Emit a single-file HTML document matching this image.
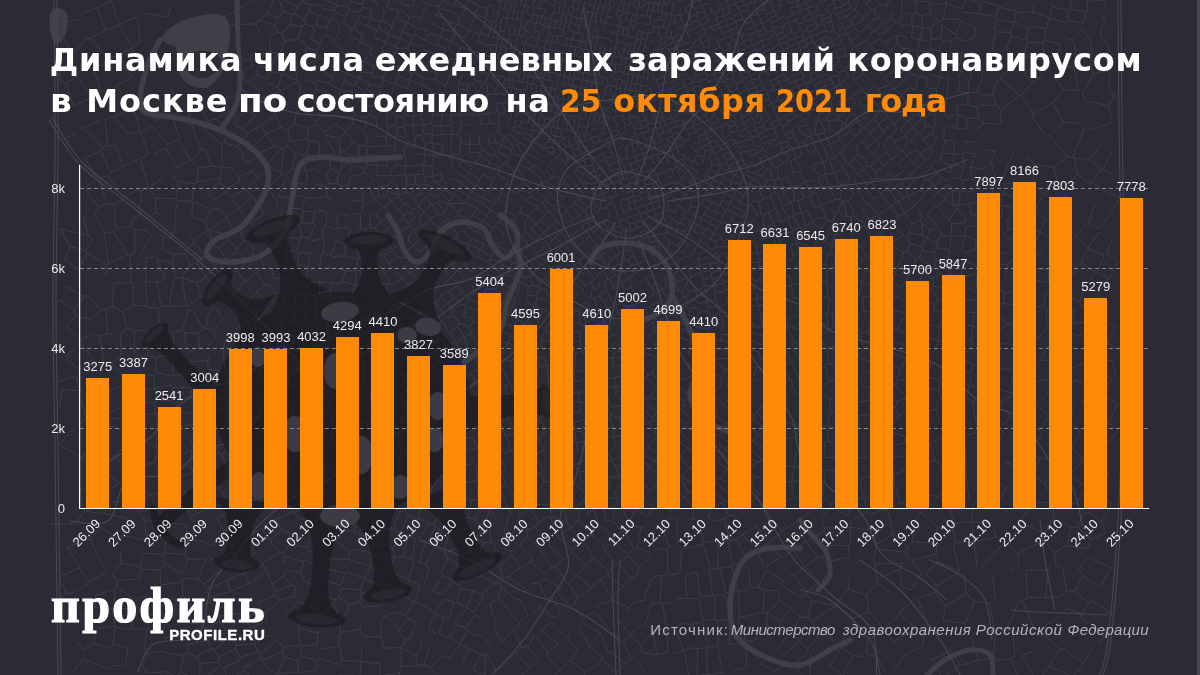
<!DOCTYPE html>
<html lang="ru"><head><meta charset="utf-8"><title>Динамика числа ежедневных заражений коронавирусом в Москве</title>
<style>
html,body{margin:0;padding:0;}
body{width:1200px;height:675px;overflow:hidden;background:#2a2b35;position:relative;font-family:"Liberation Sans",sans-serif;}
#bg,#chart{position:absolute;left:0;top:0;width:1200px;height:675px;}
.lb{font-family:"Liberation Sans",sans-serif;font-size:13px;fill:#ebebeb;}
h1{position:absolute;left:0;top:40px;width:1200px;height:82px;margin:0;font-family:"DejaVu Sans","Liberation Sans",sans-serif;font-weight:bold;font-size:32px;line-height:41px;color:#fff;white-space:nowrap;}
h1 span,.src span{position:absolute;display:block;transform-origin:0 0;}
h1 .o{color:#ff8a05;}
.logo{position:absolute;left:51.10px;top:580px;font-family:"Liberation Serif",serif;font-weight:bold;font-size:50px;line-height:50px;color:#fff;letter-spacing:2.30px;-webkit-text-stroke:1.2px #fff;white-space:nowrap;}
.site{position:absolute;left:169.2px;top:626px;font-family:"Liberation Sans",sans-serif;font-weight:bold;font-size:15px;line-height:18px;color:#fff;letter-spacing:0.53px;white-space:nowrap;-webkit-text-stroke:0.35px #fff;}
.src{position:absolute;left:0;top:621px;width:1200px;height:18px;font-family:"Liberation Sans",sans-serif;font-size:15px;line-height:18px;color:#b4b4b8;white-space:nowrap;}
.src .i{font-style:italic;}
</style></head>
<body>
<svg id="bg" viewBox="0 0 1200 675">
<g fill="#3f4047">
<path d="M180.0,22.0 C185.0,19.7 192.2,17.3 198.0,16.0 C203.8,14.7 210.5,13.8 215.0,14.0 C219.5,14.2 222.7,15.2 225.0,17.0 C227.3,18.8 228.2,21.5 229.0,25.0 C229.8,28.5 230.2,33.8 230.0,38.0 C229.8,42.2 228.8,46.3 228.0,50.0 C227.2,53.7 226.0,56.3 225.0,60.0 C224.0,63.7 224.2,67.8 222.0,72.0 C219.8,76.2 215.7,82.3 212.0,85.0 C208.3,87.7 204.0,88.2 200.0,88.0 C196.0,87.8 191.3,86.3 188.0,84.0 C184.7,81.7 181.7,78.0 180.0,74.0 C178.3,70.0 178.7,64.3 178.0,60.0 C177.3,55.7 177.7,50.7 176.0,48.0 C174.3,45.3 170.3,45.7 168.0,44.0 C165.7,42.3 162.0,40.3 162.0,38.0 C162.0,35.7 165.0,32.7 168.0,30.0 C171.0,27.3 175.0,24.3 180.0,22.0Z"/>
<path d="M50.0,14.0 C51.2,9.3 55.2,8.0 58.0,8.0 C60.8,8.0 65.7,10.0 67.0,14.0 C68.3,18.0 67.5,27.0 66.0,32.0 C64.5,37.0 60.5,43.3 58.0,44.0 C55.5,44.7 52.3,41.0 51.0,36.0 C49.7,31.0 48.8,18.7 50.0,14.0Z"/>
</g>
<path d="M186.0,56.0 C188.3,53.3 195.3,51.5 200.0,51.0 C204.7,50.5 210.5,51.3 214.0,53.0 C217.5,54.7 220.5,58.0 221.0,61.0 C221.5,64.0 219.7,68.2 217.0,71.0 C214.3,73.8 209.0,77.2 205.0,78.0 C201.0,78.8 196.2,77.8 193.0,76.0 C189.8,74.2 187.2,70.3 186.0,67.0 C184.8,63.7 183.7,58.7 186.0,56.0Z" fill="#2a2b35"/>
<g fill="none" stroke="#3f4047" stroke-linecap="round" stroke-linejoin="round">
<path d="M237.0,0.0 C237.2,6.7 237.5,26.7 238.0,40.0 C238.5,53.3 240.3,69.2 240.0,80.0 C239.7,90.8 239.0,97.0 236.0,105.0 C233.0,113.0 224.3,124.2 222.0,128.0" stroke-width="5"/>
<path d="M160.0,40.0 C157.8,44.5 150.3,57.0 147.0,67.0 C143.7,77.0 140.0,92.3 140.0,100.0 C140.0,107.7 141.5,110.2 147.0,113.0 C152.5,115.8 164.2,115.3 173.0,117.0 C181.8,118.7 191.0,120.3 200.0,123.0 C209.0,125.7 218.7,129.0 227.0,133.0 C235.3,137.0 243.3,141.3 250.0,147.0 C256.7,152.7 264.2,160.3 267.0,167.0 C269.8,173.7 268.7,180.3 267.0,187.0 C265.3,193.7 261.5,200.2 257.0,207.0 C252.5,213.8 247.0,222.5 240.0,228.0 C233.0,233.5 220.5,235.5 215.0,240.0 C209.5,244.5 205.3,251.3 207.0,255.0 C208.7,258.7 217.0,261.5 225.0,262.0 C233.0,262.5 246.7,260.8 255.0,258.0 C263.3,255.2 269.7,250.3 275.0,245.0 C280.3,239.7 284.2,233.5 287.0,226.0 C289.8,218.5 289.8,210.2 292.0,200.0 C294.2,189.8 295.0,172.2 300.0,165.0 C305.0,157.8 313.7,157.8 322.0,157.0 C330.3,156.2 337.0,160.0 350.0,160.0 C363.0,160.0 391.7,157.5 400.0,157.0" stroke-width="5.5"/>
<path d="M388.0,215.0 C389.7,217.8 395.2,225.8 398.0,232.0 C400.8,238.2 401.7,247.0 405.0,252.0 C408.3,257.0 413.5,262.3 418.0,262.0 C422.5,261.7 428.3,255.0 432.0,250.0 C435.7,245.0 435.3,236.7 440.0,232.0 C444.7,227.3 452.8,222.7 460.0,222.0 C467.2,221.3 477.7,224.2 483.0,228.0 C488.3,231.8 488.3,240.0 492.0,245.0 C495.7,250.0 500.8,258.0 505.0,258.0 C509.2,258.0 515.3,250.0 517.0,245.0 C518.7,240.0 517.8,233.0 515.0,228.0 C512.2,223.0 502.5,217.2 500.0,215.0" stroke-width="5.5"/>
<path d="M517.0,245.0 C517.5,249.2 521.5,260.8 520.0,270.0 C518.5,279.2 511.7,289.2 508.0,300.0 C504.3,310.8 504.3,325.3 498.0,335.0 C491.7,344.7 477.7,351.8 470.0,358.0 C462.3,364.2 455.0,369.7 452.0,372.0" stroke-width="5.5"/>
<path d="M590.0,262.0 C591.7,259.7 594.2,251.2 600.0,248.0 C605.8,244.8 616.3,242.7 625.0,243.0 C633.7,243.3 644.8,245.8 652.0,250.0 C659.2,254.2 664.7,260.5 668.0,268.0 C671.3,275.5 673.3,287.7 672.0,295.0 C670.7,302.3 665.3,307.5 660.0,312.0 C654.7,316.5 643.3,320.3 640.0,322.0" stroke-width="5.5"/>
<path d="M672.0,295.0 C675.0,300.8 685.3,318.3 690.0,330.0 C694.7,341.7 700.0,354.2 700.0,365.0 C700.0,375.8 689.2,385.8 690.0,395.0 C690.8,404.2 698.3,413.8 705.0,420.0 C711.7,426.2 725.8,430.0 730.0,432.0" stroke-width="5.5"/>
<path d="M800.0,548.0 C795.0,548.0 778.7,546.7 770.0,548.0 C761.3,549.3 753.8,551.2 748.0,556.0 C742.2,560.8 738.0,568.0 735.0,577.0 C732.0,586.0 729.7,600.0 730.0,610.0 C730.3,620.0 731.2,629.2 737.0,637.0 C742.8,644.8 754.5,652.3 765.0,657.0 C775.5,661.7 789.2,666.2 800.0,665.0 C810.8,663.8 821.7,654.2 830.0,650.0 C838.3,645.8 846.7,641.7 850.0,640.0" stroke-width="5.5"/>
<path d="M800.0,520.0 C802.0,522.5 807.7,529.7 812.0,535.0 C816.3,540.3 823.0,545.3 826.0,552.0 C829.0,558.7 831.3,568.7 830.0,575.0 C828.7,581.3 820.0,587.5 818.0,590.0" stroke-width="5"/>
<path d="M927.0,675.0 C930.0,672.5 937.8,664.2 945.0,660.0 C952.2,655.8 962.5,650.8 970.0,650.0 C977.5,649.2 986.2,650.8 990.0,655.0 C993.8,659.2 992.5,671.7 993.0,675.0" stroke-width="5"/>
</g>
<path d="M73.3,19.9L77.7,20.4M77.7,20.4L83.8,12.3M83.8,12.3L97.1,7.5M1102.8,637.5L1099.0,644.3M1083.2,663.6L1093.1,647.1M1064.2,648.5L1083.2,663.6M73.3,19.9L57.4,26.5M1040.3,678.6L1048.7,666.2M1048.7,666.2L1073.1,676.5M1064.2,648.5L1060.0,649.7M1083.2,664.3L1073.1,676.5M1060.0,649.7L1048.7,666.0M841.1,675.1L842.7,675.5M1111.9,503.1L1101.7,521.2M1101.7,521.2L1104.8,533.2M1117.8,430.6L1108.7,422.4M1108.7,422.4L1117.6,403.7M960.3,665.0L950.1,650.2M960.3,665.0L942.2,678.9M942.2,678.9L932.9,659.7M950.1,650.2L932.9,659.7M943.1,620.7L945.4,606.3M928.4,627.0L917.7,598.3M945.4,606.3L935.2,592.8M935.2,592.8L917.7,598.3M965.4,623.5L943.1,620.7M973.8,632.9L971.9,638.5M965.4,623.5L974.4,601.2M945.4,606.3L966.2,593.5M966.2,593.5L974.4,601.2M994.0,627.6L989.7,603.7M974.4,601.2L989.7,603.7M97.1,7.5L105.6,29.9M86.4,38.2L91.1,38.3M105.6,29.9L91.1,38.3M1033.8,650.9L1022.2,655.4M1040.3,678.6L1033.6,675.8M1022.2,655.4L1033.6,675.8M1102.8,637.5L1102.1,631.5M1081.9,618.5L1102.1,631.5M1111.2,567.7L1099.7,587.4M1093.0,600.7L1113.4,615.4M885.8,673.5L877.2,656.3M877.2,656.3L866.2,653.5M842.7,675.5L853.0,655.6M853.0,655.6L862.2,656.3M1103.5,168.9L1112.4,150.1M1103.5,168.9L1112.6,174.4M1103.5,168.9L1101.1,169.2M1106.3,191.7L1091.5,182.1M1101.1,169.2L1091.5,182.1M1106.8,342.4L1121.3,352.3M1103.1,343.1L1094.7,359.2M1094.7,359.2L1112.6,361.0M961.4,665.2L978.1,660.2M971.9,638.5L978.1,660.2M950.5,647.2L950.1,650.2M995.2,628.3L993.7,657.5M995.2,628.3L1006.8,629.0M1012.7,632.6L1006.8,629.0M1012.7,632.6L1014.8,655.3M1014.8,655.3L1011.2,658.7M1011.2,658.7L999.1,660.1M999.1,660.1L993.7,657.5M994.0,627.6L995.2,628.3M978.6,660.5L993.7,657.5M995.5,598.4L989.7,603.7M1019.0,601.1L1006.8,629.0M1033.6,675.8L1017.0,675.1M1017.0,675.1L1011.2,658.7M901.8,656.6L902.1,660.2M901.8,656.6L922.8,645.6M889.5,674.3L902.1,660.2M924.4,629.5L922.8,645.6M924.4,629.5L915.7,628.3M915.7,628.3L893.9,641.7M915.8,671.5L915.7,670.1M932.9,659.7L929.5,658.5M84.2,188.2L98.4,207.3M84.2,188.2L98.1,178.8M99.0,178.9L107.0,203.8M98.4,207.3L107.0,203.8M378.7,374.6L388.7,374.1M378.7,374.6L375.4,377.3M389.5,375.2L388.7,374.1M392.2,385.5L391.0,388.0M391.0,388.0L377.0,390.8M375.4,377.3L377.0,390.8M391.0,388.0L392.9,394.0M392.9,394.0L391.9,404.2M379.5,403.7L381.3,404.8M377.0,390.8L376.1,392.1M1108.7,422.4L1104.3,422.7M1106.5,397.8L1117.6,403.7M1106.5,397.8L1091.9,410.0M1104.3,422.7L1093.7,417.4M1091.9,410.0L1093.7,417.4M97.1,7.4L111.2,0.8M1081.9,618.5L1081.7,613.7M1093.0,600.7L1088.7,602.9M1088.7,602.9L1081.7,613.7M1099.3,587.6L1082.9,575.9M1082.9,575.9L1074.9,591.6M1088.7,602.9L1074.9,591.6M1078.9,568.3L1088.1,557.5M1066.5,545.8L1054.4,552.5M1066.5,545.8L1087.3,548.9M1063.1,568.9L1055.5,565.0M1055.5,565.0L1054.4,552.5M1111.2,567.7L1088.1,557.5M1082.9,575.9L1078.9,568.3M1074.9,591.6L1066.5,590.7M1066.5,590.7L1063.1,568.9M1091.5,539.4L1104.8,533.2M1091.5,539.4L1087.3,548.9M1119.6,197.4L1106.5,192.2M1056.3,347.1L1070.6,344.3M1056.3,347.1L1058.6,333.7M1070.6,344.3L1071.8,334.2M1071.8,334.2L1058.6,333.7M1072.6,347.4L1070.6,344.3M1084.9,348.2L1086.2,336.8M1086.2,336.8L1072.2,333.8M1072.6,347.4L1067.6,366.7M1067.6,366.7L1071.2,368.6M1084.9,348.2L1091.6,360.1M1071.2,368.6L1091.6,360.1M1105.1,394.7L1111.5,378.6M1105.1,394.7L1090.2,386.6M1111.5,378.6L1096.9,373.8M1090.2,386.6L1096.9,373.8M1106.5,397.8L1105.1,394.7M1116.1,376.4L1112.6,361.0M1092.6,360.3L1096.9,373.8M1081.7,613.7L1067.3,608.6M1051.9,622.4L1067.3,608.6M1066.5,590.7L1060.2,596.9M1027.4,597.4L1045.3,597.4M1027.4,597.4L1022.7,600.7M1022.7,600.7L1033.9,629.2M1048.9,622.4L1040.1,630.6M1033.9,629.2L1038.4,631.0M1040.1,630.6L1038.4,631.0M1026.0,570.2L1027.4,597.4M1026.0,570.2L1048.3,570.3M1048.3,570.3L1045.3,597.4M1019.0,601.1L1022.7,600.7M1012.7,632.6L1033.9,629.2M1060.2,596.9L1045.4,597.4M1051.9,622.4L1048.9,622.4M1060.0,649.7L1040.1,630.6M917.7,598.3L916.0,597.6M916.0,597.6L899.8,612.2M915.7,628.3L900.0,613.5M899.8,612.2L900.0,613.5M1007.4,264.7L1005.2,277.9M1007.4,264.7L992.3,264.7M992.3,275.6L992.3,264.7M58.8,444.7L75.4,426.9M90.2,539.9L82.7,539.0M90.2,539.9L96.9,553.7M82.7,539.0L67.8,548.3M79.2,565.7L67.8,548.3M66.9,358.9L66.8,355.0M66.8,355.0L50.6,340.2M57.4,26.5L70.9,51.5M56.1,55.5L70.9,51.5M86.4,38.2L74.5,51.8M70.9,51.5L74.5,51.8M108.0,59.8L91.1,38.3M108.0,59.8L106.6,62.4M81.9,67.7L93.9,68.9M106.6,62.4L93.9,68.9M113.7,456.6L101.6,468.8M101.6,468.8L99.8,469.3M99.8,469.3L83.1,460.7M91.7,444.2L82.2,457.6M82.2,457.6L83.1,460.7M95.4,486.1L104.8,495.6M95.4,486.1L99.8,469.3M118.2,482.6L104.8,495.6M118.2,482.6L101.6,468.8M95.4,486.1L80.2,488.7M58.8,444.7L82.2,457.6M73.0,672.8L83.2,659.3M75.5,641.5L84.2,649.4M83.2,659.3L107.2,668.9M65.9,547.9L67.8,548.3M79.2,565.7L78.8,567.8M78.8,567.8L59.1,577.1M84.2,649.4L93.3,643.7M93.3,643.7L97.4,628.2M82.7,614.3L88.3,613.9M379.5,403.7L368.4,408.1M365.2,392.6L376.1,392.1M365.2,392.6L365.0,406.7M368.4,408.1L365.0,406.7M365.2,392.6L362.7,391.1M362.7,391.1L363.4,375.8M156.7,473.3L163.7,485.6M157.3,466.0L174.6,467.1M176.2,478.9L174.6,467.1M210.8,507.4L205.4,495.3M210.8,507.4L190.5,516.6M188.8,503.9L188.0,511.8M190.5,516.6L188.0,511.8M196.9,483.3L204.7,495.0M185.7,489.6L183.7,495.1M183.7,495.1L188.8,503.9M361.3,677.8L380.0,677.1M400.8,678.6L399.4,673.1M399.4,673.1L380.5,675.8M380.5,675.8L380.0,677.1M499.5,669.3L495.7,670.1M487.2,677.4L495.7,670.1M817.6,557.2L823.1,557.6M817.6,557.2L806.2,541.8M823.1,557.6L830.2,545.0M806.2,541.8L823.9,530.8M830.2,545.0L823.9,530.8M1091.5,539.4L1077.6,527.1M1066.5,545.8L1071.3,527.6M1077.6,527.1L1071.3,527.6M108.0,59.8L118.5,54.7M105.6,29.9L107.7,30.1M1103.1,343.1L1092.7,332.4M1086.2,336.8L1092.0,332.3M1073.1,323.2L1085.9,322.0M1092.0,332.3L1085.9,322.0M1087.8,387.3L1074.5,379.6M1087.8,387.3L1082.2,403.3M1074.5,379.6L1063.8,395.9M1063.8,395.9L1075.3,404.7M1091.9,410.0L1082.2,403.3M1079.8,430.5L1068.8,422.2M1068.8,422.2L1075.3,404.7M925.4,297.9L929.2,289.3M925.4,297.9L925.8,301.0M938.2,300.1L933.7,303.1M938.2,300.1L930.6,288.8M929.2,289.3L930.6,288.8M925.8,301.0L933.7,303.1M1002.2,317.5L1006.3,323.9M1002.2,317.5L987.0,314.6M1006.3,323.9L996.4,334.2M990.9,334.2L996.4,334.2M1058.6,333.7L1051.7,325.8M1073.0,323.3L1058.8,320.2M1051.7,325.8L1058.8,320.2M1043.5,305.9L1031.1,307.6M1043.5,305.9L1046.0,308.4M1031.1,307.6L1030.1,317.4M1046.8,323.1L1046.0,308.4M1106.8,342.4L1116.3,326.6M1092.7,332.4L1105.9,321.0M1116.3,326.6L1105.9,321.0M1105.9,321.0L1103.4,313.9M1004.1,293.1L1001.3,290.0M1004.1,293.1L1017.4,289.7M1018.1,282.0L1017.4,289.7M1012.3,260.0L1013.8,260.1M1013.8,260.1L1020.4,254.1M1020.4,254.1L1022.2,241.5M1007.6,239.6L1022.2,241.5M992.0,252.0L986.9,258.4M992.0,252.0L1007.3,253.3M1007.4,264.7L1012.3,260.0M50.3,524.4L74.9,523.8M74.9,523.8L85.3,510.7M80.2,488.7L82.1,506.9M90.2,539.9L100.5,526.7M99.8,513.7L85.3,510.7M100.5,513.1L105.2,501.9M104.8,495.6L105.2,501.9M100.5,526.7L118.9,538.6M117.5,545.9L118.9,538.6M118.2,482.6L125.7,481.7M105.2,501.9L128.6,501.0M128.6,501.0L125.7,481.7M115.4,455.9L113.7,456.6M115.4,455.9L129.8,477.7M167.4,508.7L188.0,511.8M167.1,508.2L166.2,496.5M163.7,485.6L162.6,491.8M139.3,480.9L148.2,495.3M162.6,491.8L148.2,495.3M120.4,563.2L140.3,566.5M120.4,563.2L120.9,551.7M142.7,553.5L140.3,566.5M66.8,355.0L80.7,343.4M66.1,326.1L81.2,340.7M98.4,207.3L93.9,214.0M98.1,178.8L84.9,158.5M130.5,477.5L136.6,467.0M136.6,467.0L155.7,462.2M97.4,628.2L114.6,626.4M88.3,613.9L94.9,607.3M94.9,607.3L114.0,609.2M114.6,626.4L114.8,609.8M132.2,629.0L146.7,629.2M132.2,629.0L132.1,607.8M149.4,616.5L135.0,605.4M149.4,616.5L147.4,628.8M132.1,607.8L135.0,605.4M159.0,611.2L159.4,597.9M159.0,611.2L168.9,618.4M172.9,617.9L177.1,600.2M177.1,600.2L159.4,597.9M149.4,616.5L159.0,611.2M147.4,628.8L160.8,633.1M160.8,633.1L168.9,618.4M176.0,676.1L163.4,670.9M160.1,672.9L163.4,670.9M145.6,671.9L160.1,672.9M176.0,676.1L180.9,672.7M180.9,672.7L194.7,677.9M144.7,649.8L146.7,629.2M144.7,649.8L147.8,653.2M147.8,653.2L162.6,651.4M180.9,672.7L183.2,655.2M183.2,655.2L163.7,652.5M147.8,653.2L142.6,665.4M142.6,665.4L145.6,671.9M162.6,651.4L163.7,652.5M299.9,672.7L316.0,670.2M276.5,674.9L277.6,674.1M299.9,672.7L298.7,671.6M277.6,674.1L298.7,671.6M93.3,643.7L109.5,647.4M107.2,668.9L111.6,665.5M111.6,665.5L124.1,666.0M125.8,664.8L124.1,666.0M96.9,553.8L107.4,572.6M120.4,563.2L112.4,574.0M78.8,567.8L88.8,582.2M107.4,572.6L88.8,582.2M94.9,607.3L95.0,595.8M114.0,609.2L114.9,588.9M95.0,595.8L114.9,588.9M51.8,606.9L66.5,592.3M66.5,592.3L71.4,593.6M59.1,577.1L66.5,592.3M82.7,614.3L80.1,611.3M88.4,583.9L71.4,593.6M389.5,375.2L405.1,375.1M391.4,366.1L402.1,362.8M178.6,462.5L177.7,455.8M178.6,462.5L190.0,466.8M177.7,455.8L191.8,450.5M190.0,466.8L191.8,450.5M352.5,395.5L342.5,396.3M342.5,396.3L341.5,410.8M355.3,409.5L343.4,412.1M365.0,406.7L355.8,408.9M354.7,392.9L352.5,395.5M359.4,423.8L355.3,409.5M359.4,423.8L344.4,425.8M344.4,425.8L343.4,412.1M331.5,411.1L341.5,410.8M331.5,411.1L327.6,399.3M342.5,396.3L340.7,394.9M205.4,495.3L218.5,486.9M226.1,498.0L218.5,486.9M248.0,502.4L242.5,490.3M247.9,502.6L234.3,509.3M234.3,509.3L227.6,498.4M227.6,498.4L238.9,489.1M242.5,490.3L238.9,489.1M227.6,498.4L226.1,498.0M218.5,486.9L219.0,484.8M508.2,485.9L514.7,498.0M506.3,485.7L499.7,488.7M508.1,507.9L499.7,488.7M361.3,677.8L359.9,675.3M359.9,675.3L339.0,674.9M495.7,670.1L486.0,653.8M485.2,654.0L484.8,675.8M487.1,677.4L484.8,675.8M480.5,654.8L473.2,669.8M480.5,654.8L485.2,654.0M484.8,675.8L473.2,669.8M461.8,663.4L468.8,649.1M449.4,658.8L459.6,644.4M468.8,649.1L459.9,644.4M470.9,648.7L468.8,649.1M476.1,635.8L467.3,630.2M467.3,630.2L459.9,644.4M423.8,664.9L429.0,647.8M423.8,664.9L431.0,667.4M431.0,667.4L442.7,655.4M684.2,650.8L689.1,676.0M684.2,650.8L692.9,647.6M697.2,675.3L697.6,648.6M697.2,675.3L689.1,676.0M697.6,648.6L692.9,647.6M841.1,675.1L830.0,665.4M830.0,665.4L826.4,665.7M853.0,655.6L841.4,647.5M830.0,665.4L841.4,647.5M499.5,669.3L507.5,660.8M519.9,677.9L520.2,676.6M520.2,676.6L529.9,667.7M537.8,660.8L531.0,667.5M938.2,300.1L944.9,300.2M945.9,287.9L933.3,286.1M933.3,286.1L930.6,288.8M946.3,288.6L944.9,300.2M934.1,311.5L933.7,303.1M934.1,311.5L943.9,312.4M945.6,311.1L943.9,312.4M945.6,311.1L945.7,301.1M945.7,301.1L944.9,300.2M826.4,561.8L849.4,557.4M830.2,545.0L848.2,545.8M849.4,557.4L848.2,545.8M850.3,527.4L850.6,542.0M850.3,527.4L824.6,528.1M824.6,528.1L823.9,530.8M848.2,545.8L850.6,542.0M901.8,586.7L900.3,568.7M900.3,568.7L877.3,579.9M889.3,592.7L877.9,582.7M877.9,582.7L877.3,579.9M911.3,589.9L901.8,586.7M850.6,527.1L874.0,531.0M875.4,544.8L874.0,531.0M935.2,592.8L936.5,585.8M966.2,593.5L964.2,573.6M936.5,585.8L959.9,572.0M911.3,589.9L921.8,572.5M900.3,568.7L902.5,563.5M907.2,557.9L911.4,560.7M911.4,560.7L921.8,572.5M936.5,585.8L925.5,573.2M1054.4,552.5L1044.2,540.5M1071.3,527.6L1053.7,518.3M1053.7,518.3L1044.2,532.8M1044.2,540.5L1044.2,532.8M944.6,399.8L956.0,411.3M944.6,399.8L954.0,393.2M954.0,393.2L965.4,398.4M956.0,411.3L965.4,398.4M388.8,362.2L389.6,352.3M389.6,352.3L381.5,351.7M381.5,351.7L377.1,360.3M378.7,374.6L375.3,361.2M391.4,366.1L388.8,362.2M306.0,471.3L307.2,458.4M319.3,477.0L315.7,478.6M319.3,477.0L324.2,464.4M323.6,462.9L307.2,458.4M870.8,514.1L867.1,512.5M850.6,527.1L851.5,520.3M874.0,531.0L874.8,529.5M867.1,512.5L851.5,520.3M870.8,514.1L885.6,508.9M885.6,508.9L879.2,494.3M867.1,512.5L864.8,498.5M879.2,494.3L864.8,498.5M949.6,274.7L961.1,276.4M949.4,274.6L949.6,261.2M961.1,276.4L963.0,260.5M949.6,261.2L962.7,260.0M976.7,265.9L963.0,260.5M975.6,273.7L962.2,277.3M983.5,258.6L975.4,249.7M975.4,249.7L964.4,252.8M945.9,287.9L949.6,274.7M933.3,286.1L933.0,279.2M940.5,273.5L933.0,279.2M117.4,84.8L131.6,78.2M118.8,54.6L131.6,78.2M142.5,98.9L156.5,94.1M588.3,127.2L588.4,119.9M595.1,114.0L591.8,113.6M595.1,114.0L594.0,121.5M588.5,119.9L591.8,113.6M588.3,127.2L586.8,127.7M586.8,127.7L582.6,126.5M585.1,119.5L580.0,118.2M580.0,118.2L577.7,125.0M582.4,126.5L579.0,126.1M579.0,126.1L577.7,125.0M1101.1,169.2L1089.7,159.1M1101.2,144.7L1089.7,159.1M1112.6,121.4L1093.4,129.9M1088.9,183.0L1091.5,182.1M1088.9,183.0L1077.5,174.4M1089.7,159.1L1074.2,158.2M1077.5,174.4L1074.2,158.2M1068.2,192.4L1066.2,185.6M1077.5,174.4L1066.2,185.6M1093.4,129.9L1084.5,127.4M1084.5,127.4L1072.8,157.0M1074.2,158.2L1072.8,157.0M1043.7,193.5L1056.9,180.8M1043.7,193.5L1058.6,203.2M1068.2,192.4L1058.6,203.2M1066.2,185.6L1056.9,180.8M1072.8,157.0L1067.4,156.9M1056.9,180.8L1053.6,167.1M1053.6,167.1L1067.4,156.9M1072.1,-3.5L1069.6,8.9M1051.6,3.3L1052.8,7.0M1069.6,8.9L1068.3,10.3M1068.3,10.3L1052.8,7.0M1069.6,8.9L1086.2,12.0M1068.3,10.3L1068.3,20.7M1086.2,12.0L1083.0,23.7M1083.0,23.7L1068.3,20.7M1101.3,27.8L1105.5,22.4M1101.3,27.8L1100.4,37.3M1100.4,37.3L1107.0,42.9M1108.4,66.7L1105.6,55.3M1108.9,50.4L1105.6,55.3M1110.4,75.2L1106.9,70.8M1106.9,70.8L1108.4,66.7M1107.0,42.9L1108.9,50.4M945.6,311.1L957.2,316.0M943.9,312.4L940.6,326.0M940.6,326.0L947.1,326.9M971.6,339.6L959.0,338.2M971.6,339.6L972.7,326.5M959.0,338.2L958.5,324.5M958.5,324.5L972.1,325.8M947.1,326.9L951.2,341.7M956.3,340.7L951.2,341.7M956.3,340.7L959.0,338.2M974.8,312.8L972.1,325.8M974.8,312.8L961.0,311.7M961.0,311.7L957.2,316.0M1010.0,324.1L1016.3,332.0M1010.0,324.1L1015.6,319.2M1015.6,319.2L1028.7,318.8M1028.7,318.8L1028.8,328.9M1016.3,332.0L1028.8,328.9M1010.0,324.1L1006.3,323.9M1002.2,343.0L1017.7,345.1M1016.3,332.0L1017.7,345.1M1118.0,261.5L1109.6,278.6M1088.9,311.5L1085.2,306.5M1085.2,306.5L1099.5,295.9M1103.4,313.9L1108.5,303.0M1099.5,295.9L1108.5,303.0M1018.1,282.0L1020.2,280.1M1013.8,260.1L1020.8,267.8M1045.2,295.1L1053.4,287.6M1048.5,282.3L1034.7,280.1M1033.0,292.6L1033.0,281.4M1034.7,280.1L1033.0,281.4M1030.8,307.3L1016.5,305.0M1030.8,307.3L1030.4,294.9M1030.4,294.9L1019.1,292.5M1015.6,319.2L1016.5,305.0M1043.5,305.9L1045.2,295.1M1017.4,289.7L1019.1,292.5M1020.2,280.1L1033.0,281.4M1004.3,303.6L1004.1,293.1M1004.3,303.6L1016.3,304.8M1118.0,261.5L1106.7,254.1M1106.7,254.1L1112.1,239.5M115.4,455.9L118.6,451.3M104.7,431.8L92.0,442.7M104.7,431.8L105.5,428.9M77.8,426.4L85.7,418.1M105.5,428.9L85.7,418.1M81.5,401.4L86.1,415.6M86.1,415.6L85.7,418.1M59.7,407.5L62.3,389.4M141.8,539.4L123.0,535.6M145.8,534.5L145.2,521.0M123.0,535.6L127.1,518.2M145.2,521.0L138.6,511.3M118.9,538.6L123.0,535.6M165.3,521.0L145.2,521.0M165.3,521.0L166.1,522.5M164.4,537.9L145.8,534.5M100.5,513.1L127.1,518.2M167.4,508.7L165.3,521.0M167.1,508.2L138.6,511.3M128.6,501.0L137.1,510.5M148.2,495.3L137.7,510.6M234.3,509.3L233.9,510.6M233.9,510.6L217.3,517.5M164.5,564.4L163.5,554.2M164.5,564.4L182.7,573.2M182.7,573.2L187.8,559.4M164.4,553.0L185.0,554.2M187.8,559.4L185.0,554.2M143.0,553.2L163.5,554.2M165.7,539.7L164.4,537.9M165.7,539.7L164.4,553.0M140.3,566.5L141.1,569.1M164.5,564.4L160.1,570.0M160.1,570.0L141.1,569.1M239.8,523.8L223.8,531.3M217.3,517.5L217.0,519.7M217.0,519.7L223.8,531.3M66.1,326.1L75.3,316.4M81.2,340.7L93.1,333.4M91.5,319.5L75.3,316.4M103.1,147.7L101.0,150.9M103.1,147.7L83.6,128.1M101.0,150.9L85.0,158.3M83.6,128.1L79.6,128.2M75.9,133.7L65.1,138.2M100.5,90.5L110.4,90.1M100.5,90.5L92.6,96.2M92.6,96.2L92.0,97.4M105.1,119.3L114.2,116.8M93.9,68.9L100.5,90.5M117.4,84.8L116.6,86.2M116.6,86.2L110.4,90.1M81.9,67.7L77.0,76.5M77.0,76.5L92.6,96.2M116.6,86.2L132.5,106.4M132.5,106.4L114.5,116.4M103.1,147.7L107.8,145.3M83.6,128.1L103.0,119.0M107.8,145.3L105.1,119.3M142.5,98.9L139.1,103.5M133.5,106.4L139.1,103.5M228.6,635.6L214.7,650.2M233.4,639.2L235.7,645.3M235.7,645.3L235.4,649.1M235.4,649.1L218.9,657.1M214.7,650.2L218.9,657.1M219.4,616.1L239.7,613.1M219.4,616.1L219.4,621.7M240.9,616.4L239.7,613.1M240.9,616.4L227.1,631.8M227.1,631.8L219.4,621.7M250.9,627.6L246.1,620.3M250.9,627.6L250.7,629.4M228.6,635.6L227.2,632.8M235.7,645.3L254.8,643.8M255.5,639.3L254.8,643.8M276.5,674.9L265.2,665.8M177.0,619.9L178.7,622.1M198.7,621.1L194.5,609.6M198.7,621.1L198.5,623.7M191.6,607.7L194.5,609.6M178.7,622.1L198.5,623.7M163.9,638.6L179.9,634.5M229.4,678.5L226.5,676.1M250.8,677.1L244.4,670.6M229.4,678.5L244.4,670.6M329.5,544.4L311.8,536.3M326.6,553.9L307.4,550.8M311.8,536.3L306.7,548.1M317.5,523.7L311.8,536.3M317.5,523.7L336.5,529.4M335.1,540.3L329.5,544.4M335.1,540.3L336.8,530.2M291.9,621.0L304.6,603.7M304.6,603.7L298.7,602.4M291.2,620.6L287.5,614.1M298.7,602.4L287.5,614.1M113.0,644.9L127.7,647.3M113.0,644.9L115.2,627.2M131.1,629.8L115.2,627.2M129.9,645.6L127.7,647.3M125.8,664.8L127.7,647.3M109.5,647.4L113.0,644.9M114.8,609.8L132.1,607.8M116.6,580.5L116.2,586.6M116.6,580.5L138.8,578.8M116.2,586.6L136.3,600.9M140.0,580.9L138.8,578.8M140.2,596.6L136.3,600.9M112.4,574.0L116.6,580.5M141.1,569.1L138.8,578.8M160.6,583.4L160.1,570.0M161.6,584.8L159.4,597.9M161.6,584.8L160.6,583.4M159.4,597.9L140.2,596.6M418.1,383.7L415.0,374.2M418.1,383.7L417.0,385.8M417.0,385.8L406.8,387.8M415.0,374.2L405.3,375.2M405.3,375.2L403.7,384.7M426.8,371.1L418.1,368.9M428.9,381.9L418.1,383.7M418.1,368.9L415.0,374.2M392.2,385.5L403.7,384.7M392.9,394.0L405.8,394.0M405.8,394.0L406.8,387.8M256.1,272.6L246.5,281.1M256.7,272.6L265.3,284.9M257.2,291.6L265.3,284.9M262.0,259.9L263.4,266.8M276.3,265.5L272.0,269.5M256.7,272.6L263.4,266.8M273.3,277.9L272.0,269.5M268.7,284.6L265.3,284.9M246.0,261.9L237.3,271.2M246.5,281.1L244.7,281.1M237.3,271.2L244.7,281.1M330.3,412.4L332.0,427.5M330.3,412.4L331.5,411.1M339.8,470.7L339.4,458.3M339.8,470.7L350.7,471.3M339.4,458.3L349.8,457.5M337.7,472.2L339.8,470.7M337.7,472.2L324.2,464.4M336.2,456.6L339.4,458.3M293.9,475.2L288.0,466.8M293.4,479.1L277.7,485.9M277.2,485.6L274.2,473.7M274.2,473.7L288.0,466.8M327.6,399.3L324.6,397.2M338.1,382.4L326.7,384.0M324.6,397.2L326.7,384.0M271.9,354.2L276.2,356.0M276.2,356.0L279.5,367.7M261.2,367.4L278.6,368.6M279.5,367.7L278.6,368.6M204.8,462.2L213.3,471.6M204.8,462.2L192.6,469.5M197.1,481.9L192.5,472.4M197.1,481.9L212.9,475.2M212.9,475.2L213.3,471.6M192.6,469.5L192.5,472.4M196.9,483.3L197.1,481.9M176.8,479.0L192.5,472.4M225.7,464.1L233.8,475.1M233.8,475.1L232.7,479.1M174.6,467.1L178.6,462.5M190.0,466.8L192.6,469.5M277.2,485.6L264.2,492.1M264.2,492.1L256.6,481.1M268.8,470.8L256.6,481.1M248.0,502.4L263.6,495.5M264.2,492.1L263.6,495.5M256.6,481.1L254.6,480.5M204.9,461.9L218.6,452.9M204.9,461.9L200.1,451.3M200.1,451.3L212.5,441.5M218.6,452.9L213.7,442.0M213.7,442.0L212.5,441.5M221.6,454.6L225.7,463.6M221.6,454.6L218.6,452.9M191.8,450.5L193.2,448.9M193.2,448.9L200.1,451.3M193.2,448.9L190.6,441.0M190.6,441.0L193.1,437.2M210.8,438.8L212.5,441.5M235.7,444.1L221.6,454.6M235.7,444.1L229.8,435.0M226.6,408.9L227.3,399.7M226.6,408.9L210.9,411.2M210.9,411.2L208.1,400.8M209.2,399.1L208.1,400.8M209.2,399.1L226.0,398.0M226.0,398.0L227.3,399.7M209.6,413.4L209.7,424.1M209.1,424.9L194.3,425.6M191.7,413.4L193.6,411.0M194.9,401.4L193.6,411.0M194.9,401.4L208.1,400.8M193.1,437.2L194.3,425.6M210.8,438.8L209.1,424.9M470.9,648.7L480.5,654.8M490.4,649.4L491.0,646.5M479.6,635.0L476.1,635.8M479.6,635.0L483.7,636.5M483.7,636.5L491.0,646.5M445.7,675.4L454.5,678.8M461.8,663.4L462.9,665.0M441.0,677.4L433.9,673.3M445.7,675.4L441.0,677.4M431.0,667.4L433.9,673.3M442.7,655.4L449.1,658.8M668.0,652.0L657.0,654.5M656.0,657.1L656.2,655.2M683.8,650.7L672.6,653.5M683.8,650.7L674.7,627.7M674.7,627.7L666.9,628.1M666.5,628.4L668.0,652.0M653.0,630.6L666.5,628.4M653.0,630.6L652.5,633.0M652.5,633.0L657.0,654.5M652.5,633.0L640.6,645.1M642.1,652.3L640.6,645.1M642.1,652.3L656.2,655.2M810.1,677.2L810.9,653.5M804.1,676.8L793.4,665.2M804.1,676.8L810.1,677.2M793.4,665.2L808.3,651.8M841.4,647.5L839.8,643.4M744.6,642.4L747.2,667.0M744.6,642.4L729.8,644.8M747.2,667.0L737.0,669.5M734.0,671.8L737.0,669.5M717.4,646.5L722.5,672.0M717.4,646.5L708.5,646.8M707.0,647.6L708.5,646.8M707.0,647.6L707.3,674.0M722.5,672.0L710.6,674.9M707.3,674.0L710.6,674.9M698.0,675.5L707.3,674.0M697.6,648.6L707.0,647.6M724.3,672.6L722.5,672.0M708.5,646.8L702.3,622.0M689.9,624.7L702.3,622.0M781.7,531.1L796.2,521.8M781.7,531.1L781.2,532.5M796.2,521.8L805.7,541.7M805.7,541.7L794.8,548.6M794.1,575.7L804.4,567.1M794.1,575.7L806.7,591.8M806.7,591.8L819.6,582.3M819.6,582.3L804.9,567.1M817.6,557.2L804.9,567.1M794.1,550.2L804.4,567.1M794.1,550.2L794.8,548.6M769.2,542.5L780.4,557.4M769.2,542.5L781.2,532.5M794.1,550.2L781.5,557.8M794.1,575.7L788.5,575.9M618.0,619.7L630.3,634.1M630.3,634.1L641.2,624.8M653.0,630.6L645.1,624.4M630.3,634.1L629.9,635.3M629.9,635.3L640.6,645.1M634.3,658.1L644.8,671.0M1003.7,304.2L989.1,302.9M1001.3,290.0L990.4,290.1M989.1,302.9L990.4,290.1M987.0,314.6L982.9,308.7M986.3,327.8L972.7,326.5M974.8,312.8L980.7,308.5M982.9,308.7L980.7,308.5M963.2,286.4L974.7,291.0M963.2,286.4L959.5,290.7M959.5,290.7L959.9,300.7M974.2,299.1L960.3,301.2M962.2,277.3L963.2,286.4M961.0,311.7L960.3,301.2M980.7,308.5L974.2,299.1M1068.8,422.2L1062.9,422.8M1062.9,422.8L1053.2,415.8M1063.8,395.9L1061.6,396.0M1061.6,396.0L1053.2,415.8M826.4,561.8L828.5,571.5M828.5,571.5L821.7,582.1M870.9,612.6L883.8,629.2M869.0,612.1L853.1,618.5M868.0,640.2L883.8,630.8M868.0,640.2L853.0,626.3M853.0,626.3L853.1,618.5M866.4,595.2L869.0,612.1M866.4,595.2L877.9,582.7M900.0,613.5L883.8,629.2M866.2,653.5L868.0,640.2M893.9,641.7L883.8,630.8M839.8,643.4L853.0,626.3M877.1,579.7L875.2,563.8M875.2,563.8L873.2,560.0M902.5,563.5L875.2,563.8M866.4,595.2L848.0,589.2M848.0,589.2L849.9,577.4M875.2,545.7L876.4,548.7M876.4,548.7L873.2,560.0M906.3,552.4L907.2,557.9M906.3,552.4L876.4,548.7M838.1,601.2L848.0,589.2M807.7,514.3L799.8,498.5M808.9,514.3L815.1,497.5M799.8,498.5L808.1,490.9M796.4,521.4L807.7,514.3M824.6,528.1L821.2,518.6M995.5,598.4L992.2,574.8M1044.2,540.5L1017.7,553.5M1017.7,553.5L1018.8,564.7M1010.2,571.0L1018.8,564.7M937.0,546.5L936.1,554.3M936.1,554.3L938.7,562.1M953.4,545.3L959.5,571.5M959.5,571.5L938.7,562.1M911.4,560.7L936.1,554.3M925.5,573.2L938.7,562.1M1027.7,449.4L1017.7,440.1M1028.4,452.2L1017.0,466.6M1017.0,466.6L1005.0,461.8M1017.7,440.1L1014.0,440.6M955.6,542.3L952.4,525.1M955.6,542.3L953.4,545.3M952.4,525.1L937.7,527.2M937.0,546.5L934.1,543.0M934.1,543.0L937.7,527.2M1079.8,430.5L1080.3,432.8M1080.3,432.8L1071.6,447.6M1062.9,422.8L1053.7,440.4M1071.6,447.6L1066.0,448.4M1005.4,488.4L1007.3,488.1M1005.4,488.4L992.2,476.2M1017.0,466.6L1018.7,470.5M335.1,482.3L348.0,486.0M335.1,482.3L332.2,483.7M332.2,483.7L329.6,497.4M348.1,486.3L343.0,500.9M343.0,500.9L333.8,504.8M329.6,497.4L331.7,504.0M354.1,476.0L353.5,474.1M353.5,474.1L350.7,471.3M319.3,477.0L332.2,483.7M315.7,478.6L311.3,488.8M311.3,488.8L329.6,497.4M363.0,495.8L359.1,506.0M363.0,495.8L348.1,486.3M359.1,506.0L343.0,500.9M368.0,519.3L360.2,509.9M368.0,519.3L357.7,534.0M357.7,534.0L355.2,531.9M355.2,531.9L353.7,516.5M353.7,516.5L360.2,509.9M339.7,517.9L353.7,516.5M336.8,530.2L355.2,531.9M339.7,517.9L333.8,504.8M359.1,506.0L360.2,509.8M277.7,485.9L285.1,497.4M285.1,497.4L298.9,490.1M298.9,490.1L305.7,493.2M815.1,497.5L822.6,496.2M808.6,483.9L823.5,484.8M822.6,496.2L823.5,484.8M925.7,272.8L933.0,279.2M925.7,272.8L923.2,273.5M923.2,273.5L918.1,284.0M925.4,297.9L913.4,294.2M918.4,284.7L913.3,293.7M769.3,515.7L781.7,531.1M643.2,355.5L641.7,356.7M643.2,355.5L646.1,347.1M646.1,347.1L641.4,339.6M636.2,343.5L641.2,356.9M636.2,343.5L641.4,339.6M629.9,366.5L629.9,368.6M638.3,358.9L647.9,375.1M647.9,375.1L645.9,377.6M629.9,368.6L645.6,377.7M651.4,393.5L656.8,389.1M645.9,377.6L657.1,388.3M645.6,377.7L641.3,384.3M629.9,368.6L627.5,374.6M637.6,386.1L641.3,384.3M402.1,362.8L403.0,361.7M418.1,368.9L416.9,364.4M416.9,364.4L403.0,361.7M170.8,5.4L168.2,17.4M146.5,13.2L168.2,17.4M607.8,185.1L613.0,182.9M607.8,185.1L608.7,190.6M613.1,183.0L615.6,189.0M620.1,181.1L622.0,187.1M620.1,181.1L613.1,183.0M622.0,187.1L615.6,189.0M623.7,192.1L622.4,187.4M617.7,195.7L616.5,195.2M616.5,195.2L615.4,189.5M553.0,153.5L543.5,149.8M553.0,153.5L553.9,150.1M553.9,150.1L553.0,147.1M553.0,147.1L543.6,148.4M543.6,148.4L543.5,149.8M262.0,259.9L252.6,255.3M246.3,259.4L252.6,255.3M647.4,-5.0L644.9,0.7M644.9,0.7L640.9,-0.8M270.1,108.9L275.6,113.5M269.7,107.4L280.4,92.3M280.4,92.3L284.3,97.4M284.3,97.4L284.8,108.2M275.6,116.6L275.6,113.5M275.6,116.6L260.8,124.6M275.6,116.6L280.8,127.2M280.8,127.2L266.3,133.6M266.3,133.6L260.9,125.6M269.7,107.4L262.2,100.2M280.1,91.1L262.1,98.0M280.1,91.1L280.4,92.3M262.1,98.0L262.2,100.2M660.6,-3.5L656.4,-4.3M647.4,-5.0L650.9,-4.8M547.8,141.9L551.3,134.8M547.8,141.9L545.6,142.5M606.8,138.6L613.2,137.1M611.3,131.1L613.2,137.1M610.8,109.6L615.8,110.2M615.8,110.2L615.8,116.5M615.8,116.5L614.4,118.1M609.7,116.6L614.4,118.1M623.8,119.0L622.4,115.7M622.4,115.7L615.8,116.5M614.4,118.1L615.8,122.9M615.4,141.9L609.6,144.9M606.6,139.1L609.6,144.9M558.6,144.1L554.8,142.9M558.6,144.1L562.7,138.0M554.8,142.9L555.4,136.2M562.7,138.0L561.0,136.6M561.0,136.6L555.4,136.2M554.3,143.1L547.8,141.9M551.3,134.8L555.2,136.0M579.0,126.1L577.1,132.5M577.1,132.5L580.4,134.6M591.9,128.1L593.0,129.2M586.8,127.7L586.1,133.8M590.3,134.7L586.1,133.8M582.2,134.2L584.1,134.7M586.1,133.8L584.1,134.7M1049.3,135.3L1067.4,156.9M1049.3,135.3L1064.0,122.6M1064.0,122.6L1080.9,123.0M1052.6,102.8L1064.0,122.6M1032.8,118.2L1045.8,135.4M1032.8,118.2L1033.7,113.8M1033.7,113.8L1051.7,102.9M1044.4,40.6L1042.7,42.5M1044.4,40.6L1059.8,44.2M1042.7,42.5L1045.0,56.6M1045.0,56.6L1057.7,56.2M1059.8,44.2L1057.7,56.2M1061.0,66.9L1057.9,56.5M1041.9,59.8L1045.0,56.6M1041.9,59.8L1023.2,56.1M1042.7,42.5L1027.7,42.5M1023.2,56.1L1027.7,42.5M1049.4,18.2L1066.3,22.7M1049.4,18.2L1046.0,28.6M1052.8,7.0L1049.2,17.4M1068.3,20.7L1066.3,22.7M1044.4,40.6L1046.0,28.6M1104.1,-0.0L1087.6,1.6M1104.1,-0.0L1105.7,7.7M1087.6,1.6L1087.6,10.6M1086.2,12.0L1087.6,10.6M1105.5,22.4L1102.7,14.8M1086.8,0.1L1087.6,1.6M1065.8,38.2L1071.0,39.9M1082.7,28.4L1071.0,39.9M1049.2,17.4L1032.1,12.0M1031.6,26.6L1046.0,28.6M934.1,311.5L931.1,313.7M925.8,301.0L921.6,307.3M921.6,307.3L922.2,309.7M913.4,294.2L910.3,302.9M921.6,307.3L910.3,302.9M1012.1,369.5L993.5,368.6M997.2,357.2L991.1,362.5M1002.2,343.0L997.2,357.2M1017.7,345.1L1021.9,349.7M1021.9,349.7L1014.8,356.0M1028.8,328.9L1036.8,337.7M1021.9,349.7L1023.8,350.0M1023.8,350.0L1036.8,337.7M1051.7,325.8L1048.4,325.5M1048.4,325.5L1038.8,337.4M1056.2,347.3L1047.2,346.4M1048.4,325.5L1046.8,323.1M1038.8,337.4L1036.8,337.7M1108.0,278.5L1098.5,292.9M1108.0,278.5L1097.4,272.2M1095.2,272.4L1085.8,286.1M1098.5,292.9L1085.8,286.1M1099.5,295.9L1098.5,292.9M1104.1,255.0L1097.4,272.2M1081.9,263.0L1095.2,272.4M1081.9,263.0L1069.6,278.4M1085.8,286.1L1083.6,286.8M992.0,252.0L992.2,241.8M1007.6,239.6L1003.7,234.7M992.2,241.8L999.2,234.3M1001.5,205.4L1013.5,207.2M1001.5,205.4L1002.6,216.0M1007.8,217.9L1017.4,212.1M1017.4,212.1L1013.5,207.2M1033.1,184.7L1031.1,185.6M1033.1,184.7L1034.8,164.8M1031.1,185.6L1015.6,182.7M1034.8,164.8L1027.1,155.8M1043.5,193.5L1033.1,184.7M1053.6,167.1L1034.8,164.8M1023.5,195.4L1031.1,185.6M1023.5,195.4L1014.4,195.4M1014.9,183.3L1014.4,195.4M1008.0,229.8L1007.8,217.9M1008.0,229.8L1023.3,226.1M1017.4,212.1L1024.1,213.9M1023.3,226.1L1024.1,213.9M1043.5,193.5L1035.0,210.6M1023.5,195.4L1027.7,211.5M1035.0,210.6L1027.7,211.5M1027.7,211.5L1024.1,213.9M1053.4,287.6L1058.6,288.1M1048.5,282.3L1048.0,269.4M1059.2,263.9L1051.9,264.1M1059.2,263.9L1068.3,278.5M1068.3,278.5L1058.6,288.1M1048.0,269.4L1051.9,264.1M1034.7,280.1L1034.9,268.8M1048.0,269.4L1034.9,268.8M1020.8,267.8L1033.4,266.6M1034.9,268.8L1033.4,266.6M1020.4,254.1L1036.0,255.6M1033.4,266.6L1036.0,255.6M1098.8,228.8L1110.1,215.4M1098.8,228.8L1088.7,223.1M1088.7,223.1L1094.7,205.1M1109.7,213.9L1110.1,215.4M1119.6,197.4L1109.7,213.9M83.0,398.0L81.5,401.4M86.1,415.6L106.6,407.5M106.1,404.6L106.6,407.5M83.2,393.4L80.6,390.7M80.6,390.7L75.9,375.8M78.3,369.1L96.9,364.6M96.9,364.6L101.5,365.7M62.3,389.4L80.6,390.7M58.1,381.7L75.9,375.8M66.9,358.9L78.3,369.1M80.7,343.4L96.9,364.6M104.0,364.3L99.8,336.3M93.1,333.4L99.8,336.3M285.1,497.4L284.5,500.2M284.5,500.2L270.5,506.3M247.9,502.6L254.3,515.2M270.5,506.3L254.3,515.2M240.4,524.1L254.1,517.0M254.3,515.2L254.1,517.0M232.5,544.8L244.6,533.2M232.5,544.8L234.1,547.6M250.4,536.2L244.6,533.2M250.4,536.2L252.7,545.2M252.7,545.2L252.3,547.5M240.4,524.1L244.6,533.2M222.7,539.1L223.8,531.3M222.7,539.1L232.5,544.8M214.8,561.6L219.9,569.1M214.8,561.6L234.1,551.5M234.1,551.5L237.6,561.4M209.6,557.1L214.8,561.6M210.6,546.2L222.7,539.1M234.1,547.6L234.1,551.5M240.9,563.4L237.6,561.4M240.9,563.4L254.5,553.1M254.5,553.1L252.3,547.5M206.0,558.9L198.1,579.3M206.0,558.9L187.8,559.4M198.1,579.3L184.1,578.3M161.6,584.8L182.1,581.9M184.1,578.3L182.1,581.9M177.1,600.2L183.1,596.8M182.1,581.9L183.1,596.8M191.6,607.7L187.0,599.4M187.0,599.4L183.1,596.8M220.0,570.1L204.4,584.0M227.1,580.4L206.4,589.7M204.4,584.0L206.4,589.7M198.1,579.3L204.4,584.0M240.9,563.4L244.4,572.8M244.4,572.8L227.1,580.3M204.8,525.8L190.5,518.9M205.6,542.0L187.8,539.3M186.7,525.1L186.0,536.7M210.6,546.2L205.6,542.0M190.5,516.6L190.5,518.9M185.0,554.2L187.8,539.3M166.1,522.5L186.7,525.1M165.7,539.7L186.0,536.7M74.8,311.0L83.6,296.0M74.8,311.0L59.8,299.5M83.6,296.0L66.4,286.3M63.8,286.8L66.4,286.3M49.7,308.3L59.8,299.5M75.3,316.4L74.8,311.0M109.3,363.7L111.6,363.8M111.6,363.8L120.7,355.3M120.7,355.3L120.8,333.2M104.0,364.3L109.3,363.7M99.8,336.3L107.6,333.9M107.6,333.9L112.8,334.4M64.9,260.2L78.3,269.2M78.8,271.5L78.3,269.2M122.3,167.7L110.4,172.6M107.9,175.6L123.3,198.1M123.3,198.1L137.0,190.1M101.0,150.9L110.4,172.6M115.9,145.9L107.8,145.3M115.9,145.9L123.0,166.5M123.0,166.5L122.3,167.7M99.0,178.9L107.9,175.6M107.0,203.8L114.1,204.3M114.1,204.3L122.1,200.0M73.6,105.7L66.0,83.3M71.3,110.4L67.5,110.5M61.2,82.4L66.0,83.3M77.0,76.5L66.0,83.3M92.0,97.4L73.6,105.7M56.1,55.5L61.2,82.4M140.0,131.6L127.4,134.2M140.8,131.9L147.9,153.8M147.9,153.8L140.7,159.0M139.4,159.0L140.7,159.0M114.2,116.8L127.4,134.2M133.5,106.4L140.0,131.6M123.0,166.5L139.4,159.0M137.0,190.1L141.6,190.0M141.6,190.0L148.4,188.6M148.4,188.6L140.7,159.0M118.6,451.3L126.3,447.7M136.6,467.0L134.3,453.7M126.3,447.7L134.3,453.7M155.7,462.2L156.1,451.3M171.8,376.1L156.1,372.7M171.2,385.0L154.7,388.1M154.7,388.1L153.4,375.8M147.5,333.1L160.1,333.3M147.5,333.1L147.2,355.5M160.1,333.3L160.1,356.2M160.1,356.2L156.4,358.0M156.4,358.0L147.2,355.5M220.3,665.5L218.9,662.2M220.3,665.5L205.0,677.7M218.9,662.2L200.0,663.6M200.0,663.6L199.7,675.6M205.0,677.7L199.7,675.6M223.3,667.9L226.5,676.1M214.7,650.2L211.2,648.5M211.2,648.5L196.2,657.0M218.9,657.1L218.9,662.2M196.2,657.0L200.0,663.6M194.7,677.9L199.7,675.6M183.2,655.2L186.9,652.7M186.9,652.7L196.2,657.0M188.2,643.8L207.8,640.5M207.8,640.5L208.4,636.5M208.4,636.5L204.9,628.3M204.9,628.3L198.8,624.6M186.9,652.7L188.2,643.8M179.9,634.5L187.4,640.6M211.2,648.5L207.8,640.5M227.2,632.8L208.4,636.5M219.4,621.7L204.9,628.3M244.0,667.7L261.7,657.9M257.5,651.8L260.3,654.2M257.5,651.8L240.1,657.4M240.1,657.4L239.8,660.4M260.3,654.2L261.7,657.9M223.3,667.9L239.8,660.4M244.4,670.6L244.0,667.7M265.2,665.8L263.4,660.0M263.4,660.0L261.7,657.9M274.0,634.4L255.5,639.3M277.3,640.2L260.3,654.2M254.8,643.8L257.5,651.8M235.4,649.1L240.1,657.4M373.6,521.6L383.7,528.0M373.6,521.6L367.0,536.4M383.7,528.0L372.4,540.2M372.4,540.2L367.0,536.4M367.0,536.4L357.8,534.2M335.1,540.3L350.2,551.0M327.9,558.5L326.6,553.9M327.9,558.5L348.0,559.5M350.2,551.0L348.0,559.4M346.7,614.9L349.2,604.2M349.2,604.2L359.6,602.4M362.7,607.0L359.6,602.4M360.4,589.9L341.8,588.2M360.4,589.9L361.6,593.2M361.6,593.2L359.6,602.4M341.8,588.2L338.9,597.3M338.9,597.3L349.2,604.2M361.6,593.2L382.0,595.4M381.7,605.8L362.7,607.0M381.7,605.8L382.7,597.5M382.0,595.4L382.7,597.5M320.8,618.6L338.4,620.3M338.4,620.3L340.6,632.6M339.6,634.3L340.6,632.6M362.0,622.6L359.6,629.2M339.3,618.4L338.4,620.3M339.3,618.4L346.7,614.9M340.6,632.6L359.6,629.2M360.4,589.9L363.8,578.7M382.0,595.4L383.8,586.7M383.8,586.7L363.8,578.7M380.5,621.2L385.7,615.0M359.6,629.2L362.7,636.6M381.9,635.8L380.5,621.2M381.5,636.9L362.7,636.6M295.7,586.1L293.7,596.1M295.7,586.1L291.8,585.2M293.7,596.1L279.4,600.4M291.8,585.2L275.3,591.7M275.5,594.7L279.4,600.4M246.1,620.3L261.1,609.4M257.0,601.4L258.1,602.1M258.1,602.1L261.1,609.4M320.8,649.3L339.6,645.8M319.5,658.1L339.5,664.7M339.9,646.2L342.1,660.6M342.1,660.6L339.5,664.7M319.7,631.4L318.2,633.0M318.2,633.0L317.1,644.3M339.6,634.3L339.6,645.8M316.0,670.2L317.7,660.4M317.7,660.4L319.5,658.1M277.6,674.1L284.4,657.0M298.7,671.6L297.6,661.0M297.6,661.0L284.4,657.0M317.7,660.4L301.0,656.0M297.6,661.0L301.0,656.0M317.1,644.3L301.0,646.2M301.0,656.0L301.0,646.2M263.4,660.0L282.5,652.0M282.5,652.0L284.4,657.0M427.8,543.2L435.0,526.6M434.0,546.1L442.3,531.3M435.0,526.6L442.3,531.3M381.3,404.8L380.5,419.6M368.4,408.1L370.9,421.7M380.5,419.6L370.9,421.7M359.5,423.9L370.2,422.5M347.0,439.9L345.7,441.2M347.0,439.9L358.9,439.7M359.5,423.9L359.1,439.6M374.3,436.7L370.2,422.5M374.3,436.7L370.5,440.5M370.5,440.5L359.1,439.6M343.9,426.4L347.0,439.9M354.1,476.0L367.2,480.4M511.3,450.5L521.7,445.3M510.8,450.4L506.2,435.6M521.7,445.3L513.2,433.0M513.2,433.0L506.2,435.6M490.3,407.2L484.4,410.2M490.3,407.2L486.8,394.7M486.8,394.7L482.8,394.6M486.4,379.5L494.4,390.1M486.4,379.5L478.1,383.7M508.2,485.9L516.9,479.7M506.3,485.7L501.9,473.0M520.9,470.3L521.4,471.4M501.9,473.0L505.6,467.7M521.4,471.4L516.9,479.7M417.0,385.8L420.5,396.0M407.4,399.0L419.8,396.8M256.5,312.9L265.9,306.6M256.5,312.9L248.2,301.0M248.2,301.0L257.0,292.9M257.0,292.9L267.0,303.3M267.0,303.3L265.9,306.6M255.9,316.2L266.3,325.0M255.9,316.2L256.5,312.9M266.3,325.0L276.0,318.3M276.0,318.3L265.9,306.6M257.2,291.6L257.0,292.9M246.4,301.0L236.2,291.6M244.7,281.1L236.2,291.6M275.7,292.7L271.5,301.0M275.7,292.7L268.7,284.6M271.5,301.0L267.0,303.3M273.8,337.6L266.1,326.4M273.8,337.6L265.1,347.1M265.1,347.1L254.8,336.4M254.8,336.4L266.1,326.4M256.4,354.4L265.1,347.1M271.9,354.2L265.1,347.1M255.9,316.2L247.1,321.7M266.3,325.0L266.1,326.4M247.1,321.7L253.9,336.3M205.8,277.3L197.0,282.5M205.8,277.3L216.3,286.9M197.0,282.5L200.4,296.1M216.3,287.0L205.5,297.1M205.5,297.1L200.4,296.1M182.0,277.9L197.0,282.5M182.0,277.9L189.8,264.8M196.8,263.2L189.8,264.8M196.8,263.2L205.9,276.8M181.5,278.1L186.5,305.6M187.7,306.2L200.4,296.1M225.1,281.0L236.0,291.6M225.1,281.0L216.3,286.9M236.0,291.6L227.1,300.0M223.8,300.1L227.1,300.0M223.8,300.1L216.3,287.0M213.6,307.4L215.1,307.5M213.6,307.4L205.5,297.1M160.1,356.2L169.5,356.8M172.6,375.2L172.6,360.4M156.1,372.7L156.4,358.0M169.5,356.8L172.6,360.4M172.6,375.2L187.6,374.7M187.6,374.7L189.9,371.1M189.9,371.1L189.0,361.7M225.1,281.0L225.9,277.1M237.3,271.2L233.4,270.9M205.9,276.8L214.1,267.7M225.9,277.1L214.1,267.7M204.6,255.4L196.8,263.2M204.6,255.4L214.2,266.1M331.2,428.2L334.6,444.4M331.2,428.2L320.0,429.5M319.2,430.4L320.5,444.6M320.5,444.6L321.6,445.2M310.9,447.3L304.2,453.6M310.9,447.3L320.5,444.6M304.2,453.6L307.2,458.4M330.3,412.4L318.3,415.1M320.0,429.5L317.4,416.1M324.6,397.2L315.8,399.1M318.3,415.1L315.8,399.1M303.0,453.3L288.0,466.7M268.8,470.8L267.0,464.4M267.0,464.4L278.8,452.8M288.0,466.7L278.8,452.8M260.0,382.5L260.9,380.7M260.9,380.7L259.2,370.3M259.2,370.3L243.6,368.0M243.6,368.0L243.4,384.5M261.2,367.4L259.2,370.3M275.9,379.1L278.6,368.6M275.9,379.1L260.9,380.7M206.8,384.3L208.1,385.3M206.8,384.3L205.4,373.6M208.1,385.3L223.5,384.4M208.3,369.1L225.5,372.3M226.0,398.0L223.5,384.4M189.9,371.1L205.4,373.6M189.0,361.7L207.6,360.5M207.6,360.5L208.3,369.1M243.1,396.0L243.5,384.6M243.4,384.5L225.5,381.7M230.0,433.8L225.6,424.2M227.4,410.3L227.5,419.3M227.4,410.3L226.6,408.9M227.4,410.3L240.3,411.2M240.3,411.2L243.1,420.7M243.1,396.0L248.7,402.0M240.3,411.2L248.7,402.0M230.0,433.8L244.4,426.2M244.4,426.2L244.6,422.3M244.6,422.3L243.1,420.7M507.6,660.1L513.9,653.4M529.9,667.7L515.5,653.1M515.5,653.1L513.9,653.4M467.3,630.2L465.5,627.3M465.5,627.3L475.3,615.2M475.3,615.2L482.2,617.9M459.6,644.4L449.9,637.2M449.9,637.2L446.6,638.1M465.5,627.3L456.6,625.0M449.9,637.2L456.6,625.0M773.9,671.0L788.7,663.7M790.9,665.1L788.7,663.7M793.4,665.2L790.9,665.1M762.3,664.0L773.9,671.0M762.3,664.0L759.0,666.3M769.5,515.0L757.3,498.4M757.3,498.4L746.3,505.3M746.3,505.3L745.3,508.6M769.2,542.5L756.3,526.1M756.9,524.0L756.3,526.1M780.4,557.4L765.2,567.1M766.2,570.4L783.3,580.6M780.7,600.9L791.3,608.2M780.7,600.9L777.8,590.6M781.3,585.7L800.7,596.9M783.3,580.6L781.3,585.7M800.7,596.9L806.3,593.5M777.8,590.6L763.9,590.4M766.2,570.4L758.6,587.6M758.6,587.6L763.9,590.4M748.8,570.0L750.2,587.9M758.6,587.6L750.2,587.9M748.8,570.0L742.2,563.5M742.2,563.5L733.2,565.0M738.6,590.9L747.6,589.7M738.2,590.8L731.6,566.4M611.1,652.1L625.5,664.0M623.1,641.3L631.4,658.5M631.4,658.5L625.5,664.0M629.9,635.3L623.1,641.3M634.3,658.1L631.4,658.5M594.1,667.6L602.2,659.6M602.2,659.6L616.2,672.8M615.8,674.3L616.2,672.8M591.0,668.2L594.1,667.6M591.0,668.2L585.5,671.9M585.5,671.9L584.1,676.5M608.1,652.6L611.1,652.1M602.8,657.0L602.2,659.6M625.3,664.8L616.2,672.8M651.3,603.8L645.1,624.4M629.3,608.0L628.5,611.9M629.3,608.0L633.7,602.6M633.7,602.6L645.7,600.0M976.8,275.2L976.2,289.7M976.8,275.2L989.3,278.5M976.2,289.7L989.4,289.1M989.3,278.5L989.4,289.1M975.6,273.7L976.8,275.2M986.9,258.4L983.5,258.6M990.4,290.1L989.4,289.1M1042.2,435.8L1039.4,430.0M1053.2,415.8L1049.4,415.7M1039.4,430.0L1049.4,415.7M1061.6,396.0L1050.4,390.0M1050.4,390.0L1036.9,405.1M1049.4,415.7L1036.9,405.1M1013.6,371.1L1011.9,382.8M1013.6,371.1L1012.1,369.5M1013.2,384.8L1014.1,393.5M1014.1,393.5L996.6,388.7M998.2,380.2L996.6,388.7M890.4,523.4L893.3,534.0M893.3,534.0L907.9,547.0M914.8,521.0L912.3,542.0M907.9,547.0L912.3,542.0M875.4,544.8L893.3,534.0M874.8,529.5L890.4,523.4M885.6,508.9L887.5,509.8M887.5,509.8L891.0,522.2M887.5,509.8L900.0,502.6M900.0,502.6L921.1,509.0M920.9,512.2L914.8,521.0M906.3,552.4L907.9,547.0M934.1,543.0L912.3,542.0M937.7,527.2L920.9,512.2M955.6,542.3L974.0,541.8M974.0,541.8L971.7,522.1M971.1,521.4L953.7,523.6M974.1,541.9L977.2,567.0M1005.4,488.4L997.0,503.8M997.0,503.8L993.0,504.4M993.0,504.4L984.7,501.1M986.6,476.3L984.7,501.1M971.7,522.1L987.9,522.9M971.1,521.4L973.0,503.2M905.9,345.7L894.5,341.1M905.4,357.7L892.4,352.8M940.6,326.0L939.0,326.9M949.8,342.5L951.2,341.7M949.8,342.5L939.0,340.7M939.0,326.9L939.0,340.7M939.0,326.9L931.1,324.5M1066.0,448.4L1058.4,465.5M1058.4,465.5L1056.1,465.8M1056.1,465.8L1044.5,457.6M1042.2,435.8L1027.7,449.4M1028.4,452.2L1039.4,458.5M1039.4,458.5L1044.5,457.6M1097.8,464.7L1093.8,464.8M1097.8,464.7L1104.0,447.5M1093.8,464.8L1082.6,460.6M1082.1,458.9L1094.6,441.4M1103.8,446.9L1096.3,441.5M1096.3,441.5L1094.6,441.4M1109.0,474.1L1097.8,464.7M1071.3,473.9L1082.6,460.6M1071.3,473.9L1071.8,477.0M1071.8,477.0L1084.9,486.1M1071.6,447.6L1082.1,458.9M1058.4,465.5L1071.3,473.9M1117.8,430.6L1103.8,446.9M1104.3,422.7L1096.3,441.5M381.5,351.7L374.9,342.3M375.3,361.2L373.3,360.6M373.3,360.6L369.4,345.3M374.9,342.3L372.7,342.3M369.4,345.3L372.7,342.3M373.3,360.6L363.7,363.6M369.4,345.3L360.4,347.6M360.4,347.6L363.0,363.0M363.7,363.6L363.2,375.6M532.4,190.1L523.3,181.3M532.4,190.1L530.2,192.8M530.2,192.8L518.9,190.1M523.3,181.3L519.2,187.2M519.2,187.2L518.9,190.1M539.1,184.8L536.7,188.3M536.7,188.3L532.4,190.1M529.8,196.0L530.2,192.8M529.8,196.0L538.2,201.0M536.7,188.3L537.5,190.0M529.8,196.0L526.2,201.2M517.2,192.4L518.9,190.1M517.2,192.4L525.4,201.6M522.0,205.7L519.7,212.0M522.0,205.7L523.5,204.7M532.4,212.0L529.2,216.1M528.4,216.3L519.7,212.7M306.5,500.9L295.2,512.7M306.5,500.9L319.6,510.4M316.8,521.4L297.2,517.6M316.8,521.4L319.6,510.4M297.2,517.6L295.2,512.7M292.8,511.8L295.2,512.7M292.8,511.8L284.5,500.2M305.7,493.2L306.5,500.9M821.2,518.6L831.2,507.2M848.6,515.4L831.2,507.2M822.6,496.2L831.3,504.5M831.2,507.2L831.3,504.5M879.8,349.1L876.0,352.1M879.8,349.1L889.7,354.7M888.8,357.5L889.7,354.7M888.8,357.5L875.1,361.0M867.2,456.8L856.6,458.5M856.6,458.5L854.4,473.2M874.2,464.5L872.9,475.1M872.7,475.4L859.3,479.1M879.2,494.3L880.2,491.8M864.8,498.5L863.7,497.8M863.7,497.8L859.3,479.1M852.5,445.0L854.1,456.3M854.1,456.3L840.1,458.7M840.1,443.0L838.5,457.1M838.5,457.1L840.1,458.7M841.1,470.6L840.1,458.7M856.6,458.5L854.1,456.3M855.9,441.9L856.3,430.7M856.3,430.7L860.0,427.7M860.0,427.7L871.1,430.2M871.1,430.2L871.2,444.4M852.5,445.0L855.9,441.9M842.8,428.6L840.3,442.9M858.5,415.5L860.0,427.7M858.5,415.5L844.3,416.5M844.3,416.5L843.1,428.3M817.0,392.2L814.2,410.4M817.0,392.2L818.9,391.8M818.9,391.8L829.3,399.0M829.4,413.6L830.6,412.3M814.2,410.4L816.1,412.3M829.3,399.0L830.6,412.3M872.8,414.4L858.6,415.4M872.8,414.4L874.4,406.7M858.3,402.3L869.0,400.2M874.4,406.7L869.0,400.2M880.4,343.3L879.8,349.1M880.4,343.3L882.4,338.9M894.3,340.8L882.4,338.9M925.7,272.8L930.0,264.8M940.5,273.5L933.8,263.2M930.0,264.8L933.8,263.2M975.4,249.7L976.2,240.6M964.4,252.8L961.5,249.1M961.5,249.1L964.9,235.8M976.2,240.6L964.9,235.8M976.2,240.6L979.0,238.7M352.8,312.6L359.1,312.1M352.8,312.6L352.0,297.9M359.1,312.1L363.1,309.4M358.3,298.8L352.0,297.9M340.7,312.6L343.2,296.9M340.7,312.6L350.5,314.4M290.4,225.4L286.4,236.3M290.4,225.4L278.7,222.1M274.6,224.5L278.7,222.1M274.6,224.5L277.3,235.5M286.4,236.3L277.3,235.5M260.2,232.4L267.3,243.2M260.2,232.4L269.9,223.1M267.3,243.2L270.0,244.3M269.9,223.1L274.6,224.5M277.3,235.5L270.0,244.3M254.0,248.5L252.6,255.3M270.0,244.3L272.3,249.5M315.0,212.2L303.4,211.1M315.0,212.2L313.1,223.2M313.1,223.2L301.1,223.1M301.1,223.1L303.4,211.1M276.3,265.5L285.2,265.3M287.2,251.3L272.3,249.5M287.2,251.3L286.2,264.8M273.3,277.9L284.2,279.1M285.2,265.3L284.2,279.1M275.7,292.7L282.8,292.6M282.8,292.6L285.0,279.9M342.9,296.7L330.2,298.3M329.3,297.6L331.7,282.7M340.2,284.0L331.7,282.7M770.9,272.7L761.3,273.5M771.1,272.4L770.2,266.8M759.4,266.8L770.2,266.8M770.3,266.4L779.3,261.7M779.3,261.7L780.2,271.3M579.5,117.5L575.3,115.9M574.6,124.6L574.4,116.3M610.6,130.6L609.4,125.9M616.1,123.1L618.7,127.5M611.3,131.1L617.8,130.1M613.9,137.5L619.2,133.7M617.8,130.1L619.2,133.7M621.1,134.7L626.7,131.7M626.7,131.7L624.6,126.9M623.6,119.5L625.1,125.9M623.8,119.0L629.5,118.5M625.1,125.9L631.1,124.1M631.1,124.1L629.5,118.5M598.6,122.0L599.3,115.0M596.2,113.7L598.1,114.0M598.3,122.2L594.0,121.5M598.1,114.0L599.3,115.0M613.3,94.7L612.4,101.8M613.3,94.7L610.2,93.7M608.6,94.0L610.2,93.7M607.9,100.5L612.4,101.8M613.9,94.5L619.0,96.8M617.0,102.9L619.0,96.8M617.0,102.9L612.5,102.0M694.4,177.1L691.4,182.2M691.4,182.2L683.5,177.8M686.2,172.9L683.5,177.8M799.8,498.5L793.9,496.9M793.9,496.9L782.5,504.1M782.5,504.1L771.7,487.9M771.4,487.8L758.9,494.6M739.1,483.0L750.9,485.7M739.1,483.0L736.2,486.6M746.3,505.3L733.9,492.9M733.9,492.9L736.2,486.6M750.9,485.7L758.9,494.6M782.0,276.6L790.0,276.0M782.0,276.6L781.3,278.3M790.0,276.0L792.0,284.5M781.3,278.3L785.1,286.4M785.1,286.4L790.9,285.5M792.0,284.5L790.9,285.5M816.2,392.0L807.1,373.7M818.9,391.8L822.4,386.9M807.1,373.7L811.9,369.1M822.4,386.9L817.4,369.3M811.9,369.1L817.4,369.3M822.4,386.9L829.2,381.6M817.4,369.3L825.2,365.9M825.2,365.9L829.2,381.6M880.4,343.3L869.8,343.4M882.4,338.9L880.5,335.4M869.9,332.8L869.8,343.4M876.0,352.1L866.5,348.3M869.8,343.4L866.5,348.3M873.3,363.1L868.5,373.0M873.3,363.1L857.4,356.4M864.9,373.9L868.5,373.0M857.4,356.4L855.8,357.7M860.8,380.1L849.6,377.6M849.6,377.6L849.1,376.4M856.3,364.3L849.1,376.4M692.0,395.0L693.7,393.4M692.0,395.0L688.9,396.2M688.9,396.2L679.1,386.8M689.6,377.2L686.3,378.4M689.6,377.2L694.4,371.6M694.4,371.6L694.9,369.1M694.9,369.1L683.3,361.5M795.4,394.7L791.2,379.8M782.6,384.6L789.7,379.6M789.7,379.6L791.2,379.8M804.6,393.9L797.6,377.7M804.6,393.9L801.3,395.8M801.3,395.8L795.4,394.7M778.9,402.2L781.7,404.2M778.9,402.2L776.5,398.1M781.7,404.2L789.5,396.1M779.4,384.7L782.6,384.6M779.2,384.3L776.8,366.1M776.8,366.1L783.1,366.9M783.1,366.9L789.7,379.6M751.3,276.9L750.1,271.4M740.4,272.0L748.8,270.4M740.4,272.0L740.8,279.1M748.8,270.4L750.1,271.4M735.4,248.7L734.2,252.9M735.4,248.7L745.4,251.4M746.2,254.4L745.4,251.4M746.2,254.4L737.4,258.4M674.3,351.3L676.2,346.7M689.4,349.1L688.7,355.1M689.4,349.1L688.9,347.9M688.9,396.2L684.4,400.9M677.0,387.8L679.1,386.8M677.0,387.8L673.3,394.5M684.4,400.9L673.3,394.5M684.8,380.0L672.0,373.8M672.0,373.8L672.7,370.5M684.8,380.0L686.3,378.4M680.7,364.5L676.8,365.9M676.8,365.9L672.7,370.5M651.8,372.9L655.0,367.9M651.8,372.9L662.3,383.0M655.0,367.9L657.4,366.8M657.4,366.8L667.5,378.0M638.3,358.9L641.2,356.9M647.9,375.1L651.8,372.9M662.2,383.4L657.1,388.3M662.2,383.4L672.3,395.0M677.0,387.8L667.3,378.8M651.8,354.3L661.1,362.0M651.8,354.3L643.2,355.5M661.1,362.0L657.4,366.8M672.0,373.8L667.5,378.0M661.1,362.0L672.7,370.5M651.4,393.5L650.3,396.4M637.6,386.1L634.4,392.4M650.3,396.4L647.0,399.7M634.4,392.4L647.0,399.7M627.8,375.9L623.8,386.4M634.4,392.4L630.4,394.8M623.8,386.4L630.4,394.8M431.8,383.4L437.4,380.7M431.8,383.4L428.9,381.9M426.8,371.1L432.2,367.7M432.2,367.7L439.2,375.2M476.9,383.5L468.6,389.2M476.9,383.5L471.2,373.5M468.6,389.2L462.4,379.1M462.4,379.1L463.1,377.7M463.1,377.7L471.2,373.5M477.5,399.0L474.0,399.1M474.0,399.1L468.5,389.8M455.0,382.7L462.4,379.1M455.0,382.7L459.3,393.8M486.4,379.5L486.7,378.3M471.5,372.7L478.9,368.6M478.9,368.6L486.7,378.3M483.4,353.1L488.3,362.9M483.4,353.1L474.3,356.6M474.1,357.0L479.3,367.6M479.3,367.6L488.3,362.9M465.4,363.1L466.4,360.6M466.4,360.6L474.1,357.0M489.0,363.1L493.0,373.0M486.7,378.3L493.0,373.0M465.4,363.1L457.2,366.3M457.2,366.3L456.5,368.0M451.9,382.0L449.2,372.5M456.5,368.0L449.2,372.5M437.4,380.7L446.1,386.2M446.1,386.2L451.9,382.0M446.1,371.4L449.2,372.5M389.6,352.3L391.3,350.7M374.9,342.3L383.9,337.6M391.3,350.7L383.9,337.6M412.1,349.8L402.9,354.7M412.1,349.8L408.6,338.2M402.9,354.7L397.3,349.5M403.0,361.7L402.9,354.7M391.3,350.7L397.3,349.5M398.9,343.5L391.2,333.7M387.2,333.0L391.2,333.7M511.3,450.5L521.5,467.7M521.5,467.7L530.4,454.4M521.7,445.3L525.3,445.7M521.5,467.7L520.9,470.3M543.0,469.5L541.0,473.7M543.0,469.5L534.2,454.7M541.0,473.7L521.5,471.5M530.4,454.4L534.2,454.7M556.1,333.0L558.6,326.5M556.1,333.0L552.9,334.8M549.5,322.3L558.6,326.5M549.5,322.3L545.3,331.2M552.9,334.8L545.3,331.2M637.6,359.1L627.8,349.1M629.9,366.5L628.1,365.5M628.1,365.5L623.4,358.4M623.4,358.4L622.7,352.1M561.3,316.2L562.3,318.5M561.3,316.2L553.6,313.2M553.6,313.2L551.9,314.2M551.9,314.2L549.3,321.8M562.3,318.5L559.1,326.2M553.8,345.7L551.7,341.7M553.8,345.7L562.7,343.9M556.1,333.0L565.0,340.8M552.9,334.8L551.7,341.7M562.7,343.9L565.0,340.8M555.5,355.5L564.1,354.8M562.7,343.9L565.2,353.1M564.1,354.8L565.2,353.1M768.7,257.5L767.4,259.5M768.7,257.5L777.6,258.4M767.4,259.5L770.3,266.4M777.6,258.4L779.4,261.7M118.8,54.6L131.1,48.3M143.3,71.1L145.0,68.6M131.1,48.3L145.0,68.6M627.0,307.1L621.7,303.2M627.0,307.1L632.2,305.4M621.7,303.2L628.8,297.1M542.7,309.4L551.9,314.2M553.6,313.2L555.2,306.1M526.2,201.2L536.7,206.3M539.5,202.9L536.7,206.3M533.3,211.7L536.5,207.4M540.7,219.3L545.3,214.8M536.5,207.4L545.3,214.8M567.7,193.5L572.3,189.0M560.7,186.3L564.1,182.3M564.1,182.3L572.3,189.0M618.1,149.0L623.6,145.6M621.1,134.7L622.4,140.3M620.5,180.3L618.4,175.0M611.9,176.6L618.4,175.0M609.3,145.9L611.2,150.4M620.0,153.8L619.1,155.5M611.5,150.6L613.1,156.4M583.6,194.7L579.3,198.8M583.6,194.7L592.2,201.5M587.1,207.2L579.1,199.2M587.1,207.2L592.1,202.1M607.6,219.5L609.6,216.9M607.3,220.2L613.2,224.1M619.0,219.8L617.0,215.6M609.2,210.6L609.6,216.9M615.6,208.4L617.4,214.9M629.3,184.7L622.4,187.4M629.3,184.7L631.7,190.7M631.7,190.7L625.7,193.4M647.9,192.0L648.8,196.1M647.9,192.0L640.6,192.2M640.6,192.2L639.7,195.2M639.7,195.2L642.0,199.4M648.8,196.1L642.0,199.4M523.5,180.2L511.6,176.1M525.4,177.7L517.2,168.3M513.8,170.8L511.6,175.1M540.6,178.1L530.6,170.9M542.8,171.4L534.0,165.1M530.6,170.9L530.7,169.0M530.7,169.0L532.8,165.9M539.1,184.8L541.8,183.0M541.8,183.0L540.6,178.1M517.2,168.3L518.6,165.1M518.6,165.1L530.7,169.0M522.8,156.8L532.8,165.9M522.8,156.8L518.5,163.8M518.5,163.8L518.6,165.1M554.9,157.6L553.1,160.6M554.9,157.6L553.0,153.5M551.3,161.4L553.1,160.6M545.6,142.5L543.5,147.5M513.8,170.8L505.3,163.4M508.8,158.7L505.3,163.4M526.4,153.4L529.1,148.2M523.6,155.1L516.6,145.3M529.1,148.2L518.8,142.0M518.8,142.0L516.6,145.3M537.3,159.4L526.4,153.4M522.8,156.6L523.6,155.1M530.1,147.5L540.6,154.4M530.1,147.5L529.1,148.2M169.3,446.6L157.3,448.8M175.4,438.8L174.5,426.8M155.8,427.6L157.3,425.9M155.8,427.6L156.6,447.6M157.3,425.9L174.0,426.1M157.3,448.8L156.6,447.6M177.7,455.8L169.3,446.6M156.1,451.3L157.3,448.8M193.5,424.8L174.5,426.8M248.3,241.1L244.5,240.7M248.3,241.1L256.7,231.6M244.5,240.7L240.0,231.8M256.7,231.6L251.0,223.9M260.2,232.4L256.7,231.6M254.0,248.5L248.3,241.1M266.3,133.9L255.7,143.8M246.9,133.6L260.9,125.6M246.9,133.6L247.3,135.2M293.2,195.2L303.0,196.0M291.4,182.4L303.8,183.6M545.9,133.7L542.3,133.1M542.3,133.1L540.3,137.6M244.5,81.4L242.2,71.1M235.6,63.1L242.2,71.1M650.9,-4.8L650.6,2.4M645.4,1.5L649.4,2.7M650.6,2.4L649.4,2.7M645.4,1.5L642.2,7.9M649.4,2.7L648.0,9.3M635.8,22.7L638.7,23.9M635.8,22.7L632.2,29.0M632.2,29.0L633.1,30.0M609.0,116.9L606.9,124.5M609.0,116.9L604.2,115.5M603.6,115.7L603.0,122.7M603.0,122.7L605.5,124.6M605.5,124.6L606.9,124.5M609.4,125.9L606.9,124.5M598.6,122.0L603.0,122.7M599.3,115.0L603.6,115.7M590.3,134.7L591.3,136.9M591.3,136.9L591.0,138.2M584.1,134.7L585.3,141.0M591.0,138.2L585.3,141.0M580.4,134.6L578.1,141.0M578.1,141.0L585.2,141.2M598.6,134.7L604.2,133.2M603.2,127.9L604.2,133.2M593.0,129.2L596.5,129.7M605.5,124.6L603.2,127.9M598.1,136.2L591.3,136.9M561.0,136.6L562.0,129.2M555.2,136.0L557.7,128.6M557.8,128.6L561.7,129.0M562.7,138.0L564.0,138.2M562.0,129.2L566.0,129.8M564.0,138.2L566.5,137.4M564.1,122.1L568.3,123.1M564.1,122.1L565.2,115.1M570.2,116.1L565.7,114.9M570.2,116.1L569.1,122.8M563.0,122.5L564.1,122.1M566.0,129.8L568.3,123.1M570.5,116.0L574.4,116.3M566.3,130.1L571.6,130.4M571.6,130.4L573.6,124.9M574.4,139.4L575.5,132.9M572.5,131.8L575.5,132.9M577.1,132.5L575.5,132.9M577.2,141.6L574.4,139.4M566.5,137.4L569.3,138.2M571.6,130.4L572.5,131.8M554.9,157.6L556.9,157.2M556.9,157.2L561.3,153.1M561.3,153.1L558.7,148.7M558.7,148.7L559.3,145.0M564.0,138.2L565.1,146.1M1063.6,90.0L1078.5,90.3M1063.6,90.0L1055.3,78.3M1061.0,66.9L1073.8,66.8M1078.5,90.3L1073.8,66.8M1075.9,54.3L1075.7,64.3M1075.7,64.3L1073.8,66.8M1106.9,70.8L1093.8,73.5M1092.2,55.5L1090.7,67.0M1090.7,67.0L1093.8,73.5M1084.9,101.0L1081.9,91.7M1084.9,101.0L1108.2,105.4M1108.2,105.4L1114.9,95.8M1086.6,87.7L1081.9,91.7M1114.9,95.8L1108.2,88.7M1052.6,102.8L1063.6,90.0M1112.6,121.4L1108.2,105.4M1075.7,64.3L1090.7,67.0M1093.8,73.5L1086.6,87.7M1110.4,75.2L1108.2,88.7M1033.7,113.8L1021.1,95.3M1021.1,95.3L1031.2,83.9M1043.2,75.7L1031.5,82.7M1019.5,58.8L1023.2,56.1M1019.5,58.8L1018.2,64.8M1018.2,64.8L1031.5,82.7M1031.5,82.7L1031.2,83.9M1019.5,58.8L1006.1,49.0M1006.1,49.0L1011.5,36.0M1011.5,36.0L1026.7,40.2M1031.6,26.6L1028.6,28.9M1031.8,12.2L1016.3,12.3M1016.3,12.3L1014.1,22.2M1014.1,22.2L1028.6,28.9M1028.6,28.9L1026.7,40.2M1091.5,42.1L1091.2,54.3M1091.2,54.3L1075.9,54.2M1075.9,54.2L1074.4,43.8M1092.2,55.5L1091.2,54.3M1082.7,28.4L1090.3,41.6M1071.0,39.9L1074.4,43.8M1011.5,36.0L1010.1,32.4M1010.1,32.4L1013.7,22.5M1032.1,12.0L1034.5,2.8M995.6,16.3L996.8,19.4M995.6,16.3L999.4,7.2M1016.3,12.3L1015.5,10.8M996.8,19.4L1013.7,22.5M1015.5,10.8L999.4,7.2M1019.2,95.5L1001.3,78.7M1019.2,95.5L1021.1,95.3M1018.2,64.8L1002.7,74.2M1002.7,74.2L1001.3,78.7M999.1,6.2L982.7,1.2M906.2,316.1L905.0,312.8M906.2,316.1L899.9,323.4M892.0,309.8L905.0,312.8M892.0,309.8L888.6,315.2M880.5,335.4L885.0,324.9M885.0,324.9L898.1,330.2M928.1,376.6L939.7,380.2M928.1,376.6L927.0,373.4M939.7,380.2L942.7,369.5M927.0,373.4L931.1,365.7M986.6,359.9L983.7,359.8M986.6,359.9L986.6,339.1M983.7,359.8L971.7,349.0M972.0,340.1L971.7,349.0M991.1,362.5L986.6,359.9M956.3,340.7L962.5,353.7M962.5,353.7L971.7,349.0M1013.6,371.1L1023.7,371.5M1013.2,384.8L1025.9,379.1M1023.7,371.5L1025.9,379.1M1023.8,350.0L1031.8,361.0M1023.7,371.5L1031.8,361.0M1060.3,291.9L1080.0,301.9M1060.3,291.9L1059.8,306.3M1059.8,306.3L1061.6,308.7M1061.6,308.7L1073.5,309.8M1080.6,304.1L1080.0,301.9M1068.3,278.5L1069.6,278.4M1058.6,288.1L1060.3,291.9M1083.6,286.8L1080.0,301.9M1046.0,308.4L1059.8,306.3M1058.8,320.2L1061.6,308.7M1073.1,323.2L1073.5,309.8M1085.2,306.5L1080.6,304.1M1001.8,195.3L992.7,191.7M1001.8,195.3L1003.5,194.1M1003.5,194.1L1005.4,183.6M992.7,191.7L993.2,181.7M993.2,181.7L995.7,180.1M995.7,180.1L1002.2,179.6M1000.3,204.2L1001.8,195.3M1000.3,204.2L1001.5,205.4M1013.4,196.1L1003.5,194.1M1014.9,183.3L1005.4,183.6M1012.9,153.1L1002.2,179.6M1008.0,229.8L1003.7,234.7M1023.3,226.1L1024.4,227.9M1022.3,241.4L1024.4,227.9M1075.9,236.6L1065.0,251.1M1075.9,236.6L1088.4,247.5M1081.5,259.9L1088.6,248.8M1065.7,253.6L1065.0,251.1M1088.4,247.5L1088.6,248.8M1104.1,255.0L1088.6,248.8M1081.9,263.0L1081.5,259.9M1099.8,231.8L1088.4,247.5M1075.7,235.7L1064.2,228.2M1075.7,235.7L1086.7,223.3M1064.2,228.2L1073.2,213.1M1088.7,223.1L1086.7,223.3M1059.0,205.6L1051.2,218.4M1064.2,228.2L1062.6,228.2M1062.6,228.2L1051.2,218.4M1035.0,210.6L1045.5,219.2M106.1,404.6L107.4,399.2M105.5,428.9L109.1,425.5M126.3,447.7L132.0,434.3M109.1,425.5L132.0,434.3M156.6,447.6L132.7,433.8M136.5,425.6L132.7,433.8M254.1,517.0L261.5,526.0M250.4,536.2L261.3,528.1M252.7,545.2L269.1,538.3M261.3,528.1L269.1,538.3M261.5,526.0L275.0,518.6M292.8,511.8L275.9,519.1M304.9,560.6L304.0,561.4M304.0,561.4L284.6,556.6M306.7,548.1L290.3,543.7M284.6,556.6L283.1,553.1M283.1,553.1L290.3,543.7M269.1,538.3L270.3,539.0M275.9,519.1L281.5,530.4M270.3,539.0L281.5,530.4M290.3,543.7L289.2,533.0M289.2,533.0L281.5,530.4M272.0,583.5L283.4,576.8M272.0,583.5L266.6,570.9M283.4,576.8L285.7,570.2M291.8,585.2L283.4,576.8M275.3,591.7L271.9,584.2M303.6,581.1L301.0,573.1M301.0,573.1L285.7,570.2M301.0,573.1L304.0,561.4M284.6,556.6L283.1,565.1M275.5,594.7L258.1,602.1M266.6,570.9L250.3,584.3M263.1,565.7L266.6,570.6M263.1,565.7L244.8,573.1M244.8,573.1L249.1,583.4M250.3,584.3L249.1,583.4M227.1,580.4L229.7,591.4M249.1,583.4L229.7,591.4M134.2,352.6L134.4,331.0M120.8,333.2L127.2,328.2M127.2,328.2L134.4,331.0M147.5,333.1L142.2,330.3M134.2,352.6L141.5,357.0M147.2,355.5L141.5,357.0M142.2,330.3L134.4,331.0M83.6,215.9L88.6,235.9M88.6,235.9L60.0,228.5M64.9,260.2L70.0,246.4M60.0,228.5L70.0,246.4M114.1,204.3L115.7,229.2M93.9,214.0L105.5,233.3M105.5,233.3L113.1,231.7M115.7,229.2L113.1,231.7M138.7,215.5L133.3,218.1M133.3,218.1L131.0,225.9M146.1,230.6L134.8,229.7M134.8,229.7L131.0,225.9M141.6,190.0L138.7,215.5M115.7,229.2L131.0,225.9M140.7,254.3L151.5,235.4M134.7,253.3L134.8,229.7M151.5,235.4L146.1,230.6M113.1,231.7L128.2,254.5M134.7,253.3L130.2,254.7M130.2,254.7L128.2,254.5M148.8,188.7L163.6,176.7M171.2,385.0L173.0,387.8M173.0,387.8L190.2,387.5M194.9,401.4L191.1,395.9M206.8,384.3L191.5,388.9M191.1,395.9L191.5,388.9M191.5,388.9L190.2,387.5M191.7,413.4L175.0,410.8M191.1,395.9L174.2,403.6M174.0,426.1L174.8,411.2M157.3,425.9L156.6,414.4M174.8,411.2L156.6,414.4M173.0,387.8L172.0,400.9M154.5,388.3L157.2,399.4M172.0,400.9L157.2,399.4M345.0,573.3L340.7,585.2M345.0,573.3L324.5,567.8M340.7,585.2L321.3,579.6M321.3,579.6L324.3,568.0M346.9,571.5L363.7,578.5M327.9,558.5L324.5,567.8M303.6,581.1L314.6,585.8M304.9,560.6L324.3,568.0M314.6,585.8L321.3,579.6M333.8,604.5L318.8,615.0M333.8,604.5L335.0,599.8M335.0,599.8L315.9,592.7M315.9,592.7L311.0,604.2M311.0,604.2L313.2,611.2M318.8,615.0L313.2,611.2M320.8,618.6L318.8,615.0M339.3,618.4L333.8,604.5M338.9,597.3L335.0,599.8M314.6,585.8L315.9,592.7M304.6,603.7L311.0,604.2M298.7,602.4L293.7,596.1M297.6,625.3L291.9,621.0M297.6,625.3L313.2,611.2M318.2,633.0L298.5,628.3M298.5,628.3L297.6,625.3M383.8,586.7L385.6,584.6M363.7,578.5L370.2,566.5M388.8,573.7L370.2,566.5M348.0,559.4L370.1,566.2M416.2,622.0L409.9,639.1M399.1,630.6L386.1,615.1M399.1,630.6L407.4,618.5M407.4,618.5L405.4,615.4M405.4,615.4L396.8,612.2M396.8,612.2L386.1,615.1M399.3,632.4L399.1,630.6M416.2,622.0L407.4,618.5M399.3,632.4L405.3,640.3M405.3,640.3L409.9,639.1M382.7,597.5L401.8,598.1M379.3,663.5L361.4,661.8M379.3,663.5L381.3,660.9M362.0,647.6L360.8,661.1M381.5,636.9L383.6,648.1M361.2,646.1L362.0,647.6M380.5,675.8L379.3,663.5M359.9,675.3L361.4,661.8M342.1,660.6L360.8,661.1M279.5,602.4L264.6,612.5M264.6,612.5L267.3,621.3M287.5,614.1L284.2,611.9M261.1,609.4L264.6,612.5M250.9,627.6L267.3,621.3M298.3,628.8L299.8,645.0M299.8,645.0L282.9,647.3M278.7,641.2L282.9,647.3M282.5,652.0L282.9,647.3M425.4,542.9L419.2,539.0M419.2,539.0L428.7,524.2M435.0,526.6L433.5,524.9M433.5,524.9L428.7,524.2M415.9,519.0L418.0,518.5M415.9,519.0L408.3,515.6M418.0,518.5L423.0,502.0M408.3,515.6L404.3,511.6M404.3,511.6L413.3,498.5M423.0,502.0L413.3,498.5M400.5,532.9L393.5,528.8M400.5,532.9L408.3,515.6M393.5,528.8L399.7,511.1M399.7,511.1L404.3,511.6M415.8,538.9L411.6,559.8M415.8,538.9L411.4,536.4M408.3,536.5L402.5,556.9M408.3,536.5L411.4,536.4M402.5,556.9L411.6,559.8M428.7,524.2L424.4,520.8M424.4,520.8L418.0,518.5M415.9,519.0L411.4,536.4M401.9,534.7L400.5,532.9M401.9,534.7L408.3,536.5M399.2,491.2L412.6,496.8M399.2,491.2L397.0,492.4M399.7,511.1L393.3,507.2M397.0,492.4L393.3,507.2M373.2,521.1L382.4,506.0M384.4,527.9L388.4,507.9M382.4,506.0L388.4,507.9M384.4,527.9L386.6,529.0M386.6,529.0L393.5,528.8M358.6,455.4L360.0,456.2M370.5,440.5L373.7,452.7M353.5,474.1L362.7,464.4M362.7,464.4L360.0,456.2M390.3,471.9L375.9,467.3M390.3,471.9L384.3,486.6M382.6,487.3L369.4,479.4M369.4,479.4L373.6,469.0M373.6,469.0L375.9,467.3M378.4,496.9L382.6,487.3M397.0,492.4L384.3,486.6M362.7,464.4L373.6,469.0M376.6,454.9L375.9,467.3M412.6,496.8L417.4,482.2M462.4,535.8L460.9,535.9M460.9,535.9L449.8,531.9M463.7,517.9L458.2,515.0M435.0,547.6L444.3,551.5M444.3,551.5L449.3,531.9M507.5,417.7L500.5,422.6M507.5,417.7L499.9,405.2M494.9,407.4L499.9,405.2M495.6,422.2L500.5,422.6M514.4,431.1L507.8,417.8M505.2,435.5L500.5,422.6M515.1,414.4L511.6,401.3M515.1,414.4L507.8,417.8M511.6,401.3L508.9,400.8M490.3,407.2L494.9,407.4M500.2,404.6L494.8,390.1M510.8,450.4L505.0,453.1M505.2,435.5L494.4,440.1M494.4,440.1L505.0,453.1M505.6,467.7L500.7,459.8M543.9,450.2L534.2,454.7M553.8,457.2L550.4,450.8M516.9,479.7L523.2,494.6M521.5,471.5L531.6,489.4M338.0,324.8L327.8,325.8M338.0,324.8L340.6,312.6M340.6,312.6L329.8,310.5M326.2,324.4L327.8,325.8M326.2,324.4L329.4,310.8M316.0,337.6L328.3,341.6M316.0,337.6L318.0,323.9M328.3,341.6L327.8,325.8M285.5,348.7L289.1,348.8M285.5,348.7L276.9,337.5M289.7,348.5L294.1,337.5M281.1,333.5L276.9,337.5M281.1,333.5L290.1,333.8M290.1,333.8L294.1,337.5M276.2,356.0L285.5,348.7M282.8,367.8L279.5,367.7M290.2,358.4L289.1,348.8M303.3,335.3L294.1,337.5M302.7,352.6L303.5,335.5M302.7,352.6L289.7,348.5M219.2,248.1L227.5,240.3M219.2,248.1L225.1,258.2M227.5,240.3L237.0,247.4M227.1,258.6L225.1,258.2M227.1,258.6L237.0,251.9M237.0,251.9L237.0,247.4M244.5,240.7L237.0,247.4M227.4,235.3L232.3,228.9M227.4,235.3L227.5,240.3M214.2,266.1L225.1,258.2M246.3,259.4L237.0,251.9M193.5,239.9L208.3,230.3M193.5,239.9L193.7,242.7M193.7,242.7L204.6,254.6M208.6,230.4L214.9,247.3M184.7,253.8L189.8,264.8M184.7,253.8L193.7,242.7M210.0,230.2L227.4,235.3M219.2,248.1L214.9,247.3M244.7,321.6L234.7,331.6M244.7,321.6L237.0,312.1M237.0,312.1L235.0,311.9M227.1,300.0L235.0,311.9M223.2,319.3L215.1,307.5M192.7,311.4L203.2,328.4M209.8,310.6L205.1,328.1M203.2,328.4L205.1,328.1M189.1,309.0L192.7,311.4M213.6,307.4L209.8,310.6M223.2,319.3L212.7,330.3M212.7,330.3L205.1,328.1M199.6,346.8L205.1,349.8M199.6,346.8L190.0,352.0M207.6,360.5L209.2,357.1M199.6,346.8L197.5,333.1M212.7,330.3L216.5,336.6M197.5,333.1L203.2,328.4M205.1,349.8L216.5,336.6M173.8,349.8L186.7,349.0M173.8,349.8L173.3,332.1M186.7,349.0L184.1,332.7M173.7,331.8L181.1,331.1M190.0,352.0L186.7,349.0M197.5,333.1L184.1,332.7M186.5,305.6L169.7,306.3M189.1,309.0L181.1,331.1M303.0,453.3L293.2,444.2M278.8,451.9L293.2,444.2M329.3,342.8L338.8,336.3M329.8,346.0L334.7,349.6M334.7,349.6L349.5,349.3M338.8,336.3L344.8,338.0M344.8,338.0L350.1,348.7M328.3,341.6L329.3,342.8M338.0,324.8L340.0,326.9M340.0,326.9L338.8,336.3M322.3,353.2L329.8,346.0M322.3,353.2L311.7,351.9M316.0,337.6L312.8,338.6M311.7,351.9L312.8,338.6M360.4,347.6L356.6,346.4M356.6,346.4L350.1,348.7M349.2,361.9L349.5,349.3M275.9,379.1L281.9,388.8M282.8,367.8L289.0,370.6M283.6,389.4L281.9,388.8M283.6,389.4L289.6,386.0M289.0,370.6L289.6,386.0M244.4,426.2L252.6,435.2M252.6,435.2L252.1,436.3M264.5,427.9L278.6,421.5M264.5,427.9L263.7,430.2M278.6,421.5L285.2,430.9M278.8,451.9L271.9,444.5M271.9,444.5L271.7,442.3M259.3,460.3L247.3,468.4M259.3,460.3L257.9,451.2M257.9,451.2L256.0,449.9M256.0,449.9L241.0,453.3M247.3,468.4L240.6,456.0M240.6,456.0L241.0,453.3M267.0,464.4L259.3,460.3M252.6,435.2L263.7,430.2M252.1,436.3L256.0,449.9M236.5,444.6L241.0,453.3M225.7,463.6L240.6,456.0M234.7,331.9L245.6,341.7M234.7,331.9L224.1,341.2M224.1,341.2L224.5,342.8M245.6,341.7L243.9,349.1M222.7,354.6L224.5,342.8M244.7,353.6L243.9,349.1M226.2,371.2L222.9,354.8M226.2,371.2L242.5,366.7M242.5,366.7L242.6,357.0M225.5,372.3L226.2,371.2M243.6,368.0L242.5,366.7M244.7,353.6L242.6,357.0M489.9,509.4L497.5,506.7M508.1,507.9L497.5,506.7M489.9,509.6L496.7,520.5M508.1,507.9L511.0,513.7M511.0,513.7L508.2,517.4M586.4,564.7L576.5,574.7M586.4,564.7L572.0,552.4M563.9,558.9L572.0,552.4M500.2,640.3L494.0,627.6M500.2,640.3L504.2,640.1M504.2,640.1L511.8,629.9M495.6,620.9L494.0,627.6M521.5,647.9L514.1,629.2M521.5,647.9L515.5,653.1M514.1,629.2L511.8,629.9M494.3,617.4L495.6,620.9M514.1,629.2L518.6,625.2M518.6,625.2L519.2,622.6M507.5,609.5L519.2,622.6M473.5,591.1L466.7,607.4M474.2,590.9L481.6,594.9M473.6,612.0L482.7,598.0M473.6,612.0L467.0,607.9M481.6,594.9L482.7,598.0M492.4,616.4L490.1,603.4M456.6,625.0L455.0,622.2M455.0,622.2L467.0,607.9M585.5,671.9L570.7,661.2M570.7,661.2L578.2,650.4M602.8,657.0L588.6,645.5M521.5,647.9L527.4,646.2M533.8,636.4L527.4,646.2M537.8,660.8L538.8,658.5M527.4,646.2L538.8,658.5M616.4,619.7L618.0,619.7M620.5,641.7L606.0,629.6M607.1,626.7L606.0,629.6M608.1,652.6L600.8,633.6M589.0,644.3L588.6,645.5M589.0,644.3L600.7,633.6M436.0,613.9L443.9,617.8M436.0,613.9L428.2,628.0M443.9,617.8L439.2,633.5M428.2,628.0L435.9,633.6M446.6,638.1L439.2,633.5M449.2,617.7L443.9,617.8M422.3,645.1L419.2,641.8M827.2,634.7L821.1,633.5M821.1,633.5L813.7,625.4M836.0,606.1L837.4,605.9M836.0,606.1L812.5,620.6M812.5,620.6L813.7,625.4M808.3,651.8L807.5,649.0M834.1,641.4L827.2,634.7M807.5,649.0L821.1,633.5M853.1,618.5L837.6,606.2M838.1,601.2L837.4,605.9M806.3,593.5L811.7,600.6M811.7,600.6L836.0,606.1M811.7,600.6L807.7,617.5M807.7,617.5L812.5,620.6M807.5,649.0L799.9,641.8M783.4,654.8L799.9,641.8M813.7,625.4L799.0,639.5M799.0,639.5L799.9,641.8M762.3,664.0L763.4,661.4M744.6,642.4L746.1,641.3M746.1,641.3L753.1,640.2M682.2,548.7L691.0,547.6M682.2,548.7L679.8,572.9M697.3,572.1L685.3,574.8M738.2,590.8L725.9,593.2M731.6,566.4L719.5,568.5M725.9,593.2L719.5,568.5M697.3,572.1L700.0,597.1M700.0,597.1L712.6,595.3M712.6,595.3L709.2,570.6M763.5,566.1L757.8,550.7M742.2,563.5L745.8,557.0M745.8,557.0L757.8,550.7M769.2,542.5L758.0,550.4M745.8,557.0L735.7,539.2M758.0,550.4L742.7,534.7M735.7,539.2L742.7,534.7M756.3,526.1L743.0,534.2M599.0,525.7L596.7,527.0M599.0,525.7L594.3,510.4M585.2,514.0L593.8,510.1M677.4,519.6L677.0,546.8M799.8,617.1L791.5,608.8M799.8,617.1L792.1,633.2M791.5,608.8L779.7,621.6M792.1,633.2L789.1,633.2M779.7,621.6L780.7,627.8M807.7,617.5L799.8,617.1M799.0,639.5L792.1,633.2M777.0,650.6L789.1,633.2M554.2,675.7L559.2,670.4M559.2,670.4L561.0,669.8M568.3,661.7L561.0,669.8M568.3,661.7L570.7,661.2M546.0,654.8L559.2,670.4M1017.7,440.1L1025.6,424.3M1039.4,430.0L1025.7,424.3M1036.9,405.1L1034.0,405.3M1031.1,383.6L1025.9,379.1M1031.1,383.6L1025.1,398.6M1025.1,398.6L1020.3,398.4M1003.7,434.8L989.7,448.9M985.4,448.9L979.6,473.1M989.7,448.9L985.5,448.7M1014.3,394.0L1001.2,401.6M996.6,388.7L994.7,391.2M1001.2,401.6L994.7,391.2M982.2,388.7L985.5,393.8M985.5,393.8L994.7,391.2M938.3,496.6L965.9,478.7M949.2,504.2L969.8,500.7M965.9,478.7L969.8,500.7M953.7,523.6L949.2,504.2M931.5,495.3L938.3,496.6M967.1,474.9L965.9,478.7M1009.4,544.9L1003.3,543.7M1009.4,544.9L1020.6,522.5M1003.3,543.7L996.2,536.9M994.8,530.0L996.2,536.9M1020.6,522.5L1019.9,520.4M1017.7,553.5L1009.4,544.9M980.8,567.3L1003.3,543.7M1044.2,532.8L1020.6,522.5M974.1,541.9L996.2,536.9M987.9,522.9L994.8,530.0M997.0,503.8L1008.8,513.4M962.7,436.0L962.1,437.3M943.1,423.5L957.5,418.3M943.1,423.5L942.6,437.4M978.6,432.1L981.3,433.7M978.6,432.1L962.7,436.0M965.9,450.0L962.1,437.3M949.1,453.9L965.1,451.4M949.1,453.9L941.5,464.9M941.8,465.3L966.5,474.3M966.5,474.3L965.1,451.4M965.9,450.0L965.1,451.4M947.9,440.5L949.1,453.9M930.1,443.2L935.0,460.8M930.1,443.2L942.6,437.4M935.0,460.8L941.5,464.9M874.5,417.3L871.4,430.0M929.2,442.8L908.8,448.8M908.8,448.8L908.2,455.0M935.0,460.8L912.6,465.8M908.2,455.0L912.6,465.8M922.2,309.7L917.0,318.8M927.5,326.0L917.0,318.8M906.2,316.1L913.0,319.8M910.3,302.9L908.7,303.8M905.0,312.8L908.7,303.8M917.0,318.8L913.0,319.8M898.4,331.1L911.5,333.3M899.9,323.4L898.1,330.2M1030.0,477.3L1022.1,494.6M1030.0,477.3L1034.7,476.9M1034.7,476.9L1044.8,482.7M1044.8,482.7L1052.3,499.6M1022.1,494.6L1033.7,503.3M1033.7,503.3L1052.2,502.2M1018.7,470.5L1030.0,477.3M1020.2,494.6L1022.1,494.6M1039.4,458.5L1034.7,476.9M1056.1,465.8L1044.8,482.7M1019.9,520.4L1033.7,503.3M1053.7,518.3L1053.0,503.3M1086.6,488.6L1075.8,503.2M1086.6,488.6L1095.8,490.6M1075.8,503.2L1084.2,512.8M1089.5,512.6L1084.2,512.8M1053.0,503.3L1075.8,503.2M1084.9,486.1L1086.6,488.6M1109.0,474.1L1095.8,490.6M1111.9,503.1L1099.4,496.5M1101.7,521.2L1089.5,512.6M1077.6,527.1L1084.2,512.8M359.1,312.1L363.7,324.2M352.6,326.1L363.7,324.2M369.7,318.6L369.9,315.8M369.7,318.6L363.7,324.2M379.4,324.2L368.3,331.4M347.5,364.0L352.0,376.3M347.5,364.0L337.1,365.2M337.1,365.2L335.8,366.5M338.7,381.8L348.8,380.0M348.8,380.0L352.0,376.3M349.2,361.9L347.5,364.0M334.7,349.6L337.1,365.2M323.1,367.0L335.8,366.5M323.1,367.0L322.3,353.2M322.4,367.8L325.8,383.2M515.2,193.4L505.7,186.2M511.8,198.9L501.6,193.3M504.5,187.0L501.6,191.4M501.6,193.3L501.6,191.4M517.2,192.4L515.2,193.4M508.5,180.5L505.7,186.2M511.8,200.5L511.8,198.9M524.5,224.7L525.0,228.0M516.6,216.5L512.3,222.4M512.3,222.4L512.1,224.5M530.7,228.5L536.2,224.2M536.2,224.2L529.2,216.1M528.4,216.3L524.5,224.7M525.9,229.7L525.0,228.0M519.7,212.7L516.9,216.4M521.8,235.9L518.5,237.1M521.8,235.9L525.2,231.7M525.2,231.7L525.9,229.7M518.5,237.1L509.9,228.2M509.9,228.2L512.1,224.5M502.5,215.8L501.0,217.0M502.5,215.8L512.3,222.4M498.7,221.3L501.0,217.0M498.7,221.3L508.3,228.8M511.8,200.5L508.1,205.3M501.6,193.3L498.1,198.9M498.1,198.9L508.1,205.3M502.5,215.8L504.5,211.4M516.6,216.5L505.7,210.5M504.5,211.4L505.7,210.5M505.7,210.5L508.1,205.5M339.4,214.0L348.9,215.5M364.2,201.2L361.1,214.0M364.2,201.2L363.0,200.1M363.0,200.1L349.9,201.4M360.2,214.5L351.5,213.2M351.1,297.2L355.7,284.8M342.6,281.9L340.2,284.0M342.6,281.9L355.6,284.7M368.9,186.4L361.3,188.4M368.9,186.4L373.9,199.9M363.0,200.1L361.3,188.4M371.5,201.2L373.9,199.9M382.9,207.4L375.6,214.9M382.9,207.4L375.1,199.8M373.9,199.9L375.1,199.8M370.2,215.6L372.3,214.5M411.6,211.8L415.2,218.1M411.6,211.8L412.3,209.8M412.3,209.8L419.0,207.0M418.4,218.8L424.4,211.2M419.0,207.0L424.3,211.0M451.4,227.0L457.3,233.1M438.6,214.0L433.0,205.1M438.6,214.0L444.1,214.8M444.6,213.4L437.4,201.4M437.4,201.4L433.0,205.1M431.2,205.0L433.0,205.1M431.2,205.0L424.3,211.0M430.9,218.6L424.4,211.2M430.9,218.6L438.6,214.0M438.0,200.7L449.0,203.9M449.0,203.9L444.6,213.4M450.1,220.6L446.7,218.8M446.7,218.8L438.2,226.9M451.4,227.0L442.9,234.2M438.2,226.9L442.9,234.2M441.3,248.1L447.6,241.3M441.3,248.1L440.0,248.0M434.6,240.5L434.9,238.6M434.9,238.6L442.7,235.7M447.9,241.3L456.7,236.9M457.3,233.1L456.7,236.9M442.7,235.7L442.9,234.2M808.6,483.9L807.5,482.3M807.5,482.3L810.5,470.8M824.8,483.6L823.8,470.4M810.5,470.8L823.8,470.4M839.7,471.7L824.3,469.8M839.7,471.7L841.1,470.6M838.5,457.1L825.4,457.6M836.7,485.2L839.7,471.7M829.4,413.6L827.8,425.9M816.1,412.3L814.8,426.2M814.8,426.2L827.8,425.9M840.1,443.0L827.2,441.2M823.9,455.8L825.4,457.6M823.9,455.8L824.7,442.8M824.7,442.8L827.2,441.2M842.8,428.6L828.5,426.7M827.2,441.2L828.5,426.7M844.3,416.5L841.9,413.5M841.9,413.5L830.6,412.3M852.3,500.4L848.9,486.6M848.9,486.6L838.5,487.6M838.5,487.6L837.4,497.0M863.7,497.8L852.3,500.4M848.6,515.4L852.0,500.6M831.3,504.5L837.4,497.0M836.7,485.2L838.5,487.6M838.6,396.6L845.2,404.5M838.6,396.6L843.3,388.6M845.5,387.9L854.7,393.5M845.2,404.5L856.9,401.3M856.9,401.3L854.7,393.5M829.3,399.0L838.6,396.6M841.9,413.5L845.2,404.5M832.5,381.2L829.2,381.6M832.5,381.2L843.3,388.6M849.6,377.6L845.5,387.9M832.5,381.2L837.6,374.5M837.6,374.5L843.9,373.1M849.1,376.4L843.9,373.1M860.8,380.1L862.4,385.1M858.3,402.3L856.9,401.3M874.1,362.8L883.8,370.2M874.1,362.8L875.1,361.0M888.8,357.5L889.9,364.6M889.9,364.6L883.8,370.2M877.3,380.3L873.0,389.8M880.8,378.7L891.5,386.2M873.2,390.4L886.0,395.2M862.4,385.1L873.0,389.8M883.8,370.2L883.9,372.1M869.0,400.2L873.2,390.4M941.0,399.2L938.6,391.0M938.6,391.0L926.1,387.6M922.4,398.8L921.2,396.8M921.2,396.8L926.1,387.6M928.1,376.6L924.5,384.0M938.6,391.0L940.9,382.9M940.9,382.9L939.7,380.2M924.5,384.0L926.1,387.6M862.6,297.1L870.6,296.2M862.6,297.1L859.1,295.5M873.7,286.6L862.9,281.3M859.1,295.5L862.2,281.6M859.8,267.2L866.8,271.9M859.8,267.2L853.5,278.2M862.2,281.6L853.6,279.5M853.5,278.2L853.6,279.5M949.6,261.2L948.7,260.2M933.8,263.2L935.4,260.8M948.7,260.2L935.4,260.8M999.2,234.3L995.3,229.1M979.0,238.7L981.2,226.6M981.2,226.6L995.3,229.1M1002.6,216.0L995.9,219.1M995.3,229.1L995.9,219.1M1000.3,204.2L991.4,206.9M990.9,214.5L995.9,219.1M981.2,226.6L980.0,224.7M990.9,214.5L980.4,219.0M980.4,219.0L980.0,224.7M964.7,235.7L965.9,227.0M980.0,224.7L965.9,227.0M951.3,236.2L951.7,223.2M951.3,236.2L964.7,235.7M951.7,223.2L963.9,223.9M930.0,264.8L919.3,257.9M935.4,260.8L933.9,253.0M933.9,253.0L922.9,250.3M919.3,257.9L922.9,250.3M324.7,211.0L317.3,210.2M313.7,198.7L327.3,196.2M327.3,196.2L331.8,200.2M327.0,214.5L324.7,211.0M337.0,215.8L339.4,214.0M327.0,214.5L325.7,225.6M313.1,223.2L314.9,225.5M325.7,225.6L322.8,227.3M303.4,211.1L301.6,208.7M301.6,208.7L305.4,198.0M312.6,197.8L305.4,198.0M312.6,197.8L313.7,198.7M314.9,225.5L309.3,238.3M301.1,223.1L299.1,224.6M299.1,224.6L302.1,236.9M302.1,236.9L309.3,238.3M286.2,264.8L294.9,267.4M285.0,279.9L296.2,279.8M294.9,267.4L296.2,279.8M687.3,172.4L690.0,167.8M686.2,172.9L680.2,167.9M680.2,167.9L683.7,163.3M689.9,167.7L683.7,163.3M610.8,109.6L609.8,108.6M609.8,108.6L612.5,102.0M758.7,262.8L759.8,260.8M758.7,262.8L748.7,261.7M759.8,260.8L758.0,253.0M748.7,261.7L747.6,255.6M747.6,255.6L757.4,252.5M759.4,266.8L758.7,262.8M767.4,259.5L759.8,260.8M759.2,267.7L750.1,271.4M768.0,252.7L765.7,251.0M765.7,251.0L758.0,253.0M754.6,244.3L756.0,246.4M746.2,254.4L747.6,255.6M745.4,251.4L746.1,249.2M756.0,246.4L757.4,252.5M780.2,271.3L782.0,276.6M883.4,265.2L874.4,261.0M879.2,277.7L881.0,276.9M879.2,277.7L870.2,270.5M870.2,270.5L874.4,261.0M895.5,272.0L898.9,263.5M895.5,272.0L884.6,269.5M890.9,259.2L883.4,265.2M873.7,286.6L875.9,285.6M866.8,271.9L870.2,270.5M875.9,285.6L879.2,277.7M588.1,50.1L587.5,57.4M593.3,51.7L592.3,57.9M629.4,138.2L622.4,140.3M630.6,117.2L636.8,116.1M630.6,117.2L628.8,112.5M628.8,112.5L633.7,107.8M633.1,125.3L638.5,120.9M629.5,118.5L630.6,117.2M638.5,120.9L636.8,116.1M605.6,108.8L601.9,107.8M605.6,108.8L607.3,108.2M604.2,115.5L605.6,108.8M609.8,108.6L607.3,108.2M607.9,100.5L605.8,101.3M679.5,168.1L677.9,173.3M683.5,177.8L681.8,178.5M681.8,178.5L677.9,173.3M679.5,168.1L676.8,167.0M676.8,167.0L671.7,169.7M671.7,169.7L673.1,174.1M650.3,467.3L639.3,458.1M650.3,467.3L655.4,461.2M655.4,461.1L641.9,454.6M639.3,458.1L641.9,454.6M658.2,454.9L655.4,461.1M658.2,454.9L648.1,447.2M648.1,447.2L642.5,452.9M642.5,452.9L641.9,454.6M793.9,496.9L791.4,481.6M779.5,482.1L791.4,481.6M807.5,482.3L792.3,480.9M655.4,461.2L666.3,469.7M650.2,467.6L661.5,476.4M661.5,476.4L665.2,472.5M733.9,492.9L730.0,494.6M728.3,515.2L735.2,515.5M728.3,515.2L723.0,503.3M723.0,503.3L724.2,500.4M739.1,483.0L738.7,478.3M748.3,469.5L738.7,478.3M750.9,485.7L754.6,477.0M749.4,469.4L754.6,477.0M748.3,469.5L739.0,459.2M739.3,457.3L741.1,455.4M741.1,455.4L758.0,461.8M749.4,469.4L758.0,461.8M788.5,299.8L786.0,298.2M792.9,299.4L794.3,298.4M794.3,298.4L790.9,285.5M786.0,298.2L783.7,291.4M781.3,278.3L773.0,281.4M784.8,286.7L773.9,286.5M770.9,272.7L771.7,280.2M816.2,392.0L804.6,393.9M806.9,373.7L798.2,377.1M830.9,363.8L837.6,374.5M830.9,363.8L829.1,363.9M829.1,363.9L825.8,365.1M862.6,297.1L864.3,312.3M864.3,312.3L869.0,311.3M866.5,348.3L863.9,349.0M857.6,356.0L863.9,349.0M749.1,424.5L758.7,435.4M749.1,424.5L753.5,419.6M759.9,435.1L758.7,435.4M759.9,435.1L766.2,429.0M753.5,419.6L766.2,429.0M712.3,362.8L709.9,370.6M712.3,362.8L700.0,359.6M709.9,370.6L697.9,366.3M697.9,366.3L699.2,360.3M694.9,369.1L697.9,366.3M688.7,355.1L699.2,360.3M700.0,359.6L702.8,352.1M762.0,459.8L748.8,447.0M758.0,461.8L761.9,460.2M776.8,366.1L775.7,365.6M775.7,365.6L769.3,371.0M769.3,371.0L767.1,377.7M769.3,371.0L756.4,367.0M758.4,358.1L775.3,364.5M784.2,347.5L779.1,331.8M784.2,347.5L777.5,350.8M777.5,350.8L772.2,345.3M772.2,345.3L774.6,334.3M774.6,334.3L779.1,331.8M778.9,402.2L762.3,406.2M776.5,398.1L764.6,394.6M749.1,399.1L753.7,400.6M754.5,415.0L744.3,408.7M756.0,414.0L760.5,407.0M744.3,408.7L745.8,401.6M729.7,266.3L738.4,265.1M729.7,266.3L727.9,261.0M727.9,261.0L737.3,258.7M737.3,258.7L738.5,264.7M748.3,262.3L738.5,264.7M740.0,271.5L738.4,265.1M727.4,260.4L727.1,255.4M663.8,341.4L668.8,334.7M677.5,336.6L675.4,344.2M677.5,336.6L669.9,334.4M680.7,328.4L692.5,334.4M677.9,336.3L690.8,341.7M692.5,334.4L691.7,340.7M690.8,341.7L691.7,340.7M680.0,324.9L670.7,325.2M669.9,334.4L670.7,325.2M675.4,344.2L676.2,346.7M688.9,347.9L690.8,341.7M684.4,400.9L684.0,405.4M684.0,405.4L697.5,409.4M706.1,429.5L707.9,424.0M707.9,424.0L696.7,413.7M703.4,430.6L691.2,418.8M684.0,405.4L681.5,408.9M681.5,408.9L690.6,419.0M696.7,413.7L697.8,409.6M679.4,409.8L668.1,399.6M679.4,409.8L675.2,415.1M672.7,416.2L662.9,405.9M662.9,405.9L663.3,404.6M663.3,404.6L666.9,400.1M666.9,400.1L668.1,399.6M672.3,395.0L668.1,399.6M681.5,408.9L679.4,409.8M685.9,424.6L690.6,419.0M685.9,424.6L675.2,415.1M681.4,430.6L685.3,427.1M681.4,430.6L669.3,422.4M669.5,421.6L672.7,416.2M685.3,427.1L685.9,424.6M656.5,411.6L662.9,405.9M656.5,411.6L656.1,413.0M656.1,413.0L669.5,421.6M656.5,411.6L646.5,402.3M650.3,396.4L663.3,404.6M656.8,389.1L666.9,400.1M663.6,341.4L666.8,355.4M663.6,341.4L661.4,341.0M665.8,356.0L656.3,348.7M674.3,351.3L666.8,355.4M658.6,333.0L661.4,341.0M654.8,331.9L650.6,333.6M654.8,331.9L658.6,333.0M650.6,333.6L649.2,336.8M652.5,343.3L656.1,344.5M676.8,365.9L666.6,355.7M654.8,331.9L653.6,321.4M645.6,328.5L653.6,321.4M641.7,338.8L638.6,332.9M638.6,332.9L645.2,328.4M650.8,306.2L644.9,308.2M650.8,306.2L655.3,314.0M655.3,314.0L654.7,318.8M644.7,308.6L649.2,318.2M649.2,318.2L654.2,319.1M649.2,318.2L642.4,320.0M638.7,313.8L642.4,320.0M638.6,332.9L637.4,332.3M637.4,332.3L635.0,324.8M645.2,328.4L641.8,321.5M635.0,324.8L641.8,321.5M642.4,320.0L641.8,321.5M656.1,413.0L652.5,417.8M646.5,402.3L641.0,407.7M652.5,417.8L641.0,407.7M627.5,374.6L615.0,376.9M613.9,365.2L628.1,365.5M613.9,365.2L612.2,367.8M623.8,386.4L616.2,386.6M616.2,386.6L614.6,377.5M499.0,311.5L502.8,303.0M499.0,311.5L509.1,314.3M502.8,303.0L512.2,306.8M509.1,314.3L512.2,306.8M537.1,297.7L546.8,300.1M537.1,297.7L535.1,306.0M547.2,302.2L546.8,300.1M542.6,309.4L535.1,306.0M522.0,310.8L512.4,306.7M512.4,306.7L515.4,299.0M506.0,294.3L515.0,297.9M506.0,294.3L502.6,302.3M505.8,293.9L496.8,291.5M498.1,270.2L488.4,262.1M486.4,274.0L489.4,275.7M470.7,348.3L474.3,356.6M483.6,352.6L479.2,343.8M460.6,242.2L456.7,236.9M460.6,242.2L455.0,251.2M455.0,251.2L453.7,251.1M441.3,248.1L446.4,255.6M453.7,251.1L446.4,255.6M452.6,264.4L446.4,255.9M460.7,256.3L455.0,251.2M460.7,256.6L452.7,264.4M494.0,251.0L499.5,245.4M499.8,244.3L487.4,238.9M484.1,243.9L480.8,249.1M484.1,243.9L472.0,238.9M480.8,249.1L468.2,244.5M471.3,239.3L468.1,244.1M463.2,230.1L471.3,239.3M460.6,242.2L468.1,244.1M467.9,249.4L460.7,256.3M467.9,249.4L468.2,244.5M476.7,256.8L480.8,249.7M476.7,256.8L488.4,261.4M480.8,249.7L490.5,256.8M488.4,261.4L490.1,259.0M490.1,259.0L490.5,256.8M475.6,257.4L467.9,249.4M475.6,257.4L476.7,256.8M493.9,251.7L490.5,256.8M498.1,270.2L501.7,264.5M501.7,264.5L501.9,262.1M501.9,262.1L490.1,259.0M501.9,262.1L504.2,258.4M504.2,258.4L493.9,251.7M494.8,227.1L504.1,234.0M494.8,227.1L493.3,228.0M493.3,228.0L490.7,233.3M501.4,238.5L504.1,234.1M497.8,221.9L494.8,227.1M483.7,221.2L486.7,216.0M483.7,221.2L493.3,228.0M487.4,238.9L490.7,233.6M515.4,241.3L518.5,237.1M446.1,386.2L445.4,393.1M458.9,394.5L445.4,393.1M408.6,338.2L409.5,336.1M391.2,333.7L402.2,328.8M409.5,336.1L402.2,328.8M377.5,311.7L369.9,315.8M377.5,311.7L382.7,320.5M387.2,333.0L384.8,326.2M382.6,323.9L384.8,326.2M509.8,382.3L502.2,369.6M509.3,383.2L504.8,385.9M502.2,369.6L495.3,373.2M495.3,373.2L502.2,386.1M517.8,398.2L519.5,394.1M519.5,394.1L509.3,383.2M508.9,400.8L504.8,385.9M493.0,373.0L495.3,373.2M517.8,398.2L526.3,407.7M526.3,407.7L525.0,410.1M514.4,431.1L523.2,427.0M539.5,367.1L546.3,365.2M539.5,367.1L538.4,356.9M546.3,365.2L544.8,358.3M538.4,356.9L544.8,358.3M555.5,355.5L555.1,364.2M555.1,364.2L547.1,365.7M634.7,343.2L627.9,348.3M634.7,343.2L629.5,336.4M627.9,348.3L623.5,340.9M629.5,336.4L623.5,340.9M636.2,343.5L634.7,343.2M629.8,335.6L637.4,332.3M623.4,340.8L618.7,343.5M622.7,352.1L619.1,350.9M619.1,350.9L618.7,343.5M765.7,251.0L765.9,245.5M756.0,246.4L765.4,245.0M727.1,255.4L724.4,253.0M717.8,263.1L718.6,254.9M718.6,254.9L724.4,253.0M661.3,271.1L667.2,267.2M663.2,278.0L664.9,278.8M664.9,278.8L672.5,275.1M664.3,260.3L671.3,253.1M667.6,265.8L674.3,263.5M684.9,279.4L676.3,281.4M676.3,281.4L673.3,275.3M673.3,275.3L679.2,270.1M614.5,227.5L621.2,226.2M619.3,220.0L621.2,226.2M653.6,209.6L655.2,215.0M653.6,209.6L646.9,211.1M648.9,217.2L646.4,212.2M648.9,217.2L655.1,215.4M646.9,211.1L646.4,212.2M648.7,217.8L642.6,220.6M640.3,213.7L646.4,212.2M640.3,213.7L641.0,219.8M641.0,219.8L642.6,220.6M680.2,222.5L683.1,217.9M680.2,222.5L686.6,227.9M683.1,217.9L690.8,220.8M690.8,220.8L688.7,226.9M678.6,223.2L676.4,228.6M678.6,223.2L680.2,222.5M684.8,232.1L676.4,228.6M684.8,232.1L686.6,227.9M694.7,232.2L694.1,230.1M694.1,230.1L688.7,226.9M684.8,232.1L685.1,233.9M692.3,235.9L685.1,233.9M694.1,230.1L697.7,224.6M690.9,220.7L697.7,224.6M132.0,46.7L139.9,41.8M132.0,46.7L118.9,25.3M139.9,41.8L137.6,16.9M119.5,24.4L137.1,16.8M131.1,48.3L132.0,46.7M107.7,30.1L118.9,25.3M111.2,0.8L119.5,24.4M673.5,313.7L673.9,312.0M673.5,313.7L680.7,323.6M684.9,317.0L680.5,309.0M684.9,317.0L681.2,323.3M673.9,312.0L680.5,309.0M687.7,306.1L681.1,307.5M688.8,315.0L689.8,308.5M681.1,307.5L680.5,309.0M658.9,320.1L666.3,317.6M658.9,320.1L663.1,328.5M666.3,317.6L670.7,325.2M663.1,328.5L670.7,325.2M654.7,318.8L658.9,320.1M680.0,324.9L680.7,323.6M673.5,313.7L666.4,317.4M629.9,297.4L635.4,293.8M633.0,305.7L640.0,302.2M635.6,293.8L640.0,302.2M633.0,305.7L636.0,313.2M636.0,313.2L638.7,313.8M628.0,278.4L634.9,273.8M627.9,278.8L631.9,284.5M639.6,282.8L645.4,278.2M641.1,270.5L635.0,273.8M630.9,287.2L635.4,293.8M630.9,287.2L631.9,284.5M635.6,293.8L642.5,289.7M675.7,282.8L679.0,289.7M675.7,282.8L668.5,286.0M668.5,286.0L672.5,293.8M679.0,289.7L672.5,293.8M664.9,278.8L667.6,285.8M676.3,281.4L675.7,282.8M667.6,285.8L661.9,289.6M672.5,293.8L665.9,296.6M661.8,289.6L665.9,296.6M548.3,297.2L559.0,296.7M548.3,297.2L547.1,290.3M559.5,295.0L559.0,296.7M559.5,295.0L550.9,287.5M564.6,308.3L568.9,301.8M564.6,308.3L558.0,304.4M568.9,301.8L559.3,298.0M561.3,316.2L565.0,309.5M555.2,306.1L558.0,304.4M559.0,296.7L559.3,298.0M575.4,248.5L571.3,252.9M571.2,253.2L579.9,260.3M579.9,260.3L584.2,256.8M584.3,256.6L586.9,253.4M575.5,248.3L581.4,243.7M528.8,245.5L521.8,235.9M525.2,231.7L535.8,241.0M535.8,241.0L529.9,245.3M537.5,190.0L546.0,198.5M541.9,183.0L550.0,194.8M546.0,198.5L550.0,194.8M579.3,198.8L572.4,189.0M579.1,199.2L575.4,201.6M580.4,181.7L588.3,189.5M580.4,181.7L576.0,185.7M576.0,185.7L583.8,194.0M564.1,182.3L564.8,179.6M564.8,179.6L567.5,177.1M572.4,189.0L576.0,185.7M568.3,176.9L576.0,185.7M555.0,175.9L554.0,176.9M555.7,173.2L548.7,166.1M551.8,177.5L554.0,176.9M551.8,177.5L545.6,169.6M547.0,167.1L548.7,166.1M560.7,186.3L558.4,186.8M564.8,179.6L555.0,175.9M567.5,177.1L560.9,168.6M551.3,161.4L548.7,166.1M546.7,181.7L551.8,177.5M546.7,181.7L556.2,188.8M541.9,183.0L546.7,181.7M569.6,138.5L568.9,145.7M568.9,145.7L565.9,146.7M565.9,146.7L564.7,152.5M595.4,196.8L592.5,190.1M595.4,196.8L595.0,198.3M592.2,201.5L595.0,198.3M592.5,190.1L590.5,188.8M608.5,165.3L613.7,162.4M608.5,165.3L610.7,170.5M610.7,170.5L618.0,168.8M602.5,167.6L603.6,173.0M610.2,171.6L610.7,170.5M618.5,174.6L618.0,168.8M621.0,159.9L619.1,155.5M621.0,159.9L614.6,162.9M621.8,160.4L623.1,166.6M585.6,240.5L589.1,236.2M592.5,248.0L597.3,245.0M597.3,245.0L589.1,236.2M606.0,207.5L600.3,209.0M606.0,207.5L607.1,205.0M600.3,209.0L601.2,200.8M601.2,200.8L604.8,199.4M609.2,210.6L606.0,207.5M592.1,202.1L599.9,209.2M627.3,178.7L626.3,173.5M628.2,179.3L635.1,175.1M626.9,171.9L626.3,173.5M626.9,171.9L632.4,170.3M632.4,170.3L633.7,171.0M629.3,184.7L629.8,183.4M620.5,180.3L627.3,178.7M629.8,183.4L628.2,179.3M618.5,174.6L626.3,173.5M636.9,182.4L635.1,175.1M636.9,182.4L629.8,183.4M623.3,166.6L626.9,171.9M623.3,166.6L629.9,163.3M631.2,163.9L629.9,163.3M631.2,163.9L632.4,170.3M620.9,200.4L622.1,206.4M614.2,203.8L615.8,208.0M616.5,195.2L611.9,197.3M611.9,197.3L612.4,202.7M612.4,202.7L614.2,203.8M626.4,198.4L620.9,200.4M612.4,202.7L607.1,205.0M623.8,212.4L622.0,206.6M604.9,199.0L610.4,196.7M604.9,199.0L602.0,193.4M608.2,191.5L602.3,192.5M595.4,196.8L602.0,193.4M600.5,187.9L592.5,190.1M600.5,187.9L602.3,192.5M522.8,156.6L511.0,153.1M508.8,158.7L508.7,156.8M511.0,153.1L508.7,156.8M505.3,163.4L503.1,164.5M500.8,168.0L503.1,164.5M491.0,187.5L491.0,185.4M491.0,187.5L501.6,191.4M491.0,185.4L493.5,179.6M479.2,181.0L479.4,178.8M493.5,179.1L482.9,174.9M479.4,178.8L482.9,174.9M638.9,0.1L639.1,6.9M636.6,-0.5L632.3,4.8M637.8,7.3L634.6,6.9M634.6,6.9L632.3,4.8M642.2,7.9L639.1,6.9M630.4,4.4L632.3,4.8M630.4,4.4L629.5,-1.8M352.1,187.4L360.8,188.1M404.0,155.4L404.3,145.7M413.6,147.5L404.8,145.2M290.6,197.7L278.4,196.6M282.0,211.4L277.5,207.2M282.0,211.4L289.7,210.8M277.5,207.2L275.6,197.9M289.7,210.8L292.0,208.4M293.2,195.2L290.6,197.7M291.4,182.4L286.5,177.5M286.5,177.5L278.4,196.6M301.6,208.7L292.0,208.4M303.0,196.0L305.4,198.0M278.7,222.1L282.0,211.4M290.4,225.4L293.8,223.6M293.8,223.6L289.7,210.8M293.8,223.6L299.1,224.6M153.8,154.1L165.8,147.6M165.8,147.6L176.8,167.6M220.1,181.3L208.5,192.8M220.1,181.3L219.5,178.0M219.5,178.0L197.0,182.2M198.5,168.2L211.6,165.9M198.5,168.2L196.7,182.1M211.6,165.9L221.7,167.6M221.7,167.6L219.5,178.0M265.4,215.4L263.6,214.5M251.0,223.9L251.0,222.3M251.0,222.3L263.6,214.5M232.3,228.9L232.0,227.0M210.0,230.2L225.9,218.2M225.9,218.2L232.0,227.0M247.3,135.2L237.2,147.0M237.2,147.0L242.7,153.4M242.7,153.4L255.7,144.1M266.3,133.9L274.7,146.1M274.7,146.1L261.5,152.1M546.3,133.6L547.5,126.5M550.7,134.1L551.8,127.3M547.5,126.5L549.2,126.3M549.2,126.3L551.8,127.3M557.7,128.6L552.1,127.2M373.2,76.6L372.2,73.0M369.1,83.2L359.1,77.6M372.2,73.0L360.9,71.9M359.1,77.6L360.9,71.9M367.3,89.6L369.2,83.7M367.3,89.6L373.9,94.9M369.2,83.7L381.0,87.2M379.2,93.6L376.5,95.5M379.2,93.6L381.4,88.6M381.4,88.6L381.0,87.2M373.9,94.9L376.5,95.5M373.2,76.6L382.9,77.9M382.9,77.9L383.4,79.6M383.4,79.6L381.0,87.2M392.7,92.2L386.3,98.8M386.3,98.8L379.2,93.6M383.4,79.6L394.7,84.4M392.3,91.1L394.7,84.4M377.6,105.7L376.5,95.5M377.6,105.7L368.5,106.2M368.5,106.2L365.3,103.7M360.3,98.6L352.8,95.4M352.8,95.4L347.8,99.7M347.8,99.7L348.6,106.6M348.6,106.6L354.4,111.4M364.2,91.5L367.3,89.6M364.2,91.5L360.3,98.6M365.3,103.7L361.6,102.5M368.1,115.3L364.9,117.5M354.4,111.4L354.4,114.9M364.9,117.5L354.4,114.9M335.4,116.4L352.8,117.2M334.9,123.5L345.5,131.2M345.5,131.2L352.7,123.1M352.7,123.1L352.8,117.2M348.6,106.6L334.9,108.7M352.8,117.2L354.4,114.9M352.8,95.4L351.5,91.5M347.8,99.7L338.7,97.0M351.5,91.5L340.6,90.5M338.7,97.0L340.6,90.5M296.3,113.7L301.2,109.6M301.2,109.6L298.0,97.9M298.0,97.9L300.7,92.0M297.7,81.8L280.1,90.7M298.5,82.2L300.7,92.0M311.0,38.9L320.4,44.1M311.0,38.9L314.2,31.8M320.4,44.1L322.9,37.0M326.6,35.1L322.9,37.0M314.2,31.8L313.8,26.9M327.6,28.6L326.9,27.4M326.9,27.4L315.9,25.5M333.9,41.3L334.6,45.1M333.9,41.3L326.6,35.1M319.7,156.4L318.6,157.0M319.7,156.4L318.8,141.5M318.8,141.5L309.6,141.0M318.6,157.0L306.2,155.1M309.6,141.0L306.2,155.1M292.4,170.1L295.4,153.2M304.7,169.9L305.5,155.4M295.4,153.2L305.5,155.4M225.1,104.4L224.5,98.9M225.1,104.4L230.0,110.4M224.5,98.9L239.3,94.7M230.2,110.5L241.0,98.4M215.9,106.6L225.1,104.4M217.0,118.2L230.0,110.4M238.7,86.4L239.3,94.7M647.5,9.5L647.1,15.9M641.1,15.5L646.2,16.2M641.6,22.9L644.9,24.2M636.6,14.8L632.6,14.0M637.5,15.5L635.0,21.8M632.6,14.0L631.2,21.0M631.2,21.0L635.0,21.8M640.7,15.7L637.5,15.5M637.8,7.3L636.6,14.8M631.0,21.1L629.2,27.9M596.2,113.7L595.6,106.5M598.1,136.2L599.6,141.1M591.0,138.2L593.5,143.2M593.5,143.2L599.6,141.1M606.6,139.1L600.3,141.6M609.3,145.9L601.8,147.3M995.7,180.1L990.9,160.7M983.4,169.3L990.9,160.7M990.9,160.7L995.4,151.6M982.8,79.2L980.3,60.4M995.6,82.4L1001.3,78.7M1002.7,74.2L987.5,53.9M1019.9,-3.8L1017.3,-1.8M884.2,322.2L885.1,317.8M884.2,322.2L873.5,323.2M885.1,317.8L875.9,311.1M873.5,323.2L872.9,311.9M875.9,311.1L872.9,311.9M888.6,315.2L885.1,317.8M885.0,324.9L884.2,322.2M880.0,301.5L875.9,311.1M881.9,300.8L891.9,309.3M869.0,311.3L872.9,311.9M960.3,358.2L973.7,365.3M949.8,342.5L949.0,355.6M1040.5,360.5L1037.5,362.7M1040.5,360.5L1059.8,359.7M1047.2,380.4L1045.3,379.4M1047.2,346.4L1040.5,360.5M1056.2,347.3L1059.8,359.7M1031.1,383.6L1045.3,379.4M1050.4,390.0L1047.2,380.4M1034.0,405.3L1025.1,398.6M1019.2,95.5L1001.1,110.2M1001.1,110.2L1000.7,124.5M1040.0,232.1L1035.1,243.7M1040.4,231.9L1053.9,240.5M1039.1,252.8L1043.4,253.1M1022.3,241.4L1035.1,243.7M1024.4,227.9L1040.0,232.1M1045.5,219.2L1040.4,231.9M1062.6,228.2L1053.9,240.5M1036.0,255.6L1039.1,252.8M110.3,412.3L129.6,404.7M110.8,418.6L135.5,419.0M129.6,404.7L135.8,417.4M135.5,419.0L135.8,417.4M106.6,407.5L110.3,412.3M109.1,425.5L110.8,418.6M271.8,544.7L280.5,552.4M280.5,552.4L262.8,563.0M283.1,553.1L280.5,552.4M270.3,539.0L271.8,544.7M254.5,553.1L258.2,555.3M263.1,565.7L262.8,563.0M233.4,599.9L216.5,610.8M229.6,591.9L210.5,596.6M216.5,610.8L215.4,610.2M215.4,610.2L210.2,601.3M210.2,601.3L210.5,596.6M234.4,600.7L233.4,599.9M219.4,616.1L216.5,610.8M206.5,590.7L210.5,596.6M194.5,609.6L210.2,601.3M172.6,262.7L156.3,260.2M172.6,262.7L176.1,277.6M156.3,260.2L165.0,278.6M161.9,249.6L174.5,255.0M174.5,255.0L172.6,262.7M176.9,253.4L174.5,255.0M176.9,253.4L184.7,253.8M181.5,278.1L176.1,277.6M169.1,306.0L173.8,278.5M91.5,319.5L100.5,309.6M83.6,296.0L87.4,295.5M87.4,295.5L100.5,309.6M107.6,333.9L105.9,309.2M100.5,309.6L105.9,309.2M107.1,264.9L87.1,253.4M107.1,264.9L108.3,263.5M108.3,263.5L104.4,234.6M87.1,253.4L86.1,250.5M86.1,250.5L92.4,239.1M78.3,269.2L87.1,253.4M105.7,275.8L107.1,264.9M105.5,233.3L104.4,234.6M128.2,254.5L108.3,263.5M70.0,246.4L86.1,250.5M88.6,235.9L92.4,239.1M161.9,249.6L163.2,237.5M153.5,257.6L146.1,257.8M163.2,237.5L160.5,235.3M394.8,557.0L392.7,548.3M394.3,557.5L372.3,555.3M392.7,548.3L387.2,544.2M387.2,544.2L373.8,545.1M373.8,545.1L371.4,553.0M371.4,553.0L372.3,555.3M401.9,534.7L392.7,548.3M402.5,556.9L394.8,557.0M389.8,572.9L388.8,573.7M389.8,572.9L394.3,557.5M370.1,566.2L372.3,555.3M372.4,540.2L373.8,545.1M352.5,549.5L371.4,553.0M401.3,647.7L401.1,664.9M401.5,647.5L415.8,656.1M401.7,665.9L417.0,666.4M415.8,656.1L417.5,665.9M383.6,648.1L401.3,647.7M405.3,640.3L401.5,647.5M422.3,645.1L415.8,656.1M399.4,673.1L401.7,665.9M423.8,664.9L417.5,665.9M433.5,524.9L441.3,510.9M432.6,505.0L441.3,510.9M423.0,502.0L429.2,500.5M457.9,563.9L447.4,558.1M463.5,554.8L454.5,548.6M454.5,548.6L445.5,552.9M447.4,558.1L445.7,555.1M445.5,552.9L445.7,555.1M444.3,551.5L445.5,552.9M389.8,572.9L407.9,578.5M407.9,578.5L414.6,562.3M425.4,542.9L418.7,562.3M435.0,547.6L425.2,564.4M418.7,562.3L425.2,564.4M425.2,564.4L427.3,566.3M400.8,448.9L399.1,447.7M400.8,448.9L399.0,469.6M399.1,447.7L387.8,450.3M394.6,470.1L386.6,451.7M394.6,470.1L398.4,470.2M386.6,451.7L387.8,450.3M411.0,449.6L400.8,448.9M411.0,449.6L415.1,462.7M376.6,454.9L386.6,451.7M403.3,479.0L398.4,470.2M374.3,436.7L383.1,436.1M380.5,419.6L385.8,422.5M383.1,436.1L385.8,422.5M387.8,450.3L383.3,436.3M399.1,447.7L398.6,435.1M383.3,436.3L398.6,435.1M463.7,517.9L468.1,517.2M465.3,498.6L472.0,500.4M465.3,498.6L457.5,514.0M457.5,514.0L458.2,515.0M472.0,500.4L468.1,517.2M489.9,509.4L481.6,504.5M476.6,522.4L483.7,525.6M476.6,522.4L475.0,520.0M489.9,509.6L484.4,525.5M481.6,504.5L475.0,520.0M463.7,536.2L462.4,535.8M475.0,520.0L468.1,517.2M428.2,474.2L438.2,477.2M428.2,474.2L419.2,480.5M438.2,477.2L431.3,490.5M431.3,490.5L418.9,481.4M422.1,461.8L415.1,462.7M422.1,461.8L427.6,465.7M415.1,462.7L419.2,480.5M417.4,482.2L418.9,481.4M429.2,500.5L432.2,493.4M432.2,493.4L431.3,490.5M464.9,482.9L464.0,493.1M464.9,482.9L463.5,481.6M464.0,493.1L448.8,486.6M448.8,486.6L449.0,484.6M449.0,484.6L463.5,481.6M483.3,412.1L490.9,424.2M475.5,415.2L482.6,429.9M484.4,410.2L483.3,412.1M495.6,422.2L490.9,424.2M474.0,399.1L469.4,404.3M458.9,394.5L459.2,402.6M469.4,404.3L459.2,402.6M475.5,415.2L472.2,415.0M469.4,404.3L472.2,415.0M533.5,489.6L535.1,504.6M533.5,489.6L531.6,489.4M535.1,504.6L530.0,507.0M535.4,527.3L528.2,529.5M535.4,527.3L539.0,521.9M528.2,529.5L524.2,526.6M524.2,526.6L518.0,516.3M518.0,516.3L529.8,507.6M539.0,521.9L529.8,507.6M295.3,425.9L296.2,415.6M295.3,425.9L304.3,431.7M296.2,415.6L304.5,414.4M293.2,443.8L304.3,431.7M310.9,447.3L305.8,431.5M317.4,416.1L306.7,415.9M315.2,398.9L306.3,402.2M255.2,415.6L249.9,402.3M259.2,417.3L270.1,406.8M249.9,402.3L263.6,396.4M263.6,396.4L265.2,397.2M281.9,388.8L265.2,397.2M275.5,409.5L279.2,419.2M275.5,409.5L286.8,400.3M279.2,419.2L293.7,414.1M293.7,414.1L290.8,402.7M290.8,402.7L286.8,400.3M278.6,421.5L279.2,419.2M283.6,389.4L286.8,400.3M300.9,399.1L306.3,402.2M300.9,399.1L290.8,402.7M300.9,399.1L300.1,385.4M289.6,386.0L300.1,385.4M290.2,358.4L297.6,362.8M289.0,370.6L297.9,369.2M297.9,369.2L297.6,362.8M297.6,362.8L303.3,353.2M311.7,351.9L307.8,354.1M307.8,354.1L303.3,353.2M508.2,517.4L504.6,531.0M484.4,525.5L489.5,528.2M535.4,527.3L550.3,540.9M528.2,529.5L527.1,536.5M550.3,540.9L548.8,544.9M527.1,536.5L541.8,550.3M539.0,521.9L549.9,515.8M550.5,516.6L556.7,536.3M563.9,558.9L562.7,559.2M572.7,549.3L557.3,536.3M572.7,549.3L572.0,552.4M548.8,544.9L562.7,559.2M580.8,541.4L570.8,527.2M580.8,541.4L572.7,549.3M557.3,536.3L570.8,527.2M577.8,487.4L585.5,492.7M585.5,492.7L583.5,501.6M583.5,501.6L576.4,506.9M576.4,506.9L575.3,506.3M593.2,503.4L583.5,501.6M593.2,503.4L593.8,510.1M576.4,506.9L580.0,513.9M592.9,531.1L596.7,527.0M592.9,531.1L577.7,521.1M580.0,513.9L577.7,521.1M582.9,541.3L591.8,534.9M582.9,541.3L580.8,541.4M591.8,534.9L592.9,531.1M577.7,521.1L570.8,527.1M550.5,516.6L567.3,522.9M570.8,527.1L567.3,522.9M507.6,609.1L498.4,597.5M516.3,599.8L501.0,587.2M498.4,597.5L501.0,587.2M528.0,614.7L519.2,622.6M528.0,614.7L519.7,599.0M519.7,599.0L516.3,599.8M490.1,603.4L498.4,597.5M589.0,644.3L578.0,628.1M600.7,633.6L582.7,622.3M578.0,628.1L582.7,622.3M541.6,630.3L557.5,643.7M535.7,635.8L547.6,652.0M547.6,652.0L556.5,646.3M556.5,646.3L557.5,643.7M542.1,628.9L541.6,630.3M546.0,654.8L547.6,652.0M766.5,635.9L767.2,613.4M753.7,614.9L755.0,613.7M755.0,613.7L763.4,612.1M763.4,612.1L766.9,613.1M753.1,640.2L757.8,636.8M780.7,627.8L766.5,635.9M779.7,621.6L767.2,613.4M746.1,641.3L738.0,618.3M738.0,618.3L739.6,617.2M739.6,617.2L753.7,614.9M738.6,590.9L739.6,617.2M763.9,590.4L763.4,612.1M780.7,600.9L766.9,613.1M666.9,628.1L662.3,603.8M651.3,603.8L660.3,603.1M662.3,603.8L660.3,603.1M686.9,598.6L676.3,598.8M681.4,624.2L686.7,623.4M698.2,598.2L687.2,598.7M685.3,574.8L686.9,598.6M689.9,624.7L686.7,623.4M702.3,622.0L703.4,621.0M698.2,598.2L703.4,621.0M679.8,572.9L669.7,575.0M674.7,627.7L681.4,624.2M662.3,603.8L670.9,601.9M660.3,603.1L661.3,575.8M661.3,575.8L667.7,574.4M667.7,574.4L669.7,575.0M724.4,594.2L714.7,596.0M724.4,594.2L730.6,618.9M714.7,596.0L715.3,619.3M730.1,619.2L717.8,620.5M717.8,620.5L715.3,619.3M703.4,621.0L715.3,619.3M712.6,595.3L714.7,596.0M729.4,644.7L730.1,619.2M718.0,646.2L717.8,620.5M709.2,570.6L710.9,569.4M719.5,568.5L718.0,568.1M710.9,569.4L718.0,568.1M691.4,547.6L702.8,543.9M710.9,569.4L702.8,543.9M713.4,541.3L718.3,542.9M718.3,542.9L727.6,541.8M715.1,521.3L724.6,519.1M724.6,519.1L729.8,540.3M727.6,541.8L729.8,540.3M718.0,568.1L718.3,542.9M702.8,543.9L704.2,542.8M704.2,542.8L713.4,541.3M733.2,565.0L727.6,541.8M735.7,539.2L729.8,540.3M728.3,515.2L724.6,519.1M593.2,503.4L595.2,500.5M585.5,492.7L590.6,491.8M609.6,488.3L607.9,477.0M615.3,491.1L622.7,482.2M607.9,477.0L618.9,476.7M618.9,476.7L622.4,479.0M622.7,482.2L622.4,479.0M667.7,574.4L667.6,549.0M677.4,519.6L671.2,516.3M671.2,516.3L662.2,526.8M669.6,547.8L662.2,526.8M645.7,600.0L645.1,595.6M622.7,586.6L630.6,579.3M629.3,608.0L610.7,599.6M608.2,602.0L610.7,599.6M622.5,587.5L611.7,597.1M610.7,599.6L611.7,597.1M607.7,574.9L600.5,579.9M607.7,574.9L608.7,571.6M608.7,571.6L593.7,558.0M598.8,580.2L600.5,579.9M586.6,564.7L593.7,558.0M622.7,586.6L607.7,574.9M611.7,597.1L600.5,579.9M591.6,587.4L598.8,580.2M600.8,603.4L608.2,602.0M576.5,574.9L591.6,587.4M582.9,541.3L593.9,557.6M591.8,534.9L605.3,547.8M605.3,547.8L604.7,549.6M608.7,571.6L615.4,564.5M604.7,549.6L615.4,564.5M673.5,486.4L661.1,477.8M664.6,494.7L655.9,487.3M655.9,487.3L656.6,483.3M661.5,476.4L661.1,477.8M676.8,481.4L665.2,472.5M676.8,481.4L673.5,486.4M683.7,496.9L673.2,487.5M683.7,496.9L669.4,512.0M665.5,508.6L664.6,494.7M650.2,467.6L645.1,473.6M978.6,432.1L974.8,416.3M965.4,398.4L966.8,397.9M966.8,397.9L973.2,401.9M974.1,415.8L973.2,401.9M966.8,397.9L969.4,385.2M969.4,385.2L982.2,388.7M985.5,393.8L984.3,397.2M973.2,401.9L984.3,397.2M999.8,406.7L990.4,409.7M999.8,406.7L1010.3,414.9M988.7,413.1L990.4,409.7M1010.3,414.9L1010.6,416.4M1010.6,416.4L1000.6,427.4M1000.6,427.4L994.6,425.5M1001.2,401.6L999.8,406.7M1020.3,398.4L1010.3,414.9M974.8,416.3L988.7,413.1M981.3,433.7L994.6,425.5M1025.6,424.3L1010.6,416.4M1003.7,434.8L1000.6,427.4M886.3,457.9L888.2,459.0M886.3,457.9L884.8,447.5M908.8,448.8L905.3,442.8M888.2,459.0L908.2,455.0M905.3,442.8L884.8,447.5M871.2,444.4L883.8,446.3M884.8,447.5L883.8,446.3M923.1,426.4L922.2,412.9M922.2,412.9L935.6,409.3M939.8,421.7L935.6,409.3M929.2,442.8L922.9,426.7M938.3,401.5L935.6,409.3M922.4,398.8L919.4,410.2M919.4,410.2L922.2,412.9M941.0,399.2L944.6,399.8M893.7,474.9L894.6,487.0M893.9,474.6L912.2,467.3M896.0,488.1L894.6,487.0M880.2,491.8L894.6,487.0M872.9,475.1L893.7,474.9M888.2,459.0L893.9,474.6M912.6,465.8L912.2,467.3M900.0,502.6L896.0,488.1M929.2,496.1L917.6,484.1M927.5,326.0L922.9,335.0M922.9,335.0L911.6,333.4M905.9,345.7L909.5,343.2M909.5,343.2L911.6,333.4M356.4,342.1L360.3,334.7M356.4,342.1L350.7,331.8M360.3,334.7L352.2,326.7M350.7,331.8L351.4,327.4M356.6,346.4L356.4,342.1M368.3,332.0L360.3,334.7M344.8,338.0L350.7,331.8M340.0,326.9L351.4,327.4M496.6,199.7L494.2,203.5M496.6,199.7L488.4,191.2M494.2,203.5L483.0,197.6M483.0,197.6L485.4,192.6M498.1,198.9L496.6,199.7M491.0,187.5L488.4,191.2M477.1,185.3L479.2,181.0M477.1,185.3L485.4,192.6M355.7,284.8L359.8,285.4M359.8,285.4L364.5,295.5M364.2,309.4L371.3,303.3M368.0,295.9L364.5,295.5M360.4,271.4L366.9,282.0M360.4,271.4L368.9,269.0M368.9,269.0L372.9,276.0M337.0,215.8L337.5,228.5M337.5,228.5L347.7,227.0M325.7,225.6L336.8,229.0M360.2,214.5L360.6,228.1M360.6,228.1L357.0,229.9M350.4,229.3L347.7,227.0M358.7,242.4L355.4,244.8M355.4,244.8L346.4,244.6M350.4,229.3L346.4,244.6M403.5,215.8L403.3,218.1M403.5,215.8L411.6,211.8M415.2,218.1L409.3,223.6M409.3,223.6L403.3,218.1M413.1,196.9L419.0,206.4M413.1,196.9L421.0,193.6M419.0,206.4L424.9,196.8M421.0,193.6L424.9,196.8M431.2,205.0L425.9,197.0M412.3,209.8L407.0,203.4M403.5,215.8L399.2,210.0M399.2,210.0L403.9,203.6M407.0,203.4L403.9,203.6M384.5,207.6L389.5,215.2M384.5,207.6L390.7,201.1M390.7,201.1L398.2,209.9M382.9,207.4L384.5,207.6M381.2,221.4L375.6,214.9M381.2,221.4L389.5,215.7M406.6,192.7L411.0,195.3M406.6,192.7L398.3,195.1M403.9,203.6L398.0,196.1M412.0,196.8L411.0,195.3M398.0,196.1L390.8,200.9M375.1,199.8L378.7,196.0M378.7,196.0L386.0,195.4M390.8,200.9L386.0,195.4M404.0,155.4L396.6,156.7M395.3,146.2L394.9,155.2M396.6,156.7L394.9,155.2M438.2,226.9L436.2,226.8M430.7,219.3L436.2,226.8M434.9,238.6L429.9,233.2M395.7,270.5L388.8,264.8M382.5,269.6L388.4,278.8M801.3,395.8L800.0,410.3M814.2,410.4L802.0,412.4M814.8,426.2L813.4,427.3M824.7,442.8L814.1,439.5M813.4,427.3L814.1,439.5M802.0,412.4L801.7,424.4M889.9,364.6L900.5,368.3M883.9,372.1L898.0,377.5M898.0,377.5L900.5,368.3M905.7,358.2L902.3,367.0M902.3,367.0L900.5,368.3M905.6,396.7L895.2,385.0M895.2,385.0L898.2,379.1M898.2,379.1L912.5,381.9M921.2,396.8L910.5,393.6M924.5,384.0L912.9,382.7M891.5,386.2L895.2,385.0M914.1,373.8L912.5,381.9M927.0,373.4L917.3,371.4M772.1,179.0L766.9,180.8M772.1,179.0L774.5,179.6M774.5,179.6L774.8,193.7M766.9,180.8L764.7,184.9M764.7,184.9L772.1,194.8M886.2,293.7L897.5,297.1M885.7,291.5L892.0,281.9M901.4,286.9L892.4,281.8M881.9,300.8L886.2,293.7M875.9,285.6L885.7,291.5M881.0,276.9L892.0,281.9M908.7,303.8L897.6,297.0M913.3,293.7L901.5,287.5M908.0,278.7L901.4,286.9M895.5,272.0L892.4,281.8M950.5,236.9L942.1,235.2M950.5,236.9L950.4,247.3M942.1,235.2L935.9,242.3M948.7,249.3L937.6,247.7M937.6,247.7L935.9,242.3M948.7,260.2L948.7,249.3M933.9,253.0L937.6,247.7M926.7,238.4L935.9,242.3M926.7,238.4L921.8,246.7M922.9,250.3L921.8,246.7M991.4,206.9L984.2,201.3M992.7,191.7L985.2,195.5M985.2,195.5L984.2,201.3M951.7,223.2L949.1,220.3M965.2,216.9L963.9,223.9M965.2,216.9L956.6,208.1M956.6,208.1L949.1,220.3M930.6,230.7L926.6,238.0M930.6,230.7L922.1,223.1M922.1,223.1L922.6,235.3M926.6,238.0L922.6,235.3M937.2,226.9L942.1,235.2M937.2,226.9L930.6,230.7M909.4,232.4L922.6,235.3M909.4,232.4L907.4,235.0M921.8,246.7L910.2,243.5M910.2,243.5L907.4,235.0M900.1,263.0L904.0,252.4M904.0,252.4L906.8,251.0M906.8,251.0L916.6,259.2M916.6,259.2L912.7,267.1M912.7,267.1L911.6,267.6M907.9,278.3L911.6,267.6M898.9,263.5L900.1,263.0M890.9,259.2L889.4,253.8M893.3,246.8L904.0,252.4M919.3,257.9L916.6,259.2M910.2,243.5L906.8,251.0M923.2,273.5L912.7,267.1M287.3,237.4L287.3,251.2M287.3,237.4L300.3,238.4M300.3,238.4L296.9,250.9M287.3,251.2L296.9,250.9M286.4,236.3L287.3,237.4M302.1,236.9L300.3,238.4M322.8,227.3L322.7,238.9M309.3,238.3L311.7,240.7M311.7,240.7L322.7,238.9M322.7,238.9L324.8,240.6M309.1,266.5L297.9,265.5M309.1,266.5L309.4,253.4M297.9,265.5L298.6,252.3M309.4,253.4L298.6,252.3M294.9,267.4L297.9,265.5M311.7,251.7L309.4,253.4M319.4,268.9L321.6,254.1M324.8,240.6L323.1,253.4M321.6,254.1L323.1,253.4M357.6,259.1L345.0,256.1M357.6,259.1L356.3,270.5M356.0,270.7L345.0,271.1M345.0,271.1L343.9,269.9M355.6,284.7L356.0,270.7M366.8,282.2L359.8,285.4M360.4,271.4L356.3,270.5M342.6,281.9L345.0,271.1M332.4,268.0L343.9,269.9M689.9,167.7L693.2,161.3M683.6,159.1L683.7,163.3M683.6,159.1L684.2,157.7M693.2,161.3L684.2,157.7M690.0,167.8L697.7,170.9M695.2,176.7L697.8,171.0M616.5,109.8L622.1,111.4M617.8,103.7L621.8,104.0M621.8,104.0L622.1,111.4M622.4,115.7L622.9,112.1M621.8,104.0L623.0,103.5M903.0,235.3L896.3,239.2M903.0,235.3L892.7,223.8M896.3,239.2L886.6,227.7M893.3,246.8L892.7,243.7M892.7,243.7L896.3,239.2M887.2,241.8L892.7,243.7M887.2,241.8L881.1,231.6M884.5,228.1L881.1,231.6M859.8,267.2L858.0,264.5M858.0,264.5L862.1,259.5M862.1,259.5L867.2,257.3M867.2,257.3L873.6,258.5M860.2,245.5L855.5,251.3M855.5,251.3L862.1,259.5M867.2,257.3L860.6,245.4M599.7,67.6L601.1,61.2M600.5,68.3L604.5,68.6M605.5,61.8L602.7,61.0M605.5,61.8L606.7,63.2M601.1,61.2L602.7,61.0M593.3,51.7L594.8,51.0M592.3,57.9L593.6,59.3M599.6,52.9L597.4,59.5M597.4,59.5L596.1,59.8M596.1,59.8L593.6,59.3M599.7,67.6L595.7,67.1M596.1,59.8L595.7,67.1M595.7,74.9L594.8,67.6M595.7,74.9L598.1,75.4M598.8,75.2L600.5,68.3M633.1,125.3L633.6,128.3M639.7,121.5L638.5,120.9M639.7,121.5L641.9,126.9M641.9,126.9L640.9,129.0M633.6,128.3L640.9,129.0M629.7,137.1L636.7,135.7M633.3,129.0L636.7,135.7M642.9,113.0L645.0,115.4M639.7,121.5L646.4,119.4M646.4,119.4L645.0,115.4M648.6,123.6L646.8,119.6M648.6,123.6L647.5,126.0M647.5,126.0L641.9,126.9M670.0,168.9L664.2,173.1M663.2,172.5L661.7,167.0M675.0,161.5L673.5,155.7M673.5,155.7L667.3,158.4M667.3,158.4L668.8,163.5M683.6,159.1L675.0,161.5M676.8,167.0L674.7,161.9M671.7,169.7L670.0,168.9M660.2,160.5L662.6,165.2M665.7,157.2L667.3,158.4M656.1,437.2L648.1,446.3M648.1,446.3L637.7,436.9M637.7,436.9L640.8,432.4M615.0,464.9L618.9,476.7M615.0,464.9L628.0,466.6M640.4,477.6L643.9,474.0M628.7,467.2L635.7,463.1M643.9,474.0L645.1,473.6M639.3,458.1L637.8,458.8M716.6,461.2L728.1,469.8M716.6,461.2L722.8,453.5M723.2,453.2L731.5,466.9M728.1,469.8L730.6,469.2M739.0,459.2L731.5,466.9M739.3,457.3L725.6,450.3M725.6,450.3L723.2,453.2M738.7,478.3L730.6,469.2M736.2,486.6L718.7,478.0M718.7,478.0L728.1,469.8M711.2,505.1L706.2,499.7M711.2,505.1L707.8,517.4M699.5,502.2L693.8,509.3M693.8,509.3L692.9,518.1M697.6,520.0L692.9,518.1M723.0,503.3L711.2,505.1M724.2,500.4L712.1,489.5M706.4,497.1L706.2,499.7M715.1,521.3L707.8,517.4M704.2,542.8L697.6,520.0M686.3,520.1L692.9,518.1M684.6,496.7L693.8,509.3M765.3,477.3L754.8,477.0M765.1,464.3L763.9,463.0M771.4,487.8L765.3,477.3M778.2,466.8L765.1,464.3M761.9,460.2L763.9,463.0M740.8,279.1L733.4,281.4M741.4,279.5L744.1,285.9M733.4,281.4L733.8,288.4M733.8,288.4L735.5,289.8M735.5,289.8L743.9,286.4M771.7,280.2L762.3,282.1M773.7,287.0L764.3,289.3M751.3,276.9L754.9,280.6M744.1,285.9L752.9,284.4M752.9,284.4L754.9,280.6M761.3,273.5L759.0,279.7M754.9,280.6L759.0,279.7M759.0,279.7L762.3,282.1M792.0,284.5L801.1,283.3M794.9,267.5L797.1,267.9M797.1,267.9L798.3,268.7M801.1,283.3L798.3,268.7M785.7,347.7L791.1,362.6M791.5,345.5L799.5,358.2M791.1,362.6L792.5,362.7M786.6,326.2L794.4,342.7M794.4,342.7L791.5,345.5M780.5,329.1L779.1,331.8M783.1,366.9L791.1,362.6M775.3,364.5L775.4,355.1M775.4,355.1L777.5,350.8M801.2,341.5L794.4,342.7M806.5,355.5L799.5,358.2M798.2,377.1L792.5,362.7M808.6,356.1L806.5,355.5M829.1,363.9L827.5,347.6M825.8,365.1L816.5,352.3M827.5,347.6L825.2,347.4M825.2,347.4L816.5,352.3M808.6,356.1L816.3,352.3M744.0,430.6L739.7,432.8M739.7,432.8L735.6,437.9M751.7,441.4L749.1,444.8M749.1,444.8L735.5,439.3M746.6,425.5L744.0,430.6M735.3,416.9L730.2,421.3M730.2,421.3L739.7,432.8M749.1,424.5L746.6,425.5M758.7,435.4L753.0,440.9M753.0,440.9L751.7,441.4M730.2,421.3L726.3,423.1M726.3,423.1L725.4,428.7M725.4,428.7L735.6,437.9M766.9,451.6L753.0,440.9M766.9,451.6L762.0,459.8M748.8,447.0L749.1,444.8M734.1,441.3L735.5,439.3M689.6,377.2L700.2,385.8M694.4,371.6L705.2,379.3M777.0,388.0L764.5,388.2M749.1,399.1L749.7,390.5M760.5,407.0L762.3,406.2M760.6,392.7L763.4,392.2M709.7,329.5L707.8,337.0M722.3,334.5L720.4,340.7M720.3,340.8L707.8,337.0M695.5,331.3L707.0,337.8M695.5,331.3L692.5,334.4M691.7,340.7L704.6,343.1M707.0,337.8L704.6,343.1M714.7,359.2L729.0,358.2M714.7,359.2L714.2,356.4M714.2,356.4L717.0,349.5M729.0,358.2L729.6,354.2M717.0,349.5L718.9,348.1M718.9,348.1L729.3,353.2M714.2,360.8L725.7,369.6M714.2,360.8L714.7,359.2M726.6,368.8L725.7,369.6M714.2,360.8L712.3,362.8M702.8,352.1L714.2,356.4M704.8,343.9L717.0,349.5M743.8,354.6L744.5,357.0M743.8,354.6L729.6,354.2M729.5,359.7L742.5,364.1M742.5,364.1L744.5,357.0M733.9,343.7L729.3,353.2M720.4,340.7L733.9,343.7M743.8,354.6L744.6,349.9M744.6,349.9L733.9,343.7M710.2,321.8L709.3,328.3M709.3,328.3L696.4,327.6M695.7,324.9L696.4,327.6M721.3,331.4L723.6,324.8M723.6,324.8L710.7,321.3M681.2,323.3L695.7,324.9M688.8,315.0L697.1,318.1M697.1,318.1L697.5,319.4M762.1,343.9L763.8,336.2M774.6,334.3L765.1,334.6M745.9,348.8L749.3,340.1M745.9,348.8L759.7,352.1M749.3,340.1L761.3,344.7M758.4,358.1L759.7,352.1M744.6,349.9L745.9,348.8M740.0,271.5L730.6,273.5M733.4,281.4L731.6,280.2M731.6,280.2L730.6,273.5M722.3,334.5L735.2,334.3M733.9,343.7L736.0,337.1M736.0,337.1L749.3,339.9M763.8,336.2L751.0,332.4M749.3,339.9L751.0,332.4M737.1,302.6L739.1,309.4M728.9,305.1L730.1,310.8M739.1,309.4L738.0,311.5M730.1,310.8L738.0,311.5M702.9,233.4L694.7,232.2M699.9,224.1L697.7,224.6M699.9,224.1L705.0,229.8M705.0,229.8L703.0,233.3M732.6,238.1L723.8,240.6M732.6,238.1L735.1,244.9M734.7,246.1L724.7,246.8M723.8,240.6L724.3,246.3M743.2,241.6L746.1,249.2M735.4,248.7L734.7,246.1M716.0,241.4L721.4,238.0M716.0,241.4L716.2,247.0M721.4,238.0L723.8,240.6M716.2,247.0L724.3,246.3M716.0,253.0L713.9,249.4M716.0,253.0L718.6,254.9M716.2,247.0L713.9,249.4M711.5,317.5L710.7,321.3M711.5,317.5L707.1,310.9M697.1,318.1L699.7,312.2M707.1,310.9L699.7,312.2M689.8,308.5L697.0,307.5M699.7,312.2L697.0,307.5M687.7,306.1L688.2,302.7M688.2,302.7L695.4,299.7M695.4,299.7L697.9,303.6M696.0,290.1L692.2,281.7M696.0,290.1L703.9,287.4M704.5,286.2L703.3,280.1M696.6,295.1L705.7,296.6M696.6,295.1L695.9,290.4M705.7,296.6L706.8,294.3M706.8,294.3L703.9,287.4M690.4,277.1L701.3,272.5M690.4,277.1L689.6,279.8M689.6,279.8L692.2,281.7M701.3,272.5L703.2,280.1M713.8,285.8L715.2,292.3M713.8,285.8L704.5,286.2M701.4,272.2L709.8,270.9M711.6,277.5L703.3,280.1M711.6,277.5L711.4,273.0M569.9,301.4L575.4,311.7M575.4,311.7L574.0,312.6M562.3,318.5L571.3,319.7M574.0,312.6L571.3,319.7M568.6,330.2L571.9,321.1M568.6,330.2L559.1,326.2M571.3,319.7L571.9,321.1M629.9,317.3L623.5,320.5M630.7,317.4L634.1,324.3M623.5,320.5L626.7,328.2M626.7,328.2L634.1,324.3M625.8,310.7L619.8,313.3M625.8,310.7L629.9,317.3M619.8,313.3L622.1,320.2M622.1,320.2L623.5,320.5M625.8,310.7L627.0,307.1M636.0,313.2L630.7,317.4M629.8,335.6L626.2,329.5M649.7,422.1L651.9,419.7M649.7,422.1L657.6,436.4M651.9,419.7L665.7,426.4M657.8,436.5L665.6,426.8M656.1,437.2L657.6,436.4M647.4,422.7L649.7,422.1M641.6,428.2L640.8,432.4M652.5,417.8L651.9,419.7M636.8,412.8L640.0,408.1M636.8,412.8L623.3,403.0M640.0,408.1L629.3,396.8M629.3,396.8L623.8,401.0M623.3,403.0L623.8,401.0M647.4,422.7L636.8,412.8M630.4,394.8L629.3,396.8M615.8,395.3L623.8,401.0M615.8,395.3L616.2,386.7M539.9,281.8L543.6,278.4M539.9,281.8L531.8,274.0M531.8,274.0L536.1,270.5M524.4,266.7L531.8,274.0M524.6,266.0L528.8,261.5M528.8,261.5L530.1,261.1M536.1,270.5L530.1,261.1M490.0,305.8L485.4,315.8M490.1,305.7L498.5,311.8M477.0,311.2L479.6,304.2M479.6,304.2L490.0,305.8M493.4,299.2L492.1,299.8M492.1,299.8L490.1,305.7M479.3,332.0L487.2,336.9M479.3,332.0L481.8,324.7M482.5,324.4L491.5,328.4M471.1,334.1L472.6,334.7M471.1,334.1L470.2,326.8M470.2,326.8L473.0,321.3M473.0,321.3L481.8,324.7M473.0,321.3L472.4,318.8M492.8,327.9L495.5,318.9M492.8,327.9L491.5,328.4M534.5,306.2L529.6,314.2M534.5,306.2L525.4,301.7M522.3,311.5L529.6,314.2M527.5,371.1L531.5,366.3M527.5,371.1L528.3,377.1M538.6,376.5L536.7,368.5M536.7,368.5L531.5,366.3M528.7,378.8L528.3,377.1M526.6,383.3L514.7,378.5M526.6,383.3L528.7,378.8M514.7,378.5L516.0,373.6M516.0,373.6L528.3,377.1M551.7,341.7L541.6,340.2M540.2,346.9L541.6,340.2M536.5,326.4L532.1,333.6M544.8,331.4L541.1,338.8M532.1,333.6L533.2,336.3M533.2,336.3L541.1,338.8M541.6,340.2L541.1,338.8M451.5,277.8L457.1,269.6M452.6,264.4L444.9,269.4M457.1,269.6L452.7,264.4M444.9,269.4L451.3,277.8M440.0,248.0L432.7,253.0M446.4,255.9L440.1,260.5M440.1,260.5L432.7,253.0M528.8,245.5L525.6,249.6M525.6,249.6L522.3,251.2M514.2,244.9L522.3,251.2M537.1,297.7L536.4,296.1M525.4,301.7L527.9,295.0M527.9,295.0L536.4,296.1M547.1,290.3L539.8,288.3M536.4,296.1L539.8,288.3M505.8,293.9L507.9,287.1M496.0,289.6L496.8,291.5M496.0,289.6L498.3,283.1M498.3,283.1L501.7,281.5M507.9,287.1L501.7,281.5M515.3,273.4L513.1,276.4M508.3,268.0L510.6,266.9M508.3,268.0L507.1,275.1M513.1,276.4L507.1,275.1M501.7,264.5L508.3,268.0M498.1,270.6L503.1,276.3M507.1,275.1L503.1,276.3M490.4,279.2L489.4,275.7M490.4,279.2L498.3,283.1M477.0,311.2L466.2,306.5M472.4,318.8L463.5,316.1M463.5,316.1L466.2,306.5M470.2,326.8L458.5,323.3M458.5,323.3L457.9,319.1M483.6,352.6L489.8,349.3M479.2,343.8L487.2,338.1M489.8,349.3L487.2,338.1M492.8,327.9L499.8,332.1M499.8,332.1L497.7,340.0M497.7,340.0L487.3,337.7M476.3,342.8L472.6,334.7M481.9,295.4L484.2,294.1M481.9,295.4L474.7,292.6M474.4,291.0L474.7,292.6M474.4,291.0L482.8,285.7M484.2,294.1L486.0,288.1M482.8,285.7L485.9,287.7M492.1,299.8L484.2,294.1M479.6,304.2L479.2,303.0M471.8,285.4L474.4,291.0M496.0,289.6L486.0,288.1M486.4,274.0L478.4,278.3M490.4,279.2L485.9,287.7M477.1,185.3L475.1,186.2M472.2,189.8L471.8,191.5M471.8,191.5L482.8,197.8M454.6,193.6L456.7,190.5M454.6,193.6L463.9,203.7M465.8,202.5L468.7,196.5M465.8,202.5L464.0,203.8M468.7,195.8L458.4,189.8M456.7,190.5L458.4,189.8M453.5,194.2L449.7,201.7M449.7,201.7L449.4,203.4M449.4,203.4L463.9,203.7M471.8,191.5L468.7,195.8M482.8,197.8L480.3,202.2M480.3,202.2L468.7,196.5M472.2,189.8L462.1,184.1M462.1,184.1L458.4,189.8M480.2,202.4L490.3,209.4M486.7,215.1L476.7,209.4M486.7,215.1L490.2,210.1M476.7,208.0L476.7,209.4M465.8,202.5L476.7,208.0M494.0,204.6L490.3,209.4M501.0,217.0L490.2,210.1M449.1,203.8L458.9,212.6M463.5,206.8L458.9,212.6M453.6,219.0L458.6,214.3M458.6,214.3L458.9,212.6M486.5,239.7L477.2,231.8M490.7,233.3L480.1,227.0M480.1,227.0L477.2,231.8M476.1,232.2L466.4,225.8M458.2,282.6L451.5,277.8M458.2,282.6L463.6,278.8M457.1,269.6L459.8,269.9M459.8,269.9L463.6,278.8M458.1,285.6L458.2,282.6M458.1,285.6L462.6,291.8M463.6,278.8L465.7,278.9M471.1,334.1L464.6,336.6M470.7,348.3L467.7,347.5M464.6,336.6L467.7,347.5M458.5,323.3L457.5,326.7M457.5,326.7L464.2,336.6M466.4,360.6L460.1,351.4M467.7,347.5L460.1,351.4M442.9,321.6L433.2,314.0M442.9,321.6L433.6,325.5M433.6,325.5L430.6,318.7M431.7,314.5L433.2,314.0M446.6,317.2L441.1,310.2M441.1,310.2L438.8,309.6M422.9,344.4L431.0,341.0M422.9,344.4L416.2,334.7M416.9,364.4L418.1,361.9M412.1,349.8L414.6,350.7M418.1,361.9L414.6,350.7M409.5,336.1L413.9,334.6M422.9,344.4L421.9,347.1M416.2,334.7L413.9,334.6M414.6,350.7L421.9,347.1M432.2,367.7L433.0,365.1M418.1,361.9L427.0,357.7M433.0,365.1L427.0,357.7M427.0,357.7L427.9,354.9M532.6,423.0L530.9,422.9M532.6,423.0L536.5,437.5M530.9,422.9L523.8,427.0M523.8,427.0L528.7,440.2M528.7,440.2L536.5,437.5M525.0,410.1L530.9,422.9M525.3,445.7L528.7,440.2M537.9,437.7L543.9,450.2M603.6,368.1L601.6,359.5M603.6,368.1L594.9,370.8M601.6,359.5L594.4,360.8M604.5,368.6L604.5,378.8M614.6,377.5L605.4,379.4M594.9,370.8L595.5,378.8M604.5,378.8L595.5,378.8M537.9,437.7L544.3,433.6M544.3,433.6L546.3,434.6M628.8,297.1L623.6,292.0M630.9,287.2L624.5,289.9M627.9,278.8L621.3,282.5M624.5,289.9L621.3,282.5M586.1,270.2L582.6,274.2M586.1,270.2L579.1,262.3M579.1,262.3L575.0,265.1M575.0,265.1L580.5,274.9M580.5,274.9L582.6,274.2M603.3,346.0L600.8,349.7M600.8,349.7L602.6,358.1M602.6,358.1L612.2,358.0M613.4,353.4L612.5,357.5M619.1,350.9L613.4,353.4M615.4,342.8L610.1,348.4M613.9,365.2L612.2,358.0M601.6,359.5L602.6,358.1M623.4,358.4L612.5,357.5M583.1,351.5L586.8,360.9M583.1,351.5L590.2,348.9M590.2,348.9L592.9,350.7M592.9,350.7L592.4,359.7M592.4,359.7L586.8,360.9M581.7,351.0L580.2,341.4M590.3,341.2L590.2,348.9M603.2,345.4L592.3,338.6M592.3,338.6L590.3,341.2M600.8,349.7L592.9,350.7M594.4,360.8L592.4,359.7M580.6,331.3L579.9,341.1M580.6,331.3L569.5,331.9M579.9,341.1L571.8,342.2M567.5,339.7L571.8,342.2M568.6,330.2L569.5,331.9M583.6,326.6L580.4,324.1M583.8,328.3L580.6,331.3M580.4,324.1L571.9,321.1M573.8,352.4L575.6,353.6M573.8,352.4L571.8,342.2M581.7,351.0L575.6,353.6M573.8,352.4L565.2,353.1M736.3,191.5L733.2,196.9M736.8,191.3L744.1,195.8M744.1,195.8L740.0,201.3M733.4,197.7L740.0,201.3M733.2,196.9L725.6,193.4M721.8,198.9L725.6,193.4M722.1,200.6L730.0,203.2M733.4,197.7L730.0,203.2M771.3,196.0L763.0,199.3M771.3,196.0L772.1,194.8M763.0,199.3L758.7,188.8M783.6,248.3L784.5,247.2M784.5,247.2L787.4,245.6M793.3,256.0L790.4,261.1M793.3,256.0L790.9,245.5M789.2,260.7L790.4,261.1M778.3,250.4L783.6,248.3M778.3,250.4L777.6,258.4M779.4,261.7L789.2,260.7M776.4,236.6L784.5,247.2M776.4,236.6L778.5,234.7M778.5,234.7L784.4,232.9M796.0,243.1L800.2,252.9M796.0,243.1L790.9,245.5M800.2,252.9L793.3,256.0M784.5,232.8L791.8,231.9M791.8,231.9L796.6,242.3M776.4,236.6L774.3,237.3M778.5,234.7L774.0,223.3M773.8,223.2L767.2,227.4M736.5,233.6L733.0,236.4M736.5,233.6L742.1,234.4M733.0,236.4L732.6,238.1M743.6,240.8L742.1,234.4M762.7,228.0L761.5,230.1M772.2,236.4L763.8,238.8M763.8,238.8L761.6,237.7M767.2,227.4L764.3,227.1M761.6,237.7L761.5,230.1M754.6,244.3L754.4,240.9M743.6,240.8L753.6,240.1M774.1,238.3L776.6,249.6M776.6,249.6L774.8,249.6M765.9,245.5L769.4,244.7M778.3,250.4L776.6,249.6M768.0,252.7L774.8,249.6M670.6,241.6L666.8,248.2M670.6,241.6L664.1,237.6M664.8,248.1L666.8,248.2M664.1,237.6L663.2,238.8M659.7,249.3L658.8,248.0M658.8,248.0L657.5,241.5M678.6,223.2L672.7,219.5M672.7,219.5L667.6,225.9M676.3,228.7L667.7,226.2M633.9,244.4L633.2,236.6M633.9,244.4L636.9,244.7M636.9,244.7L641.5,240.1M641.9,238.4L639.2,234.2M633.2,236.6L639.2,234.2M644.1,225.3L637.3,228.0M644.1,225.3L645.2,226.2M645.3,230.6L645.2,226.2M645.3,230.6L639.4,233.3M641.9,238.4L647.8,237.3M645.3,230.6L646.8,231.8M647.8,237.3L646.8,231.8M659.7,249.3L659.2,250.5M664.3,260.3L662.4,259.6M671.4,252.7L666.8,248.2M646.0,249.4L652.7,254.5M646.0,249.4L643.0,250.7M644.1,259.9L641.9,253.0M643.0,250.7L641.9,253.0M658.8,248.0L648.5,245.5M647.7,246.2L646.0,249.4M659.2,250.5L652.7,254.5M647.7,246.2L641.5,240.1M662.4,259.6L656.6,262.3M656.6,262.3L652.4,255.8M639.0,263.6L644.1,259.9M633.7,255.5L638.0,263.3M664.1,237.6L663.9,233.8M666.2,232.2L663.9,233.8M666.2,232.2L674.2,235.8M676.3,228.7L674.5,235.6M666.2,232.2L667.7,226.2M641.2,174.6L635.3,174.7M643.2,179.6L637.2,182.6M638.8,188.3L640.6,192.2M647.9,191.8L645.4,185.8M645.4,185.8L638.9,188.2M638.8,188.3L631.7,190.7M638.9,188.2L637.2,182.6M641.0,219.8L635.4,222.0M642.6,220.6L644.1,225.3M637.3,228.0L635.0,222.7M630.1,231.1L629.9,223.8M629.8,231.7L623.5,230.8M629.9,223.8L627.7,222.8M623.5,230.8L622.6,227.1M637.2,228.2L630.1,231.1M635.0,222.7L629.9,223.8M619.3,220.0L626.2,218.8M621.2,226.2L622.6,227.1M626.2,218.8L627.7,222.8M614.5,227.5L613.4,231.1M613.4,231.1L621.6,233.3M621.6,233.3L623.5,230.8M626.9,198.8L633.7,195.8M626.9,198.8L629.0,203.0M629.0,203.0L634.4,202.4M633.9,196.0L634.6,202.1M631.7,190.7L633.7,195.8M628.0,205.0L629.0,203.0M639.7,195.2L633.9,196.0M641.9,199.7L634.6,202.1M646.9,211.1L645.4,205.4M643.6,204.6L637.9,208.2M639.6,213.1L637.9,208.2M639.6,213.1L633.2,215.9M634.4,202.4L636.6,207.6M636.6,207.6L637.9,208.2M672.7,219.5L672.1,217.4M683.1,217.9L682.7,215.7M671.9,176.9L666.1,177.2M685.5,194.8L681.7,200.9M685.5,194.8L692.4,199.8M689.8,205.3L692.4,199.8M691.4,182.4L688.5,187.9M681.8,178.5L678.5,183.3M688.5,187.9L678.5,183.3M675.6,182.0L678.2,183.4M695.2,176.7L702.6,181.2M705.9,175.4L702.7,181.2M691.4,182.4L700.0,186.8M702.6,181.2L700.0,186.8M696.6,192.4L700.0,186.9M696.6,192.4L688.8,189.9M688.5,187.9L688.8,189.9M643.0,289.9L646.6,296.6M623.4,271.0L628.0,278.4M634.9,273.8L630.4,267.5M639.0,263.6L641.1,270.5M638.0,263.3L631.0,265.9M630.4,267.5L631.0,265.9M649.9,266.5L655.8,264.3M649.9,266.5L649.4,267.7M649.4,267.7L652.4,274.5M655.8,264.3L660.8,271.0M646.4,260.7L649.9,266.5M641.6,270.7L649.4,267.7M667.2,267.2L667.6,265.8M652.0,275.9L646.7,278.4M646.7,278.4L650.1,286.7M656.6,282.5L651.1,286.8M645.4,278.2L646.7,278.4M652.4,274.5L652.0,275.9M661.9,289.6L656.6,282.5M685.3,287.4L690.6,291.5M685.3,287.4L681.8,290.7M681.8,290.7L683.9,296.7M690.6,291.5L687.1,295.7M687.1,295.7L684.2,296.7M695.9,290.4L690.6,291.5M688.3,280.3L685.3,287.4M688.3,280.3L689.6,279.8M684.9,279.4L688.3,280.3M679.0,289.7L681.8,290.7M676.1,300.7L678.1,301.0M676.1,300.7L672.5,293.8M678.1,301.0L683.9,296.7M696.6,295.1L695.4,297.8M688.2,302.7L684.2,296.7M695.4,297.8L695.4,299.7M676.1,300.7L670.0,305.0M666.4,317.4L663.4,308.1M669.7,305.7L663.4,308.1M655.3,314.0L662.9,308.0M548.0,275.1L557.3,282.0M548.0,275.1L545.7,277.7M545.7,277.7L551.2,286.8M548.6,273.3L548.0,275.1M543.6,278.4L545.7,277.7M541.3,266.3L536.9,270.2M539.9,281.8L538.6,286.1M538.6,286.1L539.8,288.3M559.5,295.0L563.2,291.4M563.2,291.4L557.2,282.4M594.6,278.8L587.2,269.9M594.6,278.8L590.5,282.1M578.5,276.6L577.9,277.8M578.5,276.6L580.5,274.9M589.3,282.2L584.7,286.2M577.9,277.8L584.7,286.2M607.3,220.2L604.2,222.6M613.4,231.1L611.6,232.7M610.1,233.1L611.6,232.7M610.1,233.1L604.1,222.8M610.1,233.1L607.1,235.8M607.1,235.8L598.7,227.0M604.1,222.8L598.7,227.0M607.0,235.9L601.8,239.9M594.1,232.4L601.8,239.9M594.1,232.4L598.7,227.0M550.1,212.2L548.4,212.6M550.1,212.2L554.2,208.2M548.4,212.6L542.6,202.3M554.6,207.1L545.4,199.9M542.6,202.3L545.4,199.9M551.7,225.1L556.6,221.0M546.1,214.5L548.4,212.6M556.9,220.0L550.1,212.2M562.2,215.5L554.2,208.2M539.5,202.9L542.6,202.3M557.7,204.1L554.6,207.1M557.7,204.1L566.8,209.9M562.2,215.5L566.3,212.2M566.3,212.2L566.8,209.9M546.0,198.5L545.4,199.9M555.7,190.5L563.2,197.8M550.7,194.8L558.0,202.6M558.0,202.6L563.2,197.9M567.6,194.0L563.2,197.8M556.2,188.8L555.7,190.5M557.7,204.1L558.0,202.6M570.1,206.8L566.8,209.9M574.8,203.0L575.4,201.6M574.8,203.0L572.1,206.2M594.1,232.4L592.8,232.7M589.1,236.2L589.8,234.5M574.8,203.0L584.2,210.7M572.1,206.2L578.9,215.2M578.9,215.2L584.2,210.7M581.6,228.3L586.0,222.3M581.6,228.3L589.8,234.5M592.8,232.7L587.9,221.9M566.1,162.8L565.1,165.0M575.8,170.2L574.1,172.4M575.8,170.2L576.4,168.0M576.4,168.0L575.7,165.8M572.3,173.1L574.1,172.4M556.9,157.2L566.1,162.8M566.3,153.8L564.7,152.5M566.3,153.8L567.9,159.5M567.9,159.5L567.0,162.1M580.5,181.1L582.9,173.5M580.5,181.1L574.1,172.4M582.9,173.5L575.8,170.2M585.4,166.6L576.4,168.0M585.4,166.6L586.3,172.1M586.3,172.1L582.9,173.5M659.5,160.3L657.5,154.4M659.5,160.3L653.5,162.9M657.5,154.4L651.4,155.9M653.5,162.9L651.0,157.3M651.0,157.3L651.4,155.9M606.9,184.8L600.7,187.3M581.1,181.2L591.5,184.3M588.4,177.8L590.0,179.1M586.3,172.1L587.9,173.2M587.9,173.2L588.4,177.8M594.6,171.0L597.0,175.5M594.6,171.0L587.9,173.2M597.0,175.5L590.0,179.1M629.4,138.2L631.4,143.2M631.4,143.2L625.9,147.0M632.2,143.5L633.4,151.6M632.2,143.5L637.7,142.9M633.4,151.6L639.1,147.6M637.7,142.9L639.1,147.6M586.9,253.4L589.7,252.3M592.5,248.0L591.7,250.1M585.0,240.7L581.6,243.3M441.1,154.7L443.1,144.8M441.1,154.7L433.7,155.6M433.6,155.6L433.0,143.9M442.7,144.4L433.0,143.9M462.1,184.1L462.3,182.9M449.6,181.6L451.6,177.8M451.6,177.8L462.3,182.9M475.1,186.2L465.5,177.9M154.6,402.8L155.7,413.2M154.6,402.8L147.6,402.9M155.7,413.2L138.9,415.8M157.2,399.4L154.6,402.8M156.6,414.4L155.7,413.2M629.5,-1.8L626.6,-2.4M626.6,-2.4L625.3,-3.9M625.3,-3.9L622.2,-4.8M622.2,-4.8L620.0,-3.6M605.6,23.1L603.4,30.5M605.5,22.9L601.0,22.2M631.7,13.3L626.8,12.5M628.8,5.4L626.8,12.5M626.6,-2.4L623.1,3.3M628.8,5.4L623.1,3.3M621.9,3.4L620.0,-3.6M580.5,2.6L582.0,-4.6M586.8,2.5L583.8,3.4M591.1,-4.1L592.2,-2.1M589.0,2.9L592.2,-2.1M592.9,36.9L597.5,37.0M592.9,36.9L590.8,42.0M597.6,37.1L597.1,44.3M590.8,42.0L591.8,43.4M597.1,44.3L595.6,45.0M598.3,30.1L597.5,37.0M603.0,37.8L597.6,37.1M585.6,49.4L588.1,50.1M585.6,49.4L585.7,42.6M587.8,41.7L590.8,42.0M587.8,41.7L585.7,42.6M594.8,51.0L595.6,45.0M588.5,26.8L589.5,34.0M589.5,34.0L591.0,34.4M591.0,34.4L595.3,28.8M587.8,41.7L586.4,34.7M592.9,36.9L591.0,34.4M598.3,30.1L595.3,28.8M349.1,184.9L340.6,186.5M327.3,196.2L325.5,186.7M325.5,186.7L329.1,183.6M329.1,183.6L337.4,183.8M340.6,186.5L337.4,183.8M331.0,168.9L338.4,171.1M331.0,168.9L326.8,172.6M326.8,172.6L329.1,183.6M337.4,183.8L338.4,171.1M367.9,165.1L365.9,156.4M367.9,165.1L377.2,164.6M377.2,164.6L377.5,155.6M377.2,155.2L366.6,155.9M349.1,184.9L350.6,176.4M340.4,170.3L338.4,171.1M350.6,176.4L361.3,174.5M386.3,125.4L387.6,110.3M376.5,125.8L376.1,117.4M376.1,117.4L383.1,109.7M387.6,110.3L386.0,109.7M394.9,125.8L396.5,116.4M394.9,125.8L388.1,126.9M388.1,126.9L386.3,125.4M389.3,110.3L396.5,116.4M389.3,110.3L387.6,110.3M368.1,115.3L376.1,117.4M377.6,105.7L383.1,109.7M397.4,96.4L393.6,106.7M389.3,110.3L393.6,106.7M395.3,146.2L386.7,145.5M387.5,135.7L386.3,136.7M395.1,137.1L395.8,145.7M386.3,136.7L386.7,145.5M386.9,155.6L394.9,155.2M406.6,136.7L405.7,137.6M406.6,136.7L403.6,127.0M405.7,137.6L396.9,135.8M396.9,135.8L397.7,127.9M403.6,127.0L397.7,127.9M395.1,137.1L396.9,135.8M394.9,125.8L397.7,127.9M387.5,135.7L388.1,126.9M405.7,124.7L402.9,116.5M405.7,124.7L403.6,127.0M396.5,116.4L402.9,116.5M405.7,124.7L412.8,125.0M404.3,115.0L413.8,116.2M412.8,125.0L413.8,116.2M414.4,135.2L413.4,125.6M413.6,147.5L415.0,145.7M424.9,153.9L415.0,155.0M424.9,153.9L424.7,145.5M415.0,145.7L415.2,135.8M263.6,214.5L260.3,206.4M274.7,197.5L267.4,188.7M253.7,197.9L257.7,204.9M285.4,174.8L282.3,173.6M267.4,188.7L282.3,173.6M283.4,148.1L288.1,145.6M283.4,148.1L281.5,172.6M292.4,170.1L285.4,174.8M288.1,145.6L295.4,153.2M281.5,172.6L282.3,173.6M221.8,143.7L219.9,143.3M221.8,143.7L222.4,167.1M211.6,165.9L204.9,149.7M214.2,200.1L208.6,193.6M197.0,202.7L210.8,210.5M214.8,208.3L210.8,210.5M220.1,181.3L225.9,188.7M226.4,191.5L214.2,200.1M196.7,182.1L194.0,183.7M192.9,202.7L197.0,202.7M191.8,201.5L194.0,183.7M191.7,216.7L205.1,221.1M191.7,216.7L192.9,202.7M205.1,221.1L210.8,210.5M245.1,215.4L239.3,208.7M239.3,208.7L225.8,216.8M208.3,230.3L205.1,221.1M214.8,208.3L220.0,210.1M220.0,210.1L225.8,216.8M250.8,196.6L239.2,207.9M250.8,196.6L246.2,189.2M246.2,189.2L231.4,197.0M239.2,207.9L231.5,198.3M253.7,197.9L250.8,196.6M225.9,188.7L239.6,181.4M226.4,191.5L231.4,197.0M242.7,153.4L243.0,159.4M261.5,152.1L261.4,154.1M261.4,154.1L248.6,162.3M243.0,159.4L248.6,162.3M223.7,142.4L221.8,143.7M223.7,142.4L237.2,147.0M222.4,167.1L230.9,167.7M239.6,181.4L239.0,177.2M230.9,167.7L239.0,177.2M547.5,126.5L543.4,125.3M543.4,125.3L541.9,132.4M540.3,137.6L535.8,138.9M541.9,132.4L536.4,130.9M393.6,106.7L405.5,106.8M404.3,115.0L405.5,106.9M397.4,96.4L403.1,96.3M405.5,106.8L403.1,96.3M333.9,41.3L339.3,31.5M364.2,91.5L355.3,84.7M358.8,77.8L355.3,84.7M355.3,84.7L353.1,86.0M316.7,50.8L320.6,44.7M316.7,50.8L306.7,47.5M304.9,42.4L306.7,47.5M309.2,63.5L318.5,58.3M309.2,63.5L305.0,61.3M305.0,61.3L303.8,57.1M316.7,50.8L318.5,58.3M306.7,47.5L303.8,57.1M322.5,103.8L334.8,108.4M327.1,93.1L337.3,98.1M338.7,97.0L337.3,98.1M319.1,104.7L320.1,116.6M319.1,104.7L314.4,102.9M304.0,109.6L315.8,122.1M315.8,122.1L320.1,116.6M334.9,115.4L320.1,116.6M301.2,109.6L304.0,109.6M313.0,95.4L314.4,102.9M334.9,123.5L325.2,132.4M315.8,123.5L325.2,132.4M315.8,123.5L315.8,122.1M281.7,73.7L278.0,87.5M297.7,81.8L296.8,80.2M280.1,90.7L278.0,87.5M296.8,80.2L282.2,73.4M235.6,63.1L250.4,58.8M242.2,71.1L253.3,65.7M253.3,65.7L250.4,58.8M252.5,53.7L250.4,58.8M268.8,83.0L258.6,91.1M267.5,79.0L257.3,75.2M258.5,91.0L249.5,81.8M249.5,81.8L257.3,75.2M281.7,73.7L270.8,71.6M278.0,87.5L268.8,83.0M270.8,71.6L267.5,79.0M262.1,98.0L258.6,91.1M262.2,100.2L250.4,109.1M250.4,109.1L244.3,100.4M244.5,81.4L249.5,81.8M244.3,100.4L241.0,98.4M257.7,67.7L257.3,75.2M350.5,-1.2L338.3,-4.7M332.3,18.7L329.6,20.2M332.3,18.7L334.9,11.6M329.6,20.2L320.8,14.9M334.6,10.6L323.4,9.3M326.9,27.4L329.6,20.2M340.1,24.6L338.8,30.2M340.1,24.6L332.3,18.7M318.8,15.9L315.9,25.5M318.8,15.9L320.8,14.9M358.8,77.8L346.5,73.8M353.1,86.0L344.0,81.0M346.5,73.8L344.0,81.0M340.3,89.3L343.7,81.2M318.5,58.3L324.0,59.9M324.0,59.9L328.5,55.9M259.7,18.5L267.5,13.7M267.5,13.7L274.1,0.7M274.1,0.7L262.5,-3.4M262.5,-3.4L255.3,-1.9M254.8,-0.6L255.3,-1.9M275.0,25.4L259.2,19.7M275.0,25.4L278.7,18.0M278.7,18.0L267.5,13.7M221.9,25.3L255.3,23.9M223.8,17.3L254.8,-0.6M255.3,23.9L259.2,19.7M465.3,8.7L468.3,0.4M479.1,6.8L478.7,5.6M479.1,6.8L475.6,13.8M468.3,0.4L478.7,5.6M465.4,9.0L475.6,13.8M449.4,77.8L451.3,71.0M440.2,66.1L442.4,64.9M451.3,71.0L442.4,64.9M442.2,-0.4L452.7,5.6M456.5,-1.7L454.4,4.3M454.4,4.3L452.7,5.6M468.0,-0.9L469.4,-4.7M468.0,-0.9L456.5,-1.7M465.3,8.7L454.4,4.3M468.0,-0.9L468.3,0.4M426.8,3.3L417.7,-2.4M441.7,-0.2L439.1,6.6M441.7,-0.2L431.7,-4.2M426.9,4.1L439.1,6.6M436.5,15.1L439.4,8.4M436.5,15.1L445.9,19.4M439.4,8.4L450.7,11.7M425.2,9.8L426.9,4.1M434.2,16.3L436.5,15.1M439.1,6.6L439.4,8.4M308.0,128.1L307.9,139.5M308.0,128.1L294.7,124.0M307.9,139.5L289.6,141.0M294.7,124.0L288.2,130.6M288.2,130.6L289.6,141.0M296.3,113.7L294.7,124.0M315.8,123.5L308.0,128.1M309.6,141.0L307.9,139.5M280.8,127.2L288.2,130.6M281.6,148.2L274.7,146.1M281.6,148.2L283.4,148.1M236.0,117.7L250.4,109.6M236.0,117.7L236.1,126.5M241.9,128.6L255.0,116.4M241.9,128.6L236.1,126.5M255.0,116.4L250.4,109.6M230.2,110.5L236.0,117.7M228.2,131.8L216.5,119.0M246.9,133.6L241.9,128.6M256.6,117.3L255.0,116.4M223.7,142.4L228.2,131.8M196.8,102.3L207.8,120.9M196.8,102.3L186.9,108.8M186.9,108.8L194.5,132.9M207.8,120.9L203.8,129.3M200.3,94.5L196.8,102.3M216.5,119.0L207.8,120.9M168.8,85.9L181.8,109.7M219.9,143.3L203.8,129.3M140.8,131.9L152.7,126.5M165.8,147.6L167.9,144.3M167.9,144.3L152.7,126.5M139.1,103.5L155.5,121.1M157.4,94.2L165.6,114.8M155.5,121.1L165.6,114.8M181.8,109.7L172.2,116.0M650.6,2.4L654.0,3.2M648.0,9.3L652.8,10.3M652.8,10.3L654.0,3.2M660.6,-3.5L658.7,4.3M656.4,-4.3L654.3,3.1M658.5,4.3L654.3,3.1M591.8,113.6L589.8,111.7M595.6,106.5L592.2,105.8M592.2,105.8L589.8,111.7M585.4,119.3L585.5,111.3M589.8,111.7L585.5,111.3M579.5,117.5L583.0,111.0M583.0,111.0L585.1,111.0M576.9,109.7L581.3,110.0M616.5,64.0L620.8,65.2M622.0,57.8L621.0,65.2M619.8,57.0L621.2,57.2M605.6,23.1L609.8,24.5M612.0,16.7L607.1,16.6M607.1,16.6L605.5,22.9M609.8,24.5L611.1,24.1M619.5,26.3L615.4,25.1M620.1,26.8L617.1,34.2M617.1,34.2L613.3,32.6M570.8,146.4L573.6,150.9M570.8,146.4L577.1,142.0M573.6,150.9L579.1,148.2M577.1,142.0L579.2,147.8M568.9,145.7L570.8,146.4M586.3,146.1L579.2,147.8M581.8,154.2L579.1,148.2M581.8,154.2L587.5,150.9M586.3,146.1L587.5,150.9M583.8,159.7L581.5,155.2M583.8,159.7L576.9,162.9M581.5,155.2L575.2,156.2M585.6,166.2L583.9,159.7M573.4,151.6L575.2,156.2M567.9,159.5L574.9,156.9M601.5,148.2L595.3,149.9M592.9,144.4L594.9,149.7M594.9,149.7L589.4,152.1M583.9,159.7L590.4,157.7M589.4,152.1L590.4,157.7M585.6,166.2L592.1,165.0M592.1,165.0L594.6,170.8M996.8,19.4L994.2,29.5M1010.1,32.4L995.5,31.8M995.5,31.8L994.2,29.5M995.5,31.8L992.6,49.5M995.6,16.3L980.4,14.4M992.6,49.5L987.9,52.8M982.8,79.2L980.5,80.7M980.3,60.4L978.0,60.8M971.6,79.0L968.6,67.8M978.0,60.8L968.6,67.8M980.6,3.2L980.0,13.6M971.1,376.9L969.0,384.3M970.3,373.0L957.0,370.2M969.0,384.3L955.9,382.8M955.9,382.8L955.1,381.8M955.1,381.8L955.1,371.8M955.1,371.8L957.0,370.2M973.7,365.3L970.3,373.0M959.8,358.5L957.0,370.2M940.9,382.9L955.1,381.8M942.7,369.5L944.6,368.3M944.6,368.3L955.1,371.8M944.6,368.3L945.7,357.6M949.0,355.6L945.7,357.6M995.4,151.6L984.1,149.8M975.1,130.6L984.3,123.1M984.3,123.1L1000.7,124.5M978.9,94.2L993.1,95.2M978.1,105.3L996.7,105.3M993.1,95.2L996.7,105.3M995.6,82.4L993.1,95.2M977.0,92.2L980.5,80.7M977.0,92.2L978.9,94.2M1001.1,110.2L996.7,105.3M978.9,118.1L976.5,106.7M978.9,118.1L967.0,118.4M970.3,106.0L976.5,106.7M984.3,123.1L978.9,118.1M978.1,105.3L976.5,106.7M118.6,369.8L124.6,381.8M124.6,381.8L138.1,379.2M138.1,379.2L141.4,374.4M138.5,366.9L141.4,374.4M111.6,363.8L118.6,369.8M106.7,391.7L123.9,385.9M153.4,375.8L141.4,374.4M128.3,397.5L128.3,395.8M128.3,397.5L129.9,402.4M128.3,395.8L141.8,388.4M129.9,402.4L142.8,399.8M142.8,399.8L144.5,389.7M144.5,389.7L141.8,388.4M129.6,404.7L129.9,402.4M138.1,379.2L141.8,388.4M147.6,402.9L142.8,399.8M154.5,388.3L144.5,389.7M175.0,237.1L173.4,236.3M173.4,236.3L175.9,217.8M163.2,237.5L173.4,236.3M193.5,239.9L189.2,236.7M155.1,198.0L176.2,198.7M155.1,198.0L155.9,212.3M155.9,212.3L161.5,216.7M174.7,216.7L177.6,200.4M148.8,188.7L155.1,198.0M172.9,175.6L178.5,181.7M178.5,181.7L176.2,198.7M151.6,214.9L155.9,212.3M191.8,201.5L177.6,200.4M194.0,183.7L178.5,181.7M436.0,613.9L435.1,612.4M435.1,612.4L425.1,606.8M456.5,602.1L454.2,603.0M456.5,602.1L460.7,588.5M454.2,603.0L444.7,599.0M452.6,582.1L442.4,594.6M452.6,582.1L458.4,585.1M460.7,588.5L458.4,585.1M449.2,617.7L454.2,603.0M466.7,607.4L456.5,602.1M473.5,591.1L460.7,588.5M435.1,612.4L444.7,599.0M458.4,565.1L450.7,578.9M458.4,565.1L469.6,570.2M469.6,570.2L470.3,572.4M470.3,572.4L458.4,585.1M450.7,578.9L452.6,582.1M432.8,591.3L442.4,594.6M477.3,577.6L470.3,572.4M408.6,580.5L420.1,584.8M408.6,580.5L403.6,590.8M420.1,584.8L415.2,601.6M404.1,596.4L414.0,601.6M414.0,601.6L415.2,601.6M385.6,584.6L403.6,590.8M407.9,578.5L408.6,580.5M401.8,598.1L404.1,596.4M405.4,615.4L414.0,601.6M424.9,606.5L415.2,601.6M429.2,569.6L424.4,584.0M440.8,573.3L442.8,575.6M442.8,575.6L432.6,590.7M427.3,566.3L429.2,569.6M447.4,558.1L440.8,573.3M458.4,565.1L457.9,563.9M450.7,578.9L442.8,575.6M398.6,435.1L399.4,434.0M392.0,421.1L399.4,434.0M479.1,500.9L477.2,500.0M477.2,500.0L478.1,480.8M478.1,480.8L489.5,481.0M489.5,481.0L494.2,488.7M494.2,488.7L493.4,490.1M472.0,500.4L477.2,500.0M481.6,504.5L479.1,500.9M497.5,506.7L493.4,490.1M478.0,480.7L464.9,482.9M465.0,498.3L464.0,493.1M499.7,488.7L494.2,488.7M501.9,473.0L491.7,476.5M491.7,476.5L489.5,481.0M446.0,492.9L444.0,510.6M446.4,492.7L455.3,498.6M455.3,498.6L447.8,510.9M447.8,510.9L445.8,511.1M445.8,511.1L444.0,510.6M441.3,510.9L444.0,510.6M465.0,498.3L455.3,498.6M448.8,486.6L446.4,492.7M457.5,514.0L447.8,510.9M478.0,480.7L475.4,467.0M463.5,481.6L461.0,471.6M470.8,464.4L464.9,464.7M464.9,464.7L461.0,471.6M489.0,444.4L495.5,459.6M489.0,444.4L480.7,448.3M480.7,448.3L486.6,463.3M495.5,459.6L487.9,463.6M487.9,463.6L486.6,463.3M492.2,440.0L489.0,444.4M500.7,459.8L495.5,459.6M491.7,476.5L487.9,463.6M475.4,467.0L486.6,463.3M422.1,461.8L427.7,452.9M427.7,452.9L417.6,442.3M480.7,448.3L477.3,447.9M472.5,437.4L477.3,447.9M477.3,447.9L475.8,449.3M475.2,432.6L470.2,426.3M470.2,426.3L471.9,415.2M554.3,461.9L555.6,462.9M555.6,462.9L572.9,463.2M568.2,451.5L553.8,457.2M568.2,451.5L572.3,455.2M559.8,474.6L555.6,462.9M559.8,474.6L569.6,473.0M572.9,463.2L574.7,465.3M559.8,474.6L558.5,478.4M558.5,478.4L563.1,484.3M563.1,484.3L572.5,482.2M569.6,473.0L572.5,482.2M318.0,323.9L315.8,322.3M315.8,322.3L317.2,309.3M300.8,371.2L311.8,368.5M300.8,371.2L300.4,385.2M300.4,385.2L310.5,385.8M313.0,369.1L312.6,383.8M313.0,369.1L311.8,368.5M297.9,369.2L300.8,371.2M307.8,354.1L311.8,368.5M322.4,367.8L313.0,369.1M325.8,383.2L312.6,383.8M576.5,574.9L567.6,583.1M562.7,559.2L556.3,566.9M556.3,566.9L567.0,583.1M539.1,582.6L545.9,598.4M539.1,582.6L530.6,584.2M524.7,593.4L525.6,588.9M532.1,614.6L540.3,606.9M540.3,606.9L540.8,603.8M541.0,473.7L544.0,481.3M558.5,478.4L548.6,482.0M544.0,481.3L548.6,482.0M544.0,481.3L540.3,487.5M535.1,504.6L548.4,504.1M573.0,506.4L564.5,508.9M573.0,506.4L562.3,492.9M557.7,495.2L551.3,505.7M557.7,495.2L561.9,492.8M551.8,507.0L551.3,505.7M567.3,522.9L564.5,508.9M549.9,515.8L551.8,507.0M548.4,504.1L551.3,505.7M563.1,484.3L561.9,492.8M577.8,487.4L577.5,484.8M572.5,482.2L577.5,484.8M572.0,630.5L566.4,636.6M565.4,636.8L551.7,622.3M560.7,613.0L553.3,617.9M578.2,650.4L566.4,636.6M542.1,628.9L551.7,622.3M540.3,606.9L553.3,617.9M571.6,606.9L557.5,592.9M560.7,613.0L552.2,597.8M545.9,598.4L552.2,597.8M543.3,578.3L560.0,587.1M560.0,587.1L557.5,592.9M572.8,606.7L583.2,618.6M572.8,606.7L577.8,596.9M583.2,618.6L595.2,611.4M571.6,606.9L572.8,606.7M567.6,583.1L577.8,596.9M591.4,588.3L578.2,596.9M600.8,603.4L596.4,608.3M607.1,626.7L595.2,611.4M604.3,510.0L605.5,508.5M595.2,500.5L600.9,499.3M605.5,508.5L600.9,499.3M602.0,489.5L601.2,498.9M602.0,489.5L609.6,488.3M615.3,491.1L616.5,497.5M616.5,497.5L601.2,498.9M602.0,489.5L599.0,487.5M599.0,487.5L592.3,489.6M590.6,491.8L592.3,489.6M621.5,506.0L625.9,516.9M614.3,517.3L614.1,506.4M614.1,506.4L617.4,503.1M629.7,520.2L625.9,516.9M629.7,520.2L635.8,509.3M635.8,509.3L636.3,504.1M636.3,504.1L621.5,506.0M605.5,508.5L614.1,506.4M616.5,497.5L617.2,498.9M617.2,498.9L617.4,503.1M634.4,493.9L632.8,488.0M640.1,479.2L649.4,490.3M640.1,479.2L632.8,488.0M649.4,490.3L643.2,498.8M643.2,498.8L639.6,499.0M636.3,504.1L639.6,499.0M617.2,498.9L634.4,493.9M622.7,482.2L632.8,488.0M640.4,477.6L640.1,479.2M655.9,487.3L649.4,490.3M665.5,508.6L653.8,508.3M653.8,508.3L643.2,498.8M653.8,508.3L646.9,517.0M646.9,517.0L635.8,509.3M604.3,510.0L605.5,521.1M614.3,517.3L612.1,520.1M612.1,520.1L605.5,521.1M650.4,552.6L636.7,548.1M636.7,548.1L641.1,527.9M641.1,527.9L643.9,527.3M667.6,549.0L654.4,549.5M631.0,524.8L629.7,520.2M631.0,524.8L641.1,527.9M661.3,575.8L659.0,575.3M650.4,552.6L650.1,556.9M645.1,595.6L651.3,578.2M659.0,575.3L651.3,578.2M619.9,563.8L627.7,554.8M619.9,563.8L630.8,578.7M627.7,554.8L638.7,567.5M638.7,567.5L637.8,574.3M630.8,578.7L637.8,574.3M615.4,564.5L619.9,563.8M650.1,556.9L638.7,567.5M905.2,397.8L897.8,401.3M905.2,397.8L905.6,396.7M897.8,401.3L886.3,396.2M883.1,405.1L886.3,396.2M922.9,426.7L908.4,428.7M905.3,442.8L904.5,436.0M883.8,446.3L887.1,430.9M904.5,436.0L887.1,430.9M871.4,430.0L887.0,430.7M938.7,340.9L923.4,336.0M938.7,340.9L933.1,352.8M923.4,336.0L922.1,350.0M928.1,355.1L923.7,353.9M923.7,353.9L922.1,350.0M909.5,343.2L922.1,350.0M931.1,365.7L928.1,355.1M917.5,358.1L923.7,353.9M575.5,248.3L569.0,240.4M569.0,240.4L573.3,236.2M540.7,219.3L540.4,220.6M536.2,224.2L540.4,220.6M540.4,220.6L549.2,227.2M551.5,225.4L549.2,227.2M543.1,232.9L549.0,227.8M543.1,232.9L536.2,224.2M363.1,257.0L365.2,255.7M363.1,257.0L369.2,268.3M369.2,268.3L375.9,263.5M375.9,263.5L375.7,257.8M358.7,242.4L368.3,243.2M355.4,244.8L359.6,257.5M368.3,243.2L365.2,255.7M359.6,257.5L363.1,257.0M359.6,257.5L357.6,259.1M382.6,268.9L375.9,263.5M372.9,276.0L375.7,276.4M375.7,276.4L382.5,269.6M379.3,253.9L375.7,257.8M379.3,253.9L383.5,255.0M383.5,255.0L388.9,264.4M336.0,240.6L345.9,244.9M336.0,240.6L331.1,255.4M345.9,244.9L344.7,255.6M344.7,255.6L332.6,256.9M331.1,255.4L332.6,256.9M323.1,253.4L331.1,255.4M319.4,268.9L331.9,267.5M370.2,215.6L370.1,227.8M381.1,222.4L375.1,228.0M375.1,228.0L370.1,227.8M360.6,228.1L367.3,229.5M368.3,243.2L369.4,242.6M386.0,195.4L387.5,190.8M398.3,195.1L387.5,190.8M405.5,156.4L406.2,165.3M396.6,156.7L396.0,165.1M406.2,165.3L405.0,166.2M396.0,165.1L405.0,166.2M425.0,154.0L423.8,165.5M423.8,165.5L415.7,164.0M406.2,165.3L413.7,166.0M415.7,164.0L413.7,166.0M443.4,164.3L441.5,166.4M433.7,155.6L432.6,164.9M427.4,232.8L421.8,239.0M421.1,239.0L413.3,231.4M413.4,230.0L413.3,231.4M413.4,230.0L422.1,225.4M422.1,225.4L423.2,225.7M430.7,219.3L423.2,225.7M429.9,233.2L427.4,232.8M426.9,246.4L421.8,239.0M413.4,245.0L421.1,239.0M413.4,245.0L408.2,240.3M408.2,240.3L408.6,237.0M408.6,237.0L413.3,231.4M418.4,218.8L422.1,225.4M409.6,226.0L413.4,230.0M426.9,246.4L418.9,252.7M413.4,245.5L418.9,252.7M395.8,270.5L402.2,278.4M402.8,264.3L409.3,272.5M409.3,272.5L402.3,278.4M388.4,278.8L388.3,283.6M388.3,283.6L394.3,284.0M394.3,284.0L402.2,278.4M392.5,249.9L399.5,243.2M392.4,250.8L396.7,256.9M400.3,243.4L405.3,253.0M396.7,256.9L403.5,258.5M405.3,253.0L404.6,257.8M403.5,258.5L404.6,257.8M383.5,255.0L392.4,250.8M388.9,264.4L396.7,256.9M413.4,245.5L405.3,253.0M387.1,284.6L379.9,282.5M387.1,284.6L386.3,290.1M379.9,282.5L372.1,288.7M381.0,294.5L372.2,291.0M372.1,288.7L372.2,291.0M375.7,276.4L379.9,282.5M388.3,283.6L387.1,284.6M366.8,282.2L372.1,288.7M368.0,295.9L372.2,291.0M386.6,305.3L380.7,299.3M386.6,305.3L377.6,311.0M380.7,299.3L372.2,303.6M377.6,311.0L372.2,303.6M386.3,290.1L393.2,297.7M810.5,470.8L808.4,467.5M808.4,467.5L794.1,466.8M792.3,480.9L793.9,467.0M778.2,466.8L781.4,464.2M793.9,467.0L781.4,464.2M759.9,435.1L768.4,446.1M766.9,451.6L768.0,450.7M768.4,446.1L768.0,450.7M781.4,464.2L781.5,452.2M768.0,450.7L781.5,452.2M795.8,453.8L794.1,466.8M781.5,452.2L783.3,450.7M811.5,441.2L800.3,441.6M811.5,441.2L811.6,456.3M800.3,441.6L798.2,452.2M798.2,452.2L810.2,457.3M811.6,456.3L810.2,457.3M801.7,424.4L799.0,426.5M799.0,426.5L796.9,437.4M796.9,437.4L800.3,441.6M814.1,439.5L811.5,441.2M823.9,455.8L811.6,456.3M796.9,437.4L784.5,439.0M795.8,453.8L798.2,452.2M784.5,439.0L783.3,450.7M808.4,467.5L810.2,457.3M786.8,176.5L781.0,179.4M786.8,176.5L792.9,187.6M781.0,179.4L783.3,190.7M783.3,190.7L792.9,187.6M778.1,178.8L781.0,179.4M778.1,178.8L777.4,166.8M777.4,166.8L781.2,164.5M778.1,178.8L774.5,179.6M774.8,193.7L777.9,193.7M813.2,222.0L807.8,210.6M813.1,222.4L805.5,225.4M805.5,225.4L801.6,213.3M807.8,210.6L801.6,213.3M836.2,281.4L837.1,268.6M837.1,268.6L844.2,267.0M894.1,123.7L902.4,116.9M894.1,123.7L897.0,129.0M900.2,129.8L906.9,121.3M906.9,121.3L902.4,116.9M941.1,158.9L941.1,153.7M941.1,158.9L931.0,165.1M933.5,151.4L927.0,160.4M890.6,137.0L897.0,129.0M890.6,137.0L895.1,142.0M895.1,142.0L904.9,136.1M900.2,129.8L904.7,134.1M904.7,134.1L904.9,136.1M913.4,127.2L921.4,118.7M913.4,127.2L908.5,121.7M908.5,121.7L914.9,113.7M921.4,118.7L918.5,114.9M918.5,114.9L914.9,113.7M923.2,119.3L926.6,125.4M926.6,125.4L920.2,133.2M920.2,133.2L918.6,132.8M913.4,127.4L918.6,132.8M906.9,121.3L908.5,121.7M913.4,127.4L904.7,134.1M902.4,116.9L902.3,115.3M902.3,115.3L910.6,108.3M918.6,132.8L910.4,141.0M904.9,136.1L908.7,140.8M980.6,203.4L970.8,202.0M980.6,203.4L978.1,215.7M978.1,215.7L970.7,214.1M970.7,214.1L969.5,203.4M969.5,203.4L970.8,202.0M980.4,219.0L978.1,215.7M984.2,201.3L980.6,203.4M941.1,158.9L943.0,162.8M931.0,165.1L931.3,167.3M937.8,172.4L931.3,167.3M969.5,203.4L958.0,205.6M958.0,205.6L956.6,207.0M904.0,213.6L912.9,224.0M904.0,213.6L898.2,216.6M896.6,219.3L898.2,216.6M910.1,229.0L912.9,224.0M909.4,232.4L910.1,229.0M893.8,221.3L896.6,219.3M893.8,221.3L892.7,223.8M920.1,219.6L912.9,224.0M920.1,219.6L922.1,223.1M282.8,292.6L285.5,294.5M285.5,294.5L294.1,294.2M294.1,294.2L296.5,280.0M309.2,266.6L304.6,280.3M736.3,191.5L730.3,186.5M725.5,192.5L727.2,188.2M730.3,186.5L727.2,188.2M727.5,170.8L720.3,168.3M724.0,177.5L717.1,173.4M720.3,168.3L717.1,173.4M717.0,188.8L720.6,183.3M717.0,188.8L710.6,184.9M720.6,183.3L713.4,178.9M710.6,184.6L713.3,179.0M725.5,192.5L717.0,188.9M721.0,183.2L727.2,188.2M716.5,173.6L713.4,178.9M721.0,183.2L724.2,178.1M702.7,181.2L710.6,184.6M700.0,186.9L706.9,190.6M706.9,190.6L710.6,184.9M705.9,175.4L713.3,179.0M772.1,179.0L770.3,169.6M766.9,180.8L762.8,176.0M762.8,176.0L766.4,169.3M766.4,169.3L770.3,169.6M777.4,166.8L773.1,167.0M699.7,165.5L694.0,161.0M743.6,42.2L737.7,45.7M743.6,42.2L746.1,47.8M746.0,48.4L739.4,51.1M737.7,45.7L738.9,50.8M735.2,101.4L732.6,97.3M735.2,101.4L727.6,105.2M732.6,97.3L725.6,100.0M725.6,100.0L727.3,105.0M657.6,154.2L664.8,152.9M656.9,149.0L662.1,146.5M662.1,146.5L664.8,152.9M665.7,157.2L664.9,153.0M661.2,127.8L659.8,122.0M661.2,127.8L656.5,128.2M656.0,127.9L655.0,123.3M659.8,122.0L655.4,122.7M648.6,123.6L655.0,123.3M647.5,126.0L649.7,131.1M649.7,131.1L656.0,127.9M627.4,105.4L626.8,104.4M627.4,105.4L633.4,107.5M626.8,104.4L629.8,97.8M633.4,107.5L633.0,98.3M633.0,98.3L629.8,97.8M624.6,111.4L627.4,105.4M623.0,97.3L625.3,96.4M625.3,96.4L629.4,97.4M625.0,89.0L627.6,82.0M620.4,88.3L622.4,80.4M622.4,80.4L627.6,82.0M620.1,96.5L620.8,88.6M625.3,96.4L624.5,89.2M617.3,88.0L620.4,88.3M617.3,88.0L613.9,94.5M631.2,82.6L632.4,83.6M625.0,89.0L629.7,89.9M632.4,83.6L629.7,89.9M629.4,97.4L630.0,90.3M889.4,253.8L877.5,252.3M887.2,241.8L879.2,246.6M877.5,252.3L879.2,246.6M877.5,252.3L876.3,253.2M881.1,231.6L879.8,231.9M879.8,231.9L873.8,236.6M879.2,246.6L873.8,236.6M604.8,93.0L607.0,85.5M604.8,93.0L608.6,94.0M610.2,93.7L611.0,85.4M611.0,85.4L608.3,85.0M617.3,88.0L616.0,86.8M616.0,86.8L611.1,85.4M615.0,464.9L610.8,461.0M624.0,455.7L610.8,460.9M599.0,487.5L598.8,480.2M607.9,477.0L603.9,473.8M685.3,427.1L698.7,434.7M703.4,430.6L699.1,434.5M658.2,454.9L661.0,453.6M657.8,436.5L666.2,444.6M664.9,449.3L666.2,444.6M729.5,443.9L725.7,449.5M729.5,443.9L720.2,434.1M725.7,449.5L714.7,439.9M720.2,434.1L714.8,436.2M714.8,436.2L714.7,439.9M734.1,441.3L729.5,443.9M725.4,428.7L720.2,434.1M709.4,448.1L722.8,453.5M709.4,448.1L707.9,449.0M699.1,434.5L707.9,449.0M699.5,502.2L690.7,492.2M695.8,487.6L690.7,492.2M684.6,496.7L688.6,492.9M688.6,492.9L690.7,492.2M676.8,481.4L680.6,478.9M688.6,492.9L680.6,478.9M775.0,293.8L777.9,299.5M774.5,293.4L767.2,296.7M777.9,299.5L776.8,301.9M776.8,301.9L768.2,302.4M767.2,296.7L768.2,302.4M783.7,291.4L775.0,293.8M773.7,287.0L774.5,293.4M764.3,289.3L766.4,296.2M762.7,319.7L771.6,320.4M762.7,319.7L762.2,327.0M762.2,327.0L763.5,328.2M780.5,329.1L772.7,323.1M765.1,334.6L763.5,328.2M788.8,318.7L787.2,325.5M788.8,318.7L782.6,311.9M771.6,320.4L771.8,318.9M771.8,318.9L782.6,311.9M776.8,301.9L778.6,308.9M794.5,315.4L788.8,318.7M735.5,289.8L736.8,296.1M743.9,286.4L745.6,293.2M736.8,296.1L745.6,293.2M739.1,309.4L746.8,306.6M746.8,306.6L746.8,301.5M803.4,284.7L808.0,284.0M803.4,284.7L800.3,298.0M802.3,299.3L809.0,300.0M802.3,299.3L800.3,298.0M809.0,300.0L812.2,298.6M801.1,283.3L803.4,284.7M809.6,270.5L808.8,283.6M809.6,270.5L807.4,269.2M794.3,298.4L800.3,298.0M794.5,315.4L801.1,314.9M801.1,314.9L802.3,299.3M827.6,297.2L819.1,297.6M827.6,297.2L827.3,281.0M821.3,280.9L826.5,280.5M808.8,283.6L817.3,283.7M817.6,298.6L812.2,298.6M815.3,270.0L821.3,280.9M827.5,347.6L833.5,345.8M827.5,331.7L819.6,334.7M825.2,347.4L819.6,334.7M833.5,345.8L835.0,343.5M830.9,363.8L839.7,359.1M833.5,345.8L839.7,359.1M843.9,373.1L842.5,359.6M848.8,357.3L842.5,359.6M839.7,359.1L842.5,359.6M873.5,323.2L869.2,326.6M869.9,332.8L868.5,331.7M863.9,349.0L859.5,335.3M860.7,333.9L868.5,331.7M868.5,331.7L869.2,326.6M838.3,327.6L842.2,340.4M838.3,327.6L846.7,321.0M835.0,343.5L842.2,340.4M848.8,357.3L842.6,340.4M859.5,335.3L850.6,338.0M835.7,281.6L836.5,297.3M827.6,297.2L829.3,298.1M846.0,296.6L837.7,297.8M836.5,297.3L837.7,297.8M848.2,318.3L845.5,315.6M845.5,315.6L847.2,297.0M852.5,317.7L856.6,315.2M847.2,297.0L851.8,296.5M860.7,333.9L852.5,317.7M846.7,321.0L848.2,318.3M846.0,296.6L847.2,297.0M838.6,312.6L837.7,297.8M838.6,312.6L845.5,315.6M861.1,314.7L856.6,315.2M859.1,295.5L853.2,296.9M851.8,280.5L843.7,280.8M851.8,280.5L851.8,296.5M851.8,280.5L853.6,279.5M787.2,325.5L799.2,329.5M801.7,340.9L799.2,329.5M816.3,352.3L811.4,337.6M801.7,340.9L811.4,337.6M707.9,424.0L714.4,417.2M697.8,409.6L702.4,407.4M702.4,407.4L714.4,417.2M726.3,423.1L716.2,416.5M716.2,416.5L714.4,417.2M745.8,401.6L734.2,394.6M734.2,394.6L731.5,397.5M731.5,397.5L738.6,411.3M735.3,416.9L735.6,415.1M754.5,415.0L753.5,419.6M735.6,415.1L738.6,411.3M722.1,382.8L721.7,377.0M722.1,382.8L716.8,390.3M715.9,390.7L706.3,378.9M721.7,377.0L710.7,373.8M710.7,373.8L706.3,378.9M734.4,393.6L726.2,384.8M731.5,397.5L729.9,398.0M725.7,369.6L723.9,374.7M709.9,370.6L710.7,373.8M705.2,379.3L706.3,378.9M721.7,274.7L730.3,273.2M721.7,274.7L720.0,270.4M720.3,268.8L720.0,270.4M720.3,268.8L729.4,267.0M729.4,267.0L730.3,273.2M710.7,263.4L717.8,263.1M710.7,263.4L709.8,270.9M718.0,263.3L720.3,268.8M711.4,273.0L720.0,270.4M705.7,296.6L706.5,301.5M715.4,292.5L715.8,299.8M715.8,299.8L706.5,301.5M707.1,310.9L708.2,307.9M697.9,303.6L706.4,301.6M708.2,307.9L706.4,301.6M727.1,303.1L718.7,307.1M727.1,303.1L727.0,298.2M716.4,300.5L717.9,306.3M719.6,311.6L718.7,307.1M719.6,311.6L728.5,312.5M728.5,312.5L730.1,310.8M736.6,296.6L737.9,299.9M736.6,296.6L727.0,298.2M733.8,288.4L725.1,290.7M724.6,291.7L715.4,292.5M708.2,307.9L717.9,306.3M718.5,313.7L711.5,317.5M718.5,313.7L719.6,311.6M735.2,334.3L736.1,330.9M739.0,314.3L733.2,320.4M718.5,313.7L724.6,322.8M724.6,322.8L724.0,324.4M762.7,319.7L761.2,317.6M762.2,327.0L753.0,326.8M751.8,322.1L753.0,326.8M739.0,314.3L744.5,318.8M747.4,307.1L750.2,314.4M750.2,314.4L748.5,318.4M744.5,318.8L748.5,318.4M709.8,239.9L703.0,233.3M709.8,239.9L711.1,239.3M711.1,239.3L713.5,233.4M705.0,229.8L706.9,229.2M713.5,233.4L706.9,229.2M710.2,222.9L710.3,224.1M710.2,222.9L701.7,218.8M699.9,224.1L701.7,218.8M710.3,224.1L706.9,229.2M733.0,236.4L726.6,231.5M726.6,231.5L728.6,227.2M735.4,228.7L728.6,227.2M690.4,277.1L689.5,268.7M701.4,272.2L699.0,266.0M699.0,266.0L689.5,268.7M671.4,252.7L679.2,250.9M671.4,241.2L678.2,246.0M679.2,250.9L678.2,246.0M674.5,235.6L681.8,238.4M678.2,246.0L681.8,238.4M716.0,241.4L711.1,239.3M713.9,249.4L708.9,248.6M708.9,248.6L707.5,244.2M702.9,233.4L699.6,241.7M707.5,244.2L699.6,241.7M723.7,282.3L721.2,277.1M723.4,283.1L713.8,285.7M721.2,277.1L713.0,278.8M713.0,278.8L713.8,285.7M731.6,280.2L723.7,282.3M721.7,274.7L721.2,277.1M725.1,290.7L723.4,283.1M711.6,277.5L713.0,278.8M541.4,266.0L533.9,258.2M541.4,266.0L546.2,261.2M546.5,260.3L537.0,254.5M537.0,254.5L534.2,257.4M530.1,261.1L533.9,258.2M548.6,273.3L553.2,270.1M537.3,253.6L529.9,245.3M528.8,261.5L521.9,253.3M522.3,251.2L521.9,253.3M527.3,322.7L529.7,314.5M527.3,322.7L536.5,326.2M536.5,326.2L539.4,319.1M542.6,309.4L539.3,319.0M509.4,315.0L504.5,322.8M499.8,332.1L501.5,331.5M501.5,331.5L504.8,323.5M537.7,348.3L535.3,355.4M529.3,343.0L533.2,336.3M540.2,346.9L537.7,348.3M520.6,339.8L517.2,347.2M517.3,347.6L525.3,350.4M530.5,363.4L522.5,360.0M530.5,363.4L535.0,355.6M522.5,360.0L525.6,351.0M538.4,356.9L535.3,355.4M539.5,367.1L536.7,368.5M530.5,363.4L531.5,366.3M458.1,285.6L448.9,290.8M451.3,277.8L444.6,283.0M441.1,310.2L447.5,303.1M438.8,309.6L435.5,302.9M447.5,303.1L440.3,297.7M435.5,302.9L440.3,297.7M440.1,260.5L439.7,261.9M444.6,283.0L443.3,282.7M507.4,254.3L509.0,253.4M507.4,254.3L505.6,257.6M509.0,253.4L517.9,257.8M505.6,257.6L512.5,263.6M513.9,263.4L512.5,263.6M513.9,263.4L517.9,257.9M499.5,245.4L507.4,254.3M514.1,244.9L509.0,253.4M504.2,258.4L505.6,257.6M521.9,253.3L517.9,257.8M510.6,266.9L512.5,263.6M520.3,269.2L519.6,270.7M520.3,269.2L513.9,263.4M519.6,270.7L515.3,273.4M520.3,269.2L524.4,266.7M524.6,266.0L517.9,257.9M531.9,285.4L529.1,286.7M531.9,285.4L530.2,276.0M529.1,286.7L522.6,281.7M530.2,276.0L524.3,278.4M527.9,295.0L526.7,292.8M538.6,286.1L531.9,285.4M526.7,292.8L529.1,286.7M531.8,274.0L530.2,276.0M519.6,270.7L524.3,278.4M509.9,286.4L514.4,280.1M509.9,286.4L518.5,291.4M514.4,280.1L520.3,282.6M520.3,282.6L519.0,291.1M507.9,287.1L509.9,286.4M513.1,276.4L514.4,280.1M515.0,297.9L518.5,291.4M522.6,281.7L520.3,282.6M479.2,303.0L468.8,299.2M466.2,306.5L465.6,305.2M465.6,305.2L468.8,299.2M474.7,292.6L468.7,298.2M468.7,298.2L462.6,291.8M497.9,340.3L495.3,349.8M497.9,340.3L508.1,343.0M508.1,343.0L504.7,351.3M504.7,351.3L499.1,353.9M495.3,349.8L499.1,353.9M489.8,349.3L495.3,349.8M501.5,331.5L510.2,335.0M510.3,336.0L508.1,343.0M510.3,336.0L520.6,339.8M517.2,347.2L508.1,343.0M482.9,221.7L472.5,215.2M482.9,221.7L480.2,226.3M480.2,226.3L468.7,220.9M472.1,215.4L468.7,219.9M476.7,209.4L472.5,215.2M466.4,225.8L468.7,220.9M458.6,214.3L468.7,219.9M465.5,262.0L465.3,266.2M465.3,266.2L472.3,271.8M476.9,266.9L472.6,271.8M460.7,256.6L465.5,262.0M484.9,267.9L476.9,266.9M432.8,327.4L428.1,330.6M432.8,327.4L433.6,325.5M430.6,318.7L422.3,320.1M423.8,329.8L421.9,324.1M422.3,320.1L421.9,324.1M413.9,334.6L413.3,323.9M421.9,324.1L413.3,323.9M395.9,319.8L390.5,310.9M398.3,320.1L403.3,313.3M403.3,313.3L398.1,306.6M398.1,306.6L392.6,305.4M390.5,310.9L391.2,306.2M391.2,306.2L392.6,305.4M382.7,320.5L390.5,310.9M384.8,326.2L395.9,319.8M402.3,327.2L398.3,320.1M386.6,305.3L391.2,306.2M457.2,366.3L451.4,357.2M446.1,371.4L443.1,362.7M433.0,365.1L439.9,361.5M443.1,362.7L439.9,361.5M616.2,386.7L606.3,387.6M595.5,378.8L594.6,379.8M594.6,379.8L596.9,389.3M605.7,387.1L596.9,389.3M548.5,386.1L548.2,376.3M558.4,384.3L555.6,375.8M555.6,375.8L548.3,376.2M538.7,386.2L548.0,386.8M547.1,365.7L548.3,376.2M532.6,423.0L537.2,421.3M543.8,425.3L544.3,433.6M543.8,425.3L539.3,421.1M537.2,421.3L539.3,421.1M553.5,423.6L553.8,415.4M543.3,414.1L539.3,421.1M543.3,414.1L552.6,414.2M553.8,415.4L552.6,414.2M609.3,279.2L615.5,274.9M609.3,279.2L614.2,285.9M620.6,282.3L614.2,285.9M620.6,282.3L616.9,275.2M623.4,271.0L616.9,275.2M623.6,270.0L620.4,264.5M620.4,264.5L618.9,264.0M618.9,264.0L612.1,267.8M612.1,267.8L615.5,274.9M595.6,278.6L598.0,273.9M587.2,269.9L591.3,266.1M579.9,260.3L579.1,262.3M722.1,200.6L719.8,205.0M719.8,205.0L725.7,210.3M725.7,210.3L726.9,209.7M726.9,209.7L730.0,203.4M721.1,221.7L722.8,215.6M721.1,221.7L712.5,218.4M722.8,215.6L715.5,211.8M718.7,205.5L715.5,211.8M725.7,210.3L724.1,214.8M724.1,214.8L722.8,215.6M712.3,218.5L704.3,214.1M708.1,208.5L704.3,214.1M708.1,208.5L715.0,212.0M743.8,222.0L750.5,223.0M743.8,222.0L742.8,233.8M750.5,223.0L751.4,232.3M742.8,233.8L751.4,232.5M752.3,221.9L750.5,223.0M761.5,230.1L751.4,232.3M753.7,192.3L747.6,189.4M744.9,195.6L747.0,189.8M750.3,183.6L758.3,188.9M749.9,183.8L747.6,189.4M736.8,191.3L740.2,186.6M740.2,186.6L747.0,189.8M655.1,235.7L656.3,240.3M654.7,235.3L647.9,237.3M656.3,240.3L649.4,242.9M649.4,242.9L647.9,237.3M657.5,241.5L656.3,240.3M662.7,233.5L655.1,235.7M645.7,184.8L643.7,179.8M647.9,191.8L653.7,188.2M653.7,188.2L652.6,183.7M645.7,184.8L652.6,183.7M648.0,171.0L654.2,169.2M647.7,171.5L649.5,177.2M654.2,169.2L656.4,174.1M656.4,174.1L650.2,177.5M641.2,174.6L642.3,172.6M642.3,172.6L647.7,171.5M643.7,179.8L649.5,177.2M663.2,172.5L656.9,174.4M658.5,180.8L656.9,174.4M658.5,180.8L652.8,183.1M630.2,249.4L624.7,250.9M630.2,249.4L633.7,255.5M633.7,255.5L628.5,260.1M622.4,253.3L624.7,250.9M622.4,253.3L626.0,259.6M626.0,259.6L628.5,260.1M631.8,245.8L630.2,249.4M631.0,265.9L628.5,260.1M620.4,264.5L626.0,259.6M626.0,238.6L629.0,243.9M629.0,243.9L621.4,243.9M621.6,233.3L621.7,238.0M631.0,235.2L626.0,238.6M631.8,245.8L629.0,243.9M611.6,232.7L618.7,241.5M615.1,244.4L620.5,253.5M613.7,244.8L615.1,244.4M632.7,215.6L626.5,218.0M624.6,212.9L630.2,209.9M636.6,207.6L631.0,210.3M628.0,205.0L630.2,209.9M655.1,215.4L657.7,221.3M655.2,215.0L662.0,212.7M664.0,218.1L657.7,221.3M664.1,217.8L662.0,212.7M672.1,217.4L669.5,216.5M664.0,218.1L667.1,225.6M684.5,212.7L682.7,215.7M684.5,212.7L680.4,205.3M680.4,205.3L676.8,207.0M675.4,212.5L676.8,207.0M645.4,205.4L650.9,203.0M648.9,196.2L650.9,203.0M653.6,209.6L651.1,203.0M653.6,209.6L659.7,206.7M651.1,203.0L658.4,200.9M658.4,200.9L659.7,206.7M670.0,190.9L677.4,186.6M677.4,186.6L679.1,191.1M685.5,194.6L679.1,191.1M685.5,194.6L688.8,189.9M681.7,200.9L674.5,197.3M665.6,198.2L671.3,195.1M665.6,198.2L665.0,199.8M672.1,201.8L674.2,197.4M665.0,199.8L667.6,203.2M665.6,198.2L662.9,192.1M718.7,205.5L711.3,202.0M708.1,208.4L711.3,202.0M684.5,212.7L688.4,210.9M688.4,210.9L690.0,206.0M648.8,297.4L655.0,293.9M651.4,305.1L658.9,302.6M658.9,302.6L659.3,300.7M651.1,286.8L655.0,293.9M662.9,308.0L658.9,302.6M661.8,289.6L655.3,294.0M618.9,294.2L620.4,302.9M619.8,313.3L617.9,312.3M617.9,312.3L616.0,306.0M616.0,306.0L620.4,302.9M608.1,279.1L603.7,270.4M608.1,279.1L604.0,282.4M598.0,273.9L603.7,270.4M583.5,312.9L588.6,311.1M583.5,312.9L578.6,311.8M578.8,307.5L583.7,302.4M578.8,307.5L577.7,311.2M589.4,308.1L587.4,302.4M589.4,308.1L588.6,311.1M587.4,302.4L583.7,302.4M585.7,322.9L583.5,312.9M585.7,322.9L592.6,318.6M593.3,316.1L592.6,318.6M593.3,316.1L588.6,311.1M583.6,326.6L585.7,322.9M580.4,324.1L578.6,311.8M575.4,311.7L577.7,311.2M600.0,313.4L593.3,316.1M597.7,307.4L600.0,313.3M596.6,306.8L594.2,298.4M603.7,301.8L599.5,296.5M594.2,298.4L599.5,296.5M606.3,290.7L600.6,293.7M606.3,290.7L604.0,282.4M600.2,282.1L597.5,289.4M590.5,282.1L594.0,288.7M594.0,288.7L597.5,289.4M577.5,295.4L573.5,298.3M569.9,301.4L572.2,298.6M572.2,298.6L564.9,291.0M572.2,298.6L573.5,298.3M594.0,288.7L591.2,291.5M594.2,298.4L591.8,298.2M599.5,296.5L600.6,293.7M591.2,291.5L591.8,298.2M585.4,210.2L589.4,220.7M592.1,220.1L589.4,220.7M587.1,207.2L586.5,209.2M584.2,210.7L585.4,210.2M599.7,209.8L595.7,214.3M578.8,215.5L586.0,222.3M587.9,221.9L589.4,220.7M598.7,227.0L592.1,220.1M636.6,161.8L639.3,167.0M637.0,161.0L644.2,159.4M640.1,167.3L645.5,164.6M645.5,164.6L644.2,159.4M631.2,163.9L636.6,161.8M633.7,171.0L639.3,167.0M642.3,172.6L640.1,167.3M651.0,157.3L644.2,159.4M605.8,178.2L605.1,180.5M605.1,180.5L598.3,181.9M603.0,174.4L597.8,176.0M597.8,176.0L598.3,181.8M611.6,177.2L605.8,178.2M603.6,173.0L603.0,174.4M606.9,184.8L605.1,180.5M600.7,187.3L598.3,181.9M602.5,167.6L600.8,167.0M594.6,170.8L600.8,167.0M591.6,184.0L598.3,181.8M626.3,152.6L627.2,158.1M626.3,152.6L627.0,151.4M627.2,158.1L628.5,159.0M628.5,159.0L635.2,155.7M621.8,160.4L627.2,158.1M625.9,147.0L627.0,151.4M635.2,155.7L637.0,161.0M638.7,141.4L636.8,135.8M636.8,135.8L641.7,132.3M649.5,131.7L642.3,132.7M642.3,132.7L645.3,140.1M645.3,140.1L651.3,137.0M640.3,148.4L646.9,145.9M642.7,153.8L649.0,150.8M649.0,150.6L647.3,146.3M639.1,147.6L640.3,148.4M635.2,155.7L642.0,153.5M644.2,159.4L642.7,153.8M656.9,149.0L655.5,148.3M655.5,148.3L649.0,150.6M655.5,148.3L654.0,143.0M654.0,143.0L647.3,146.3M652.1,137.3L654.1,142.7M611.4,258.5L616.0,257.2M611.4,258.5L605.3,253.1M616.5,256.2L610.1,248.1M618.9,264.0L616.0,257.2M612.1,267.8L607.6,266.2M607.6,266.2L611.4,258.5M603.2,253.8L597.6,245.0M601.6,240.9L609.4,248.3M620.5,253.5L616.5,256.2M613.7,244.8L610.1,248.1M486.9,166.9L489.7,161.8M489.7,161.8L500.3,168.2M500.3,168.2L497.3,174.4M493.5,179.1L496.6,174.8M508.5,180.5L497.3,174.4M618.7,4.6L621.9,3.4M618.7,4.6L617.6,9.9M611.9,9.7L610.5,8.6M615.6,2.7L610.5,8.6M631.0,21.1L626.1,19.5M626.6,12.6L626.1,19.5M629.2,27.9L627.8,28.2M624.1,27.3L627.8,28.2M619.5,26.3L620.9,19.4M620.1,26.8L624.1,27.3M592.2,-2.1L596.4,-1.6M600.3,21.7L601.8,14.3M316.0,168.9L306.4,171.1M316.0,168.9L320.0,172.5M306.4,171.1L307.0,181.4M304.7,169.9L306.4,171.1M319.7,156.4L328.7,157.5M328.7,157.5L331.0,168.9M325.5,186.7L316.2,184.8M303.8,183.6L307.0,181.4M349.0,173.6L352.3,166.7M361.3,174.5L364.2,171.9M364.2,171.9L364.1,170.5M364.1,170.5L357.8,165.5M340.4,170.3L341.8,165.9M341.8,165.9L349.7,162.9M352.3,166.7L349.7,162.9M386.6,155.3L377.5,155.6M386.3,145.9L376.8,146.6M366.6,155.9L367.9,146.6M376.7,146.7L367.9,146.6M432.1,134.8L423.6,133.6M432.4,135.3L431.7,142.9M423.6,133.6L421.1,135.6M421.1,135.6L425.2,144.7M431.7,142.9L425.2,144.7M432.9,125.3L432.1,134.8M432.9,125.3L431.1,123.5M431.1,123.5L424.1,124.7M424.1,124.7L423.6,133.6M433.0,143.9L431.7,142.9M441.9,134.8L432.4,135.3M413.4,125.6L423.2,124.1M415.2,135.8L421.1,135.6M425.0,154.0L433.6,155.6M257.7,177.9L252.6,171.3M258.7,178.1L271.4,168.7M252.4,169.3L252.6,171.3M271.4,168.7L268.2,162.8M268.2,162.8L266.3,161.4M246.2,189.2L257.7,177.9M239.0,177.2L252.6,171.3M281.5,172.6L271.4,168.7M261.4,154.1L266.3,161.4M281.6,148.2L268.2,162.8M194.1,133.4L201.0,149.6M178.0,139.3L190.8,160.1M201.0,149.6L191.4,160.2M204.9,149.7L201.0,149.6M172.2,116.0L179.1,137.8M167.9,144.3L178.0,139.3M176.8,167.6L190.8,160.1M198.5,168.2L191.4,160.2M516.4,-3.4L520.3,-3.1M577.4,18.3L581.4,18.5M577.4,18.3L575.7,16.9M581.4,18.4L582.0,11.7M582.0,11.7L578.1,10.0M585.4,19.4L581.4,18.4M585.4,19.4L585.4,26.4M585.2,26.5L580.1,25.1M580.1,25.1L581.4,18.5M584.3,10.9L582.0,11.7M584.3,10.9L583.8,3.4M578.1,10.0L577.2,9.0M577.2,9.0L579.8,2.9M579.8,2.9L576.1,0.6M585.7,42.6L581.7,41.2M581.6,41.1L583.3,34.2M585.4,26.4L588.5,26.8M547.1,111.0L550.0,111.7M549.8,118.9L545.4,118.9M543.7,117.0L545.4,118.9M549.2,126.3L549.8,118.9M543.4,125.3L545.4,118.9M540.8,116.4L543.7,117.0M539.8,116.8L538.6,124.2M543.4,125.3L538.6,124.2M565.2,115.1L560.2,114.7M560.2,114.7L559.0,120.6M557.8,128.6L557.7,121.2M557.7,121.2L559.0,120.6M552.1,127.2L554.7,120.9M557.7,121.2L554.7,120.9M549.8,118.9L552.8,119.2M554.7,120.9L552.8,119.2M503.1,164.5L495.3,154.7M495.3,154.7L493.2,156.3M529.0,123.2L527.8,122.0M527.8,122.0L524.3,121.6M538.4,124.3L534.5,123.1M533.3,123.6L532.6,130.4M536.4,130.8L532.7,130.5M534.1,115.7L534.5,123.1M534.1,115.7L530.9,115.0M530.9,115.0L527.8,122.0M527.8,129.7L532.6,130.4M524.5,132.1L531.7,136.9M524.5,132.1L522.8,134.0M522.1,138.0L532.8,141.8M531.7,136.9L533.4,140.8M532.7,130.5L531.7,136.9M509.7,133.6L518.8,141.7M511.4,129.4L522.8,134.0M530.1,147.5L532.8,141.8M535.8,138.9L533.4,140.8M543.5,147.5L533.1,141.6M509.7,133.6L504.6,137.2M504.5,137.5L514.0,146.6M511.0,153.1L511.4,149.7M514.0,146.6L511.4,149.7M508.7,156.8L498.0,151.7M511.4,149.7L501.1,145.4M498.0,151.7L501.1,145.4M495.3,154.7L496.3,152.8M482.1,146.9L481.7,149.3M493.2,156.3L481.7,149.3M496.3,152.8L487.5,144.6M504.5,137.5L501.0,144.8M348.4,35.3L352.6,28.9M352.6,28.9L343.2,22.5M334.9,11.6L345.7,16.8M343.2,22.5L345.7,16.8M348.4,35.3L359.9,41.0M356.7,48.1L360.1,42.4M359.9,41.0L360.1,42.4M334.6,45.1L340.9,47.3M368.0,54.0L364.4,61.9M364.1,62.0L355.1,58.1M354.0,54.9L355.1,58.1M372.2,73.0L374.1,66.4M374.1,66.4L364.4,61.9M360.8,70.8L364.1,62.0M343.1,53.1L340.9,47.3M343.1,53.1L354.0,54.9M440.2,66.1L430.9,60.6M442.4,64.9L444.8,60.2M444.8,60.2L443.2,56.1M433.3,52.7L443.2,56.1M430.9,60.6L432.9,53.0M423.6,10.7L420.7,18.5M410.2,15.7L420.7,18.5M445.3,86.0L449.5,78.1M445.3,86.0L436.0,81.2M437.6,73.1L435.5,79.8M431.8,93.3L430.9,90.0M430.9,90.0L421.9,84.4M420.8,85.0L421.9,84.4M435.5,79.8L423.8,78.2M421.9,84.4L423.8,78.2M426.6,70.0L437.6,73.1M370.7,45.5L360.1,42.4M370.7,45.5L371.5,48.0M371.5,48.0L369.2,53.2M406.9,88.6L409.5,80.0M406.9,88.6L395.7,83.6M395.7,83.6L397.9,76.5M397.9,76.5L409.4,79.8M416.5,92.8L412.1,93.8M420.8,85.0L409.5,80.0M394.7,84.4L395.7,83.6M403.1,96.3L408.1,92.5M423.5,77.3L413.5,72.8M413.5,72.8L412.3,73.6M412.3,73.6L409.4,79.8M382.9,77.9L386.2,71.5M374.1,66.4L376.4,65.3M386.2,71.5L376.4,65.3M369.2,53.2L378.5,59.7M376.4,65.3L378.5,59.7M304.9,42.4L299.6,40.1M298.6,64.5L283.9,55.2M298.6,64.5L295.7,69.8M295.7,69.8L284.2,66.6M284.2,66.6L281.6,55.3M305.0,61.3L298.6,64.5M296.8,80.2L295.7,69.8M270.8,71.6L270.0,69.0M280.2,54.4L281.6,55.3M280.2,54.4L277.3,54.3M277.3,54.3L270.0,69.0M257.7,67.7L260.3,66.1M270.0,69.0L260.3,66.1M346.4,73.6L336.9,68.7M346.4,73.6L350.4,66.2M350.2,64.8L340.7,59.8M339.8,60.4L336.8,68.3M360.8,70.8L350.4,66.2M355.1,58.1L350.2,64.8M328.5,55.9L339.8,60.4M325.4,63.9L336.8,68.3M325.4,63.9L324.0,59.9M325.4,63.9L323.1,71.9M336.9,68.7L332.1,76.8M323.1,71.9L332.1,76.8M309.5,64.8L319.4,74.2M332.4,78.0L332.1,76.8M336.4,4.7L324.7,-0.2M336.4,4.7L338.3,-4.7M324.7,-0.2L324.4,-1.5M336.6,5.3L334.6,10.6M323.4,9.3L322.2,5.8M324.4,-1.5L314.8,-4.8M318.8,15.9L309.7,10.9M313.8,26.9L305.0,23.9M309.7,10.9L304.0,19.6M304.0,19.6L305.0,23.9M322.2,5.8L309.2,4.2M309.7,10.9L308.8,4.4M448.0,48.6L450.8,41.6M450.8,41.6L440.4,37.1M446.2,49.3L437.3,44.6M440.4,37.1L437.3,44.6M446.2,49.3L443.2,56.1M437.3,44.6L435.7,45.6M448.0,48.6L456.9,55.3M444.8,60.2L455.6,58.9M456.9,55.3L455.6,58.9M402.2,31.1L399.7,37.5M388.2,35.3L399.7,37.5M388.2,35.3L388.0,33.4M392.1,26.6L388.0,33.4M401.6,3.5L404.4,-4.1M401.8,4.6L412.8,6.2M415.0,-1.0L412.8,6.2M391.1,-2.0L401.6,3.5M399.6,9.6L409.4,16.3M417.7,-2.4L415.0,-1.0M423.6,10.7L425.2,9.8M637.7,30.1L639.1,31.4M639.1,31.4L641.8,31.8M646.7,39.5L647.8,33.4M647.8,33.4L641.9,31.9M645.8,39.8L641.9,38.9M641.9,38.9L641.9,31.9M639.1,31.4L635.7,37.7M641.2,39.2L636.6,38.5M597.1,105.7L598.4,99.7M602.1,99.7L598.4,99.7M602.1,99.7L604.7,93.0M591.1,104.3L594.3,97.9M598.4,99.7L597.0,98.7M576.5,109.3L571.3,108.2M591.1,104.3L587.6,103.7M585.1,111.0L586.6,103.9M589.3,96.5L593.9,97.5M587.6,103.7L589.1,96.6M609.7,32.0L612.9,32.7M616.0,40.8L617.1,34.3M612.0,41.1L611.0,40.2M603.0,37.9L607.0,38.7M611.0,40.2L607.1,38.9M612.8,156.9L605.5,158.1M603.6,154.1L605.5,158.1M607.2,164.9L605.2,159.4M591.1,158.1L596.8,156.3M591.1,158.1L592.6,163.8M597.0,156.4L599.0,161.7M592.1,165.0L592.6,163.8M603.6,154.1L597.0,156.4M605.2,159.4L599.0,161.7M932.8,133.7L924.2,138.1M932.8,133.7L937.3,138.4M937.3,138.4L930.6,147.7M924.2,141.0L924.2,138.1M924.2,141.0L929.7,147.3M933.5,127.4L932.8,133.7M933.5,127.4L926.6,125.4M920.2,133.2L924.2,138.1M935.5,126.0L933.5,127.4M944.5,126.4L943.6,138.9M945.2,140.6L943.6,138.9M945.2,140.6L942.2,152.9M942.2,152.9L941.1,153.7M933.5,151.4L930.6,147.7M916.1,145.7L910.4,141.0M919.9,153.4L929.7,147.3M919.9,153.4L916.0,149.9M977.0,27.8L975.8,28.8M973.9,38.1L975.8,28.8M923.2,119.3L930.0,114.6M935.5,126.0L934.4,114.6M930.0,114.6L934.4,114.6M918.5,114.9L924.3,105.4M930.0,114.6L924.3,105.4M944.4,114.6L946.6,117.2M949.5,66.1L941.4,66.7M941.4,66.7L939.3,76.8M950.0,77.5L948.3,78.6M948.3,78.6L939.4,77.0M947.6,89.9L948.3,78.6M939.4,77.0L936.8,88.6M949.5,66.1L951.3,64.3M962.2,68.1L958.4,78.4M951.3,64.3L959.4,65.3M971.6,79.0L968.3,81.2M977.0,92.2L968.9,92.7M968.3,81.2L968.9,92.7M959.6,80.0L958.2,91.2M937.1,101.4L936.5,88.8M947.9,90.2L945.4,102.2M944.4,114.6L946.3,103.1M937.1,101.4L935.4,102.4M935.4,102.4L934.9,114.1M946.3,103.1L945.4,102.2M980.6,3.2L966.5,-1.3M976.8,142.4L964.0,141.7M967.0,118.4L966.2,129.1M958.7,115.4L965.7,116.9M958.7,115.4L955.9,128.2M966.2,129.1L955.9,128.2M945.9,125.4L955.5,128.4M945.2,140.6L954.0,140.1M957.4,114.1L958.7,115.4M957.4,114.1L946.6,117.2M983.4,169.3L970.2,167.2M976.1,153.7L970.1,167.0M953.7,153.9L954.6,140.6M953.9,154.0L963.2,153.7M963.2,153.7L964.4,152.6M942.2,152.9L953.7,153.9M976.1,153.7L964.4,152.6M964.3,166.6L963.2,153.7M130.8,282.4L133.1,283.4M130.8,282.4L113.7,283.5M133.1,283.4L133.2,305.0M113.7,283.5L112.6,306.9M133.2,305.0L122.4,311.9M122.4,311.9L112.6,306.9M130.2,254.7L130.8,282.4M105.9,309.2L112.6,306.9M127.2,328.2L122.4,311.9M145.7,281.5L156.8,282.6M145.3,281.7L147.3,306.4M156.8,282.6L161.0,305.9M157.9,307.5L149.9,308.0M149.9,308.0L147.3,306.4M146.1,257.8L145.7,281.5M165.0,278.6L156.8,282.6M133.2,305.0L147.3,306.4M169.1,306.0L161.0,305.9M161.0,332.8L157.9,307.5M405.6,418.1L392.1,420.9M405.6,418.1L406.5,408.7M404.5,405.9L393.2,405.2M393.2,405.2L392.1,420.9M408.6,422.3L405.6,418.1M408.6,422.3L408.5,430.8M408.5,430.8L399.4,434.0M407.4,399.0L404.5,405.9M419.8,396.8L419.6,409.8M449.0,484.6L445.0,476.5M461.0,471.6L448.3,473.4M448.3,473.4L445.0,476.5M438.2,477.2L441.2,475.9M441.2,475.9L436.7,463.5M441.2,475.9L445.0,476.5M408.5,430.8L416.7,435.9M416.7,435.9L418.1,440.0M445.4,393.1L444.5,394.4M459.2,402.6L458.2,403.7M446.2,403.6L444.5,394.4M420.5,396.0L430.9,395.9M419.7,409.9L432.6,404.9M432.6,404.9L430.9,395.9M432.2,394.3L430.9,395.9M472.5,437.4L462.1,438.4M470.2,426.3L459.7,427.4M462.1,438.4L461.2,437.2M459.7,427.4L461.2,437.2M471.9,415.2L459.4,416.9M459.4,416.9L459.7,427.4M459.4,416.9L457.7,415.5M447.6,436.6L461.2,437.2M447.6,436.6L447.2,428.3M578.3,451.0L572.3,455.2M574.7,465.3L586.5,459.7M586.5,459.7L586.4,452.3M605.3,449.6L605.2,437.2M594.4,440.2L596.2,448.9M594.8,439.6L603.8,436.2M580.1,482.0L580.0,471.4M580.1,482.0L588.2,480.5M580.0,471.4L589.8,471.4M589.8,471.4L590.0,478.5M588.2,480.5L590.0,478.5M574.7,465.3L580.0,471.4M592.3,489.6L588.2,480.5M598.8,480.2L590.0,478.5M276.0,318.3L278.7,318.1M271.5,301.0L282.5,308.7M282.5,308.7L278.7,318.1M285.5,294.5L283.6,307.9M282.5,308.7L283.6,307.9M281.1,333.5L280.6,319.9M280.6,319.9L278.7,318.1M280.6,319.9L291.5,322.0M524.2,526.6L508.7,534.5M504.6,531.0L505.6,533.1M505.6,533.1L507.6,534.1M527.1,536.5L519.6,545.7M508.7,534.5L517.8,546.1M507.6,534.1L505.4,549.3M517.8,546.1L511.7,551.9M511.7,551.9L505.4,549.3M544.0,574.4L551.8,567.7M544.0,574.4L531.4,561.3M551.8,567.7L541.5,550.8M532.4,557.9L531.4,561.3M556.3,566.9L551.8,567.7M523.6,566.8L531.4,561.3M519.6,545.7L532.4,557.9M613.1,542.1L627.9,553.9M613.1,542.1L614.2,538.2M614.2,538.2L622.1,531.4M634.3,548.8L627.9,553.9M634.3,548.8L623.3,531.1M623.3,531.1L622.1,531.4M605.3,547.8L613.1,542.1M601.2,525.4L614.2,538.2M612.1,520.1L622.1,531.4M636.7,548.1L634.3,548.8M919.4,410.2L914.1,410.2M908.4,428.7L906.7,424.6M906.7,424.6L914.1,410.2M905.2,397.8L908.7,406.5M914.1,410.2L908.7,406.5M895.4,407.2L886.4,408.9M895.4,407.2L899.4,416.1M899.4,416.1L899.2,417.5M899.2,417.5L888.4,420.7M886.4,408.9L886.4,418.5M897.8,401.3L895.4,407.2M908.7,406.5L899.4,416.1M874.5,417.3L886.4,418.5M562.0,216.0L567.8,224.3M556.6,221.0L564.2,228.2M551.5,225.4L561.0,232.6M561.0,232.6L564.2,228.4M573.3,236.2L573.6,234.9M560.9,232.8L567.3,240.7M571.3,252.9L564.0,244.5M564.0,244.5L567.3,240.7M378.3,248.6L369.8,242.6M409.6,226.0L400.0,230.5M403.3,218.1L396.6,223.5M400.0,230.5L396.6,223.5M399.5,243.2L395.5,236.6M389.5,215.7L394.8,223.0M394.8,223.0L396.6,223.5M381.1,222.4L387.6,228.8M394.8,223.0L387.6,228.8M434.4,181.8L443.1,180.4M434.4,182.2L443.4,187.7M443.4,187.7L446.1,183.1M443.1,180.4L446.1,183.1M453.5,194.2L443.2,189.6M443.2,189.6L443.4,187.7M440.3,174.0L441.7,172.5M440.3,174.0L443.1,180.4M378.7,196.0L378.3,186.3M387.5,190.8L387.6,185.7M387.6,185.7L378.3,186.3M364.2,171.9L373.6,178.6M373.5,182.5L373.6,178.6M406.3,175.6L406.2,184.0M406.3,175.6L404.7,174.2M404.7,174.2L391.8,176.2M396.7,184.9L392.2,181.2M405.0,166.2L404.7,174.2M414.5,174.2L406.3,175.6M406.6,192.7L406.2,184.1M411.0,195.3L413.9,184.5M413.9,184.5L406.2,184.0M398.3,195.1L396.7,184.9M387.6,185.7L392.2,181.2M415.2,174.9L415.3,184.0M421.0,193.6L420.9,188.2M415.3,184.0L420.5,186.3M424.2,165.9L422.7,174.2M424.2,165.9L431.5,166.0M431.5,166.0L433.2,175.8M425.9,177.2L422.7,174.2M425.9,177.2L432.8,176.5M415.2,174.9L422.7,174.2M432.6,164.9L431.5,166.0M440.3,174.0L433.2,175.8M420.5,186.3L423.4,183.8M423.4,183.8L425.9,177.2M434.4,181.8L432.8,176.5M432.2,186.5L423.4,183.8M436.6,274.8L438.0,275.0M436.6,274.8L431.5,267.5M432.7,253.0L426.0,260.6M431.5,266.6L426.0,260.6M426.0,260.6L418.5,259.8M410.9,272.5L417.3,264.6M410.9,272.5L409.3,272.5M404.6,257.8L418.1,260.2M417.3,264.6L418.1,260.2M774.0,437.9L783.6,438.0M774.0,437.9L767.6,428.6M783.6,438.0L782.4,421.3M767.6,428.6L772.8,421.7M772.8,421.7L776.6,419.2M776.6,419.2L780.0,418.4M780.0,418.4L782.4,421.3M768.4,446.1L774.0,437.9M784.5,439.0L783.6,438.0M766.2,429.0L767.6,428.6M799.0,426.5L782.4,421.3M756.0,414.0L772.8,421.7M762.3,406.2L776.6,419.2M783.2,410.6L780.0,418.4M800.7,171.4L804.8,181.9M800.7,171.4L792.5,173.3M804.8,181.9L799.7,184.9M792.9,187.6L799.2,185.5M818.0,179.2L823.6,190.2M808.6,180.7L813.7,181.2M808.6,180.7L805.0,181.9M805.0,181.9L811.3,194.4M811.3,194.4L815.2,193.1M813.9,207.3L809.8,195.8M809.8,195.8L803.8,197.1M802.1,199.0L803.8,197.1M799.2,185.5L803.8,197.1M802.3,227.4L800.6,238.6M804.3,226.8L810.1,236.3M809.8,236.8L800.6,238.6M802.3,227.4L799.5,227.1M792.7,230.7L799.5,227.1M813.3,248.8L810.9,257.5M812.9,248.3L807.9,245.8M810.4,257.7L804.1,256.4M802.7,254.0L804.1,256.4M816.5,259.8L821.9,251.7M816.5,259.8L810.9,257.5M820.8,249.7L821.9,251.7M820.8,249.7L813.3,248.8M797.0,242.2L807.6,245.8M800.2,252.9L802.7,254.0M816.5,259.8L819.8,264.8M807.4,269.2L810.4,257.7M815.3,270.0L819.8,264.8M797.1,267.9L804.1,256.4M810.1,236.3L812.5,236.2M812.9,248.3L817.5,238.4M812.5,236.2L817.5,238.4M813.1,222.4L816.5,226.5M804.3,226.8L805.5,225.4M824.1,241.6L818.1,238.4M832.7,266.7L836.3,256.7M828.0,267.2L825.1,264.8M825.1,264.8L827.7,254.8M836.3,256.7L829.1,254.2M829.1,254.2L827.7,254.8M837.1,268.6L832.7,266.7M826.5,280.5L828.0,267.2M819.8,264.8L825.1,264.8M821.9,251.7L827.7,254.8M832.3,245.2L829.1,254.2M832.2,245.1L824.4,241.5M832.3,245.2L838.7,246.8M837.0,256.5L838.7,246.8M847.8,264.4L850.2,263.3M850.2,263.3L853.3,252.4M853.3,252.4L846.9,249.2M853.5,278.2L847.8,264.4M844.2,267.0L847.3,264.4M858.0,264.5L850.2,263.3M855.5,251.3L853.3,252.4M839.7,246.4L845.8,249.4M873.8,236.6L871.0,237.0M860.6,245.4L864.8,241.6M816.5,226.5L821.9,228.4M818.1,238.4L821.9,228.4M832.2,245.1L835.9,235.0M824.4,241.5L828.5,233.6M835.9,235.0L828.5,233.6M828.5,233.6L827.8,232.0M860.2,245.5L850.9,240.4M839.7,246.4L842.6,238.6M850.1,240.7L842.6,238.6M836.9,234.6L841.3,236.3M842.6,238.6L841.3,236.3M919.9,153.4L920.1,155.0M920.1,155.0L926.0,160.4M916.0,149.9L906.6,154.8M911.7,162.4L913.0,162.7M911.7,162.4L906.7,155.4M920.1,155.0L913.0,162.7M908.7,140.8L902.4,150.7M906.6,154.8L902.4,150.7M895.6,145.5L901.7,150.6M895.6,145.5L895.1,142.0M943.0,162.8L952.5,165.5M940.9,169.2L950.4,172.3M950.4,172.3L952.5,165.5M953.9,154.0L953.7,164.7M963.3,167.1L953.7,164.7M920.1,219.6L921.9,216.4M937.3,226.3L933.0,219.3M926.6,216.2L933.0,219.3M948.9,220.3L941.0,211.8M875.8,178.0L873.2,179.8M875.8,178.0L882.2,179.1M871.5,182.7L873.2,179.8M871.5,182.7L881.2,193.8M885.9,188.4L886.0,190.2M886.0,190.2L881.2,193.8M898.6,201.1L896.9,201.3M898.6,201.1L903.8,197.7M903.8,197.7L895.3,188.4M895.3,188.4L890.0,191.1M890.0,191.1L896.9,201.3M904.3,213.0L898.6,201.1M898.2,216.6L891.2,205.8M891.2,205.8L896.9,201.3M907.5,196.4L906.3,188.8M907.5,196.4L903.8,197.7M895.3,188.4L899.3,183.3M906.3,188.8L900.5,183.5M907.5,196.4L908.9,197.0M920.0,189.4L908.9,197.0M906.3,188.8L913.3,182.2M898.6,164.7L897.0,164.4M904.2,170.1L894.8,177.6M889.3,173.1L894.6,177.5M906.7,155.4L898.6,164.7M893.0,158.7L901.7,150.6M900.5,183.5L908.6,175.7M882.2,179.1L889.3,173.1M885.9,188.4L894.6,177.5M886.0,190.2L890.0,191.1M306.5,294.2L307.8,282.8M306.5,294.2L317.6,297.3M319.4,295.9L319.9,282.0M307.8,282.8L319.8,281.9M305.7,294.7L294.8,294.8M329.3,297.6L319.4,295.9M317.2,309.3L316.0,308.0M316.0,308.0L317.6,297.3M331.4,282.6L319.9,282.0M691.4,22.5L689.5,17.0M691.4,22.5L698.8,20.4M689.5,17.0L696.1,14.6M696.1,14.6L698.9,20.0M684.7,25.2L690.8,24.3M684.7,25.2L682.4,20.2M690.8,24.3L691.4,22.5M693.4,28.6L690.8,24.3M694.3,29.0L700.3,24.3M700.3,24.3L698.8,20.4M735.3,101.4L737.4,107.0M727.6,105.2L729.4,108.7M729.7,108.9L737.4,107.0M728.9,166.5L725.9,162.2M728.9,166.5L735.1,161.5M725.9,162.2L726.1,160.4M726.1,160.4L732.7,158.3M719.8,165.5L720.3,168.3M719.8,165.5L725.9,162.2M728.1,170.5L729.0,168.2M729.0,168.2L728.9,166.5M736.3,162.2L735.1,161.5M736.3,162.2L738.0,167.7M729.0,168.2L738.0,167.7M731.7,181.7L740.0,184.2M731.6,181.2L734.7,175.3M740.0,184.2L742.6,180.5M735.2,175.1L742.6,180.1M724.2,178.1L731.6,181.2M730.3,186.5L731.7,181.7M740.2,186.6L740.0,184.2M728.1,170.5L734.7,175.3M749.9,183.8L742.6,180.5M750.3,183.6L753.2,178.7M742.6,180.1L745.7,174.2M745.7,174.2L753.2,178.7M761.4,186.1L754.6,178.0M754.6,178.0L753.2,178.7M762.8,176.0L757.0,174.5M757.0,171.9L756.8,173.8M757.0,171.9L763.9,167.0M735.2,175.1L738.7,170.4M738.4,168.2L738.7,170.4M736.3,162.2L742.6,159.3M742.6,159.3L744.9,164.7M738.4,168.2L744.9,164.7M756.8,173.8L747.6,170.7M747.6,170.7L745.6,173.6M763.9,167.0L763.1,164.2M773.1,167.0L769.7,160.8M703.1,109.9L696.2,112.7M705.6,114.9L705.7,113.1M705.6,114.9L698.2,117.8M695.8,113.8L696.2,112.7M695.8,113.8L697.3,117.4M689.5,120.8L692.4,122.4M697.3,117.4L692.4,122.4M708.2,120.2L705.6,114.9M708.2,120.2L701.3,122.9M692.4,122.4L693.3,124.8M693.3,124.8L701.0,123.6M732.7,158.3L730.5,152.2M739.5,153.3L737.6,150.3M730.5,152.2L731.1,150.8M705.7,174.2L709.1,168.6M716.5,173.6L709.9,168.3M674.2,42.1L681.3,38.9M674.2,42.1L675.9,46.9M676.5,47.2L683.4,44.2M681.3,38.9L683.4,44.2M715.5,37.8L708.3,38.5M708.3,38.5L706.2,34.6M676.5,47.2L678.2,51.8M678.2,51.8L686.1,49.7M688.0,54.2L681.3,57.8M688.0,54.2L686.5,50.0M681.3,57.8L678.2,51.8M722.8,70.9L719.8,65.7M722.8,70.9L728.6,68.7M751.2,57.9L758.3,55.7M758.3,55.7L760.4,59.5M755.4,68.1L753.9,64.7M755.4,68.1L756.6,69.1M756.6,69.1L763.2,65.8M757.5,92.6L764.5,89.2M757.5,92.6L755.9,87.3M755.9,87.3L762.0,83.7M762.5,84.0L764.5,89.2M737.9,69.5L731.8,72.3M737.9,69.5L736.1,64.9M728.7,68.7L734.3,63.7M736.1,64.9L734.3,63.7M738.7,70.0L745.7,65.8M734.3,63.7L733.2,60.9M748.1,52.0L749.8,52.9M748.1,52.0L741.8,57.0M749.8,52.9L750.9,57.7M750.9,57.7L743.5,59.8M741.8,57.0L743.5,59.8M756.7,50.1L758.4,55.1M755.4,49.2L749.8,52.9M743.4,61.3L743.5,59.8M733.5,59.2L733.2,60.9M756.6,69.1L757.1,70.8M763.2,65.8L765.6,71.0M765.6,71.0L759.1,73.5M738.7,70.0L740.4,74.0M745.7,65.9L747.4,71.4M740.4,74.0L747.4,71.4M731.8,72.3L733.8,78.0M740.4,74.0L740.2,75.2M755.4,68.1L748.4,72.2M748.4,72.2L747.4,71.4M752.4,99.8L749.0,93.7M757.4,92.6L758.5,96.6M757.4,92.6L749.1,93.4M755.5,87.1L747.8,90.3M749.1,93.4L747.8,90.3M732.8,95.8L731.2,91.8M732.8,95.8L740.0,94.0M731.2,91.8L737.3,88.2M740.1,93.3L737.5,88.3M735.3,101.4L741.5,98.1M732.6,97.3L732.8,95.8M741.5,98.1L740.0,94.0M727.5,87.4L729.8,91.1M727.5,87.4L734.3,82.6M729.8,91.1L731.2,91.8M735.7,83.6L737.3,88.2M747.4,89.9L740.1,93.3M741.5,98.1L743.3,99.0M713.3,68.5L719.8,65.7M713.3,68.5L714.4,73.7M722.5,71.8L714.4,73.7M729.8,91.1L723.5,96.8M721.1,89.1L721.7,95.7M721.7,95.7L723.5,96.8M694.3,107.0L696.2,112.7M694.3,107.0L701.1,104.8M703.1,109.1L701.1,104.8M699.0,98.4L692.2,103.3M694.3,107.0L692.6,105.9M692.2,103.3L692.6,105.9M701.1,104.8L701.3,103.6M705.7,113.1L712.2,110.4M710.0,104.6L703.1,109.1M712.2,110.4L711.2,105.7M727.3,105.0L720.0,108.4M725.1,99.7L718.3,104.1M718.3,104.1L720.0,108.4M707.6,97.6L708.5,101.6M707.6,97.6L712.7,93.6M712.7,93.6L716.3,97.4M709.2,102.3L716.0,98.4M705.2,96.4L699.0,98.2M705.2,96.4L707.6,97.6M701.3,103.6L708.5,101.6M721.7,95.7L716.3,97.4M710.0,104.6L709.2,102.3M711.2,105.7L717.5,103.5M717.5,103.5L716.0,98.4M684.2,157.7L684.1,156.2M694.0,161.0L696.4,155.6M684.1,156.2L685.9,153.5M662.3,128.0L665.9,124.8M663.4,120.2L659.8,122.0M664.3,120.9L665.9,124.8M687.5,113.4L689.0,114.6M687.5,113.4L686.5,111.6M692.6,105.9L686.6,109.9M686.5,111.6L686.6,109.9M676.0,126.5L674.6,122.2M676.0,126.5L683.4,124.5M674.6,122.2L681.1,119.4M683.4,124.5L683.8,123.0M683.8,123.0L681.8,119.9M669.9,129.0L676.0,126.6M673.2,121.0L667.6,125.6M689.5,120.8L683.8,123.0M685.2,128.8L683.4,124.5M634.3,108.0L636.6,107.1M633.1,98.3L638.2,99.5M638.2,99.5L636.6,107.1M642.9,113.0L643.6,110.2M636.6,107.1L641.6,107.1M643.6,110.2L641.6,107.1M663.4,120.2L662.6,117.0M655.4,122.7L654.7,117.7M662.6,117.0L654.7,117.7M654.7,117.7L653.4,115.7M668.7,50.1L675.9,46.9M668.7,50.1L671.6,55.9M678.2,51.8L671.7,56.0M681.3,57.8L680.8,59.1M671.7,56.0L674.4,59.7M680.8,59.1L674.4,59.7M673.4,41.5L666.2,45.9M668.7,50.1L666.2,46.9M663.7,57.4L663.4,54.6M663.7,57.4L656.8,56.3M663.4,54.6L659.1,50.5M656.8,56.3L659.0,50.5M666.2,46.9L659.1,50.5M641.2,39.2L639.8,45.7M636.6,38.5L635.9,44.8M645.8,39.8L644.1,47.2M648.6,48.1L644.2,47.4M606.8,77.6L603.4,76.7M605.4,69.8L609.7,70.7M598.8,75.2L603.3,76.8M611.5,63.7L610.1,70.5M611.5,63.7L606.7,63.2M613.4,78.9L617.8,79.7M613.4,78.9L612.5,77.6M612.5,77.6L615.2,72.0M619.4,79.1L617.8,79.7M617.2,72.2L615.6,71.9M616.0,86.8L617.8,79.7M608.3,85.0L606.8,77.6M608.7,76.8L612.5,77.6M610.1,70.5L615.2,72.0M621.7,79.5L619.4,79.1M615.1,64.4L615.6,71.9M615.1,64.4L616.5,64.0M619.5,71.3L617.2,72.2M611.9,63.6L615.1,64.4M583.7,49.9L585.6,49.4M583.7,49.9L582.4,56.6M586.9,57.8L582.9,57.1M589.0,73.3L585.0,72.3M589.0,73.3L591.4,67.4M585.0,72.3L586.0,64.9M591.4,67.4L589.6,65.2M589.6,65.2L587.0,64.5M595.7,74.9L594.2,75.3M594.2,75.3L589.1,73.4M586.9,57.8L587.0,64.5M581.2,64.3L586.0,64.9M589.1,73.4L587.3,80.9M583.4,72.8L585.0,72.3M583.4,72.8L582.7,80.2M587.3,80.9L582.8,80.2M576.5,54.7L574.8,54.2M576.5,54.7L581.5,49.1M574.8,54.2L575.8,47.2M575.8,47.2L580.0,47.6M581.5,49.1L580.0,47.6M583.7,49.9L581.5,49.1M582.4,56.6L578.4,56.3M578.4,56.3L576.5,54.7M581.7,41.2L580.0,47.6M620.2,424.9L620.1,416.3M622.4,413.7L620.1,416.3M629.0,424.8L632.2,421.6M621.9,405.3L622.4,413.7M621.9,405.3L623.3,403.0M636.8,412.8L632.1,417.5M641.6,428.2L632.2,421.6M637.8,458.8L631.1,454.0M624.0,455.7L624.7,454.6M642.5,452.9L633.6,444.9M674.6,438.8L687.7,447.2M680.9,432.4L690.3,442.5M665.6,426.8L674.8,438.4M671.1,442.7L666.2,444.6M671.1,442.7L674.6,438.8M681.4,430.6L680.9,432.4M694.5,440.1L698.7,434.7M694.5,440.1L703.3,452.4M707.9,449.0L706.3,451.3M706.3,451.3L703.3,452.4M706.3,451.3L714.7,461.7M718.7,478.0L717.5,478.4M710.1,472.2L717.5,478.4M730.0,494.6L716.6,482.9M717.5,478.4L716.6,482.9M716.6,482.9L712.3,488.4M687.7,447.4L681.6,453.4M687.7,447.4L698.5,456.6M756.3,291.9L757.2,298.1M757.2,298.1L756.4,299.4M756.4,299.4L748.4,299.3M746.8,294.0L748.4,299.3M752.9,284.4L754.1,290.0M766.4,296.2L757.2,298.1M745.6,293.2L746.8,294.0M746.8,301.5L748.4,299.3M761.4,313.5L758.6,310.8M761.4,313.5L769.0,311.5M767.7,303.4L758.1,305.2M758.6,310.8L758.1,305.3M769.0,311.5L769.7,310.4M761.2,317.6L761.4,313.5M771.8,318.9L769.0,311.5M778.6,308.9L769.7,310.4M756.4,299.4L758.1,305.2M747.4,307.1L758.1,305.3M815.0,317.4L810.3,317.3M806.1,325.3L811.7,337.2M806.1,325.3L808.6,317.8M808.6,317.8L810.3,317.3M818.6,334.5L811.7,337.2M817.6,298.6L819.3,314.0M809.0,300.0L810.3,317.3M819.3,314.0L815.2,317.3M832.0,313.7L833.7,327.2M833.7,327.2L829.0,329.1M828.1,312.6L826.9,313.1M826.9,313.1L827.9,327.4M829.0,329.1L827.9,327.4M838.6,312.6L832.0,313.7M829.3,298.1L828.1,312.6M838.3,327.6L833.7,327.2M827.5,331.7L829.0,329.1M819.3,314.0L826.9,313.1M815.2,317.3L827.9,327.4M716.2,416.5L717.7,412.0M735.6,415.1L723.8,405.7M729.9,398.0L723.9,405.3M737.5,327.3L736.9,329.9M737.5,327.3L741.7,323.1M736.9,329.9L750.5,331.5M736.1,330.9L736.9,329.9M733.2,320.4L737.5,327.3M744.5,318.8L741.7,323.1M713.6,233.4L717.6,226.9M713.6,233.4L721.2,236.5M723.2,232.6L721.2,236.5M710.3,224.1L717.6,226.9M721.4,238.0L721.2,236.5M726.6,231.5L723.2,232.6M721.3,222.3L727.8,224.3M721.3,222.3L719.0,226.5M727.8,224.3L728.6,227.2M712.3,218.5L710.2,222.9M735.4,228.7L737.8,223.8M743.7,222.0L737.8,223.8M727.8,224.3L731.8,219.9M737.8,223.8L731.8,219.9M731.6,218.1L731.8,219.9M699.2,265.7L710.3,263.1M716.0,253.0L709.2,259.5M689.5,268.7L687.1,266.6M687.1,266.6L679.3,269.7M679.3,269.7L674.9,263.6M679.2,250.9L683.1,252.9M682.0,238.3L688.3,243.8M688.3,243.8L683.1,252.9M674.9,263.6L684.8,255.6M611.5,317.0L607.4,309.3M600.0,313.4L603.9,320.3M607.4,309.3L600.0,313.3M603.9,320.3L611.4,317.4M603.9,320.3L603.6,321.4M603.6,321.4L598.9,324.7M596.9,324.4L598.9,324.7M583.8,328.3L589.0,331.1M596.9,324.4L589.0,331.1M592.3,338.6L592.5,335.7M592.5,335.7L589.0,331.1M603.2,345.4L605.7,339.2M605.7,339.2L611.4,336.3M592.5,335.7L600.3,332.9M605.7,339.2L600.3,332.9M598.9,324.7L600.9,331.6M600.3,332.9L600.9,331.6M517.3,319.4L525.0,324.1M516.7,319.6L513.1,327.0M525.0,324.1L523.9,331.0M513.7,329.6L513.1,327.0M513.7,329.6L522.8,331.7M522.3,311.5L517.3,319.4M527.3,322.7L525.0,324.1M509.4,315.0L516.7,319.6M504.8,323.5L513.1,327.0M532.1,333.6L523.9,331.0M499.1,353.9L498.9,356.7M497.9,358.7L498.9,356.7M497.9,358.7L502.6,368.7M522.3,360.0L513.9,357.1M522.3,360.0L517.9,370.6M513.9,357.1L510.8,361.9M510.8,361.9L510.3,365.9M510.3,365.9L516.4,371.5M516.4,371.5L517.9,370.6M527.5,371.1L517.9,370.6M498.9,356.7L510.8,361.9M516.0,373.6L516.4,371.5M448.6,290.7L440.3,296.1M435.2,290.2L435.5,288.2M436.6,274.8L429.7,281.1M435.5,288.2L429.7,281.1M448.5,303.1L453.4,297.8M448.5,303.1L453.5,310.7M453.5,310.7L460.2,304.3M460.2,304.3L455.6,297.9M453.4,297.8L455.6,297.9M448.9,290.8L453.4,297.8M446.6,317.2L453.1,315.8M453.1,315.8L453.5,310.7M453.1,315.8L457.9,319.1M465.6,305.2L460.2,304.3M462.6,291.8L455.6,297.9M405.5,313.6L410.9,320.0M405.5,313.6L412.8,306.7M410.9,320.0L418.9,314.9M403.3,313.3L405.5,313.6M422.3,320.1L418.9,314.9M426.0,309.2L419.0,313.8M426.0,309.2L431.7,314.5M464.2,336.6L456.1,341.6M460.1,351.4L458.6,350.9M458.6,350.9L456.1,341.6M451.4,357.2L451.7,355.5M458.6,350.9L451.7,355.5M575.6,353.6L575.4,361.2M586.8,360.9L585.2,363.0M585.2,363.0L585.6,369.1M583.6,379.2L586.7,380.8M586.7,380.8L594.6,379.8M555.1,364.2L556.8,365.3M555.6,375.8L558.1,373.4M556.8,365.3L558.1,373.4M583.6,379.2L578.7,381.5M586.7,380.8L587.1,391.5M587.1,391.5L578.8,392.1M602.1,420.6L609.3,418.0M602.1,420.6L602.8,428.9M603.0,429.1L613.3,426.8M613.3,426.8L609.3,418.0M610.5,415.9L609.3,418.0M610.5,415.9L620.1,416.3M602.8,428.9L593.0,429.1M600.0,419.2L602.1,420.6M600.0,419.2L590.7,420.2M593.0,429.1L590.7,420.2M578.3,451.0L576.2,442.5M585.9,451.8L584.6,441.1M584.6,441.1L576.2,442.5M594.4,440.2L585.4,440.0M586.4,452.3L596.2,448.9M592.4,430.1L583.6,432.7M585.4,440.0L583.6,432.7M606.2,266.5L604.6,267.9M606.2,266.5L601.5,255.8M604.6,267.9L594.1,263.4M601.5,255.8L596.0,259.4M608.1,279.1L609.3,279.2M607.6,266.2L606.2,266.5M603.7,270.4L604.6,267.9M603.2,253.8L601.5,255.8M591.9,264.7L594.1,263.4M591.7,250.1L601.5,255.8M589.7,252.3L596.0,259.4M771.3,196.0L775.3,208.8M775.3,208.8L769.1,211.7M773.8,223.2L768.0,213.0M764.3,227.1L762.8,214.7M762.8,214.7L768.0,213.0M752.9,201.2L759.1,201.3M752.9,201.2L751.1,204.2M751.1,204.2L756.9,215.0M759.1,201.3L760.9,214.2M756.9,215.0L760.9,214.2M763.0,199.3L759.1,201.3M740.0,201.3L740.3,202.5M740.3,202.5L748.4,205.8M748.4,205.8L751.1,204.2M755.3,216.3L756.9,215.0M748.4,205.8L745.7,211.3M769.1,211.7L768.0,213.0M752.3,221.9L755.3,216.3M657.7,221.6L659.0,225.3M657.7,221.6L650.9,223.2M658.3,227.3L653.6,230.1M650.2,224.8L653.3,230.0M667.1,225.6L659.0,225.3M654.7,235.3L653.6,230.1M645.2,226.2L650.2,224.8M646.8,231.8L653.3,230.0M667.4,203.9L669.0,208.2M667.6,210.6L662.5,211.2M667.6,210.6L668.8,209.3M662.5,211.2L661.0,207.7M659.7,206.7L661.0,207.7M675.4,212.5L668.8,209.3M667.5,184.8L661.7,186.4M659.7,181.3L661.7,186.4M675.6,182.0L667.6,184.4M658.5,180.8L659.7,181.3M661.2,187.4L654.4,188.6M654.4,188.6L656.8,195.5M658.5,200.8L657.3,195.8M648.9,196.2L656.8,195.5M697.6,208.1L690.0,206.0M697.6,208.1L700.6,203.7M694.3,199.2L696.8,193.2M707.4,192.5L704.0,197.1M707.4,192.5L714.5,194.9M711.3,201.9L704.2,198.4M706.9,190.6L707.4,192.5M708.1,208.4L700.7,203.7M700.7,203.7L704.2,198.4M697.7,208.7L693.7,215.2M701.6,218.1L693.8,215.7M701.6,218.1L703.8,214.3M688.4,210.9L693.7,215.2M618.2,294.0L610.8,298.2M618.2,294.0L613.6,288.1M610.8,298.2L606.5,290.8M614.2,285.9L613.6,288.1M610.7,298.4L614.9,305.8M610.7,298.4L603.9,301.9M603.9,301.9L607.6,308.7M614.9,305.8L607.6,308.7M617.9,312.3L611.5,317.0M577.9,294.4L569.9,286.5M582.1,289.9L573.8,282.6M573.8,282.6L569.9,286.5M568.6,286.9L564.9,291.0M568.6,286.9L569.9,286.5M590.2,298.9L581.7,290.9M583.9,288.2L582.1,289.9M574.2,281.0L577.9,277.8M574.2,281.0L573.8,282.6M562.5,278.2L565.7,274.7M560.3,278.9L553.4,270.0M565.9,274.1L559.7,266.0M553.4,270.0L557.2,266.5M557.2,266.5L559.7,266.0M568.6,286.9L562.5,278.2M574.2,281.0L565.7,274.7M550.4,256.7L546.5,260.3M574.4,265.2L571.0,268.6M574.4,265.2L566.7,257.3M563.1,260.8L562.5,262.3M570.2,270.7L571.0,268.6M571.2,253.2L566.7,257.3M442.0,134.7L441.6,126.3M432.9,125.3L441.1,125.7M451.7,125.2L450.6,116.0M451.7,125.2L441.6,126.3M441.1,125.7L442.3,115.2M442.3,115.2L450.6,116.0M460.1,115.0L451.9,114.9M460.1,115.0L461.4,124.5M451.9,114.9L450.6,116.0M479.4,178.8L469.3,173.1M469.3,173.1L472.5,166.7M486.6,167.0L475.7,162.2M473.4,166.1L475.7,162.2M465.5,177.7L454.1,171.2M465.5,177.7L469.2,173.1M588.7,26.7L591.3,21.1M594.9,28.2L595.8,21.8M595.8,21.8L591.3,21.1M624.4,11.7L617.6,9.9M625.0,12.2L618.4,17.5M617.6,9.9L616.9,17.1M622.1,3.5L624.4,11.7M626.6,12.6L625.0,12.2M620.9,19.4L618.4,17.5M597.0,-1.8L600.5,-1.3M367.0,137.6L362.6,133.2M362.8,130.7L366.7,126.7M367.9,146.6L366.4,145.1M366.4,145.1L367.0,137.6M352.7,123.1L362.8,130.7M353.0,140.2L345.6,132.5M364.9,117.5L366.7,126.7M386.3,136.7L377.4,136.1M431.1,123.5L432.8,114.4M423.2,124.1L421.3,115.2M358.8,146.4L359.1,155.7M358.8,146.4L353.0,141.4M353.0,141.4L344.4,151.6M358.2,156.3L349.8,155.8M349.8,155.8L344.4,151.6M365.9,156.4L359.1,155.7M366.4,145.1L358.8,146.4M367.9,165.1L364.1,170.5M357.8,165.5L358.2,156.3M349.7,162.9L349.8,155.8M339.1,138.2L340.1,152.0M339.1,138.2L325.3,135.3M324.7,136.8L325.3,135.3M324.7,136.8L335.0,152.7M345.6,132.5L339.1,138.2M344.4,151.6L340.1,152.0M328.7,157.5L335.0,152.7M341.8,165.9L339.7,152.2M479.1,6.8L486.4,8.1M486.4,8.1L489.5,5.4M489.0,0.4L481.9,-2.9M515.9,-3.8L513.5,-4.4M516.4,-3.4L514.9,3.0M511.1,3.5L514.9,3.0M511.1,3.5L508.9,1.7M513.5,-4.4L508.9,1.7M521.3,-2.3L526.0,-2.3M566.2,-0.9L570.6,-0.6M576.1,0.6L574.9,0.8M574.9,0.8L570.7,-0.5M581.6,41.1L576.9,40.5M559.8,75.3L563.9,76.2M559.8,75.3L561.6,67.9M563.9,76.2L566.0,68.5M512.6,80.2L515.4,73.7M512.6,80.2L513.7,81.0M515.4,73.7L518.2,74.4M513.7,81.0L519.0,82.0M519.2,81.9L518.2,74.4M509.0,110.4L505.5,111.3M509.0,110.4L510.6,110.6M511.1,111.1L511.1,117.9M508.4,119.8L511.1,117.9M508.4,119.8L504.3,112.5M504.3,112.5L505.5,111.3M498.6,114.0L499.1,123.3M498.6,114.0L504.3,112.5M506.7,123.5L508.4,119.8M497.0,103.2L502.6,103.2M497.0,103.2L496.6,112.4M502.6,103.2L505.5,111.3M502.6,103.2L503.7,102.5M509.0,110.4L507.6,102.4M503.7,102.5L507.6,102.4M513.0,103.3L513.7,104.5M508.9,101.9L507.6,102.4M504.6,137.2L498.0,132.7M506.7,123.5L511.4,128.9M498.0,132.7L498.5,123.9M467.5,90.7L468.0,85.3M467.5,90.7L467.8,94.6M467.8,94.6L477.5,94.1M477.5,92.8L477.5,94.1M477.5,92.8L472.0,83.0M472.0,83.0L468.0,85.3M471.3,104.5L467.8,94.6M471.3,104.5L478.1,104.0M477.7,94.4L478.1,104.0M473.9,79.7L483.8,83.1M483.8,83.1L477.5,92.8M459.3,81.3L459.9,82.7M459.3,81.3L463.3,72.6M459.9,82.7L468.0,85.3M496.6,112.4L488.8,113.6M489.9,123.2L498.5,123.9M489.9,123.2L488.7,113.7M488.8,113.6L486.7,104.3M487.8,94.2L486.3,104.1M495.6,94.7L488.0,94.0M540.8,116.4L540.9,109.3M547.1,111.0L545.9,109.8M545.9,109.8L542.2,109.1M517.3,105.8L516.6,112.1M514.9,118.3L517.3,112.8M519.5,126.0L521.7,121.1M519.5,126.0L512.6,128.0M512.6,128.0L516.3,120.0M524.2,130.9L519.5,126.0M523.6,121.3L521.7,121.1M520.9,113.2L517.3,112.8M488.4,143.3L495.6,142.4M488.4,143.3L489.0,134.5M495.6,142.4L494.4,134.2M501.0,144.8L495.6,142.4M487.5,144.6L488.4,143.3M470.3,59.2L466.0,66.7M466.0,66.7L477.2,70.2M487.8,13.4L486.4,8.1M489.5,5.4L493.2,6.5M494.0,7.4L493.4,13.6M499.3,8.3L498.3,14.6M493.4,13.6L498.3,14.6M474.8,43.0L478.4,41.2M465.4,39.0L465.0,37.1M465.0,37.1L468.7,30.2M468.7,30.2L479.2,34.0M478.4,41.2L479.2,34.0M472.1,51.1L483.2,54.2M478.4,41.2L485.7,46.1M483.5,55.3L491.1,57.1M494.8,53.8L491.1,57.1M494.8,53.8L487.0,45.6M487.0,45.6L485.7,46.1M376.7,1.9L364.4,-2.5M364.1,-3.7L364.4,-2.5M426.2,68.6L428.8,61.8M419.5,57.7L415.0,64.4M415.0,64.4L415.4,65.7M426.6,70.0L426.2,68.6M430.9,60.6L428.8,61.8M432.9,53.0L422.0,49.3M418.9,54.5L419.5,57.7M418.9,54.5L408.9,52.3M405.2,60.4L415.0,64.4M394.1,55.5L382.9,52.0M394.4,55.4L396.4,48.2M396.4,48.2L395.9,46.8M395.9,46.8L385.9,41.5M382.1,49.9L382.9,52.0M382.1,49.9L385.7,41.6M380.1,58.5L389.7,63.2M380.1,58.5L382.9,52.0M389.7,63.2L394.1,55.5M408.9,52.3L407.7,48.1M407.7,48.1L396.4,48.2M405.2,60.4L403.8,61.0M409.6,43.7L407.7,48.1M409.6,43.7L399.8,37.8M399.8,37.8L395.9,46.8M388.2,35.3L385.9,41.5M378.5,59.7L380.1,58.5M284.8,40.8L299.0,39.3M284.8,40.8L281.5,32.9M287.3,28.7L281.5,32.9M298.8,37.4L299.0,39.3M280.2,54.4L284.8,40.8M302.2,26.5L305.0,23.9M302.2,26.5L298.8,37.4M271.2,51.4L263.5,53.2M271.2,51.4L268.9,37.1M277.3,54.3L271.2,51.4M260.3,66.1L263.5,53.2M276.8,31.8L268.9,37.1M276.8,31.8L281.5,32.9M252.5,53.7L256.8,51.0M255.3,23.9L260.2,33.0M275.0,25.4L276.8,31.8M314.9,82.3L317.4,80.1M314.9,82.3L316.4,89.7M317.4,80.1L329.9,83.7M316.4,89.7L326.7,92.0M304.8,79.9L314.9,82.3M313.0,95.4L316.4,89.7M332.4,78.0L329.9,83.7M340.3,89.3L330.0,84.8M297.0,6.9L280.4,-1.6M297.0,6.9L302.5,2.2M301.0,-1.6L302.5,2.2M304.0,19.6L294.9,13.6M294.9,13.6L297.0,6.9M308.8,4.4L302.5,2.2M279.2,-0.2L280.4,-1.6M292.1,14.8L282.8,11.2M292.1,14.8L289.7,24.3M288.5,25.3L289.7,24.3M278.8,17.9L282.8,11.2M279.2,-0.2L282.8,11.2M294.9,13.6L292.1,14.8M302.2,26.5L289.7,24.3M287.3,28.7L288.5,25.3M468.6,29.8L472.6,21.0M468.6,29.8L458.1,23.8M458.1,23.8L460.0,17.6M455.0,34.2L465.0,37.1M455.0,34.2L453.9,31.1M456.8,24.7L453.9,31.1M456.8,24.7L458.1,23.8M451.1,11.4L460.0,17.6M446.0,19.8L456.8,24.7M465.4,9.0L460.6,17.2M475.9,14.9L473.2,20.6M475.9,14.9L485.2,17.8M485.2,17.8L486.1,19.9M486.1,19.9L483.4,27.0M483.4,27.0L482.3,27.6M487.8,13.4L485.2,17.8M479.9,33.5L482.3,27.6M492.2,21.1L486.1,19.9M490.0,28.9L483.4,27.0M490.0,28.9L492.5,21.3M457.2,55.1L469.8,57.4M457.2,55.1L461.0,47.1M461.5,46.8L471.5,51.5M451.6,41.2L461.0,47.1M455.0,34.2L451.6,41.2M483.5,55.3L481.1,61.4M479.6,62.4L481.1,61.4M452.4,70.4L455.7,59.1M455.7,59.1L465.0,67.3M451.3,71.0L452.4,70.4M473.8,79.3L477.5,71.0M406.5,23.1L396.4,18.0M399.6,9.6L398.3,10.3M407.4,22.7L409.4,16.3M396.4,18.0L398.3,10.3M391.1,-2.0L386.2,7.1M398.3,10.3L386.2,7.1M377.7,5.4L376.7,1.9M596.6,89.8L597.6,83.5M597.6,83.5L601.5,83.3M602.7,84.5L601.5,83.3M607.0,85.5L602.7,84.5M597.0,83.0L598.1,75.4M603.3,76.8L601.5,83.3M565.7,114.9L566.3,107.7M571.3,108.2L566.3,107.7M563.9,107.1L558.9,113.4M563.9,107.1L565.9,107.4M558.9,113.4L560.2,114.7M619.8,57.0L618.3,49.9M621.2,57.2L624.4,50.3M620.3,49.0L624.1,49.9M605.3,46.2L603.7,53.1M605.3,46.2L601.4,44.7M600.4,45.0L599.8,52.9M599.8,52.9L603.6,53.1M602.7,61.0L603.6,53.1M608.6,55.2L612.4,56.4M607.8,54.4L610.8,47.6M613.3,55.9L615.3,49.7M603.7,53.1L607.8,54.4M611.9,63.6L612.4,56.4M618.2,57.5L613.3,55.9M618.3,49.9L615.3,49.7M616.0,40.8L617.1,41.8M617.1,41.8L614.6,49.0M617.1,41.8L619.9,42.5M941.4,66.7L937.5,62.9M951.3,64.3L948.9,54.5M948.9,54.5L942.1,54.1M942.1,54.1L937.5,62.9M978.0,60.8L962.3,52.5M973.9,38.1L964.9,41.3M959.4,65.3L962.3,52.5M948.9,54.5L950.7,52.8M950.7,52.8L962.3,52.5M935.4,102.4L926.5,101.1M924.4,102.3L926.5,101.1M936.5,88.8L927.9,87.9M939.3,76.8L929.7,74.7M917.6,50.8L917.8,62.3M917.6,50.8L929.1,51.6M917.8,62.3L918.9,63.1M929.1,51.6L928.7,63.2M918.9,63.1L928.7,63.2M968.1,93.2L958.5,91.6M968.1,93.2L967.7,103.8M967.7,103.8L957.0,105.5M957.0,105.5L955.9,104.3M970.3,106.0L967.7,103.8M957.4,114.1L957.0,105.5M980.0,13.6L962.3,11.9M975.8,28.8L960.9,21.0M966.5,-1.3L961.7,9.0M927.7,1.1L916.2,2.1M911.4,-2.9L916.2,2.1M434.2,439.2L418.1,440.0M434.2,439.2L434.3,428.3M416.7,435.9L423.1,427.6M434.3,428.3L423.1,427.6M408.6,422.3L421.3,417.8M423.1,427.6L421.3,417.8M475.8,449.3L460.2,449.4M462.1,438.4L459.4,448.3M464.9,464.7L461.8,461.1M448.3,473.4L448.8,461.1M461.8,461.1L448.8,461.1M434.9,440.0L437.2,451.3M434.9,440.0L447.6,436.6M449.6,448.3L442.0,454.4M437.2,451.3L441.3,454.4M427.7,452.9L437.2,451.3M459.4,448.3L449.6,448.3M448.8,461.1L442.0,454.4M436.7,463.5L441.3,454.4M446.2,403.6L445.4,404.7M432.8,405.0L445.4,404.7M596.9,460.3L587.2,460.2M596.9,460.3L603.7,466.4M603.7,466.4L602.9,468.4M602.9,468.4L590.5,470.5M590.5,470.5L587.2,460.2M596.9,449.3L596.9,460.3M610.8,461.0L603.7,466.4M608.9,452.0L610.8,460.9M294.7,320.6L295.1,308.8M294.7,320.6L304.1,324.3M304.1,324.3L305.3,323.5M305.3,323.5L306.0,308.6M305.2,308.1L296.2,307.8M283.6,307.9L295.1,308.8M291.5,322.0L294.7,320.6M303.3,335.3L304.1,324.3M315.8,322.3L305.3,323.5M316.0,308.0L306.0,308.6M305.7,294.7L305.2,308.1M294.8,294.8L296.2,307.8M521.2,566.8L511.6,554.5M525.6,588.9L507.9,577.0M521.2,566.8L507.9,577.0M489.5,528.2L491.1,542.2M505.6,533.1L494.6,545.0M491.1,542.2L494.6,545.0M568.6,224.0L573.6,219.1M579.9,228.6L577.0,231.3M573.6,234.9L576.8,231.4M566.3,212.2L573.6,219.1M578.8,215.5L574.7,219.0M530.7,228.5L539.2,237.0M536.1,240.9L539.2,237.0M543.0,233.0L540.2,236.5M551.2,242.2L552.3,239.5M552.3,239.5L554.7,237.2M562.9,244.9L555.1,237.1M562.9,244.9L559.3,248.9M543.0,233.0L552.3,239.5M560.9,232.8L555.1,237.1M566.6,257.3L559.3,248.9M553.4,254.7L558.9,249.0M553.4,254.7L563.1,260.8M387.5,230.1L379.8,234.9M392.4,236.4L385.8,242.3M379.8,235.3L385.2,242.3M395.5,236.6L392.4,236.4M375.1,228.0L379.8,234.9M392.5,249.9L385.8,242.3M369.8,242.6L379.8,235.3M378.3,248.6L385.2,242.3M431.1,189.7L432.3,187.7M431.1,189.7L429.9,194.2M429.9,194.2L437.9,196.8M437.9,196.8L440.7,192.5M432.2,186.5L432.3,187.7M425.9,197.0L429.9,194.2M443.2,189.6L440.8,192.2M449.7,201.7L440.7,192.5M391.3,169.9L391.3,175.4M391.3,169.9L386.7,165.7M391.3,175.4L376.8,175.8M386.7,165.7L377.6,165.0M377.6,165.0L376.8,175.8M396.0,165.1L391.3,169.9M386.9,155.6L386.7,165.7M877.5,158.7L870.9,166.3M877.5,158.7L883.9,165.8M883.9,166.3L876.1,171.2M876.1,171.2L870.9,166.3M891.3,158.3L883.9,165.8M891.3,158.3L893.0,158.7M875.8,178.0L876.1,171.2M813.2,222.0L817.5,218.3M813.9,207.3L816.8,207.7M816.1,193.3L821.6,205.1M821.6,205.1L820.6,206.2M816.8,207.7L820.6,206.2M884.5,228.1L878.5,215.1M878.5,215.1L869.3,219.7M868.8,220.8L869.3,219.7M792.7,230.7L787.9,218.7M787.9,218.7L782.2,221.6M782.2,221.6L780.0,221.1M775.3,208.8L776.4,209.0M780.0,221.1L776.4,209.0M821.9,228.4L826.8,220.3M817.5,218.3L825.3,218.2M826.8,220.3L825.3,218.2M820.6,206.2L825.6,215.7M825.3,218.2L825.6,215.7M870.9,9.3L866.8,4.7M870.9,9.3L864.0,18.0M864.0,18.0L857.6,12.3M682.5,1.4L678.7,0.2M682.5,1.4L683.8,2.3M687.0,11.2L684.8,7.6M694.6,8.5L692.0,3.7M692.0,3.7L684.8,7.6M665.1,-3.5L669.1,-1.5M766.1,51.6L758.4,55.1M756.7,50.1L763.8,47.0M764.1,47.1L770.4,43.5M773.5,47.9L766.4,51.9M768.0,56.8L768.1,55.6M768.0,56.8L760.4,59.5M768.1,55.6L775.8,52.7M829.4,187.6L823.6,190.2M829.6,187.4L824.6,175.1M818.0,179.2L820.0,176.3M820.0,176.3L824.6,175.1M820.0,176.3L811.8,166.4M923.7,175.6L913.2,179.8M913.2,179.8L909.9,176.1M909.9,176.1L917.8,167.4M931.3,167.3L923.6,173.7M926.2,179.0L928.9,179.9M926.2,179.0L923.7,175.6M937.8,172.8L928.9,179.9M920.0,188.9L926.2,179.0M913.3,182.2L913.2,179.8M926.0,160.4L918.4,167.5M908.6,175.7L909.9,176.1M913.0,162.7L917.8,167.4M963.3,167.1L960.2,178.0M951.1,178.0L960.2,178.0M926.6,216.2L934.8,205.7M934.8,205.7L938.0,206.5M940.9,210.9L938.0,206.5M928.9,179.9L933.2,185.6M920.0,189.4L924.6,193.1M924.6,193.1L933.2,185.6M915.0,205.5L924.9,193.9M921.9,216.4L918.8,209.0M934.8,205.7L930.8,200.6M904.3,213.0L915.1,205.7M908.9,197.0L915.0,205.5M881.2,193.8L880.6,195.1M880.6,195.1L890.9,205.8M890.9,205.8L883.9,211.8M676.8,29.2L684.3,26.3M684.3,26.3L686.0,31.2M671.5,37.9L671.5,30.3M671.9,38.2L679.1,34.0M673.4,41.5L671.9,38.2M681.4,38.4L679.9,34.5M688.7,36.8L687.1,31.8M693.4,28.6L687.1,31.8M684.7,25.2L684.3,26.3M645.3,24.5L647.4,24.8M647.8,33.4L649.2,32.5M647.1,15.9L650.7,17.1M650.7,17.1L653.0,10.5M675.7,23.5L682.0,20.0M686.9,11.7L680.1,15.8M686.9,11.7L689.5,16.9M682.0,20.0L680.1,15.8M680.2,8.4L679.8,15.6M727.2,123.4L727.3,121.8M727.2,123.4L721.4,126.6M721.4,126.6L719.5,125.5M729.4,108.7L722.9,113.0M722.9,113.0L725.7,117.8M729.7,108.9L731.3,114.7M725.7,117.8L731.3,114.7M761.7,101.6L768.5,98.9M768.5,98.9L771.0,103.3M764.2,108.0L771.0,103.3M761.6,102.1L763.7,107.7M755.5,128.6L763.8,126.1M755.5,128.6L753.7,124.0M754.2,122.7L762.9,121.2M763.8,126.1L764.3,122.1M744.9,164.7L747.1,165.6M747.6,170.7L748.0,168.1M748.0,168.1L747.1,165.6M763.1,164.2L761.6,162.9M761.6,162.9L755.7,165.7M755.3,167.6L755.7,165.7M766.2,155.1L770.0,159.5M770.0,159.5L777.0,156.2M774.8,151.9L777.1,154.2M777.0,156.2L777.1,154.2M769.7,160.8L770.0,159.5M761.6,162.9L760.6,158.7M760.6,158.7L766.2,155.1M781.8,163.3L777.0,156.2M688.4,133.4L695.9,132.6M686.3,129.5L693.1,125.8M693.1,125.8L696.2,131.1M696.2,131.1L695.9,132.6M685.2,128.8L686.3,129.5M701.8,127.9L696.2,131.1M698.5,136.3L699.7,140.9M698.5,136.3L705.6,133.5M699.7,140.9L708.0,138.9M705.6,133.5L708.0,138.9M709.9,168.3L711.9,164.7M719.6,165.4L711.9,164.7M726.3,61.9L724.4,57.3M719.8,65.7L717.8,60.1M717.8,60.1L724.4,57.3M704.6,29.9L706.3,34.2M704.1,29.7L696.4,33.5M706.2,34.6L699.1,37.6M688.7,36.8L689.8,37.6M684.8,44.9L690.5,41.3M704.1,29.7L701.5,25.0M700.3,24.3L701.5,25.0M705.2,96.4L704.8,90.5M712.7,93.5L710.3,89.3M704.8,90.5L710.3,89.3M706.9,57.3L715.3,55.7M715.3,55.7L716.7,59.4M716.7,59.4L710.1,63.6M712.4,67.9L710.1,63.6M717.8,60.1L716.7,59.4M761.7,101.6L759.0,97.0M759.0,97.0L767.6,93.1M768.5,98.9L768.8,97.6M768.8,97.6L767.6,93.1M764.5,89.2L767.8,91.7M767.6,93.1L767.8,91.7M779.0,82.4L777.2,78.3M779.0,82.4L772.4,86.7M777.2,78.3L769.4,80.9M772.4,86.7L769.3,81.3M772.1,89.2L767.8,91.7M772.1,89.2L772.4,86.7M762.0,83.7L759.5,78.2M765.6,71.0L766.8,71.7M768.1,75.7L768.5,74.3M759.1,73.5L759.5,78.2M766.8,71.7L768.5,74.3M689.0,97.3L682.4,99.9M689.0,97.3L691.3,102.5M682.4,99.9L683.9,104.1M742.3,80.9L742.4,78.4M742.3,80.9L745.5,85.5M742.4,78.4L749.7,76.6M745.9,85.7L751.8,80.8M752.0,79.9L750.3,77.0M733.8,78.0L733.2,79.2M733.2,79.2L734.3,82.6M735.7,83.6L742.3,80.9M740.2,75.2L742.4,78.4M748.4,72.2L749.7,76.6M747.4,89.9L745.9,85.7M755.5,87.1L751.8,80.8M757.1,70.8L750.3,77.0M759.5,78.2L752.0,79.9M731.3,72.0L725.3,77.1M733.2,79.2L726.2,78.9M725.3,77.1L726.2,78.9M722.5,71.8L723.5,75.7M725.3,77.1L723.5,75.7M726.8,87.1L725.4,81.4M726.2,78.9L725.4,81.4M713.1,111.0L714.4,115.9M714.4,115.9L716.6,117.0M721.6,112.3L719.9,108.9M708.2,120.2L714.4,115.9M718.1,122.7L710.2,123.7M718.6,120.9L716.6,117.0M708.2,120.2L710.2,123.7M722.9,113.0L721.6,112.3M662.3,128.0L663.7,133.2M656.5,128.2L658.0,134.9M663.7,133.2L658.0,134.9M641.6,107.1L642.5,105.2M640.8,100.0L638.7,99.3M673.2,121.0L672.2,118.0M664.3,120.9L671.8,117.8M667.6,125.6L665.9,124.8M672.2,118.0L678.3,114.6M686.5,111.6L678.5,113.8M662.6,117.0L663.1,114.8M671.8,117.8L669.0,112.5M666.3,64.6L665.3,59.7M666.3,64.6L658.2,67.6M657.8,61.3L656.7,66.6M657.8,61.3L664.6,59.2M666.5,64.8L673.9,61.6M671.6,55.9L665.3,59.7M674.4,59.7L673.9,61.6M655.6,57.4L657.8,61.3M663.7,57.4L664.6,59.2M664.9,43.8L660.5,43.0M664.9,43.8L666.1,37.8M661.9,36.4L659.3,41.9M659.3,41.9L660.5,43.0M666.2,45.9L664.9,43.8M658.3,49.9L660.5,43.0M671.5,37.9L666.1,37.8M654.8,48.5L658.3,49.9M631.2,82.6L633.3,74.8M627.7,82.0L628.5,74.5M633.3,74.8L628.5,74.5M622.0,57.8L626.3,58.7M626.3,58.7L625.3,65.6M624.4,50.3L628.1,51.9M626.3,58.7L627.7,58.1M627.7,58.1L628.1,51.9M654.0,48.9L652.1,56.3M652.1,56.3L648.0,54.8M655.6,57.4L652.9,57.2M650.2,40.9L651.7,40.7M651.7,40.7L654.9,42.0M644.2,47.4L642.6,54.2M645.9,55.7L642.6,54.2M645.9,55.7L648.0,54.8M587.5,81.0L592.0,82.1M597.0,83.0L592.1,82.2M594.8,90.5L591.3,89.0M592.1,82.2L591.3,89.0M605.2,437.2L613.0,437.2M608.9,452.0L615.3,446.2M615.3,446.2L613.0,437.2M613.6,427.0L614.0,436.1M613.0,437.2L614.0,436.1M635.1,437.8L630.5,435.3M635.1,437.8L633.2,443.3M637.7,436.9L635.1,437.8M629.0,424.8L630.5,435.3M633.6,444.9L633.2,443.3M614.0,436.1L623.2,435.5M712.3,488.4L698.9,481.9M699.8,476.4L698.9,481.9M695.8,487.6L696.5,485.1M696.5,485.1L681.4,477.8M748.8,388.9L750.4,383.5M748.8,388.9L737.7,389.8M750.4,383.5L739.5,377.2M737.7,389.8L737.0,380.6M762.7,381.7L755.1,379.5M749.7,390.5L748.8,388.9M755.1,379.5L750.4,383.5M734.4,393.6L737.7,389.8M726.2,384.8L737.0,380.6M755.8,367.5L742.7,364.8M755.8,367.5L754.3,375.9M739.5,377.2L740.7,371.2M726.6,368.8L740.6,370.6M713.6,393.5L700.1,386.7M696.0,392.7L700.1,386.7M696.0,392.7L705.9,400.9M705.9,400.9L709.2,399.7M715.9,390.7L713.6,393.5M723.9,405.3L713.0,395.4M717.7,412.0L709.2,399.7M693.7,393.4L696.0,392.7M702.4,407.4L705.9,400.9M745.2,211.6L737.4,208.1M745.2,211.6L742.9,218.2M742.9,218.2L734.8,213.3M740.3,202.5L737.4,208.1M731.6,218.1L734.8,213.3M726.9,209.7L734.7,212.5M730.0,203.4L736.6,208.5M697.0,258.7L698.2,260.3M697.0,258.7L703.1,251.5M698.2,260.3L707.2,257.2M699.2,265.7L698.2,260.3M691.8,255.8L686.3,256.7M691.8,255.8L696.6,247.3M709.2,259.5L707.2,257.2M708.9,248.6L706.2,251.6M699.4,241.8L696.5,246.7M615.5,323.6L608.9,328.1M611.7,335.9L608.8,328.4M611.7,335.9L618.2,333.4M611.4,317.4L615.5,323.6M603.6,321.4L608.9,328.1M600.9,331.6L608.8,328.4M420.3,300.6L427.8,295.1M427.8,295.1L432.2,302.6M426.2,307.8L432.2,302.6M435.5,302.9L432.2,302.6M435.2,290.2L428.0,294.0M426.0,309.2L426.2,307.8M398.1,306.6L406.8,300.2M412.8,306.7L406.8,300.2M400.9,292.3L406.9,298.5M406.8,300.2L406.9,298.5M428.0,294.0L421.3,287.0M431.5,267.5L424.1,273.9M410.9,272.5L416.3,279.0M423.7,273.9L416.3,279.0M457.5,326.7L449.7,331.7M455.3,341.2L449.7,331.7M443.4,321.5L447.2,331.4M447.2,331.4L449.7,331.7M432.8,327.4L442.0,335.4M575.4,361.2L574.4,362.2M583.2,372.0L575.0,369.7M575.0,369.7L574.4,362.2M564.1,354.8L565.8,362.4M574.4,362.2L565.8,362.4M556.8,365.3L565.0,363.4M590.7,420.2L586.6,417.5M583.6,432.7L582.1,431.5M582.1,431.5L585.4,418.8M586.6,417.5L585.4,418.8M610.5,415.9L608.5,408.3M600.0,419.2L600.2,408.5M621.9,405.3L609.3,407.3M608.4,397.3L609.3,407.3M606.3,387.6L607.7,396.9M607.7,396.9L599.9,397.6M596.6,389.9L599.9,397.6M587.1,391.5L588.3,392.4M596.6,389.9L588.3,392.4M555.8,444.7L555.6,434.3M568.2,451.5L567.3,443.8M575.1,441.9L567.3,443.8M555.8,444.7L566.9,443.5M543.3,414.1L541.6,407.7M537.2,421.3L532.4,407.9M541.6,407.7L532.4,407.9M529.0,406.6L532.4,407.9M558.5,393.8L549.9,395.4M560.1,394.7L560.6,402.9M549.9,395.4L550.7,403.1M553.0,404.9L559.3,404.2M553.0,404.9L550.7,403.1M568.5,392.4L560.1,394.7M548.0,386.8L549.2,394.8M552.6,414.2L553.0,404.9M562.1,413.8L559.3,404.2M542.1,406.7L550.7,403.1M742.7,159.1L739.7,153.3M738.2,147.9L745.2,145.7M738.2,147.9L736.7,143.8M736.7,143.8L743.8,140.5M749.5,156.2L757.1,153.8M747.1,165.6L751.6,160.9M755.7,165.7L752.5,161.2M760.6,158.7L759.3,157.9M765.2,150.5L763.3,149.1M765.2,150.5L766.4,153.9M763.3,149.1L757.2,153.3M460.8,143.7L460.4,136.7M451.0,144.4L452.2,134.1M452.3,133.9L458.3,135.2M460.4,136.7L458.3,135.2M442.0,134.7L452.2,134.1M452.4,125.9L452.3,133.9M461.7,124.8L458.3,135.2M461.7,124.8L466.3,126.0M469.7,144.3L460.8,143.7M468.1,133.2L470.2,134.7M469.7,144.3L470.2,134.7M488.7,113.7L479.8,115.2M479.8,115.2L478.5,114.1M460.4,103.7L469.0,106.2M460.4,103.7L460.4,114.7M469.0,106.2L468.8,114.0M460.4,114.7L468.8,114.0M471.3,104.5L469.0,106.2M467.8,94.6L461.0,97.2M461.0,97.2L460.2,103.5M451.9,114.9L451.7,105.1M460.2,103.5L451.7,105.1M478.5,114.1L470.4,115.5M470.4,115.5L468.8,114.0M466.3,126.0L469.9,123.2M475.7,162.2L467.8,154.4M475.7,162.2L480.3,156.2M480.1,152.8L480.3,156.2M480.1,152.8L469.5,152.1M469.5,152.1L467.8,154.4M489.7,161.4L480.3,156.2M481.7,149.3L480.1,152.8M482.1,146.9L479.5,144.5M469.7,144.3L469.5,152.1M479.5,144.5L469.7,144.3M462.1,160.6L462.1,156.6M462.1,160.6L459.1,165.6M460.2,155.0L452.7,154.5M451.4,155.5L451.1,165.4M451.4,155.5L452.7,154.5M451.1,165.4L454.4,168.6M472.5,166.7L462.1,160.6M469.2,173.1L459.1,165.6M450.6,144.8L452.7,154.5M460.3,144.3L460.2,155.0M441.9,155.4L451.4,155.5M614.8,1.3L609.7,1.1M609.7,1.1L609.4,8.3M606.6,16.0L609.0,8.4M601.7,14.1L604.1,7.7M604.5,7.6L609.0,8.4M584.3,10.9L587.8,11.5M586.4,18.9L587.8,11.5M591.3,21.1L590.3,19.8M589.0,2.9L589.8,4.3M598.0,6.5L597.6,13.4M597.6,13.4L595.9,14.0M595.9,14.0L593.0,13.3M592.6,13.0L594.4,5.9M600.1,5.6L604.1,7.7M600.1,5.6L598.0,6.5M596.4,-1.6L594.8,5.8M600.1,5.6L600.5,-1.3M596.3,21.5L595.9,14.0M590.3,19.8L593.0,13.3M587.8,11.5L592.6,13.0M589.8,4.3L594.4,5.9M603.4,-1.1L606.0,0.8M600.7,-1.4L603.4,-1.1M604.5,7.6L606.0,0.8M432.6,104.1L431.4,105.6M431.4,105.6L433.0,114.1M442.2,103.7L443.3,104.8M443.3,104.8L442.2,115.2M442.2,115.2L433.0,114.1M432.2,93.6L432.6,104.1M432.2,93.6L442.8,93.2M442.8,93.2L442.2,103.7M450.8,104.5L443.3,104.8M422.8,105.0L421.1,115.0M412.5,106.2L415.0,115.0M415.0,115.0L421.1,115.0M421.6,97.0L422.3,104.5M412.1,93.8L413.2,105.4M405.5,106.9L412.5,106.2M413.8,116.2L415.0,115.0M497.9,0.2L496.5,-1.2M491.7,-1.6L496.5,-1.2M508.9,1.7L507.6,1.4M527.8,38.2L531.0,37.3M527.8,38.2L523.6,35.3M531.0,37.3L527.2,29.9M523.6,35.3L525.6,29.8M527.2,29.9L525.6,29.8M532.0,45.9L524.9,43.6M527.7,51.5L525.3,50.9M525.3,50.9L524.7,43.7M522.6,43.4L520.0,36.1M522.6,43.4L524.7,43.7M520.0,36.1L523.6,35.3M527.8,38.2L524.9,43.6M534.4,30.1L535.0,23.6M535.0,23.6L531.3,21.9M519.1,35.8L520.0,27.9M525.6,29.8L524.1,28.4M520.9,27.5L524.1,28.4M527.2,29.9L529.2,29.0M530.4,22.2L527.5,21.9M524.1,28.4L527.5,21.9M521.3,-2.3L521.2,4.7M527.0,-1.3L525.1,5.3M524.8,5.3L521.2,4.7M514.9,3.0L516.9,4.7M531.3,21.9L532.3,15.4M525.8,20.8L527.5,21.9M532.3,15.4L527.6,14.1M578.4,32.6L579.3,25.5M577.9,32.7L574.1,32.3M579.3,25.5L575.3,24.3M582.8,33.6L578.4,32.6M577.4,18.3L575.3,24.3M575.7,16.9L572.1,16.9M572.1,16.9L570.3,22.9M570.3,22.9L575.2,24.3M575.4,46.9L570.2,46.4M573.5,54.6L574.8,54.2M573.5,54.6L569.6,52.9M576.5,40.7L572.0,39.4M570.2,46.4L572.0,39.4M574.1,32.3L572.0,39.3M534.0,77.1L539.7,78.4M534.0,77.1L532.8,83.8M532.8,83.8L536.5,85.4M563.9,107.1L562.0,105.5M562.0,105.5L557.8,105.1M558.9,113.4L557.3,112.7M557.2,105.5L557.3,112.7M552.8,119.2L556.4,112.9M550.8,111.3L556.4,112.9M545.9,109.8L547.9,103.2M542.2,109.1L544.6,102.0M544.6,102.0L547.3,102.4M550.8,111.3L552.5,104.9M547.9,103.2L552.5,104.9M557.2,105.5L553.2,104.7M568.4,53.4L564.1,52.7M568.4,53.4L566.9,61.1M566.9,61.1L562.8,60.0M562.8,60.0L562.9,53.1M562.9,53.1L564.1,52.7M538.2,84.9L541.9,85.9M542.8,78.1L544.3,79.5M542.8,78.1L541.2,77.8M541.2,77.8L539.7,78.4M544.3,79.5L541.9,85.9M513.7,81.0L513.0,88.1M513.0,88.1L516.5,88.6M517.3,105.8L520.4,104.7M520.4,104.7L518.5,97.5M520.7,90.3L519.6,96.9M520.7,90.3L517.2,88.4M516.5,88.6L514.9,96.0M514.9,96.0L516.6,97.4M512.6,80.2L509.1,80.2M510.8,71.9L508.7,80.0M515.1,73.4L511.2,71.8M488.2,124.6L480.4,123.7M480.4,123.7L478.5,125.5M489.9,123.2L488.2,124.6M479.8,115.2L480.4,123.7M479.5,144.5L478.9,134.0M540.5,93.4L543.3,94.3M540.5,93.4L542.2,86.1M542.2,86.1L546.4,87.1M546.4,87.1L544.8,93.9M544.8,93.9L543.3,94.3M547.9,80.2L544.3,79.5M540.9,109.3L538.8,108.3M543.3,101.3L544.6,102.0M534.3,115.6L537.7,108.5M521.2,113.0L523.2,105.7M521.2,113.0L526.4,114.0M528.4,113.6L526.4,114.0M528.4,113.6L524.9,106.0M524.9,106.0L523.3,105.7M520.4,104.7L523.2,105.7M529.8,113.9L528.4,113.6M540.2,55.5L538.6,54.4M540.2,55.5L536.7,62.3M532.8,61.7L536.7,62.3M532.8,61.7L530.5,58.5M530.5,58.5L531.4,55.8M531.4,55.8L535.1,53.8M535.1,53.8L538.6,54.4M527.4,59.6L524.1,59.1M527.4,59.6L530.5,58.5M531.4,55.8L527.7,51.5M525.3,50.9L523.2,51.9M518.6,35.9L513.6,34.2M513.6,34.2L516.2,27.4M511.1,3.5L510.3,9.5M516.9,4.7L513.4,10.9M510.3,9.5L513.4,10.9M499.1,15.5L495.3,21.9M492.6,37.6L494.5,30.8M490.4,38.5L488.5,35.9M488.5,35.9L490.4,29.3M490.4,29.3L493.8,30.0M488.8,44.3L487.0,45.6M479.9,33.5L488.5,35.9M497.0,23.8L495.3,21.9M497.0,23.8L493.8,30.0M348.2,6.2L349.4,10.0M348.2,6.2L350.7,0.9M349.4,10.0L358.9,12.6M350.7,0.9L361.9,4.8M358.9,12.6L362.5,7.2M336.6,5.3L348.2,6.2M346.0,16.6L349.4,10.0M350.5,-1.2L350.7,0.9M364.4,-2.5L361.9,4.8M371.6,9.4L362.5,7.2M371.6,9.4L370.4,17.9M370.4,17.9L359.5,15.4M380.1,21.1L378.7,28.8M380.1,21.1L370.8,18.7M378.7,28.8L376.6,30.2M370.8,18.7L367.1,26.0M367.1,26.0L376.6,30.2M378.7,28.8L388.0,33.4M385.7,41.6L374.2,38.0M376.6,30.2L374.2,38.0M356.5,22.3L353.4,28.5M357.2,21.8L366.9,26.2M353.4,28.5L362.7,34.5M362.7,34.5L364.3,33.6M359.5,15.4L357.2,21.8M359.9,41.0L362.7,34.5M421.6,46.9L410.4,43.1M424.9,40.2L414.9,34.6M410.4,43.1L412.6,36.3M412.6,36.3L414.9,34.6M435.7,45.6L425.3,40.0M402.2,31.1L412.6,36.3M406.5,23.1L402.0,30.1M407.4,22.7L416.5,28.1M416.5,28.1L414.9,34.6M420.7,18.5L421.3,20.6M386.8,71.2L389.7,64.8M389.7,64.8L401.6,67.6M397.7,76.0L401.6,68.1M389.7,63.2L389.7,64.8M403.8,61.0L401.6,67.6M412.3,73.6L401.6,68.1M392.1,26.4L381.2,20.3M392.1,26.4L394.4,19.4M381.2,20.3L384.0,13.7M396.4,18.0L394.4,19.4M383.7,8.4L384.0,13.7M581.3,110.0L581.6,102.9M576.5,109.3L577.5,102.4M577.5,102.4L581.6,102.9M586.6,103.9L583.3,102.2M576.8,78.8L574.9,78.5M573.8,78.8L571.9,85.1M576.2,86.9L571.9,85.1M568.2,77.5L568.1,84.7M568.1,84.7L571.6,85.2M568.8,77.3L573.8,78.8M624.1,49.9L626.1,44.0M630.2,51.0L630.1,44.5M626.1,44.0L630.1,44.5M635.7,37.7L631.8,37.1M635.3,45.1L631.3,43.9M635.3,45.1L633.8,51.7M633.8,51.7L630.2,51.0M631.3,43.9L630.1,44.5M929.1,51.6L931.0,49.4M942.1,54.1L939.2,50.9M939.2,50.9L931.0,49.4M955.6,34.9L941.6,24.4M956.1,37.1L950.4,41.3M950.4,41.3L943.2,40.5M941.6,24.4L941.1,38.6M941.1,38.6L943.2,40.5M960.9,21.0L955.6,34.9M964.9,41.3L956.1,37.1M950.7,52.8L950.4,41.3M939.2,50.9L943.2,40.5M931.0,49.4L929.8,41.9M931.8,39.6L941.1,38.6M920.4,101.2L915.4,94.6M920.4,101.2L910.6,108.3M915.4,94.6L906.0,101.9M910.6,108.3L906.1,102.4M924.4,102.3L920.4,101.2M895.8,109.4L902.3,115.3M895.8,109.4L906.1,102.4M915.0,89.5L918.8,76.0M927.2,87.3L926.5,77.6M918.8,76.0L926.5,77.6M914.9,89.6L909.6,87.5M913.7,75.0L917.3,74.7M901.4,96.2L906.0,101.9M909.6,87.5L901.4,95.1M946.3,3.3L930.1,4.6M946.3,3.4L943.1,19.2M930.1,4.6L930.0,13.1M930.0,13.1L938.8,21.6M943.1,19.2L940.3,21.6M938.8,21.6L940.3,21.6M946.9,-4.7L946.3,3.3M961.7,9.0L946.3,3.4M927.7,1.1L930.1,4.6M960.0,19.2L943.1,19.2M930.5,27.7L931.8,39.6M930.5,27.7L938.8,21.6M930.5,27.7L922.7,27.9M929.8,41.9L919.9,39.4M922.7,27.9L919.9,39.4M917.3,50.5L919.5,39.6M897.8,-4.4L889.9,-0.4M897.8,-4.4L901.9,-1.9M875.0,-2.9L880.2,4.7M880.2,4.7L886.3,5.0M889.9,-0.4L886.3,5.0M435.2,427.2L434.4,416.8M435.2,427.2L446.6,427.6M434.8,416.3L445.5,414.5M447.9,416.6L445.5,414.5M434.3,428.3L435.2,427.2M421.7,416.9L434.4,416.8M457.7,415.5L447.9,416.6M445.4,404.7L445.5,414.5M503.1,577.4L499.5,567.3M503.1,577.4L499.7,582.4M496.1,582.9L499.7,582.4M496.1,582.9L481.3,576.6M481.3,576.6L487.3,560.6M499.5,567.3L490.9,560.0M487.3,560.6L490.9,560.0M511.6,554.5L499.5,567.3M507.9,577.0L503.1,577.4M501.0,587.2L499.7,582.4M481.6,594.9L496.1,582.9M477.3,577.6L481.3,576.6M495.4,547.2L490.9,560.0M477.4,557.6L469.8,551.5M477.6,557.6L484.0,542.7M469.8,551.5L469.0,540.6M476.4,538.9L484.0,542.7M469.6,570.2L477.4,557.6M487.3,560.6L477.6,557.6M463.5,554.8L469.8,551.5M491.1,542.2L484.0,542.7M463.7,536.2L469.0,540.6M483.7,525.6L476.4,538.9M548.7,243.8L552.2,255.1M548.2,243.9L541.8,248.7M550.4,256.6L552.2,255.1M550.4,256.6L541.8,249.1M553.4,254.7L552.2,255.1M551.2,242.2L548.7,243.8M540.2,236.5L548.2,243.9M537.3,253.6L541.8,249.1M838.8,183.4L841.3,184.5M838.8,183.4L834.8,173.2M842.5,167.1L834.8,173.2M842.5,167.1L849.8,178.9M849.8,178.9L845.0,183.8M841.3,184.5L845.0,183.8M858.1,154.7L866.3,159.0M858.1,154.7L854.3,157.6M854.0,158.5L864.4,167.8M866.3,159.0L866.3,166.4M866.3,166.4L864.4,167.8M873.2,179.8L863.6,169.7M870.9,166.3L866.3,166.4M863.6,169.7L864.4,167.8M883.5,147.0L886.6,150.9M879.7,146.0L873.0,153.7M886.6,150.9L886.6,152.2M886.6,152.2L877.5,158.5M877.5,158.5L873.0,153.7M888.4,136.8L883.5,147.0M875.9,140.5L879.7,146.0M875.9,139.6L883.7,133.8M890.6,137.0L888.4,136.8M891.3,158.3L886.6,152.2M871.8,153.4L873.0,153.7M851.1,217.3L853.5,215.4M851.1,217.3L851.2,227.9M853.5,215.4L865.1,224.0M856.9,230.1L864.8,224.6M856.9,230.1L853.8,229.9M853.8,229.9L851.2,227.9M871.0,237.0L864.8,224.6M850.9,240.4L853.8,229.9M847.9,228.5L851.2,227.9M799.5,227.1L793.1,216.0M787.9,218.7L789.0,217.3M793.1,216.0L789.0,217.3M789.0,217.3L781.8,207.4M777.9,193.7L783.0,205.8M782.7,191.6L790.8,202.0M790.8,202.0L783.0,205.8M783.0,205.8L781.8,207.4M847.9,228.5L839.0,224.2M846.6,216.4L844.1,216.8M846.6,216.4L851.1,217.3M836.9,234.6L837.3,224.6M839.0,224.2L837.3,224.6M827.8,232.0L833.6,222.9M826.8,220.3L832.9,222.0M831.6,210.9L835.9,212.8M837.7,212.1L842.2,201.3M827.9,202.6L835.6,199.4M835.6,199.4L839.9,199.7M839.9,199.7L842.2,201.3M832.9,222.0L835.9,212.8M821.6,205.1L827.8,202.7M844.1,216.8L837.7,212.1M846.6,216.4L843.7,201.6M843.7,201.6L842.2,201.3M829.4,187.6L835.6,199.4M841.3,184.5L839.9,199.7M852.7,24.3L844.3,28.3M852.7,24.3L851.4,21.6M851.4,21.6L849.0,20.3M842.5,27.0L840.9,24.4M857.5,12.3L851.4,21.6M854.6,26.1L864.2,19.0M854.6,26.1L852.7,24.3M857.5,12.3L855.3,10.2M846.4,16.0L849.0,20.3M846.4,16.0L855.2,10.2M839.5,18.6L846.4,16.0M839.4,21.5L840.9,24.0M855.2,10.2L851.2,7.9M851.2,7.9L844.3,11.1M839.5,18.6L836.9,14.8M836.9,14.8L843.5,10.6M874.6,-3.0L866.5,2.8M866.5,2.8L860.7,-2.3M880.2,4.7L873.9,10.1M873.9,10.1L870.9,9.3M866.8,4.7L866.5,2.8M675.9,-0.3L678.7,0.2M692.0,3.7L692.0,2.3M692.0,2.3L690.4,-0.2M692.0,2.3L699.3,0.3M696.1,14.6L696.7,12.5M696.7,12.5L695.5,9.1M755.4,49.2L754.1,45.7M763.8,47.0L760.8,40.8M760.8,40.8L754.1,45.7M746.1,47.8L752.6,44.7M752.6,44.7L754.1,45.7M743.8,41.3L750.5,39.0M752.6,44.7L750.5,39.0M895.7,109.4L891.6,103.1M901.4,96.2L891.6,102.8M878.7,123.8L887.6,117.1M878.7,123.8L879.0,125.9M879.0,125.9L882.9,130.5M882.9,130.5L893.5,123.4M893.5,123.4L888.4,117.2M875.9,139.6L869.9,134.1M869.9,134.1L869.7,132.7M869.7,132.7L879.0,125.9M883.7,133.8L882.9,130.5M881.8,109.8L891.6,103.1M881.8,109.8L887.6,117.1M845.0,146.1L841.6,151.9M849.2,163.1L854.0,158.5M849.2,163.1L846.9,163.6M841.6,151.9L846.9,163.6M824.6,175.1L825.9,174.0M833.9,173.0L825.9,174.0M800.7,171.4L801.9,169.5M773.4,109.3L775.0,113.7M766.0,111.1L769.1,117.2M760.4,116.2L765.7,110.9M760.4,116.2L762.9,121.2M764.3,122.1L768.3,120.3M769.1,117.2L768.3,120.3M962.1,190.4L962.0,180.2M962.1,190.4L968.9,192.4M962.0,180.2L972.2,179.2M968.9,192.4L977.6,186.8M972.2,179.2L978.0,183.0M978.0,183.0L977.6,186.8M958.0,205.6L960.5,191.3M970.2,167.2L972.2,179.2M960.2,178.0L962.0,180.2M985.2,195.5L977.6,186.8M982.7,178.7L978.0,183.0M878.9,214.4L868.1,203.8M878.9,214.4L881.6,212.2M877.3,197.8L873.7,198.5M883.9,211.8L881.6,212.2M647.4,24.8L649.1,24.2M649.1,24.2L650.9,17.3M649.2,32.5L652.9,32.9M652.3,25.0L653.8,26.5M652.9,32.9L653.8,26.5M674.6,0.6L672.2,6.4M669.4,-0.8L667.8,5.1M663.5,-2.9L664.4,4.5M667.8,5.1L664.4,4.5M658.7,4.3L662.9,5.2M665.4,37.1L667.3,29.2M652.3,25.0L656.8,19.1M653.0,10.5L656.5,11.4M666.1,13.4L662.8,13.0M662.9,5.2L662.0,12.1M658.5,4.3L657.0,11.2M662.0,12.1L657.0,11.2M679.8,15.6L676.7,15.3M672.2,6.4L673.1,7.4M737.4,107.0L744.7,102.1M752.2,100.2L745.0,102.3M754.2,122.7L753.0,119.1M753.0,119.1L758.6,115.3M764.2,108.0L765.7,110.9M763.7,107.7L756.5,110.4M758.6,115.3L756.5,110.4M727.3,121.8L734.8,120.6M731.3,114.7L734.0,115.8M735.4,118.5L734.0,115.8M737.4,107.0L739.0,110.1M734.0,115.8L739.0,110.1M739.8,110.5L742.7,117.4M742.2,118.5L742.7,117.4M727.2,123.4L730.0,127.1M734.8,120.6L735.5,124.9M735.5,124.9L730.0,127.1M721.4,126.6L722.9,130.2M730.0,127.1L729.3,130.2M696.9,135.0L695.9,132.6M688.4,133.4L689.7,139.0M699.2,142.8L699.7,140.9M699.2,142.8L692.6,143.2M695.3,151.7L691.3,145.4M700.8,146.6L695.3,151.7M726.1,160.4L723.8,157.0M730.5,152.2L724.4,154.4M723.8,157.0L724.4,154.4M719.6,165.4L718.5,158.4M710.1,124.3L713.2,130.8M713.2,130.8L705.7,132.8M704.4,129.4L705.7,132.8M719.5,125.5L714.0,131.3M715.5,37.8L716.8,40.4M708.3,38.5L707.8,40.0M707.8,40.0L710.7,45.8M733.5,59.2L731.4,54.9M724.5,56.8L731.4,54.9M738.9,50.8L731.9,52.6M736.9,45.2L729.6,47.5M729.4,48.6L731.9,52.6M731.9,52.6L731.4,54.9M699.1,39.0L692.6,42.7M699.1,39.0L702.1,43.2M702.1,43.3L694.9,47.0M692.6,42.7L694.1,46.3M699.1,37.6L699.1,39.0M707.8,40.0L702.1,43.2M703.9,47.7L710.7,45.8M703.9,47.7L702.1,43.3M686.5,50.0L694.1,46.3M703.5,49.4L704.6,52.7M697.6,55.8L695.4,51.6M695.8,49.8L695.4,51.6M703.9,47.7L703.5,49.4M705.8,53.6L704.6,52.7M705.8,53.6L712.7,49.9M705.8,53.6L706.9,57.3M700.0,61.4L706.7,58.2M700.0,61.4L697.4,56.8M690.6,59.2L697.4,56.8M688.0,54.2L695.4,51.6M777.0,96.6L778.0,100.2M778.0,100.2L771.0,103.3M773.7,108.2L771.0,103.3M772.1,89.2L773.8,90.2M777.0,96.6L777.4,95.3M779.0,82.4L781.9,87.8M773.8,90.2L781.9,87.8M777.2,78.3L777.4,76.2M716.8,79.6L717.9,82.9M715.9,79.0L709.0,81.3M717.6,84.9L711.0,86.9M717.6,84.9L717.9,82.9M709.0,83.4L709.0,81.3M723.5,75.7L716.8,79.6M725.4,81.4L717.9,82.9M714.3,73.8L715.9,79.0M720.1,88.5L717.6,84.9M710.3,89.3L711.0,86.9M689.7,139.0L683.4,141.6M685.5,147.1L683.1,144.7M683.4,141.6L683.1,144.7M683.4,141.6L681.6,138.0M678.8,132.8L681.0,137.7M677.1,146.7L671.1,149.9M677.1,146.7L679.2,154.1M673.6,155.4L671.0,150.2M684.1,156.2L679.2,154.1M677.3,146.4L683.1,144.7M664.9,153.0L671.0,150.2M677.3,146.4L674.5,141.9M681.0,137.7L674.9,140.0M674.9,140.0L674.5,141.9M640.0,91.8L640.9,84.9M640.0,91.8L636.1,91.5M635.9,91.2L635.2,84.0M636.0,83.6L640.6,84.6M633.1,98.3L636.1,91.5M638.7,99.3L640.1,91.9M630.0,90.3L635.9,91.2M632.4,83.6L635.2,84.0M640.1,91.9L644.1,92.7M648.1,85.9L640.9,84.9M648.9,87.7L644.1,92.7M640.8,100.0L645.8,97.4M644.1,92.7L645.8,97.4M642.5,105.2L649.0,102.5M649.0,102.5L646.1,97.6M668.2,107.6L669.5,111.0M668.2,107.6L674.6,103.1M669.5,111.0L676.6,109.7M675.4,103.5L677.2,108.1M672.2,99.1L674.6,103.1M666.4,106.1L665.5,101.4M666.4,106.1L668.2,107.6M678.5,113.8L676.6,109.7M669.0,112.5L669.5,111.0M679.6,95.0L682.2,99.7M679.6,95.0L672.6,97.7M682.2,99.7L675.4,103.5M672.6,97.7L672.2,99.1M683.8,106.4L677.2,108.1M635.6,67.4L638.7,67.7M633.8,74.6L633.9,68.5M633.8,74.6L637.7,75.9M638.7,67.7L640.5,69.9M637.7,75.9L640.5,69.9M636.0,83.6L637.9,76.2M629.1,66.9L628.3,74.3M629.0,66.8L625.9,66.2M625.9,66.2L623.5,72.8M628.3,74.3L624.4,74.0M623.5,72.8L624.4,74.0M619.5,71.3L623.5,72.8M642.6,54.2L640.5,54.8M641.5,62.3L640.5,54.8M580.6,71.6L580.8,64.5M580.0,71.8L574.2,70.6M576.7,63.5L574.1,70.5M583.4,72.8L580.6,71.6M582.7,80.2L577.6,79.4M576.8,78.8L580.0,71.8M574.9,78.5L574.2,70.6M568.8,77.3L570.8,70.4M570.8,70.4L574.1,70.5M571.8,61.5L567.4,61.5M567.4,61.5L566.1,68.4M566.1,68.4L570.3,69.9M563.9,76.2L564.9,77.1M564.9,77.1L568.2,77.5M690.2,467.2L680.2,458.2M690.2,467.3L681.8,476.1M681.8,476.1L670.5,466.6M671.1,465.0L670.5,466.6M671.1,465.0L677.7,458.9M681.6,453.4L680.2,458.2M698.0,458.8L690.2,467.2M699.8,476.4L690.2,467.3M681.4,477.8L681.8,476.1M666.3,469.7L670.5,466.6M661.0,453.6L671.1,465.0M416.3,281.3L420.3,286.9M416.3,281.3L406.9,284.9M406.8,285.7L413.7,293.4M413.7,293.4L415.0,293.3M416.3,279.0L416.3,281.3M402.3,278.4L406.9,284.9M420.0,300.6L415.0,293.3M400.9,292.3L406.8,285.7M406.9,298.5L413.7,293.4M445.1,349.3L446.0,344.6M445.1,349.3L437.6,352.1M446.0,344.6L441.1,338.1M435.5,351.1L437.6,352.1M435.5,351.1L433.0,341.9M433.0,341.9L441.1,338.1M451.7,355.5L445.1,349.3M455.3,341.2L446.0,344.6M439.9,361.5L437.6,352.1M427.9,354.9L435.5,351.1M574.0,370.6L567.0,372.2M574.0,370.6L575.0,380.7M568.0,382.6L575.0,380.7M565.4,374.5L567.0,372.2M575.0,369.7L574.0,370.6M565.0,363.4L567.0,372.2M578.7,381.5L575.0,380.7M569.0,391.7L578.2,392.7M558.1,373.4L565.4,374.5M578.2,392.7L578.9,401.2M568.5,392.4L569.7,403.5M578.9,401.2L569.7,403.5M560.6,402.9L569.6,403.6M562.4,413.9L570.2,411.0M569.6,403.6L570.2,411.0M588.3,392.4L589.0,399.8M599.9,397.6L598.3,400.0M589.0,399.8L598.3,400.0M599.3,407.9L598.3,400.0M575.6,431.5L573.3,422.9M572.4,422.2L564.5,423.5M582.1,431.5L575.6,431.5M575.1,441.9L575.6,431.6M585.4,418.8L573.3,422.9M566.9,443.5L565.3,433.7M562.4,413.9L564.5,423.5M571.9,412.3L570.2,411.0M571.9,412.3L572.4,422.2M554.4,424.4L564.2,423.9M555.6,434.3L564.8,433.2M540.5,396.4L538.2,386.7M539.1,398.0L532.3,398.2M532.3,398.2L527.3,390.2M528.1,388.1L527.3,390.2M549.2,394.8L540.5,396.4M542.1,406.7L539.1,398.0M529.0,406.6L532.3,398.2M519.5,394.1L527.3,390.2M526.6,383.3L528.1,388.1M755.3,129.4L758.9,134.3M763.8,126.1L765.4,130.0M765.3,130.5L758.9,134.3M773.6,127.9L765.4,130.0M773.6,127.9L775.8,131.7M775.8,131.7L775.4,133.0M747.1,150.5L748.2,151.5M748.2,151.5L754.5,148.8M755.2,145.9L753.4,143.1M739.7,153.3L747.1,150.5M745.2,145.7L746.2,146.6M749.5,156.2L748.2,151.5M757.2,153.3L754.5,148.8M763.3,149.1L762.1,146.0M762.1,146.0L755.2,145.9M458.4,94.7L450.4,95.5M458.4,94.7L458.1,88.7M458.1,88.7L457.8,87.4M450.4,95.5L445.2,91.4M461.0,97.2L458.4,94.7M450.8,104.5L450.4,95.5M467.5,90.7L458.1,88.7M459.9,82.7L457.8,87.4M445.3,86.0L445.8,88.3M442.8,93.2L445.2,91.4M491.7,-1.6L491.4,-3.8M507.6,1.4L506.0,2.0M506.0,2.0L500.9,0.4M497.9,0.2L499.7,0.7M500.1,7.8L499.7,0.7M499.7,0.7L500.9,0.4M532.1,37.2L538.5,39.9M538.5,39.9L535.7,46.0M532.3,45.8L534.2,46.5M535.7,46.0L534.2,46.5M535.2,31.3L532.1,37.2M535.1,53.8L534.2,46.5M538.6,54.4L540.4,47.5M540.4,47.5L535.7,46.0M541.2,47.2L544.6,48.1M544.6,48.1L547.0,41.8M541.6,40.6L547.0,41.8M523.2,13.3L521.5,20.1M523.2,13.2L519.7,11.6M517.7,19.5L518.0,12.3M517.7,19.5L521.4,20.2M518.0,12.3L519.7,11.6M525.1,5.3L528.7,6.8M524.8,5.3L523.2,13.2M528.7,6.8L526.6,13.2M526.6,13.2L527.6,14.1M517.2,19.6L512.1,18.2M512.1,18.2L514.0,11.7M514.0,11.7L518.0,12.3M520.9,27.5L521.4,20.2M565.3,-0.4L561.7,-1.5M551.8,-4.8L552.9,-3.8M552.9,-3.8L555.8,-3.3M555.4,4.4L556.5,-2.5M558.8,4.8L561.3,-1.4M556.5,-2.5L561.3,-1.4M546.5,-4.6L546.4,1.3M565.3,-0.4L564.9,6.1M560.2,5.8L564.7,6.3M569.9,6.7L572.4,7.4M568.6,7.0L567.9,14.5M572.4,7.4L574.3,8.8M574.3,8.8L570.7,15.2M570.7,15.2L567.9,14.5M574.9,0.8L572.4,7.4M566.1,15.0L567.9,14.5M566.1,15.0L562.9,14.1M562.9,14.1L564.7,6.3M577.2,9.0L574.3,8.8M572.1,16.9L570.7,15.2M566.3,22.6L569.2,23.5M566.3,22.6L566.1,15.0M573.6,31.8L569.9,30.9M572.0,39.3L566.7,38.0M569.2,23.5L568.9,29.9M568.9,29.9L569.9,30.9M542.0,55.8L543.6,55.0M542.0,55.8L540.2,55.5M545.2,49.0L543.6,55.0M543.3,101.3L543.3,94.3M539.4,93.5L538.6,101.3M536.5,85.4L536.2,92.8M555.3,89.2L551.4,88.6M555.3,89.2L555.3,96.7M551.4,88.6L549.4,95.1M554.3,97.0L550.3,96.2M549.4,95.1L550.3,96.2M557.7,97.1L555.3,96.7M557.7,97.1L560.9,90.9M560.9,90.9L556.9,88.5M556.9,88.5L555.3,89.2M546.7,87.0L551.0,88.2M544.8,93.9L549.4,95.1M557.8,105.1L558.8,98.1M553.2,104.7L554.3,97.0M547.3,102.4L550.3,96.2M561.1,67.6L562.2,60.3M557.2,59.2L558.2,60.0M557.2,59.2L560.0,52.1M560.0,52.1L562.9,53.1M562.2,60.3L558.2,60.0M557.7,82.5L558.0,75.8M558.0,75.8L556.4,75.0M550.3,80.0L552.6,82.4M558.2,83.2L556.9,88.5M551.0,88.2L552.6,82.4M559.8,75.3L558.0,75.8M564.9,77.1L562.5,83.5M549.3,79.7L547.9,80.2M562.5,83.5L563.5,84.5M567.2,85.1L563.5,84.5M528.0,76.1L524.7,75.5M528.0,76.1L527.5,83.0M524.7,75.5L521.5,81.9M527.5,83.0L522.7,82.6M521.5,81.9L522.7,82.6M519.2,81.9L521.5,81.9M523.3,89.7L520.7,90.3M533.9,76.9L535.9,70.7M533.9,76.9L528.8,75.8M528.8,75.8L529.7,68.4M531.2,68.0L529.7,68.4M541.2,77.8L539.6,71.0M539.6,71.0L535.9,70.7M528.1,83.5L532.5,83.9M532.8,61.7L531.2,68.0M536.7,62.3L538.0,63.5M538.0,63.5L535.5,70.2M527.4,59.6L526.2,67.6M526.2,67.6L529.7,68.4M518.2,74.4L519.8,73.6M524.7,75.5L523.6,74.3M523.6,74.3L525.7,67.7M495.9,94.3L501.0,93.2M504.3,94.5L501.0,93.2M529.8,113.9L531.8,107.5M537.7,108.5L533.1,106.9M531.8,107.5L527.2,105.4M517.1,43.3L515.1,49.6M519.0,50.8L515.1,49.6M522.6,43.4L521.5,43.9M518.6,35.9L516.0,42.1M516.0,42.1L517.1,43.3M519.8,51.7L523.2,51.9M519.8,51.7L519.0,50.8M503.2,61.3L504.7,55.5M503.2,61.3L507.6,63.6M508.1,63.5L509.9,56.4M504.7,55.5L509.2,55.9M497.6,54.2L500.4,53.6M497.6,54.2L498.8,61.0M500.4,53.6L503.8,54.3M503.8,54.3L504.7,55.5M498.8,61.0L502.7,61.5M505.3,70.6L507.6,63.6M505.3,70.6L504.0,71.2M502.7,61.5L501.0,68.9M504.0,71.2L501.0,68.9M510.8,71.9L505.3,70.6M511.2,71.8L512.8,66.2M512.8,66.2L509.9,63.8M509.9,63.8L508.1,63.5M513.2,56.8L515.3,58.5M509.9,63.8L515.3,58.5M495.8,53.6L496.7,45.9M500.4,53.6L501.0,46.4M500.9,46.4L496.7,45.9M488.8,44.3L496.4,45.5M506.2,48.3L510.5,49.1M505.5,47.4L507.7,40.0M511.5,48.7L511.6,41.5M511.6,41.5L509.1,39.3M503.8,54.3L506.2,48.3M501.0,46.4L505.5,47.4M502.8,39.5L500.9,46.4M502.8,39.5L507.7,40.0M513.2,56.8L514.9,49.7M514.9,49.7L511.5,48.7M513.6,34.2L510.4,35.0M510.4,35.0L509.1,39.3M496.6,68.1L490.8,71.2M496.6,68.1L497.5,61.9M492.3,60.6L497.5,61.9M489.1,66.7L490.8,71.2M498.8,61.0L497.5,61.9M501.0,68.9L496.6,68.1M491.1,57.1L492.3,60.6M481.1,61.4L489.1,66.7M477.5,71.0L488.9,74.3M490.8,71.2L490.2,73.4M483.8,83.1L485.3,82.8M488.9,74.3L485.3,82.8M488.0,94.0L486.9,84.6M495.9,94.3L495.7,90.1M495.7,90.1L490.3,85.0M490.3,85.0L486.9,84.6M485.3,82.8L486.9,84.6M506.8,17.6L508.8,10.0M506.8,17.6L502.6,16.6M508.8,10.0L504.6,8.6M500.1,7.8L504.6,8.6M510.3,9.5L508.8,10.0M506.0,2.0L504.6,8.6M507.0,17.8L511.7,18.4M515.2,26.4L511.5,25.7M510.4,35.0L509.3,33.5M509.3,33.5L510.1,26.4M511.5,25.7L510.1,26.4M432.3,23.5L442.5,28.9M440.2,36.6L428.7,33.5M440.2,36.6L442.8,29.6M418.0,27.3L428.3,31.5M446.0,19.8L442.5,28.9M425.3,40.0L428.7,33.5M453.9,31.1L442.8,29.6M580.2,94.5L584.0,95.6M580.2,94.5L580.5,87.4M584.4,95.4L586.6,89.0M586.0,88.3L581.2,87.1M589.1,96.6L584.4,95.4M583.3,102.2L584.0,95.6M590.8,89.2L586.6,89.0M587.5,81.0L586.0,88.3M582.8,80.2L581.2,87.1M576.9,86.7L580.5,87.4M571.3,108.2L572.5,101.8M565.9,107.4L567.9,100.6M572.5,101.8L567.9,100.6M622.1,41.7L625.0,42.6M622.6,35.0L627.6,35.8M627.6,35.8L628.7,36.6M626.1,44.0L625.0,42.6M617.1,34.3L622.3,35.1M631.6,36.9L628.7,36.6M624.1,27.3L622.6,35.0M627.8,28.2L627.6,35.8M913.7,75.0L910.8,74.0M910.8,74.0L907.6,69.7M907.6,69.7L908.6,62.8M903.5,81.1L897.8,74.1M903.6,81.7L894.4,88.4M897.8,74.1L890.9,85.4M892.5,88.1L894.4,88.4M910.8,74.0L903.5,81.1M897.7,73.4L907.6,69.7M901.4,95.1L894.4,88.4M884.4,76.4L893.8,71.1M884.4,76.4L884.4,77.8M890.0,84.9L884.4,77.8M922.1,27.3L913.1,26.2M922.1,27.3L921.8,15.4M921.8,15.4L915.1,12.6M911.4,24.6L912.5,14.4M911.4,24.6L913.1,26.2M915.1,12.6L912.5,14.4M911.5,37.5L919.5,39.6M911.5,37.5L913.1,26.2M930.0,13.1L921.8,15.4M916.2,2.1L915.1,12.6M902.2,26.4L911.4,24.6M902.2,26.4L899.3,22.1M899.3,22.1L902.4,12.4M902.4,12.4L912.5,14.4M901.9,-1.9L901.5,11.1M917.3,50.5L909.6,50.0M908.6,62.8L906.8,61.2M909.6,50.0L906.8,61.2M906.8,61.2L902.5,60.6M894.5,35.8L884.8,43.4M879.7,34.9L888.1,30.3M879.9,38.5L884.8,43.4M891.1,50.3L896.6,56.4M890.8,50.2L882.3,57.3M882.3,57.3L887.0,62.9M890.2,63.4L887.0,62.9M902.5,60.6L896.7,56.7M884.4,76.4L879.3,70.9M879.3,70.9L887.0,62.9M873.9,10.1L877.2,17.8M868.8,23.0L877.2,17.8M891.4,19.1L891.0,11.7M891.4,19.1L883.4,22.1M880.1,18.8L882.1,21.5M895.1,21.8L891.4,19.1M895.1,21.8L899.3,22.1M888.3,30.4L895.1,21.8M888.1,30.3L883.4,22.1M873.5,31.0L868.9,25.8M873.5,31.0L875.6,31.4M875.6,31.4L882.1,21.5M868.8,23.0L868.9,25.8M877.2,17.8L880.1,18.8M886.3,5.0L887.7,9.1M879.7,34.9L875.6,31.4M859.7,191.0L853.6,178.0M867.3,184.7L858.0,174.6M867.3,184.7L865.0,188.4M868.1,203.8L866.0,204.4M873.7,198.5L865.0,188.4M859.4,191.3L866.0,204.4M845.0,183.8L853.7,193.8M849.2,163.1L857.5,174.7M842.8,166.3L846.9,163.6M871.5,182.7L867.3,184.7M863.6,169.7L858.0,174.6M858.5,154.0L856.0,146.6M856.0,146.6L861.7,141.1M866.7,147.5L862.4,141.3M871.8,153.4L866.7,147.6M847.1,144.8L856.5,136.3M875.9,140.5L866.7,147.5M869.9,134.1L862.4,141.3M801.2,213.2L798.1,200.3M801.2,213.2L794.3,214.6M794.3,214.6L791.3,202.1M791.3,202.1L794.6,200.2M794.6,200.2L798.1,200.3M802.1,199.0L798.1,200.3M793.1,216.0L794.3,214.6M792.9,187.6L794.6,200.2M868.9,25.8L859.5,32.6M855.2,28.3L859.5,32.6M837.1,86.1L839.9,85.5M837.1,86.1L833.6,83.7M833.6,83.7L830.2,77.9M830.2,77.9L838.2,74.6M839.9,85.5L838.2,74.6M810.8,36.5L813.4,41.9M810.8,36.5L805.0,39.9M804.8,40.5L806.7,44.8M806.7,44.8L813.4,41.9M832.1,22.5L833.3,29.5M858.0,-4.9L860.0,-2.4M855.3,10.2L858.3,-0.6M858.3,-0.6L860.0,-2.4M794.5,-3.8L793.6,-4.7M836.9,14.8L833.7,13.5M842.1,7.1L835.4,8.2M835.4,8.2L833.7,13.5M700.0,0.8L707.2,-2.0M695.5,9.1L700.6,5.0M700.0,0.8L700.6,5.0M760.8,40.8L769.2,38.8M766.7,33.4L759.3,36.8M770.4,43.5L770.6,41.3M750.7,38.5L749.6,34.1M758.1,31.9L759.3,36.8M749.6,34.1L757.3,31.4M736.9,45.2L734.7,39.8M743.8,41.3L740.7,37.0M725.1,38.0L731.7,36.3M728.5,44.2L725.8,42.6M728.5,44.2L733.6,39.4M731.7,36.3L733.6,39.4M728.5,44.2L729.6,47.5M750.2,15.7L752.4,21.7M750.2,15.7L748.9,14.9M752.4,21.7L745.3,23.2M745.3,23.2L743.4,19.2M749.2,33.6L740.9,36.0M740.9,36.0L739.8,32.5M746.2,28.5L748.3,29.8M757.3,31.4L754.6,25.7M754.6,25.7L748.3,29.8M754.6,25.6L752.4,21.7M745.3,23.2L744.9,24.9M776.4,58.6L779.3,63.7M776.4,58.6L770.1,60.6M779.3,63.7L773.3,66.4M769.8,63.0L770.1,60.6M769.8,63.0L771.3,65.3M771.3,65.3L773.3,66.4M768.0,56.8L770.1,60.6M775.8,52.7L777.0,56.8M777.0,56.8L776.4,58.6M766.8,71.7L771.3,65.3M775.3,72.8L781.6,68.0M779.5,63.7L781.6,68.0M783.4,74.8L781.9,68.2M783.4,74.8L777.4,76.2M878.7,123.8L873.9,119.6M873.9,119.6L880.9,109.5M890.0,84.9L878.1,89.0M878.1,89.0L875.4,85.5M879.3,70.9L877.1,70.4M869.9,79.8L875.3,85.5M845.0,145.6L839.5,139.8M850.1,131.3L856.5,136.2M850.1,131.3L839.6,138.5M839.6,138.5L839.5,139.8M842.0,103.8L846.6,110.8M842.0,103.8L852.1,97.3M852.1,97.3L855.4,101.6M855.4,101.6L849.6,111.6M846.6,110.8L849.6,111.6M849.8,126.6L857.8,121.7M849.8,126.6L844.9,123.8M855.3,115.6L857.8,121.7M855.3,115.6L850.7,113.1M844.9,123.8L850.7,113.1M840.7,103.3L833.4,111.7M840.7,103.3L838.5,100.3M833.2,111.7L830.9,102.5M830.9,102.5L832.8,98.6M842.0,103.8L840.7,103.3M846.6,110.8L838.5,116.5M838.5,116.5L833.4,111.7M837.0,86.3L833.4,98.5M837.0,86.3L827.5,90.9M827.5,90.9L826.6,95.2M826.6,95.2L832.8,98.6M775.4,133.0L777.6,138.4M782.3,129.6L785.2,134.6M773.6,127.5L771.4,122.1M773.6,127.5L780.0,123.4M771.4,122.1L778.3,119.6M780.0,123.4L778.8,119.9M783.5,126.3L782.3,129.6M783.5,126.3L780.0,123.4M775.7,114.1L778.3,119.6M935.0,186.2L938.6,190.7M935.0,186.2L941.7,178.1M938.6,190.7L948.7,184.5M941.7,178.1L948.8,180.2M933.2,185.6L935.0,186.2M930.8,199.5L938.7,192.5M938.7,192.5L938.6,190.7M937.8,172.8L941.7,178.1M960.5,191.3L952.5,190.5M952.5,190.5L948.7,184.5M944.7,199.2L953.0,205.2M944.7,199.2L944.4,197.5M944.4,197.5L952.5,190.7M952.5,190.7L953.2,205.2M938.0,206.5L944.7,199.2M938.7,192.5L944.4,197.5M956.6,207.0L953.2,205.2M673.1,7.4L671.2,13.9M666.4,13.6L671.2,13.9M653.8,26.5L659.2,26.5M656.8,19.1L658.4,19.6M662.8,13.0L660.0,19.0M666.3,20.4L666.4,13.6M664.8,21.0L660.0,19.0M747.0,107.7L746.6,109.3M747.0,107.7L754.1,105.1M746.6,109.3L749.0,113.5M756.0,110.2L749.5,113.8M756.0,110.2L754.2,105.3M745.0,102.3L747.0,107.7M752.2,100.2L754.1,105.1M742.7,117.4L749.0,113.5M753.0,119.1L751.3,117.8M751.3,117.8L749.5,113.8M744.1,122.9L751.3,117.8M744.1,122.9L742.2,118.5M743.9,140.4L751.1,138.8M742.4,137.0L748.8,132.2M751.5,137.0L749.9,132.6M749.9,132.6L748.8,132.2M753.4,142.6L751.1,138.8M735.5,143.0L736.7,143.8M735.5,143.0L734.6,139.6M739.9,135.3L742.4,137.0M758.8,135.2L760.0,138.6M758.8,135.2L751.5,137.0M755.3,129.4L749.9,132.6M737.1,126.0L737.8,131.5M737.1,126.0L744.1,123.4M744.1,123.4L746.0,125.8M739.0,132.5L746.0,128.0M746.0,125.8L746.0,128.0M729.3,130.2L730.6,132.8M730.6,132.8L737.8,131.5M739.9,135.3L739.0,132.5M748.8,132.2L746.0,128.0M716.5,140.8L709.7,141.6M709.7,141.6L708.4,139.2M708.4,139.2L714.8,132.8M714.8,132.8L716.1,133.9M700.8,146.6L702.9,147.4M702.9,147.4L709.3,143.0M709.3,143.0L709.7,141.6M714.0,131.3L714.8,132.8M730.4,133.7L725.1,138.3M721.6,133.5L724.4,137.9M734.4,139.5L726.3,141.4M711.9,164.7L711.4,161.1M718.5,158.4L716.8,157.6M716.8,157.6L711.4,161.1M722.6,51.1L720.3,47.1M722.5,51.8L715.4,55.0M720.1,47.1L713.4,50.3M715.4,55.0L713.4,50.3M724.5,56.8L722.5,51.8M729.4,48.6L722.6,51.1M724.6,39.5L716.8,40.4M716.7,41.6L720.1,47.1M678.0,89.9L670.4,93.3M675.8,86.1L668.6,89.5M668.6,89.5L669.6,92.7M672.6,97.7L670.4,93.3M662.7,97.0L669.6,92.7M689.3,96.6L687.2,91.5M714.3,73.8L707.1,75.7M709.0,81.3L706.7,78.5M707.1,75.7L706.7,78.5M678.2,132.5L673.0,134.5M674.9,140.0L672.5,136.0M673.0,134.5L672.5,136.0M673.0,134.5L669.8,130.0M669.8,130.0L664.7,133.6M662.5,145.6L668.4,145.0M669.4,143.1L667.4,138.1M666.4,137.7L661.3,141.5M671.1,149.9L668.4,145.0M654.1,142.7L661.2,142.0M674.5,141.9L669.4,143.1M672.5,136.0L667.4,138.1M657.9,135.2L661.3,141.5M666.5,83.5L665.5,82.8M668.0,88.9L660.2,91.3M658.5,86.3L665.5,82.8M660.2,91.3L658.5,86.3M659.6,110.7L659.9,109.3M659.6,110.7L653.4,113.4M650.4,109.1L652.1,112.1M652.1,112.1L653.4,113.4M649.0,102.5L650.5,108.7M649.0,102.5L654.9,100.2M666.4,106.1L659.9,109.3M663.1,114.8L659.6,110.7M653.4,115.7L653.4,113.4M643.6,110.2L650.4,109.1M637.9,76.2L642.9,77.7M649.2,80.7L647.3,79.1M642.9,77.7L647.3,79.1M637.1,52.8L638.9,54.5M638.9,54.5L635.4,60.6M634.3,52.1L631.6,59.5M640.3,46.2L637.1,52.8M641.5,62.3L635.4,60.6M627.7,58.1L631.6,59.5M629.0,66.8L632.1,60.1M638.7,67.7L641.7,62.6M580.6,402.5L580.0,411.7M580.6,402.5L587.6,401.7M587.6,401.7L590.9,409.9M590.9,409.9L586.5,417.1M586.5,417.1L580.0,411.7M578.9,401.2L580.6,402.5M571.9,412.3L580.0,411.7M589.0,399.8L587.6,401.7M599.3,407.9L590.9,409.9M768.0,135.8L760.8,139.1M769.0,141.8L762.9,143.9M762.9,143.9L760.8,139.1M777.4,139.2L769.5,140.5M773.3,147.3L778.8,143.1M771.6,146.6L769.0,141.8M535.2,31.3L538.7,31.5M538.7,31.5L539.8,32.2M539.8,32.2L538.5,39.8M562.8,36.3L563.5,30.5M562.8,36.3L557.6,36.2M558.6,28.6L563.0,29.9M564.7,22.8L563.0,29.9M561.7,22.0L558.6,28.6M566.3,22.6L564.7,22.8M563.9,37.4L566.6,38.0M566.6,38.0L566.6,45.5M561.2,44.9L565.5,45.8M562.8,36.3L563.9,37.4M556.5,42.6L560.6,44.0M556.5,42.6L557.6,36.2M570.1,46.4L566.6,45.5M560.0,52.1L559.0,51.1M542.6,32.5L544.3,34.0M547.6,41.6L547.9,34.6M560.9,21.2L562.7,14.1M560.2,5.8L558.3,13.0M562.7,14.1L558.3,13.0M558.3,28.7L555.0,27.5M560.9,21.2L555.5,20.5M555.0,27.5L555.5,20.5M557.4,36.0L553.2,35.1M538.6,101.3L534.3,100.8M535.4,93.2L534.3,100.8M533.1,106.9L533.7,101.0M527.2,105.4L530.0,100.1M542.8,78.1L546.3,71.7M549.3,79.7L549.1,72.6M549.1,72.6L546.3,71.7M555.5,43.0L551.5,42.3M550.6,42.6L550.2,49.4M551.2,50.4L550.2,49.4M551.2,50.4L554.8,50.9M559.0,51.1L554.9,50.9M553.2,35.1L551.5,42.3M547.6,41.6L550.6,42.6M552.3,34.3L548.8,34.1M545.2,49.0L550.2,49.4M548.2,55.8L543.6,55.0M548.2,55.8L551.2,50.4M553.9,58.3L552.5,58.8M553.9,58.3L554.8,50.9M548.2,55.8L549.5,57.5M549.5,57.5L552.5,58.8M516.9,59.0L515.8,65.7M520.3,67.2L521.9,66.4M517.2,66.8L515.8,65.7M519.8,51.7L517.5,58.8M524.1,59.1L521.6,60.2M515.3,58.5L516.9,59.0M512.8,66.2L515.8,65.7M525.7,67.7L521.9,66.4M519.8,73.6L520.3,67.2M515.1,73.4L517.2,66.8M509.5,87.0L507.0,87.8M509.5,87.0L512.0,88.3M507.0,87.8L506.4,94.1M512.0,88.3L510.2,95.0M506.4,94.1L509.9,95.1M509.1,80.2L509.5,87.0M503.0,86.4L507.0,87.8M504.3,94.5L506.4,94.1M502.6,16.6L500.3,24.5M507.0,17.8L505.9,24.5M510.1,26.4L506.5,25.1M503.7,31.7L506.5,25.1M502.6,39.3L498.3,38.7M498.7,32.1L497.7,38.1M498.7,32.1L500.8,31.1M500.8,31.1L502.9,31.8M496.4,45.5L498.3,38.7M492.6,37.6L497.7,38.1M494.5,30.8L498.7,32.1M500.2,24.5L500.8,31.1M508.7,80.0L505.6,79.7M503.0,86.4L502.2,84.9M505.6,79.7L502.2,84.9M505.6,79.7L502.6,75.8M495.7,90.1L498.3,84.3M574.3,92.8L572.6,93.5M574.3,92.8L579.8,94.6M572.6,93.5L574.3,101.0M579.8,94.6L576.4,101.4M576.4,101.4L574.3,101.0M576.2,86.9L574.3,92.8M570.3,92.9L566.9,91.8M570.5,93.1L567.6,100.1M566.9,91.8L565.1,92.2M565.1,92.2L563.4,98.7M567.6,100.1L563.6,99.0M571.6,85.2L570.3,92.9M572.6,93.5L570.5,93.1M558.8,98.1L563.4,98.7M562.0,105.5L563.6,99.0M907.6,48.3L903.0,48.9M903.0,48.9L897.1,43.0M908.3,38.7L899.8,34.8M897.1,43.0L897.0,36.2M899.8,34.8L897.0,36.2M909.6,50.0L907.6,48.3M896.6,56.4L903.0,48.9M891.1,50.3L897.1,43.0M894.5,35.8L897.0,36.2M884.8,44.3L890.8,50.2M879.9,38.5L870.0,44.9M877.1,51.6L870.0,44.9M847.4,201.2L851.2,198.4M847.4,201.2L854.7,212.9M862.8,208.9L863.7,206.7M843.7,201.6L847.4,201.2M853.7,193.8L851.2,198.4M853.5,215.4L854.7,212.9M869.3,219.7L862.8,208.9M844.3,28.3L845.8,33.8M855.2,28.3L847.1,34.4M845.8,33.8L847.1,34.4M861.5,89.5L865.9,93.7M861.5,89.5L861.1,86.3M865.9,93.7L875.3,85.5M804.8,40.5L797.9,42.8M797.9,42.8L799.4,47.8M806.7,44.8L806.5,46.1M806.5,46.1L800.1,48.3M823.4,24.7L831.0,21.6M822.1,24.1L822.6,19.5M822.6,19.5L830.8,16.5M830.8,16.5L831.0,21.6M818.7,14.5L821.5,16.2M818.7,14.5L813.8,19.4M821.5,16.2L822.6,19.5M813.8,19.4L815.4,23.4M818.1,25.4L815.4,23.4M818.1,25.4L822.1,24.1M821.5,16.2L827.8,11.8M827.8,11.8L831.5,14.2M831.5,14.2L830.8,16.5M832.1,22.5L831.0,21.6M848.8,2.6L842.6,4.7M849.1,1.8L847.5,-3.1M842.6,4.7L837.6,-2.0M837.8,-2.3L844.3,-4.8M847.5,-3.1L844.3,-4.8M851.2,7.9L848.8,2.6M842.1,7.1L842.6,4.7M794.5,-3.8L795.4,0.0M795.4,0.0L788.8,4.3M788.8,4.3L786.1,-1.1M750.2,15.7L757.2,14.1M757.2,14.1L758.8,16.6M761.4,23.0L759.8,17.2M761.4,23.0L754.6,25.6M748.9,14.9L748.1,11.1M757.2,14.1L757.3,11.3M757.3,11.3L755.2,8.2M763.2,4.5L764.7,8.9M764.7,8.9L757.3,11.3M755.4,6.5L755.2,8.2M766.9,32.3L773.9,30.6M769.2,38.7L775.6,33.4M773.9,30.6L775.6,33.4M778.4,40.3L776.9,34.1M775.6,33.4L776.9,34.1M791.2,28.4L788.9,22.6M781.8,26.5L783.2,30.1M781.8,26.5L788.6,22.3M779.6,43.7L774.4,48.3M779.6,43.7L783.6,50.3M776.0,52.0L783.5,50.6M799.4,47.8L792.0,50.5M789.3,47.5L796.9,42.0M789.3,47.6L792.0,50.5M789.3,47.5L787.5,42.5M783.6,50.3L789.3,47.6M787.5,42.5L779.6,43.4M779.6,43.4L778.5,40.3M782.6,31.8L776.9,34.1M782.6,31.8L785.3,36.7M778.5,40.3L785.3,36.7M795.5,37.8L794.6,34.2M795.4,38.2L788.0,40.5M791.9,31.9L794.6,34.2M791.9,31.9L786.0,37.1M786.0,37.1L788.0,40.5M802.4,36.1L795.5,37.8M802.4,36.1L805.0,39.9M803.5,31.1L802.4,36.1M800.6,29.9L794.6,34.2M800.6,29.9L798.2,25.2M790.9,29.3L791.9,31.9M782.6,31.8L783.2,30.1M813.5,19.3L805.2,21.0M815.4,23.4L807.6,26.3M803.5,31.1L806.9,30.1M806.9,30.1L807.6,26.3M805.1,21.6L798.4,24.2M788.9,22.6L795.9,19.9M798.4,24.2L795.9,19.9M817.3,28.5L809.3,31.9M818.4,34.7L818.6,32.8M818.4,34.7L810.8,36.4M810.8,36.4L809.3,31.9M818.1,25.4L817.3,28.5M806.9,30.1L809.3,31.9M827.6,31.0L818.6,32.8M827.6,31.0L823.4,24.7M814.8,42.8L813.4,41.9M814.8,42.8L820.3,37.7M794.5,14.3L800.2,10.2M800.2,10.2L803.9,16.7M805.2,21.0L804.4,17.0M796.1,18.3L795.9,19.9M803.6,-1.1L805.2,2.0M803.6,-1.1L796.6,1.0M805.2,2.0L799.4,6.9M796.6,1.0L798.1,5.9M798.1,5.9L799.4,6.9M795.4,0.0L796.6,1.0M803.9,-3.5L803.6,-1.1M790.7,8.0L798.1,5.9M805.8,2.3L812.3,-0.3M812.3,-0.3L812.9,-3.9M824.2,2.0L828.5,-1.7M826.2,7.1L833.5,3.4M828.5,-1.7L834.3,0.2M834.3,0.2L833.5,3.4M821.2,0.8L824.2,2.0M826.0,8.2L827.8,11.8M835.4,8.2L833.5,3.4M837.6,-2.0L834.3,0.2M731.7,36.3L731.9,34.3M739.7,32.5L731.9,34.3M696.7,12.5L704.0,12.3M701.7,5.5L704.7,10.2M704.7,10.2L704.0,12.3M698.9,20.0L706.3,16.3M704.0,12.3L706.3,16.3M872.6,119.3L865.0,128.1M869.1,115.8L857.9,121.7M857.9,121.7L862.2,127.6M865.0,128.1L862.2,127.6M869.7,132.7L865.0,128.1M850.1,131.3L849.8,126.6M856.5,136.2L862.2,127.6M892.5,88.1L886.7,96.5M878.1,89.0L878.9,91.9M878.9,91.9L886.7,96.5M865.9,93.7L866.4,95.7M878.9,91.9L872.2,100.0M866.4,95.7L872.2,100.0M852.0,95.8L861.5,89.5M866.4,95.7L858.8,102.4M858.8,102.4L863.2,108.8M811.8,166.4L812.6,165.4M825.9,174.0L823.3,161.8M812.6,165.4L822.2,161.6M811.4,152.3L816.0,150.0M822.2,161.6L816.8,150.2M829.6,145.0L824.1,147.0M829.6,145.0L834.5,156.3M824.1,147.0L827.8,159.8M834.5,156.3L834.0,157.7M834.0,157.7L829.7,159.7M824.1,132.9L830.1,144.3M824.1,132.9L817.7,134.6M823.8,147.0L817.7,134.6M841.6,151.9L834.5,156.3M830.1,144.3L839.5,139.8M823.3,161.8L827.8,159.8M842.8,166.3L834.0,157.7M833.9,173.0L829.7,159.7M804.5,141.9L798.1,143.9M804.5,141.9L808.5,152.0M798.1,143.9L801.9,155.0M811.4,152.3L808.5,152.0M801.9,169.5L795.4,159.2M801.4,155.7L796.5,158.0M792.5,173.3L790.9,160.7M795.4,159.2L790.9,160.7M781.8,163.3L789.1,160.4M816.0,150.0L811.0,135.9M804.5,141.9L808.5,136.7M808.5,136.7L811.0,135.9M817.7,134.6L814.7,134.1M814.7,134.1L811.3,135.5M777.4,95.3L783.7,92.0M782.5,88.3L783.7,92.0M825.0,105.7L830.9,102.5M825.0,105.7L826.9,110.9M826.9,110.9L829.7,112.5M825.0,105.7L823.6,104.9M817.2,109.2L818.9,113.8M823.6,104.9L817.5,108.2M826.9,110.9L818.9,113.8M838.5,116.5L838.6,119.4M843.7,123.8L838.6,119.4M839.6,138.5L837.7,134.1M843.7,123.8L837.7,134.1M670.1,21.7L674.2,22.3M669.9,21.4L671.7,14.5M674.2,22.3L675.5,15.6M675.5,15.6L671.7,14.5M675.7,23.5L674.2,22.3M668.2,29.0L670.1,21.7M676.7,15.3L675.5,15.6M659.7,26.9L663.4,26.9M659.7,26.9L657.9,33.8M660.2,34.7L657.9,33.8M665.7,28.7L663.4,26.9M664.8,21.0L663.4,26.9M661.9,36.4L660.2,34.7M667.3,29.2L665.7,28.7M735.5,143.0L729.6,146.5M726.3,141.5L729.6,146.5M729.6,147.1L721.4,149.8M716.8,157.6L715.8,153.5M715.8,153.5L721.1,149.6M726.3,141.5L720.2,146.7M721.1,149.6L720.2,146.7M709.3,143.0L712.1,148.4M716.7,140.9L718.5,145.5M712.1,148.4L718.5,145.5M718.5,145.5L720.2,146.7M707.6,158.0L712.6,151.9M704.2,157.1L704.6,150.4M704.6,150.4L711.8,150.1M711.8,150.1L712.6,151.9M711.4,161.1L707.6,158.0M715.8,153.5L712.6,151.9M701.9,164.5L704.6,157.5M696.4,155.6L704.2,157.1M702.9,147.4L704.6,150.4M712.1,148.4L711.8,150.1M666.5,64.8L668.7,68.6M673.9,61.6L676.0,67.2M668.7,68.6L676.0,67.2M704.8,90.5L702.5,89.2M702.5,89.2L701.5,86.2M699.0,98.2L697.0,94.8M689.3,96.6L696.5,94.6M678.0,89.8L685.1,86.6M685.1,86.6L687.3,91.0M696.5,94.6L693.8,88.8M687.3,91.0L693.8,88.8M701.0,85.7L694.2,87.5M694.2,87.5L693.8,88.8M706.7,78.5L700.6,81.0M797.6,85.9L791.9,88.4M797.6,85.9L796.6,81.2M796.6,81.2L788.5,83.1M779.0,82.4L787.1,79.6M788.5,83.5L782.5,88.3M787.1,79.6L788.5,83.1M809.0,51.2L809.2,49.9M809.0,51.2L810.6,55.7M810.7,55.8L818.3,52.2M816.1,47.2L818.3,52.2M806.5,46.1L809.2,49.9M800.1,48.3L801.3,53.8M801.3,53.8L809.0,51.2M816.2,46.8L814.8,42.8M798.3,86.3L805.3,83.3M796.7,80.6L803.0,77.7M803.0,77.7L805.3,83.3M828.2,74.2L821.6,76.2M818.4,71.5L819.5,74.5M833.6,83.7L825.2,85.7M830.2,77.9L823.8,82.6M823.8,82.6L825.2,85.7M830.2,77.9L828.2,74.2M827.5,90.9L825.2,85.9M813.4,99.5L819.5,94.2M819.5,94.2L823.2,96.2M823.2,96.2L822.2,100.5M817.5,108.2L815.2,103.3M826.6,95.2L823.2,96.2M825.2,85.9L817.7,90.9M817.7,90.9L819.5,94.2M656.0,80.3L663.1,77.4M656.0,80.3L653.7,78.8M654.0,76.9L653.7,78.8M663.1,77.4L661.6,73.4M658.5,86.3L656.0,80.3M664.4,78.3L663.1,77.4M648.9,87.7L650.2,88.4M652.1,72.6L654.0,76.9M647.3,79.1L648.5,71.6M658.2,67.6L660.0,72.3M668.6,69.2L661.6,73.4M652.6,94.2L655.0,100.0M652.7,93.8L660.1,91.9M655.0,100.0L661.7,96.4M661.7,96.4L660.1,91.9M646.1,97.6L652.6,94.2M650.2,88.4L652.7,93.8M644.9,70.3L645.7,62.8M645.0,70.4L648.2,71.2M648.2,71.2L651.8,64.9M645.7,62.8L650.0,63.1M640.5,69.9L644.9,70.3M642.9,77.7L645.0,70.4M656.7,66.6L651.8,64.9M531.3,-0.2L533.3,1.7M533.3,1.7L532.3,5.9M533.3,1.7L536.0,0.4M555.4,4.4L554.0,5.0M550.4,3.0L551.4,4.3M554.0,5.0L551.4,4.3M557.3,13.3L554.5,11.8M554.0,5.0L554.5,11.8M542.6,32.5L545.7,26.2M548.8,34.1L548.5,26.8M548.5,26.8L545.7,26.2M554.6,27.7L548.8,26.7M555.5,20.4L551.4,19.7M548.8,26.7L551.4,19.7M553.5,12.1L550.4,18.8M550.4,18.8L551.4,19.7M525.9,90.4L524.0,97.3M528.6,98.3L525.1,98.1M524.0,97.3L525.1,98.1M532.5,83.9L530.3,91.8M535.4,93.2L531.0,92.6M528.1,83.5L526.0,90.4M530.0,100.1L528.6,98.3M523.3,89.7L525.9,90.4M519.6,96.9L524.0,97.3M523.3,105.7L525.1,98.1M551.7,65.1L549.6,72.5M554.8,72.8L549.6,72.5M558.2,60.0L556.2,66.9M552.5,58.8L551.2,64.7M561.1,67.6L556.3,67.0M556.4,75.0L554.8,72.8M547.4,64.8L545.8,71.1M547.4,64.8L545.1,63.0M541.6,64.2L541.4,70.0M541.6,64.2L543.8,62.8M541.4,70.0L545.8,71.1M543.8,62.8L545.1,63.0M551.2,64.7L547.4,64.8M549.5,57.5L545.1,63.0M539.6,71.0L541.4,70.0M538.0,63.5L541.6,64.2M542.0,55.8L543.8,62.8M491.3,74.1L496.2,82.9M491.3,74.1L500.0,76.4M500.0,76.4L497.4,83.3M496.2,82.9L497.4,83.3M502.6,75.8L500.0,76.4M861.1,54.4L855.8,46.6M861.1,54.4L863.3,54.8M863.3,54.8L869.5,44.8M855.8,46.6L865.8,40.7M873.5,31.0L866.0,40.8M851.4,60.2L861.1,54.4M855.8,46.6L854.5,46.3M848.0,56.3L854.5,46.3M859.7,33.6L850.5,41.8M854.5,46.3L850.5,41.8M847.1,34.4L850.3,41.7M839.0,72.7L834.8,69.5M851.4,60.2L851.6,61.7M846.5,55.8L848.0,56.3M846.5,55.8L839.3,57.9M851.6,61.7L845.2,69.6M839.3,57.9L839.1,62.3M839.0,72.7L844.9,70.6M839.1,62.3L833.9,66.6M786.0,-1.2L779.6,1.1M779.6,1.1L777.3,-2.8M769.5,0.4L763.2,4.5M762.7,4.2L760.3,-1.0M760.3,-1.0L767.9,-3.1M770.1,0.8L777.0,-3.0M758.7,-2.2L753.4,2.5M753.4,2.5L751.8,2.0M760.3,-1.0L758.7,-2.2M758.1,31.9L764.3,28.1M761.9,23.3L764.3,28.1M766.9,32.3L764.8,28.3M751.8,2.0L746.6,5.9M747.4,10.5L746.6,5.9M793.9,56.2L792.3,52.7M793.9,56.2L787.1,60.4M792.3,52.7L784.2,55.8M787.1,60.4L785.5,59.7M785.5,59.7L784.1,56.5M783.5,50.6L784.2,55.8M779.5,63.7L785.5,59.7M781.9,68.2L787.7,67.6M788.7,64.3L787.7,67.6M777.0,56.8L784.1,56.5M810.3,13.9L817.7,10.8M809.3,13.4L808.1,8.7M808.5,7.9L814.9,5.4M817.7,10.8L817.9,9.4M817.9,9.4L815.8,5.8M813.5,19.3L810.3,13.9M804.4,17.0L809.3,13.4M800.4,9.8L808.1,8.7M805.8,2.3L808.5,7.9M800.4,9.8L799.4,6.9M821.2,0.8L815.8,5.8M725.1,38.0L723.4,33.5M731.9,34.3L730.3,30.4M730.3,30.4L723.4,33.5M714.0,31.3L720.0,27.7M720.7,28.2L722.7,33.1M739.7,32.5L737.2,27.3M730.3,30.3L737.2,27.3M743.0,19.0L735.7,21.7M735.7,21.7L737.4,26.5M701.7,5.5L709.3,3.0M710.3,7.2L711.2,8.0M711.2,8.0L712.2,12.4M712.2,12.4L706.7,16.4M701.5,25.0L709.2,21.1M706.7,16.4L709.2,21.1M749.4,-1.8L742.9,-0.6M744.7,4.7L746.6,5.9M744.7,4.7L742.6,0.1M872.2,100.0L864.3,109.0M872.2,100.0L877.3,104.9M868.5,113.2L864.3,109.0M886.7,96.6L877.3,104.9M880.9,109.5L877.6,106.0M777.1,154.2L781.7,151.0M789.1,160.4L786.6,153.4M781.7,151.0L786.6,153.4M796.5,158.0L791.6,146.4M786.6,153.4L791.6,146.4M797.3,143.7L795.4,137.3M808.5,136.7L801.2,133.2M785.2,134.6L792.1,130.8M785.1,135.2L787.3,139.1M787.3,139.1L794.1,136.4M794.1,136.4L792.1,130.8M811.3,135.5L806.4,125.2M801.2,133.2L798.4,127.3M806.4,125.2L798.4,127.3M814.7,134.1L816.8,120.4M791.7,89.1L784.2,92.3M791.7,89.1L793.7,94.3M793.4,95.4L786.1,96.2M786.1,96.2L784.2,92.3M800.5,90.9L798.3,86.3M800.3,91.5L793.7,94.3M778.0,100.2L779.4,101.4M779.4,101.4L785.8,98.2M785.8,98.2L786.1,96.2M784.7,116.3L778.8,119.9M773.7,108.2L780.4,105.8M782.6,110.1L780.4,105.8M806.5,124.9L805.0,119.8M810.4,116.2L805.0,119.8M785.8,98.2L788.3,102.3M793.4,95.4L795.2,99.9M795.2,99.9L788.3,102.3M780.4,105.5L788.2,103.0M788.2,103.0L789.4,107.8M800.3,91.5L802.6,96.9M802.6,96.9L795.5,100.1M790.6,108.5L789.4,107.8M829.7,112.5L827.1,119.8M818.9,113.8L817.5,119.7M817.5,119.7L819.3,120.3M819.3,120.3L827.1,119.8M824.1,132.9L825.7,131.3M819.3,120.3L825.7,131.3M676.4,67.4L682.0,63.4M682.1,62.1L690.5,60.1M668.6,69.2L670.4,74.5M677.8,71.1L676.4,67.4M677.8,71.1L677.5,73.0M677.5,73.0L670.4,74.5M666.5,83.5L673.8,81.4M675.8,84.0L674.3,81.6M664.4,78.3L670.3,74.8M707.1,75.7L704.8,72.1M700.6,81.0L697.8,75.3M697.8,75.3L704.8,72.1M709.6,63.3L702.9,67.4M702.9,67.4L704.8,72.1M682.8,82.6L685.2,86.5M694.2,87.5L691.7,82.5M685.2,86.5L691.7,82.5M700.5,81.3L691.7,82.4M697.8,75.3L696.5,74.8M696.5,74.8L691.3,80.6M691.3,80.6L691.7,82.4M793.0,75.0L787.2,79.0M792.2,71.9L788.9,69.7M788.9,69.7L784.1,75.1M784.1,75.1L787.2,79.0M801.7,72.8L804.0,74.8M801.7,72.8L793.0,74.6M796.7,80.6L793.0,75.0M803.0,77.7L804.0,74.8M787.7,67.6L788.9,69.7M810.7,55.8L813.6,60.5M819.2,52.8L820.4,57.9M820.4,57.9L813.6,60.6M801.7,72.8L800.1,67.7M792.2,71.9L797.3,66.0M800.1,67.7L797.3,66.0M796.6,64.1L797.3,66.0M546.4,1.3L544.5,2.3M540.1,1.2L544.5,2.3M545.7,26.2L544.6,25.1M544.6,25.1L540.9,24.5M535.0,23.6L536.5,23.1M536.5,23.1L539.9,23.7M868.2,59.5L877.3,52.7M881.1,56.9L877.3,52.7M881.1,56.9L873.9,66.4M866.5,59.0L868.2,59.5M877.1,70.4L873.9,66.4M832.9,30.6L829.0,32.1M842.5,27.0L837.4,33.7M832.9,30.6L837.4,33.7M845.8,33.8L838.9,36.0M837.4,33.7L838.9,36.0M822.4,38.5L820.3,37.7M822.4,38.5L828.0,35.6M828.0,35.6L831.8,41.6M838.8,36.6L831.9,41.6M822.4,38.5L823.6,44.3M831.8,41.6L823.6,44.3M816.2,46.8L823.6,44.5M819.2,52.8L826.1,49.7M823.6,44.5L826.1,49.7M831.9,41.6L833.3,45.4M833.3,45.4L826.8,50.0M842.1,43.6L833.7,45.7M842.1,43.6L843.9,44.7M843.6,47.9L836.1,51.0M838.8,36.6L842.1,43.6M846.5,55.8L843.6,47.9M837.9,57.1L839.3,57.9M837.9,57.1L836.1,51.0M828.4,53.6L835.9,50.8M866.5,59.0L860.6,66.9M860.6,66.9L863.6,71.4M851.6,61.7L857.1,66.2M869.8,79.8L863.6,73.5M863.6,73.5L863.6,71.4M828.5,54.8L820.8,58.2M828.5,54.8L831.0,58.6M831.0,58.6L829.1,63.6M823.2,62.9L820.8,58.2M823.2,62.9L825.6,65.0M837.9,57.1L831.0,58.6M815.9,65.5L813.6,60.6M815.9,65.5L823.2,62.9M825.0,67.3L825.6,65.0M790.7,10.1L794.1,14.2M794.1,14.2L786.7,18.6M786.7,18.6L784.1,16.9M790.7,8.0L790.7,10.1M788.6,22.3L786.7,18.6M779.5,18.7L776.3,15.1M779.5,18.7L784.1,16.9M776.3,15.1L775.5,11.1M775.5,11.1L780.9,7.8M770.1,0.8L772.0,4.1M779.2,3.0L781.0,7.5M726.5,0.8L728.7,6.2M726.5,0.8L733.4,-1.9M735.8,3.0L733.4,-1.9M735.7,3.8L728.7,6.2M725.8,20.3L733.3,18.0M725.8,20.3L727.7,25.7M728.3,26.1L735.1,21.4M733.3,18.0L735.1,21.4M720.7,28.2L727.7,25.7M730.3,30.3L728.3,26.1M723.6,-2.5L726.0,0.5M726.0,0.5L719.8,6.9M717.7,-1.0L717.2,0.4M717.2,0.4L719.0,6.2M724.1,-4.1L723.6,-2.5M720.4,8.0L719.8,6.9M720.4,8.0L715.7,14.4M715.7,14.4L712.2,12.4M742.6,0.1L735.8,3.0M779.6,143.5L787.1,141.4M779.6,143.5L781.9,148.8M781.9,148.8L789.9,145.3M787.1,141.4L789.9,145.3M787.3,139.1L787.1,141.4M781.7,151.0L781.9,148.8M791.6,146.4L789.9,145.3M792.1,130.8L792.7,128.7M783.5,126.3L787.4,124.7M784.7,116.3L788.0,121.8M788.0,121.8L787.4,124.7M797.5,126.8L797.5,123.9M804.0,119.3L797.5,123.9M788.0,121.8L794.9,117.8M817.2,109.2L810.3,109.8M815.2,103.3L809.0,106.8M810.4,116.2L809.0,113.0M810.3,109.8L809.0,113.0M803.7,97.4L806.0,101.9M806.0,101.9L812.7,99.3M812.7,99.3L810.0,93.0M800.5,90.9L806.6,88.9M817.7,90.9L816.2,89.8M816.2,89.8L810.0,93.0M838.2,119.6L828.1,120.9M828.1,120.9L830.3,129.3M837.7,134.1L832.0,129.7M827.1,119.8L828.1,120.9M825.7,131.3L830.3,129.3M677.8,71.1L685.9,69.3M682.0,63.4L686.1,67.9M685.9,69.3L686.1,67.9M683.1,81.2L687.5,77.5M683.1,81.2L678.8,76.5M678.9,75.5L686.8,74.3M691.3,80.6L687.5,77.5M674.3,81.6L678.8,76.5M677.5,73.0L678.9,75.5M687.2,73.1L686.8,74.3M696.5,74.8L694.9,72.0M809.1,68.5L815.8,66.1M809.5,73.6L818.2,71.4M807.5,64.8L813.6,60.5M807.5,64.8L809.1,68.5M806.4,64.3L800.1,67.7M804.0,59.1L801.2,53.8M804.0,59.3L796.9,62.5M801.2,53.8L794.3,56.5M810.6,55.7L804.0,59.1M806.4,64.3L804.0,59.3M796.6,64.1L796.9,62.5M815.8,83.7L815.4,86.3M812.9,80.3L805.9,83.7M805.9,83.7L807.0,86.9M822.4,81.8L815.8,83.7M816.2,89.8L815.4,86.3M819.5,74.5L813.8,80.8M806.6,88.9L807.0,86.9M809.5,73.6L812.9,80.3M532.3,5.9L533.7,7.5M540.1,1.2L539.2,8.5M539.2,8.5L533.7,7.5M536.5,23.1L537.8,15.7M537.8,15.7L533.0,14.9M533.0,14.9L533.7,7.5M550.4,18.8L548.2,18.1M544.6,25.1L546.4,18.6M548.2,18.1L546.4,18.6M539.9,23.7L542.3,16.7M546.4,18.6L542.3,16.7M546.8,10.1L548.3,11.6M854.9,81.4L854.6,79.1M854.6,79.1L852.3,76.7M840.3,85.6L848.5,75.1M840.3,85.6L845.3,89.5M846.7,89.7L845.3,89.5M861.1,86.3L854.9,81.4M863.6,73.5L854.6,79.1M857.1,66.2L852.3,76.7M844.9,70.6L848.5,75.1M780.8,25.7L774.1,28.7M778.9,20.2L771.7,23.0M774.1,28.7L771.6,24.6M771.6,24.6L771.7,23.0M781.8,26.5L780.8,25.7M779.5,18.7L778.9,20.2M776.3,15.1L769.0,18.5M769.1,19.6L771.7,23.0M761.9,23.3L769.1,19.6M771.6,6.8L774.4,10.7M774.4,10.7L767.0,14.8M765.0,9.1L766.3,14.3M772.0,4.1L771.6,6.8M733.4,16.4L739.9,13.1M740.2,11.8L738.4,8.2M743.0,19.0L739.9,13.1M747.4,10.5L740.2,11.8M744.7,4.7L738.4,8.2M735.7,3.8L737.3,7.4M730.8,12.5L728.2,7.4M730.8,12.5L724.0,15.3M728.2,7.4L722.1,8.8M724.0,15.3L722.1,8.8M728.7,6.2L728.2,7.4M723.8,15.8L725.3,19.9M716.6,16.6L723.8,15.8M716.0,19.0L718.9,23.5M718.8,24.1L710.7,26.2M716.6,16.6L716.0,19.0M725.3,19.9L718.9,23.5M704.6,29.9L710.7,26.2M720.0,27.7L718.8,24.1M713.7,31.2L710.7,26.2M806.0,102.2L798.4,105.2M809.0,106.8L807.0,105.2M806.0,102.2L807.0,105.2M695.2,70.2L691.7,64.4M695.2,70.2L701.4,66.5M699.8,62.1L701.4,66.5M694.9,72.0L695.2,70.2M702.9,67.4L701.4,66.5M690.5,60.1L691.7,64.4M539.4,8.7L543.7,8.8M543.7,8.8L545.3,10.0M545.3,10.0L542.3,16.7M538.5,15.5L542.3,16.7M802.3,112.4L801.8,110.8M802.3,112.4L801.0,115.2M801.8,110.8L799.2,108.5M799.2,108.5L792.4,112.5M801.0,115.2L795.1,117.3M795.1,117.3L792.4,113.0M809.0,113.0L802.3,112.4M804.0,119.3L801.0,115.2M798.4,105.2L799.2,108.5M790.6,108.5L792.4,112.5M784.8,115.7L792.4,113.0" fill="none" stroke="#3c3d47" stroke-width="1"/>
<path d="M667.6,201.0 C675.0,199.9 698.2,196.8 712.1,194.4 C726.0,192.1 737.5,187.9 750.8,186.8 C764.2,185.6 778.4,187.5 792.4,187.5 C806.4,187.5 820.0,187.8 834.9,186.6 C849.8,185.5 867.2,182.2 881.7,180.5 C896.3,178.8 907.7,180.0 922.1,176.5 C936.4,173.0 960.1,162.4 967.8,159.6 M649.0,216.9 C655.4,220.4 675.6,230.3 687.4,237.6 C699.1,244.9 707.4,252.1 719.5,260.6 C731.5,269.2 745.7,281.2 759.6,288.9 C773.6,296.6 791.5,299.7 803.2,306.7 C815.0,313.6 818.4,324.6 829.9,330.8 C841.4,336.9 858.1,339.4 872.5,343.6 C886.9,347.8 904.1,351.4 916.1,355.8 C928.2,360.2 934.1,362.0 944.9,369.8 C955.8,377.6 969.0,395.0 981.2,402.9 C993.4,410.7 1007.3,407.7 1018.3,416.8 C1029.3,425.8 1038.2,445.2 1047.3,457.1 C1056.3,468.9 1066.6,476.4 1072.5,487.8 C1078.4,499.3 1080.8,519.6 1082.5,525.9 M643.0,221.4 C646.8,226.1 657.1,238.9 665.6,249.7 C674.2,260.5 684.0,275.4 694.2,286.4 C704.4,297.4 717.9,304.9 726.9,315.7 C735.9,326.5 741.2,340.3 748.2,351.2 C755.1,362.1 761.3,369.7 768.7,381.1 C776.0,392.5 787.1,407.6 792.3,419.5 C797.6,431.5 794.1,441.8 800.1,453.0 C806.2,464.3 818.4,477.0 828.8,487.2 C839.1,497.5 853.5,503.4 862.4,514.6 C871.3,525.8 872.6,544.1 881.9,554.5 C891.2,564.8 907.5,569.2 918.3,576.8 C929.1,584.3 942.0,596.1 946.8,599.9 M638.4,239.3 C641.1,245.9 649.9,266.9 654.3,279.3 C658.8,291.7 660.9,301.0 665.3,313.5 C669.7,326.0 675.1,342.3 680.8,354.3 C686.6,366.4 695.3,373.4 699.8,386.0 C704.3,398.7 702.7,416.8 707.8,430.2 C712.9,443.7 721.9,455.4 730.2,466.7 C738.4,478.0 749.5,487.2 757.3,498.2 C765.0,509.1 770.0,521.7 776.7,532.5 C783.3,543.3 787.7,552.3 797.0,562.8 C806.2,573.3 819.9,584.5 832.2,595.5 C844.5,606.6 863.6,615.7 871.1,629.1 C878.5,642.5 875.8,668.2 876.8,676.0 M626.5,227.2 C625.6,233.7 623.3,252.6 621.2,265.8 C619.1,279.1 616.7,293.9 614.1,306.7 C611.4,319.6 606.4,331.4 605.1,343.0 C603.9,354.7 608.8,364.1 606.3,376.7 C603.9,389.3 594.9,404.5 590.6,418.6 C586.2,432.7 583.5,449.3 580.2,461.4 C577.0,473.5 574.3,481.6 570.9,491.1 C567.5,500.6 560.4,506.1 560.0,518.5 C559.6,530.9 570.1,552.1 568.6,565.4 C567.1,578.8 557.8,586.6 550.7,598.4 C543.6,610.2 535.7,624.0 526.3,636.5 C516.8,648.9 499.2,667.1 493.8,673.2 M615.7,222.3 C612.8,226.8 604.8,240.3 598.3,249.2 C591.9,258.1 583.6,267.2 577.2,275.6 C570.9,283.9 567.3,289.8 560.2,299.3 C553.1,308.9 544.2,322.3 534.5,332.9 C524.7,343.4 512.7,353.4 501.8,362.4 C490.9,371.5 481.3,378.1 469.1,387.1 C457.0,396.0 440.6,408.3 428.8,415.9 C417.1,423.5 411.1,426.0 398.5,432.7 C385.9,439.3 365.1,448.0 353.5,455.9 C341.9,463.8 339.5,472.9 328.9,480.1 C318.3,487.4 301.3,492.3 290.0,499.5 C278.8,506.6 269.7,514.6 261.3,522.8 C253.0,531.1 248.3,538.7 240.0,548.9 C231.8,559.2 218.7,570.0 211.7,584.2 C204.8,598.4 208.1,624.0 198.4,634.0 C188.6,644.0 163.2,638.0 153.1,644.3 C143.0,650.7 140.2,667.6 137.7,672.2 M606.6,219.3 C599.6,223.4 578.9,235.8 564.6,243.5 C550.4,251.1 535.3,257.8 521.3,265.0 C507.3,272.2 492.9,279.2 480.7,286.6 C468.6,294.0 459.1,301.9 448.5,309.4 C437.9,316.9 429.6,325.0 417.1,331.7 C404.7,338.4 386.1,344.6 373.7,349.3 C361.3,354.1 354.7,357.1 342.8,360.2 C330.8,363.3 314.2,361.7 301.9,368.1 C289.7,374.4 279.0,387.0 269.1,398.4 C259.3,409.7 254.4,427.2 242.8,436.1 C231.3,444.9 211.3,445.2 199.7,451.5 C188.1,457.8 185.1,469.1 173.0,474.0 C160.9,479.0 137.9,473.5 127.2,481.2 C116.4,489.0 118.0,513.9 108.5,520.6 C99.0,527.3 76.4,521.2 70.0,521.3 M595.1,216.0 C587.6,219.2 564.3,228.6 550.5,234.9 C536.7,241.1 525.6,246.1 512.4,253.5 C499.1,260.8 484.7,273.0 471.0,279.0 C457.2,285.0 442.5,284.1 429.7,289.2 C416.9,294.4 407.4,304.0 394.2,310.1 C381.0,316.2 364.7,319.1 350.5,325.7 C336.3,332.3 321.6,346.1 309.0,349.8 C296.4,353.4 284.9,343.7 275.0,347.5 C265.1,351.4 260.7,366.0 249.6,372.9 C238.6,379.8 220.7,383.3 208.7,388.8 C196.6,394.3 187.2,397.8 177.3,406.1 C167.3,414.4 160.3,429.4 148.8,438.7 C137.4,448.1 118.2,452.6 108.5,462.2 C98.7,471.7 93.4,490.4 90.4,496.0 M606.9,201.3 C600.9,200.0 582.5,196.2 571.0,193.4 C559.6,190.5 551.2,188.6 538.1,184.4 C525.1,180.3 508.1,173.3 492.9,168.5 C477.7,163.7 462.3,160.4 446.9,155.8 C431.6,151.1 413.7,146.1 401.0,140.8 C388.2,135.5 381.5,127.9 370.5,123.7 C359.4,119.6 346.4,117.6 334.7,115.9 C323.0,114.2 311.0,115.5 300.0,113.7 C288.9,111.9 278.4,109.3 268.5,105.1 C258.6,100.9 245.3,91.3 240.6,88.5 M606.7,186.8 C602.4,183.3 590.9,174.2 580.9,165.5 C571.0,156.9 557.5,145.3 546.9,135.0 C536.3,124.8 526.7,114.5 517.2,103.9 C507.7,93.2 498.7,81.1 490.1,71.1 C481.5,61.1 474.3,53.6 465.8,43.8 C457.2,34.0 443.4,17.3 439.0,12.1 M612.5,182.9 C607.8,177.0 592.7,158.6 584.6,147.3 C576.5,136.1 571.1,126.4 563.8,115.4 C556.6,104.5 547.5,91.5 540.9,81.7 C534.3,71.9 532.5,65.5 524.2,56.7 C515.9,47.8 502.5,38.0 491.2,28.6 C479.9,19.2 462.3,5.1 456.5,0.4 M623.2,179.0 C621.7,173.3 617.7,155.7 614.3,144.7 C610.9,133.7 605.8,123.4 602.7,113.0 C599.6,102.5 597.6,93.0 595.7,82.2 C593.8,71.4 593.6,61.0 591.4,48.2 C589.2,35.5 583.9,12.9 582.3,5.8 M634.9,186.0 C637.3,179.3 645.5,158.9 649.6,145.8 C653.7,132.8 656.6,120.9 659.6,107.7 C662.6,94.5 663.2,79.8 667.5,66.7 C671.7,53.7 680.8,41.4 685.1,29.6 C689.5,17.8 692.1,1.5 693.5,-4.1 M644.9,180.5 C648.6,175.9 660.1,162.2 667.1,152.8 C674.0,143.3 680.0,132.3 686.6,123.7 C693.2,115.0 699.1,111.5 706.5,100.8 C713.9,90.0 724.5,72.2 730.8,59.1 C737.1,46.0 737.1,33.0 744.3,22.4 C751.4,11.8 768.7,-0.1 773.6,-4.6 M648.5,199.5 C655.4,197.2 677.9,190.0 690.3,185.8 C702.6,181.5 712.0,177.4 722.6,174.0 C733.1,170.6 742.0,169.4 753.5,165.4 C765.0,161.3 778.0,154.6 791.3,149.6 C804.7,144.7 821.2,141.8 833.7,135.6 C846.3,129.4 855.5,116.2 866.6,112.3 C877.7,108.3 889.6,113.6 900.4,111.9 C911.3,110.3 920.5,105.8 932.0,102.5 C943.4,99.2 963.0,94.1 969.2,92.4 M1118.0,0.0 C1118.2,20.0 1118.5,78.3 1119.0,120.0 C1119.5,161.7 1120.5,203.3 1121.0,250.0 C1121.5,296.7 1122.5,355.0 1122.0,400.0 C1121.5,445.0 1120.3,480.0 1118.0,520.0 C1115.7,560.0 1111.0,614.2 1108.0,640.0 C1105.0,665.8 1101.3,669.2 1100.0,675.0 M1121.0,0.0 C1121.2,20.0 1121.5,78.3 1122.0,120.0 C1122.5,161.7 1123.5,203.3 1124.0,250.0 C1124.5,296.7 1125.5,355.0 1125.0,400.0 C1124.5,445.0 1123.3,480.0 1121.0,520.0 C1118.7,560.0 1114.0,614.2 1111.0,640.0 C1108.0,665.8 1104.3,669.2 1103.0,675.0 M49.0,120.0 C54.2,127.5 66.5,150.8 80.0,165.0 C93.5,179.2 110.0,188.8 130.0,205.0 C150.0,221.2 178.3,242.8 200.0,262.0 C221.7,281.2 238.3,297.8 260.0,320.0 C281.7,342.2 318.3,382.5 330.0,395.0 M52.0,118.0 C57.2,125.5 69.5,148.8 83.0,163.0 C96.5,177.2 113.0,186.8 133.0,203.0 C153.0,219.2 191.3,250.5 203.0,260.0 M54.0,0.0 C54.2,25.0 55.2,100.0 55.0,150.0 C54.8,200.0 53.0,250.0 53.0,300.0 C53.0,350.0 54.3,400.0 55.0,450.0 C55.7,500.0 56.5,562.5 57.0,600.0 C57.5,637.5 57.8,662.5 58.0,675.0 M57.0,0.0 C57.2,25.0 58.2,100.0 58.0,150.0 C57.8,200.0 56.0,250.0 56.0,300.0 C56.0,350.0 57.3,400.0 58.0,450.0 C58.7,500.0 59.5,562.5 60.0,600.0 C60.5,637.5 60.8,662.5 61.0,675.0 M620.0,560.0 C619.7,566.7 618.0,580.8 618.0,600.0 C618.0,619.2 619.7,662.5 620.0,675.0 M612.0,560.0 C612.2,566.7 612.3,580.8 613.0,600.0 C613.7,619.2 615.5,662.5 616.0,675.0 M420.0,540.0 C428.3,543.3 453.3,551.7 470.0,560.0 C486.7,568.3 502.5,581.7 520.0,590.0 C537.5,598.3 558.3,601.7 575.0,610.0 C591.7,618.3 612.5,635.0 620.0,640.0 M860.0,560.0 C866.7,565.0 886.7,576.7 900.0,590.0 C913.3,603.3 930.0,625.8 940.0,640.0 C950.0,654.2 956.7,669.2 960.0,675.0 M1040.0,520.0 C1040.8,526.7 1042.5,545.0 1045.0,560.0 C1047.5,575.0 1053.3,601.7 1055.0,610.0 M1010.0,610.0 C1015.0,610.3 1023.7,611.2 1040.0,612.0 C1056.3,612.8 1096.7,614.5 1108.0,615.0 M930.0,560.0 C935.0,562.5 950.8,568.3 960.0,575.0 C969.2,581.7 979.7,589.2 985.0,600.0 C990.3,610.8 990.8,633.3 992.0,640.0 M800.0,590.0 C805.0,591.7 818.3,591.7 830.0,600.0 C841.7,608.3 861.7,627.5 870.0,640.0 C878.3,652.5 878.3,669.2 880.0,675.0 M664.0,205.0 C664.0,209.5 663.7,214.6 661.9,218.7 C660.1,222.7 656.9,226.4 653.0,229.4 C649.2,232.5 643.4,235.3 638.6,236.7 C633.8,238.2 629.0,238.9 624.3,238.3 C619.6,237.8 614.7,235.5 610.3,233.3 C605.9,231.0 601.3,228.6 598.1,225.0 C594.9,221.4 592.1,216.1 591.2,211.7 C590.2,207.2 591.1,202.7 592.6,198.3 C594.1,193.9 597.2,188.8 600.2,185.3 C603.2,181.7 606.3,179.2 610.3,176.9 C614.3,174.6 619.4,171.8 624.1,171.4 C628.9,171.1 634.2,173.5 638.9,174.8 C643.6,176.1 648.3,176.5 652.1,179.3 C655.9,182.1 659.9,187.4 661.8,191.7 C663.8,196.0 664.0,200.5 664.0,205.0Z M698.4,205.0 C697.6,213.8 693.3,223.8 689.2,232.0 C685.1,240.2 680.6,248.4 674.0,254.3 C667.5,260.3 658.8,264.8 649.9,267.6 C641.0,270.4 629.9,271.8 620.6,270.9 C611.3,270.0 602.1,267.0 594.1,262.1 C586.1,257.3 578.1,249.3 572.6,241.9 C567.0,234.5 563.4,226.1 560.9,217.7 C558.5,209.4 556.5,200.0 557.8,191.6 C559.1,183.3 562.4,174.6 568.6,167.7 C574.7,160.8 585.9,155.2 594.6,150.3 C603.3,145.4 611.5,139.0 620.6,138.3 C629.6,137.6 639.8,142.7 648.8,146.1 C657.9,149.6 667.2,153.6 674.8,159.1 C682.3,164.6 690.1,171.4 694.0,179.0 C698.0,186.7 699.2,196.2 698.4,205.0Z M748.4,205.0 C747.7,219.9 738.7,237.5 732.7,251.0 C726.7,264.5 723.6,275.6 712.3,285.8 C701.0,296.0 681.2,306.6 665.1,312.0 C648.9,317.4 631.3,320.5 615.4,318.3 C599.4,316.2 583.5,307.0 569.3,299.1 C555.2,291.2 541.1,282.5 530.7,270.7 C520.2,258.9 510.0,243.3 506.8,228.3 C503.7,213.3 507.4,195.4 511.8,181.0 C516.1,166.5 523.9,153.6 533.0,141.7 C542.1,129.9 552.8,116.9 566.6,109.8 C580.5,102.7 599.9,101.0 616.0,99.0 C632.1,96.9 648.5,93.1 663.5,97.3 C678.5,101.6 693.6,113.7 705.9,124.4 C718.1,135.1 729.9,148.3 737.0,161.8 C744.1,175.2 749.1,190.1 748.4,205.0Z" fill="none" stroke="#474852" stroke-width="1.1"/>
<g fill="#1a181b" stroke="#1a181b" opacity="0.6">
<ellipse cx="343" cy="404" rx="128" ry="112" stroke="none"/>
<path d="M328.0,289.3 L324.4,288.0 L320.9,286.6 L317.8,285.1 L314.8,283.5 L312.1,281.9 L309.5,280.1 L307.2,278.3 L305.1,276.4 L303.2,274.4 L301.4,272.4 L299.8,270.3 L298.3,268.1 L297.0,265.9 L295.7,263.7 L294.6,261.4 L293.6,259.1 L292.7,256.7 L291.7,254.4 L290.8,252.0 L290.0,249.6 L289.2,247.2 L288.5,244.8 L288.0,242.2 L287.8,239.6 L288.0,236.8 L288.7,233.9 L289.9,230.7 L291.7,227.3 L294.4,223.6 L297.9,219.5 L248.1,238.5 L253.4,239.2 L257.9,240.2 L261.5,241.5 L264.5,243.1 L267.0,244.8 L269.0,246.8 L270.6,248.9 L271.9,251.1 L273.0,253.4 L274.0,255.7 L275.0,258.1 L275.9,260.4 L276.7,262.8 L277.6,265.2 L278.4,267.6 L279.1,270.0 L279.6,272.5 L280.1,275.1 L280.4,277.6 L280.6,280.3 L280.6,283.0 L280.5,285.7 L280.2,288.6 L279.7,291.5 L278.9,294.5 L278.0,297.5 L276.8,300.7 L275.5,303.9 L273.8,307.2 L272.0,310.7Z" stroke="none"/><ellipse stroke="none" cx="273.0" cy="229.0" rx="29.0" ry="10.0" transform="rotate(-20.8 273.0 229.0)"/>
<path d="M401.0,302.0 L397.9,300.1 L395.1,298.1 L392.5,296.1 L390.2,294.1 L388.1,292.1 L386.3,290.1 L384.6,288.1 L383.2,286.1 L382.0,284.0 L381.0,282.0 L380.1,279.9 L379.5,277.9 L378.9,275.9 L378.5,273.8 L378.2,271.7 L378.0,269.7 L377.9,267.6 L377.8,265.5 L377.7,263.5 L377.7,261.4 L377.7,259.3 L377.8,257.3 L378.2,255.2 L378.7,253.1 L379.6,251.0 L380.9,248.9 L382.7,246.8 L385.0,244.6 L388.1,242.5 L392.0,240.3 L346.0,241.7 L350.0,243.7 L353.2,245.6 L355.7,247.6 L357.6,249.6 L359.1,251.7 L360.1,253.7 L360.8,255.7 L361.2,257.8 L361.5,259.9 L361.6,261.9 L361.7,264.0 L361.8,266.1 L361.9,268.1 L361.9,270.2 L361.8,272.3 L361.6,274.3 L361.4,276.4 L360.9,278.5 L360.4,280.6 L359.7,282.7 L358.8,284.8 L357.7,286.9 L356.4,289.0 L354.9,291.1 L353.2,293.2 L351.3,295.4 L349.1,297.5 L346.7,299.6 L344.0,301.8 L341.0,304.0Z" stroke="none"/><ellipse stroke="none" cx="369.0" cy="241.0" rx="25.0" ry="9.0" transform="rotate(-1.8 369.0 241.0)"/>
<path d="M439.7,321.8 L438.1,318.3 L436.8,315.0 L435.6,311.8 L434.8,308.8 L434.1,305.8 L433.6,302.9 L433.3,300.2 L433.2,297.5 L433.3,294.9 L433.5,292.4 L433.9,290.0 L434.5,287.7 L435.1,285.4 L435.9,283.2 L436.7,281.0 L437.7,278.9 L438.7,276.8 L439.8,274.7 L440.8,272.6 L441.9,270.6 L443.1,268.6 L444.4,266.6 L445.9,264.8 L447.6,263.1 L449.7,261.5 L452.3,260.2 L455.4,259.2 L459.2,258.6 L463.8,258.3 L469.2,258.5 L420.8,233.5 L424.1,237.8 L426.5,241.7 L428.2,245.2 L429.2,248.3 L429.6,251.1 L429.6,253.7 L429.2,256.2 L428.6,258.5 L427.7,260.6 L426.7,262.8 L425.7,264.8 L424.6,266.9 L423.6,269.0 L422.5,271.0 L421.3,273.0 L420.0,275.0 L418.6,276.9 L417.1,278.7 L415.5,280.5 L413.8,282.2 L411.9,283.9 L409.8,285.4 L407.6,286.9 L405.2,288.3 L402.6,289.5 L399.8,290.7 L396.8,291.8 L393.5,292.7 L390.0,293.5 L386.3,294.2Z" stroke="none"/><ellipse stroke="none" cx="445.0" cy="246.0" rx="29.6" ry="9.5" transform="rotate(27.3 445.0 246.0)"/>
<path d="M276.0,294.0 L272.9,295.4 L269.9,296.5 L267.1,297.5 L264.4,298.2 L261.9,298.8 L259.5,299.1 L257.3,299.3 L255.1,299.4 L253.1,299.2 L251.2,299.0 L249.4,298.6 L247.7,298.0 L246.0,297.4 L244.5,296.6 L243.0,295.8 L241.6,294.9 L240.2,293.9 L238.8,292.9 L237.5,291.9 L236.1,290.9 L234.8,289.8 L233.6,288.6 L232.4,287.4 L231.4,285.9 L230.5,284.3 L229.8,282.4 L229.3,280.2 L229.2,277.6 L229.4,274.5 L230.0,271.0 L205.0,304.0 L208.3,302.5 L211.2,301.5 L213.8,300.9 L216.0,300.7 L218.0,300.9 L219.8,301.3 L221.5,301.9 L223.0,302.6 L224.5,303.5 L225.9,304.5 L227.2,305.5 L228.6,306.5 L229.9,307.5 L231.2,308.6 L232.5,309.7 L233.7,310.9 L234.9,312.2 L235.9,313.6 L236.9,315.1 L237.8,316.7 L238.6,318.5 L239.3,320.4 L239.8,322.4 L240.3,324.7 L240.6,327.1 L240.8,329.7 L240.8,332.4 L240.7,335.4 L240.4,338.6 L240.0,342.0Z" stroke="none"/><ellipse stroke="none" cx="217.5" cy="287.5" rx="22.5" ry="9.0" transform="rotate(-53.0 217.5 287.5)"/>
<path d="M250.2,394.8 L245.4,394.3 L240.8,393.5 L236.4,392.6 L232.3,391.5 L228.3,390.3 L224.5,388.9 L220.9,387.3 L217.4,385.6 L214.1,383.7 L210.9,381.7 L207.9,379.6 L204.9,377.4 L202.1,375.1 L199.4,372.6 L196.8,370.1 L194.3,367.6 L191.8,364.9 L189.4,362.3 L186.9,359.6 L184.5,356.9 L182.1,354.2 L179.8,351.5 L177.5,348.7 L175.3,345.8 L173.3,342.8 L171.4,339.6 L169.7,336.3 L168.2,332.7 L167.1,328.9 L166.2,324.8 L143.8,345.2 L147.8,346.5 L151.5,348.0 L154.9,349.7 L158.1,351.7 L161.1,353.9 L163.9,356.2 L166.6,358.6 L169.2,361.2 L171.7,363.8 L174.2,366.4 L176.6,369.1 L179.0,371.7 L181.5,374.4 L183.8,377.1 L186.2,379.9 L188.4,382.7 L190.6,385.6 L192.7,388.6 L194.6,391.7 L196.4,394.9 L198.1,398.3 L199.7,401.7 L201.1,405.4 L202.3,409.1 L203.4,413.0 L204.3,417.1 L205.0,421.4 L205.5,425.8 L205.8,430.4 L205.8,435.2Z" stroke="none"/><ellipse stroke="none" cx="155.0" cy="335.0" rx="16.5" ry="7.0" transform="rotate(-42.4 155.0 335.0)"/>
<path d="M213.1,497.0 L215.5,499.4 L217.6,501.7 L219.5,504.1 L221.1,506.3 L222.6,508.6 L223.9,510.9 L225.0,513.1 L225.9,515.3 L226.6,517.5 L227.2,519.7 L227.7,521.9 L228.0,524.1 L228.2,526.2 L228.2,528.4 L228.2,530.5 L228.1,532.6 L228.0,534.7 L227.8,536.8 L227.6,539.0 L227.3,541.1 L227.1,543.2 L226.7,545.3 L226.3,547.3 L225.7,549.4 L224.8,551.5 L223.8,553.5 L222.4,555.5 L220.6,557.4 L218.4,559.3 L215.6,561.2 L257.8,565.4 L255.4,563.0 L253.6,560.7 L252.3,558.5 L251.3,556.2 L250.7,554.0 L250.3,551.9 L250.1,549.7 L250.0,547.6 L250.1,545.5 L250.3,543.3 L250.5,541.2 L250.7,539.1 L250.9,537.0 L251.1,534.9 L251.5,532.8 L251.9,530.7 L252.4,528.6 L253.0,526.6 L253.7,524.5 L254.6,522.5 L255.6,520.4 L256.8,518.4 L258.1,516.4 L259.6,514.4 L261.3,512.5 L263.2,510.5 L265.3,508.6 L267.6,506.7 L270.1,504.8 L272.9,503.0Z" stroke="none"/><ellipse stroke="none" cx="236.7" cy="563.3" rx="23.0" ry="9.0" transform="rotate(-174.3 236.7 563.3)"/>
<path d="M296.1,502.5 L298.8,506.5 L301.1,510.5 L303.3,514.5 L305.1,518.5 L306.8,522.4 L308.2,526.3 L309.4,530.2 L310.4,534.1 L311.2,537.9 L311.8,541.8 L312.3,545.6 L312.6,549.4 L312.7,553.2 L312.8,557.0 L312.7,560.8 L312.5,564.6 L312.2,568.3 L311.9,572.1 L311.6,575.9 L311.3,579.6 L310.9,583.4 L310.3,587.1 L309.6,590.9 L308.5,594.6 L307.0,598.2 L305.1,601.9 L302.5,605.5 L299.3,609.0 L295.2,612.4 L290.1,615.8 L343.3,620.2 L338.8,616.0 L335.4,612.0 L332.7,607.9 L330.8,604.0 L329.5,600.1 L328.6,596.2 L328.2,592.4 L328.0,588.6 L328.1,584.8 L328.3,581.0 L328.6,577.3 L328.9,573.5 L329.2,569.7 L329.6,566.0 L330.0,562.2 L330.6,558.5 L331.2,554.7 L332.0,551.0 L332.9,547.3 L334.0,543.6 L335.2,539.9 L336.6,536.2 L338.3,532.6 L340.1,528.9 L342.1,525.3 L344.4,521.7 L346.9,518.1 L349.6,514.5 L352.6,511.0 L355.9,507.5Z" stroke="none"/><ellipse stroke="none" cx="316.7" cy="618.0" rx="29.0" ry="9.0" transform="rotate(-175.3 316.7 618.0)"/>
<path d="M342.5,510.4 L345.8,512.8 L348.9,515.3 L351.7,517.8 L354.3,520.3 L356.7,522.9 L358.8,525.6 L360.8,528.3 L362.5,531.0 L364.1,533.7 L365.5,536.5 L366.8,539.3 L367.9,542.1 L368.9,545.0 L369.7,547.8 L370.5,550.7 L371.1,553.6 L371.7,556.6 L372.3,559.5 L372.8,562.4 L373.3,565.4 L373.8,568.3 L374.1,571.3 L374.3,574.3 L374.3,577.3 L374.0,580.4 L373.4,583.5 L372.4,586.8 L370.8,590.1 L368.7,593.5 L365.8,597.0 L410.2,589.0 L406.3,586.6 L403.1,584.2 L400.4,581.6 L398.3,579.0 L396.6,576.3 L395.3,573.5 L394.2,570.7 L393.4,567.8 L392.6,564.9 L392.0,562.0 L391.5,559.0 L390.9,556.1 L390.4,553.2 L389.9,550.2 L389.5,547.3 L389.2,544.3 L389.0,541.3 L388.9,538.3 L388.9,535.3 L389.1,532.2 L389.5,529.1 L390.0,526.0 L390.7,522.8 L391.6,519.6 L392.7,516.4 L394.0,513.1 L395.5,509.8 L397.3,506.5 L399.3,503.1 L401.5,499.6Z" stroke="none"/><ellipse stroke="none" cx="388.0" cy="593.0" rx="24.5" ry="9.0" transform="rotate(169.7 388.0 593.0)"/>
<path d="M412.9,502.9 L416.6,504.3 L420.0,505.8 L423.2,507.4 L426.3,509.1 L429.1,510.9 L431.7,512.8 L434.2,514.8 L436.5,516.8 L438.6,518.9 L440.6,521.1 L442.5,523.4 L444.2,525.7 L445.8,528.1 L447.3,530.5 L448.7,533.0 L450.0,535.5 L451.3,538.0 L452.5,540.6 L453.8,543.1 L455.0,545.7 L456.1,548.3 L457.2,550.9 L458.0,553.6 L458.7,556.5 L459.1,559.4 L459.1,562.6 L458.7,565.9 L457.7,569.5 L456.2,573.4 L453.9,577.6 L499.5,555.8 L494.8,554.9 L490.8,553.7 L487.4,552.2 L484.5,550.4 L482.1,548.4 L480.0,546.3 L478.2,544.0 L476.7,541.6 L475.3,539.1 L474.0,536.6 L472.7,534.0 L471.5,531.5 L470.3,528.9 L469.1,526.3 L468.0,523.7 L467.0,521.1 L466.0,518.4 L465.2,515.7 L464.4,512.9 L463.8,510.0 L463.4,507.1 L463.1,504.1 L462.9,501.0 L462.9,497.9 L463.1,494.6 L463.5,491.3 L464.1,487.9 L464.9,484.4 L465.9,480.8 L467.1,477.1Z" stroke="none"/><ellipse stroke="none" cx="476.7" cy="566.7" rx="27.5" ry="9.0" transform="rotate(154.4 476.7 566.7)"/>
<path d="M454.1,443.7 L456.9,440.7 L459.7,437.9 L462.6,435.3 L465.5,433.0 L468.4,430.8 L471.4,428.9 L474.4,427.1 L477.4,425.5 L480.4,424.1 L483.5,422.9 L486.5,421.7 L489.6,420.8 L492.8,419.9 L495.9,419.2 L499.0,418.6 L502.2,418.0 L505.3,417.5 L508.5,417.1 L511.7,416.7 L514.8,416.2 L518.0,415.8 L521.2,415.5 L524.4,415.1 L527.5,414.9 L530.7,414.7 L534.0,414.6 L537.2,414.7 L540.5,415.0 L543.7,415.4 L547.1,416.0 L542.9,386.0 L539.9,387.5 L536.9,388.8 L533.8,389.9 L530.7,390.8 L527.6,391.6 L524.5,392.3 L521.3,392.9 L518.2,393.5 L515.0,394.0 L511.8,394.4 L508.7,394.9 L505.5,395.3 L502.3,395.7 L499.2,396.1 L496.0,396.4 L492.8,396.7 L489.6,396.8 L486.4,396.8 L483.1,396.7 L479.9,396.5 L476.6,396.1 L473.3,395.6 L470.0,394.8 L466.6,393.9 L463.2,392.9 L459.8,391.6 L456.4,390.1 L452.9,388.4 L449.5,386.4 L445.9,384.3Z" stroke="none"/><ellipse stroke="none" cx="545.0" cy="401.0" rx="16.5" ry="7.0" transform="rotate(82.2 545.0 401.0)"/>
<path d="M153,509 Q157,536 181,545" fill="none" stroke-width="8" stroke-linecap="round"/>
<path d="M235,465 Q200,490 165,520" fill="none" stroke-width="14" stroke-linecap="round"/>
</g>
<g fill="#2f303a" opacity="0.55"><ellipse cx="272.6" cy="227.9" rx="20.9" ry="5.5" transform="rotate(-20.8 272.6 227.9)"/><ellipse cx="369.0" cy="239.8" rx="18.0" ry="5.0" transform="rotate(-1.8 369.0 239.8)"/><ellipse cx="445.6" cy="244.9" rx="21.3" ry="5.2" transform="rotate(27.3 445.6 244.9)"/><ellipse cx="216.5" cy="286.8" rx="16.2" ry="5.0" transform="rotate(-53.0 216.5 286.8)"/><ellipse cx="154.2" cy="334.1" rx="11.9" ry="3.9" transform="rotate(-42.4 154.2 334.1)"/><ellipse cx="236.6" cy="564.5" rx="16.6" ry="5.0" transform="rotate(-174.3 236.6 564.5)"/><ellipse cx="316.6" cy="619.2" rx="20.9" ry="5.0" transform="rotate(-175.3 316.6 619.2)"/><ellipse cx="388.2" cy="594.2" rx="17.6" ry="5.0" transform="rotate(169.7 388.2 594.2)"/><ellipse cx="477.2" cy="567.8" rx="19.8" ry="5.0" transform="rotate(154.4 477.2 567.8)"/><ellipse cx="546.2" cy="400.8" rx="11.9" ry="3.9" transform="rotate(82.2 546.2 400.8)"/></g>
<g fill="#3b3c43"><ellipse cx="340" cy="312" rx="19" ry="10" transform="rotate(-8 340 312)"/><ellipse cx="335" cy="371" rx="11" ry="18" transform="rotate(0 335 371)"/><ellipse cx="382" cy="397" rx="12" ry="20" transform="rotate(0 382 397)"/><ellipse cx="428" cy="327" rx="13" ry="9" transform="rotate(10 428 327)"/><ellipse cx="295" cy="434" rx="12" ry="18" transform="rotate(0 295 434)"/><ellipse cx="258" cy="357" rx="8" ry="10" transform="rotate(0 258 357)"/><ellipse cx="438" cy="406" rx="10" ry="14" transform="rotate(0 438 406)"/><ellipse cx="361" cy="455" rx="12" ry="19" transform="rotate(0 361 455)"/><ellipse cx="259" cy="486" rx="9" ry="14" transform="rotate(0 259 486)"/><ellipse cx="400" cy="487" rx="10" ry="12" transform="rotate(0 400 487)"/><ellipse cx="435" cy="440" rx="9" ry="12" transform="rotate(0 435 440)"/><ellipse cx="407" cy="335" rx="10" ry="8" transform="rotate(0 407 335)"/><ellipse cx="340" cy="516" rx="20" ry="11" transform="rotate(0 340 516)"/></g>
</svg>
<svg id="chart" viewBox="0 0 1200 675">
<line x1="79.96" x2="1149.16" y1="428.5" y2="428.5" stroke="#85858c" stroke-width="1" stroke-dasharray="4,3"/>
<line x1="79.96" x2="1149.16" y1="348.5" y2="348.5" stroke="#85858c" stroke-width="1" stroke-dasharray="4,3"/>
<line x1="79.96" x2="1149.16" y1="268.5" y2="268.5" stroke="#85858c" stroke-width="1" stroke-dasharray="4,3"/>
<line x1="79.96" x2="1149.16" y1="188.5" y2="188.5" stroke="#85858c" stroke-width="1" stroke-dasharray="4,3"/>
<rect x="86" y="378" width="23" height="130.5" fill="#ff8a05"/>
<rect x="122" y="374" width="23" height="134.5" fill="#ff8a05"/>
<rect x="158" y="407" width="23" height="101.5" fill="#ff8a05"/>
<rect x="193" y="389" width="23" height="119.5" fill="#ff8a05"/>
<rect x="229" y="349" width="23" height="159.5" fill="#ff8a05"/>
<rect x="264" y="349" width="23" height="159.5" fill="#ff8a05"/>
<rect x="300" y="348" width="23" height="160.5" fill="#ff8a05"/>
<rect x="336" y="337" width="23" height="171.5" fill="#ff8a05"/>
<rect x="371" y="333" width="23" height="175.5" fill="#ff8a05"/>
<rect x="407" y="356" width="23" height="152.5" fill="#ff8a05"/>
<rect x="443" y="365" width="23" height="143.5" fill="#ff8a05"/>
<rect x="478" y="293" width="23" height="215.5" fill="#ff8a05"/>
<rect x="514" y="325" width="23" height="183.5" fill="#ff8a05"/>
<rect x="550" y="269" width="23" height="239.5" fill="#ff8a05"/>
<rect x="585" y="325" width="23" height="183.5" fill="#ff8a05"/>
<rect x="621" y="309" width="23" height="199.5" fill="#ff8a05"/>
<rect x="657" y="321" width="23" height="187.5" fill="#ff8a05"/>
<rect x="692" y="333" width="23" height="175.5" fill="#ff8a05"/>
<rect x="728" y="240" width="23" height="268.5" fill="#ff8a05"/>
<rect x="763" y="244" width="23" height="264.5" fill="#ff8a05"/>
<rect x="799" y="247" width="23" height="261.5" fill="#ff8a05"/>
<rect x="835" y="239" width="23" height="269.5" fill="#ff8a05"/>
<rect x="870" y="236" width="23" height="272.5" fill="#ff8a05"/>
<rect x="906" y="281" width="23" height="227.5" fill="#ff8a05"/>
<rect x="942" y="275" width="23" height="233.5" fill="#ff8a05"/>
<rect x="977" y="193" width="23" height="315.5" fill="#ff8a05"/>
<rect x="1013" y="182" width="23" height="326.5" fill="#ff8a05"/>
<rect x="1049" y="197" width="23" height="311.5" fill="#ff8a05"/>
<rect x="1084" y="298" width="23" height="210.5" fill="#ff8a05"/>
<rect x="1120" y="198" width="23" height="310.5" fill="#ff8a05"/>
<line x1="79.6" x2="79.6" y1="165" y2="509" stroke="#fff" stroke-width="1.2"/>
<line x1="79" x2="1149.16" y1="508.5" y2="508.5" stroke="#fff" stroke-width="1.2"/>
<text x="65" y="513.2" text-anchor="end" class="lb">0</text>
<text x="65" y="433.2" text-anchor="end" class="lb">2k</text>
<text x="65" y="353.2" text-anchor="end" class="lb">4k</text>
<text x="65" y="273.2" text-anchor="end" class="lb">6k</text>
<text x="65" y="193.2" text-anchor="end" class="lb">8k</text>
<text x="97.8" y="371" text-anchor="middle" class="lb">3275</text>
<text x="101.0" y="524.5" text-anchor="end" class="lb" transform="rotate(-45 101.0 524.5)">26.09</text>
<text x="133.4" y="367" text-anchor="middle" class="lb">3387</text>
<text x="136.6" y="524.5" text-anchor="end" class="lb" transform="rotate(-45 136.6 524.5)">27.09</text>
<text x="169.1" y="400" text-anchor="middle" class="lb">2541</text>
<text x="172.3" y="524.5" text-anchor="end" class="lb" transform="rotate(-45 172.3 524.5)">28.09</text>
<text x="204.7" y="382" text-anchor="middle" class="lb">3004</text>
<text x="207.9" y="524.5" text-anchor="end" class="lb" transform="rotate(-45 207.9 524.5)">29.09</text>
<text x="240.3" y="342" text-anchor="middle" class="lb">3998</text>
<text x="243.5" y="524.5" text-anchor="end" class="lb" transform="rotate(-45 243.5 524.5)">30.09</text>
<text x="276.0" y="342" text-anchor="middle" class="lb">3993</text>
<text x="279.2" y="524.5" text-anchor="end" class="lb" transform="rotate(-45 279.2 524.5)">01.10</text>
<text x="311.6" y="341" text-anchor="middle" class="lb">4032</text>
<text x="314.8" y="524.5" text-anchor="end" class="lb" transform="rotate(-45 314.8 524.5)">02.10</text>
<text x="347.3" y="330" text-anchor="middle" class="lb">4294</text>
<text x="350.5" y="524.5" text-anchor="end" class="lb" transform="rotate(-45 350.5 524.5)">03.10</text>
<text x="382.9" y="326" text-anchor="middle" class="lb">4410</text>
<text x="386.1" y="524.5" text-anchor="end" class="lb" transform="rotate(-45 386.1 524.5)">04.10</text>
<text x="418.5" y="349" text-anchor="middle" class="lb">3827</text>
<text x="421.7" y="524.5" text-anchor="end" class="lb" transform="rotate(-45 421.7 524.5)">05.10</text>
<text x="454.2" y="358" text-anchor="middle" class="lb">3589</text>
<text x="457.4" y="524.5" text-anchor="end" class="lb" transform="rotate(-45 457.4 524.5)">06.10</text>
<text x="489.8" y="286" text-anchor="middle" class="lb">5404</text>
<text x="493.0" y="524.5" text-anchor="end" class="lb" transform="rotate(-45 493.0 524.5)">07.10</text>
<text x="525.5" y="318" text-anchor="middle" class="lb">4595</text>
<text x="528.7" y="524.5" text-anchor="end" class="lb" transform="rotate(-45 528.7 524.5)">08.10</text>
<text x="561.1" y="262" text-anchor="middle" class="lb">6001</text>
<text x="564.3" y="524.5" text-anchor="end" class="lb" transform="rotate(-45 564.3 524.5)">09.10</text>
<text x="596.7" y="318" text-anchor="middle" class="lb">4610</text>
<text x="599.9" y="524.5" text-anchor="end" class="lb" transform="rotate(-45 599.9 524.5)">10.10</text>
<text x="632.4" y="302" text-anchor="middle" class="lb">5002</text>
<text x="635.6" y="524.5" text-anchor="end" class="lb" transform="rotate(-45 635.6 524.5)">11.10</text>
<text x="668.0" y="314" text-anchor="middle" class="lb">4699</text>
<text x="671.2" y="524.5" text-anchor="end" class="lb" transform="rotate(-45 671.2 524.5)">12.10</text>
<text x="703.7" y="326" text-anchor="middle" class="lb">4410</text>
<text x="706.9" y="524.5" text-anchor="end" class="lb" transform="rotate(-45 706.9 524.5)">13.10</text>
<text x="739.3" y="233" text-anchor="middle" class="lb">6712</text>
<text x="742.5" y="524.5" text-anchor="end" class="lb" transform="rotate(-45 742.5 524.5)">14.10</text>
<text x="774.9" y="237" text-anchor="middle" class="lb">6631</text>
<text x="778.1" y="524.5" text-anchor="end" class="lb" transform="rotate(-45 778.1 524.5)">15.10</text>
<text x="810.6" y="240" text-anchor="middle" class="lb">6545</text>
<text x="813.8" y="524.5" text-anchor="end" class="lb" transform="rotate(-45 813.8 524.5)">16.10</text>
<text x="846.2" y="232" text-anchor="middle" class="lb">6740</text>
<text x="849.4" y="524.5" text-anchor="end" class="lb" transform="rotate(-45 849.4 524.5)">17.10</text>
<text x="881.9" y="229" text-anchor="middle" class="lb">6823</text>
<text x="885.1" y="524.5" text-anchor="end" class="lb" transform="rotate(-45 885.1 524.5)">18.10</text>
<text x="917.5" y="274" text-anchor="middle" class="lb">5700</text>
<text x="920.7" y="524.5" text-anchor="end" class="lb" transform="rotate(-45 920.7 524.5)">19.10</text>
<text x="953.1" y="268" text-anchor="middle" class="lb">5847</text>
<text x="956.3" y="524.5" text-anchor="end" class="lb" transform="rotate(-45 956.3 524.5)">20.10</text>
<text x="988.8" y="186" text-anchor="middle" class="lb">7897</text>
<text x="992.0" y="524.5" text-anchor="end" class="lb" transform="rotate(-45 992.0 524.5)">21.10</text>
<text x="1024.4" y="175" text-anchor="middle" class="lb">8166</text>
<text x="1027.6" y="524.5" text-anchor="end" class="lb" transform="rotate(-45 1027.6 524.5)">22.10</text>
<text x="1060.1" y="190" text-anchor="middle" class="lb">7803</text>
<text x="1063.3" y="524.5" text-anchor="end" class="lb" transform="rotate(-45 1063.3 524.5)">23.10</text>
<text x="1095.7" y="291" text-anchor="middle" class="lb">5279</text>
<text x="1098.9" y="524.5" text-anchor="end" class="lb" transform="rotate(-45 1098.9 524.5)">24.10</text>
<text x="1131.3" y="191" text-anchor="middle" class="lb">7778</text>
<text x="1134.5" y="524.5" text-anchor="end" class="lb" transform="rotate(-45 1134.5 524.5)">25.10</text>
</svg>
<h1><span style="left:49.8px;top:0px;letter-spacing:0.75px;">Динамика</span> <span style="left:253px;top:0px;letter-spacing:0.68px;">числа</span> <span style="left:374.8px;top:0px;letter-spacing:0.14px;">ежедневных</span> <span style="left:628.2px;top:0px;letter-spacing:0.19px;">заражений</span> <span style="left:847.2px;top:0px;letter-spacing:0.72px;">коронавирусом</span>
<span style="left:50.35px;top:41px;transform:scaleX(1.0765);">в</span> <span style="left:86.3px;top:41px;letter-spacing:0.93px;">Москве</span> <span style="left:237.77px;top:41px;transform:scaleX(1.1141);">по</span> <span style="left:296.5px;top:41px;letter-spacing:-0.47px;">состоянию</span> <span style="left:505.5px;top:41px;letter-spacing:0.69px;">на</span> <span class="o" style="left:559.84px;top:41px;transform:scaleX(0.9281);">25</span> <span class="o" style="left:613.2px;top:41px;letter-spacing:0.54px;">октября</span> <span class="o" style="left:775.79px;top:41px;transform:scaleX(0.8543);">2021</span> <span class="o" style="left:864.7px;top:41px;letter-spacing:-1.15px;">года</span></h1>
<div style="position:absolute;right:0;top:0;width:3px;height:675px;background:#46474d"></div>
<div class="logo">профиль</div>
<div class="site">PROFILE.RU</div>
<div class="src"><span style="left:650.3px;top:0px;letter-spacing:1.17px;">Источник:</span> <span class="i" style="left:730.8px;top:0px;letter-spacing:-0.49px;">Министерство</span> <span class="i" style="left:842.7px;top:0px;letter-spacing:0.51px;">здравоохранения</span> <span class="i" style="left:975.8px;top:0px;letter-spacing:0.55px;">Российской</span> <span class="i" style="left:1067.5px;top:0px;letter-spacing:0.3px;">Федерации</span></div>
</body></html>
